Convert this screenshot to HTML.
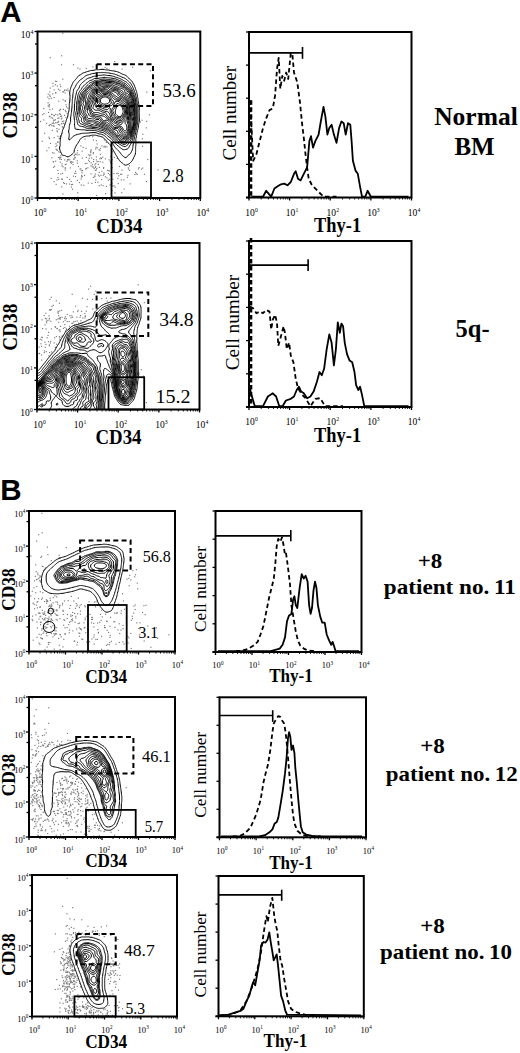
<!DOCTYPE html>
<html><head><meta charset="utf-8"><style>
html,body{margin:0;padding:0;background:#fff;}
body{width:520px;height:1053px;overflow:hidden;}
svg{display:block;}
</style></head><body>
<svg width="520" height="1053" viewBox="0 0 520 1053">
<text x="0.3" y="22.3" font-size="29.5" font-family="Liberation Sans" font-weight="bold" text-anchor="start" fill="#000">A</text>
<text x="0.3" y="500.0" font-size="29.5" font-family="Liberation Sans" font-weight="bold" text-anchor="start" fill="#000">B</text>
<g fill="#777"><rect x="94.7" y="173.4" width="1.15" height="1.15"/><rect x="120.1" y="173.7" width="1.15" height="1.15"/><rect x="67.1" y="159.2" width="1.15" height="1.15"/><rect x="51.7" y="129.8" width="1.15" height="1.15"/><rect x="49.7" y="87.5" width="1.15" height="1.15"/><rect x="85.5" y="147.7" width="1.15" height="1.15"/><rect x="58.2" y="151.2" width="1.15" height="1.15"/><rect x="54.8" y="84.2" width="1.15" height="1.15"/><rect x="52.4" y="85.6" width="1.15" height="1.15"/><rect x="58.4" y="196.6" width="1.15" height="1.15"/><rect x="62.4" y="166.2" width="1.15" height="1.15"/><rect x="57.8" y="120.8" width="1.15" height="1.15"/><rect x="75.2" y="153.7" width="1.15" height="1.15"/><rect x="123.6" y="188.5" width="1.15" height="1.15"/><rect x="123.3" y="179.3" width="1.15" height="1.15"/><rect x="74.9" y="176.1" width="1.15" height="1.15"/><rect x="98.5" y="149.2" width="1.15" height="1.15"/><rect x="100.3" y="157.2" width="1.15" height="1.15"/><rect x="87.3" y="167.3" width="1.15" height="1.15"/><rect x="64.3" y="89.3" width="1.15" height="1.15"/><rect x="88.9" y="161.1" width="1.15" height="1.15"/><rect x="61.7" y="126.2" width="1.15" height="1.15"/><rect x="61.8" y="178.7" width="1.15" height="1.15"/><rect x="67.4" y="90.3" width="1.15" height="1.15"/><rect x="103.1" y="167.1" width="1.15" height="1.15"/><rect x="106.4" y="177.3" width="1.15" height="1.15"/><rect x="53.2" y="119.6" width="1.15" height="1.15"/><rect x="95.2" y="179.3" width="1.15" height="1.15"/><rect x="50.6" y="177.7" width="1.15" height="1.15"/><rect x="85.7" y="67.8" width="1.15" height="1.15"/><rect x="85.2" y="168.5" width="1.15" height="1.15"/><rect x="49.6" y="57.1" width="1.15" height="1.15"/><rect x="116.6" y="157.9" width="1.15" height="1.15"/><rect x="92.6" y="153.2" width="1.15" height="1.15"/><rect x="49.4" y="115.7" width="1.15" height="1.15"/><rect x="58.8" y="138.2" width="1.15" height="1.15"/><rect x="103.6" y="173.7" width="1.15" height="1.15"/><rect x="59.6" y="136.0" width="1.15" height="1.15"/><rect x="43.2" y="108.1" width="1.15" height="1.15"/><rect x="93.5" y="168.0" width="1.15" height="1.15"/><rect x="90.0" y="154.4" width="1.15" height="1.15"/><rect x="117.6" y="172.9" width="1.15" height="1.15"/><rect x="63.1" y="120.5" width="1.15" height="1.15"/><rect x="53.6" y="137.1" width="1.15" height="1.15"/><rect x="135.7" y="173.2" width="1.15" height="1.15"/><rect x="73.7" y="158.4" width="1.15" height="1.15"/><rect x="68.1" y="158.7" width="1.15" height="1.15"/><rect x="40.0" y="120.8" width="1.15" height="1.15"/><rect x="132.1" y="66.7" width="1.15" height="1.15"/><rect x="91.4" y="182.8" width="1.15" height="1.15"/><rect x="47.2" y="96.5" width="1.15" height="1.15"/><rect x="81.7" y="175.8" width="1.15" height="1.15"/><rect x="55.3" y="146.0" width="1.15" height="1.15"/><rect x="102.5" y="185.0" width="1.15" height="1.15"/><rect x="76.9" y="149.9" width="1.15" height="1.15"/><rect x="69.0" y="183.5" width="1.15" height="1.15"/><rect x="93.0" y="161.1" width="1.15" height="1.15"/><rect x="52.8" y="121.6" width="1.15" height="1.15"/><rect x="109.0" y="170.3" width="1.15" height="1.15"/><rect x="69.8" y="167.3" width="1.15" height="1.15"/><rect x="64.5" y="167.5" width="1.15" height="1.15"/><rect x="110.2" y="155.6" width="1.15" height="1.15"/><rect x="60.7" y="118.4" width="1.15" height="1.15"/><rect x="54.0" y="165.6" width="1.15" height="1.15"/><rect x="64.8" y="100.7" width="1.15" height="1.15"/><rect x="127.8" y="167.3" width="1.15" height="1.15"/><rect x="90.4" y="165.2" width="1.15" height="1.15"/><rect x="95.5" y="146.7" width="1.15" height="1.15"/><rect x="113.3" y="173.0" width="1.15" height="1.15"/><rect x="57.2" y="114.4" width="1.15" height="1.15"/><rect x="56.3" y="149.1" width="1.15" height="1.15"/><rect x="107.8" y="172.9" width="1.15" height="1.15"/><rect x="100.0" y="147.7" width="1.15" height="1.15"/><rect x="137.9" y="168.3" width="1.15" height="1.15"/><rect x="72.5" y="163.9" width="1.15" height="1.15"/><rect x="72.0" y="183.8" width="1.15" height="1.15"/><rect x="105.0" y="193.1" width="1.15" height="1.15"/><rect x="157.4" y="169.3" width="1.15" height="1.15"/><rect x="143.9" y="173.7" width="1.15" height="1.15"/><rect x="51.9" y="108.4" width="1.15" height="1.15"/><rect x="128.1" y="168.5" width="1.15" height="1.15"/><rect x="104.8" y="176.2" width="1.15" height="1.15"/><rect x="99.4" y="149.9" width="1.15" height="1.15"/><rect x="71.1" y="161.2" width="1.15" height="1.15"/><rect x="51.3" y="157.2" width="1.15" height="1.15"/><rect x="105.9" y="185.8" width="1.15" height="1.15"/><rect x="48.4" y="136.7" width="1.15" height="1.15"/><rect x="110.9" y="149.8" width="1.15" height="1.15"/><rect x="61.1" y="55.2" width="1.15" height="1.15"/><rect x="92.9" y="152.0" width="1.15" height="1.15"/><rect x="61.4" y="165.3" width="1.15" height="1.15"/><rect x="117.7" y="183.0" width="1.15" height="1.15"/><rect x="94.8" y="181.8" width="1.15" height="1.15"/><rect x="84.5" y="138.5" width="1.15" height="1.15"/><rect x="121.2" y="192.1" width="1.15" height="1.15"/><rect x="60.0" y="113.8" width="1.15" height="1.15"/><rect x="102.8" y="174.7" width="1.15" height="1.15"/><rect x="59.5" y="109.2" width="1.15" height="1.15"/><rect x="90.4" y="150.3" width="1.15" height="1.15"/><rect x="47.7" y="93.7" width="1.15" height="1.15"/><rect x="57.3" y="176.9" width="1.15" height="1.15"/><rect x="81.1" y="174.9" width="1.15" height="1.15"/><rect x="48.7" y="106.3" width="1.15" height="1.15"/><rect x="88.0" y="159.7" width="1.15" height="1.15"/><rect x="48.8" y="124.6" width="1.15" height="1.15"/><rect x="91.1" y="157.4" width="1.15" height="1.15"/><rect x="70.3" y="161.2" width="1.15" height="1.15"/><rect x="58.2" y="100.6" width="1.15" height="1.15"/><rect x="126.9" y="176.7" width="1.15" height="1.15"/><rect x="56.3" y="128.0" width="1.15" height="1.15"/><rect x="76.4" y="154.3" width="1.15" height="1.15"/><rect x="57.9" y="88.7" width="1.15" height="1.15"/><rect x="114.1" y="61.0" width="1.15" height="1.15"/><rect x="63.9" y="114.8" width="1.15" height="1.15"/><rect x="57.5" y="141.6" width="1.15" height="1.15"/><rect x="87.7" y="182.5" width="1.15" height="1.15"/><rect x="101.1" y="179.0" width="1.15" height="1.15"/><rect x="60.2" y="157.2" width="1.15" height="1.15"/><rect x="89.0" y="155.2" width="1.15" height="1.15"/><rect x="92.8" y="166.4" width="1.15" height="1.15"/><rect x="66.6" y="176.8" width="1.15" height="1.15"/><rect x="95.8" y="140.2" width="1.15" height="1.15"/><rect x="75.3" y="172.9" width="1.15" height="1.15"/><rect x="56.7" y="149.9" width="1.15" height="1.15"/><rect x="84.7" y="163.0" width="1.15" height="1.15"/><rect x="82.0" y="170.0" width="1.15" height="1.15"/><rect x="99.3" y="158.2" width="1.15" height="1.15"/><rect x="111.4" y="167.3" width="1.15" height="1.15"/><rect x="85.8" y="167.8" width="1.15" height="1.15"/><rect x="104.8" y="63.6" width="1.15" height="1.15"/><rect x="54.8" y="80.7" width="1.15" height="1.15"/><rect x="50.6" y="117.3" width="1.15" height="1.15"/><rect x="48.8" y="116.1" width="1.15" height="1.15"/><rect x="56.8" y="85.5" width="1.15" height="1.15"/><rect x="52.0" y="117.7" width="1.15" height="1.15"/><rect x="61.5" y="163.3" width="1.15" height="1.15"/><rect x="58.0" y="178.8" width="1.15" height="1.15"/><rect x="55.4" y="143.2" width="1.15" height="1.15"/><rect x="104.4" y="145.7" width="1.15" height="1.15"/><rect x="112.1" y="151.3" width="1.15" height="1.15"/><rect x="111.5" y="167.0" width="1.15" height="1.15"/><rect x="81.5" y="172.3" width="1.15" height="1.15"/><rect x="70.9" y="184.1" width="1.15" height="1.15"/><rect x="82.6" y="146.9" width="1.15" height="1.15"/><rect x="79.5" y="168.5" width="1.15" height="1.15"/><rect x="57.0" y="141.5" width="1.15" height="1.15"/><rect x="109.2" y="174.2" width="1.15" height="1.15"/><rect x="53.6" y="119.7" width="1.15" height="1.15"/><rect x="117.3" y="177.8" width="1.15" height="1.15"/><rect x="59.1" y="158.5" width="1.15" height="1.15"/><rect x="64.7" y="169.5" width="1.15" height="1.15"/><rect x="76.7" y="160.2" width="1.15" height="1.15"/><rect x="57.3" y="135.7" width="1.15" height="1.15"/><rect x="110.9" y="157.3" width="1.15" height="1.15"/><rect x="60.1" y="86.1" width="1.15" height="1.15"/><rect x="52.4" y="82.8" width="1.15" height="1.15"/><rect x="108.5" y="159.3" width="1.15" height="1.15"/><rect x="102.2" y="156.5" width="1.15" height="1.15"/><rect x="118.3" y="175.2" width="1.15" height="1.15"/><rect x="79.4" y="68.5" width="1.15" height="1.15"/><rect x="97.6" y="160.9" width="1.15" height="1.15"/><rect x="81.8" y="157.5" width="1.15" height="1.15"/><rect x="111.1" y="163.2" width="1.15" height="1.15"/><rect x="95.8" y="169.4" width="1.15" height="1.15"/><rect x="69.1" y="159.3" width="1.15" height="1.15"/><rect x="72.2" y="161.7" width="1.15" height="1.15"/><rect x="91.9" y="164.2" width="1.15" height="1.15"/><rect x="63.2" y="122.6" width="1.15" height="1.15"/><rect x="66.3" y="160.8" width="1.15" height="1.15"/><rect x="53.0" y="166.8" width="1.15" height="1.15"/><rect x="59.8" y="113.9" width="1.15" height="1.15"/><rect x="114.4" y="192.3" width="1.15" height="1.15"/><rect x="75.0" y="170.7" width="1.15" height="1.15"/><rect x="113.5" y="185.3" width="1.15" height="1.15"/><rect x="56.8" y="131.2" width="1.15" height="1.15"/><rect x="99.9" y="153.7" width="1.15" height="1.15"/><rect x="52.7" y="125.3" width="1.15" height="1.15"/><rect x="59.6" y="84.2" width="1.15" height="1.15"/><rect x="77.3" y="67.6" width="1.15" height="1.15"/><rect x="55.1" y="122.2" width="1.15" height="1.15"/><rect x="92.8" y="176.8" width="1.15" height="1.15"/><rect x="58.8" y="110.1" width="1.15" height="1.15"/><rect x="103.0" y="167.7" width="1.15" height="1.15"/><rect x="51.7" y="122.8" width="1.15" height="1.15"/><rect x="62.8" y="91.3" width="1.15" height="1.15"/><rect x="148.8" y="114.2" width="1.15" height="1.15"/><rect x="94.7" y="167.0" width="1.15" height="1.15"/><rect x="100.9" y="158.0" width="1.15" height="1.15"/><rect x="109.8" y="160.7" width="1.15" height="1.15"/><rect x="73.8" y="154.9" width="1.15" height="1.15"/><rect x="62.3" y="127.2" width="1.15" height="1.15"/><rect x="59.4" y="157.4" width="1.15" height="1.15"/><rect x="78.9" y="182.0" width="1.15" height="1.15"/><rect x="61.0" y="115.6" width="1.15" height="1.15"/><rect x="121.4" y="169.6" width="1.15" height="1.15"/><rect x="62.6" y="123.0" width="1.15" height="1.15"/><rect x="53.3" y="114.7" width="1.15" height="1.15"/><rect x="49.0" y="138.0" width="1.15" height="1.15"/><rect x="48.5" y="98.2" width="1.15" height="1.15"/><rect x="129.6" y="183.3" width="1.15" height="1.15"/><rect x="80.3" y="145.4" width="1.15" height="1.15"/><rect x="48.0" y="111.9" width="1.15" height="1.15"/><rect x="62.2" y="32.7" width="1.15" height="1.15"/><rect x="59.3" y="89.7" width="1.15" height="1.15"/><rect x="57.3" y="117.8" width="1.15" height="1.15"/><rect x="52.0" y="152.2" width="1.15" height="1.15"/><rect x="65.6" y="163.6" width="1.15" height="1.15"/><rect x="111.4" y="190.1" width="1.15" height="1.15"/><rect x="108.8" y="178.7" width="1.15" height="1.15"/><rect x="139.9" y="121.4" width="1.15" height="1.15"/><rect x="64.7" y="164.0" width="1.15" height="1.15"/><rect x="63.0" y="182.1" width="1.15" height="1.15"/><rect x="62.6" y="99.2" width="1.15" height="1.15"/><rect x="94.2" y="176.2" width="1.15" height="1.15"/><rect x="90.5" y="149.2" width="1.15" height="1.15"/><rect x="135.0" y="171.8" width="1.15" height="1.15"/><rect x="58.7" y="137.7" width="1.15" height="1.15"/><rect x="94.3" y="164.3" width="1.15" height="1.15"/><rect x="73.1" y="158.6" width="1.15" height="1.15"/><rect x="64.6" y="99.9" width="1.15" height="1.15"/><rect x="101.2" y="170.7" width="1.15" height="1.15"/><rect x="100.4" y="174.8" width="1.15" height="1.15"/><rect x="85.8" y="156.8" width="1.15" height="1.15"/><rect x="95.1" y="148.4" width="1.15" height="1.15"/><rect x="109.6" y="184.2" width="1.15" height="1.15"/><rect x="48.4" y="147.2" width="1.15" height="1.15"/><rect x="61.1" y="178.5" width="1.15" height="1.15"/><rect x="59.7" y="151.8" width="1.15" height="1.15"/><rect x="106.3" y="146.3" width="1.15" height="1.15"/><rect x="56.3" y="144.8" width="1.15" height="1.15"/><rect x="53.6" y="89.4" width="1.15" height="1.15"/><rect x="145.7" y="127.3" width="1.15" height="1.15"/><rect x="141.5" y="119.7" width="1.15" height="1.15"/><rect x="63.9" y="90.1" width="1.15" height="1.15"/><rect x="55.1" y="160.7" width="1.15" height="1.15"/><rect x="88.2" y="154.2" width="1.15" height="1.15"/><rect x="149.8" y="70.2" width="1.15" height="1.15"/><rect x="49.3" y="109.1" width="1.15" height="1.15"/><rect x="97.3" y="181.6" width="1.15" height="1.15"/><rect x="47.6" y="105.4" width="1.15" height="1.15"/><rect x="103.3" y="146.3" width="1.15" height="1.15"/><rect x="98.7" y="185.0" width="1.15" height="1.15"/><rect x="47.5" y="102.2" width="1.15" height="1.15"/><rect x="90.0" y="151.2" width="1.15" height="1.15"/><rect x="60.3" y="173.4" width="1.15" height="1.15"/><rect x="106.2" y="67.8" width="1.15" height="1.15"/><rect x="146.2" y="91.6" width="1.15" height="1.15"/><rect x="111.4" y="182.6" width="1.15" height="1.15"/><rect x="64.9" y="167.4" width="1.15" height="1.15"/><rect x="48.6" y="125.0" width="1.15" height="1.15"/><rect x="57.8" y="156.9" width="1.15" height="1.15"/><rect x="46.0" y="122.9" width="1.15" height="1.15"/><rect x="56.4" y="179.4" width="1.15" height="1.15"/><rect x="83.2" y="184.7" width="1.15" height="1.15"/><rect x="64.6" y="92.4" width="1.15" height="1.15"/><rect x="64.2" y="159.3" width="1.15" height="1.15"/><rect x="58.8" y="113.2" width="1.15" height="1.15"/><rect x="81.6" y="150.6" width="1.15" height="1.15"/><rect x="107.6" y="170.1" width="1.15" height="1.15"/><rect x="140.9" y="168.6" width="1.15" height="1.15"/><rect x="51.3" y="113.9" width="1.15" height="1.15"/><rect x="92.9" y="139.4" width="1.15" height="1.15"/><rect x="90.2" y="152.2" width="1.15" height="1.15"/><rect x="55.5" y="148.6" width="1.15" height="1.15"/><rect x="138.5" y="167.0" width="1.15" height="1.15"/><rect x="103.3" y="172.4" width="1.15" height="1.15"/><rect x="41.6" y="140.7" width="1.15" height="1.15"/><rect x="78.4" y="154.1" width="1.15" height="1.15"/><rect x="62.2" y="91.3" width="1.15" height="1.15"/><rect x="142.0" y="145.7" width="1.15" height="1.15"/><rect x="100.7" y="184.4" width="1.15" height="1.15"/><rect x="104.8" y="158.2" width="1.15" height="1.15"/><rect x="99.6" y="161.1" width="1.15" height="1.15"/><rect x="97.8" y="163.8" width="1.15" height="1.15"/><rect x="102.2" y="161.6" width="1.15" height="1.15"/><rect x="90.4" y="173.4" width="1.15" height="1.15"/><rect x="59.1" y="124.5" width="1.15" height="1.15"/><rect x="92.2" y="136.2" width="1.15" height="1.15"/><rect x="69.0" y="178.9" width="1.15" height="1.15"/><rect x="88.7" y="157.7" width="1.15" height="1.15"/><rect x="61.1" y="186.3" width="1.15" height="1.15"/><rect x="65.9" y="106.2" width="1.15" height="1.15"/><rect x="62.0" y="172.8" width="1.15" height="1.15"/><rect x="59.2" y="156.7" width="1.15" height="1.15"/><rect x="74.2" y="156.5" width="1.15" height="1.15"/><rect x="80.6" y="178.5" width="1.15" height="1.15"/><rect x="48.5" y="104.9" width="1.15" height="1.15"/><rect x="60.7" y="158.9" width="1.15" height="1.15"/><rect x="53.3" y="123.0" width="1.15" height="1.15"/><rect x="105.7" y="141.7" width="1.15" height="1.15"/><rect x="136.6" y="173.8" width="1.15" height="1.15"/><rect x="46.3" y="150.2" width="1.15" height="1.15"/><rect x="74.2" y="172.8" width="1.15" height="1.15"/><rect x="92.4" y="66.3" width="1.15" height="1.15"/><rect x="77.3" y="196.6" width="1.15" height="1.15"/><rect x="112.0" y="185.3" width="1.15" height="1.15"/><rect x="98.8" y="166.8" width="1.15" height="1.15"/><rect x="53.7" y="115.1" width="1.15" height="1.15"/><rect x="95.0" y="166.2" width="1.15" height="1.15"/><rect x="55.2" y="113.8" width="1.15" height="1.15"/><rect x="104.7" y="146.4" width="1.15" height="1.15"/><rect x="62.2" y="78.6" width="1.15" height="1.15"/><rect x="55.2" y="92.3" width="1.15" height="1.15"/><rect x="62.8" y="108.8" width="1.15" height="1.15"/><rect x="66.5" y="112.6" width="1.15" height="1.15"/><rect x="94.3" y="175.3" width="1.15" height="1.15"/><rect x="57.6" y="121.8" width="1.15" height="1.15"/><rect x="127.4" y="174.7" width="1.15" height="1.15"/><rect x="60.9" y="64.2" width="1.15" height="1.15"/><rect x="67.2" y="88.5" width="1.15" height="1.15"/><rect x="65.9" y="89.7" width="1.15" height="1.15"/><rect x="65.9" y="183.3" width="1.15" height="1.15"/><rect x="134.3" y="174.0" width="1.15" height="1.15"/><rect x="104.5" y="66.9" width="1.15" height="1.15"/><rect x="63.8" y="182.9" width="1.15" height="1.15"/><rect x="43.3" y="119.4" width="1.15" height="1.15"/><rect x="53.7" y="125.6" width="1.15" height="1.15"/><rect x="86.4" y="162.8" width="1.15" height="1.15"/><rect x="59.9" y="115.8" width="1.15" height="1.15"/><rect x="72.0" y="188.7" width="1.15" height="1.15"/><rect x="101.4" y="145.3" width="1.15" height="1.15"/><rect x="59.7" y="161.7" width="1.15" height="1.15"/><rect x="69.9" y="161.7" width="1.15" height="1.15"/><rect x="58.4" y="128.7" width="1.15" height="1.15"/><rect x="57.3" y="169.8" width="1.15" height="1.15"/><rect x="62.4" y="193.5" width="1.15" height="1.15"/><rect x="95.2" y="163.0" width="1.15" height="1.15"/><rect x="49.7" y="95.8" width="1.15" height="1.15"/><rect x="121.2" y="173.7" width="1.15" height="1.15"/><rect x="91.6" y="166.4" width="1.15" height="1.15"/><rect x="74.7" y="157.2" width="1.15" height="1.15"/><rect x="77.9" y="166.0" width="1.15" height="1.15"/><rect x="51.3" y="125.0" width="1.15" height="1.15"/><rect x="60.9" y="133.2" width="1.15" height="1.15"/><rect x="55.0" y="92.2" width="1.15" height="1.15"/><rect x="110.3" y="162.2" width="1.15" height="1.15"/><rect x="43.4" y="113.0" width="1.15" height="1.15"/><rect x="60.9" y="123.2" width="1.15" height="1.15"/><rect x="76.8" y="179.8" width="1.15" height="1.15"/><rect x="110.3" y="162.5" width="1.15" height="1.15"/><rect x="56.6" y="122.1" width="1.15" height="1.15"/><rect x="96.2" y="167.8" width="1.15" height="1.15"/><rect x="96.1" y="194.9" width="1.15" height="1.15"/><rect x="120.8" y="179.4" width="1.15" height="1.15"/><rect x="116.2" y="172.9" width="1.15" height="1.15"/><rect x="103.8" y="139.4" width="1.15" height="1.15"/><rect x="76.8" y="162.6" width="1.15" height="1.15"/><rect x="90.6" y="162.4" width="1.15" height="1.15"/><rect x="53.5" y="97.0" width="1.15" height="1.15"/><rect x="142.1" y="167.5" width="1.15" height="1.15"/><rect x="111.9" y="159.2" width="1.15" height="1.15"/><rect x="147.2" y="159.0" width="1.15" height="1.15"/><rect x="80.7" y="170.2" width="1.15" height="1.15"/><rect x="49.2" y="94.6" width="1.15" height="1.15"/><rect x="65.4" y="116.9" width="1.15" height="1.15"/><rect x="77.2" y="192.1" width="1.15" height="1.15"/><rect x="44.1" y="132.7" width="1.15" height="1.15"/><rect x="50.1" y="123.9" width="1.15" height="1.15"/><rect x="52.2" y="93.2" width="1.15" height="1.15"/><rect x="60.1" y="135.0" width="1.15" height="1.15"/><rect x="52.9" y="161.3" width="1.15" height="1.15"/><rect x="56.1" y="80.9" width="1.15" height="1.15"/><rect x="56.4" y="130.2" width="1.15" height="1.15"/><rect x="57.9" y="124.0" width="1.15" height="1.15"/><rect x="60.0" y="108.7" width="1.15" height="1.15"/><rect x="57.7" y="173.0" width="1.15" height="1.15"/><rect x="114.6" y="186.6" width="1.15" height="1.15"/><rect x="145.9" y="181.0" width="1.15" height="1.15"/><rect x="74.7" y="153.7" width="1.15" height="1.15"/><rect x="49.2" y="91.4" width="1.15" height="1.15"/><rect x="49.9" y="142.8" width="1.15" height="1.15"/><rect x="67.2" y="159.4" width="1.15" height="1.15"/><rect x="96.6" y="147.3" width="1.15" height="1.15"/><rect x="106.9" y="169.6" width="1.15" height="1.15"/><rect x="129.0" y="169.9" width="1.15" height="1.15"/><rect x="107.7" y="179.7" width="1.15" height="1.15"/><rect x="95.8" y="156.3" width="1.15" height="1.15"/><rect x="61.7" y="120.9" width="1.15" height="1.15"/><rect x="70.6" y="180.9" width="1.15" height="1.15"/><rect x="112.3" y="178.6" width="1.15" height="1.15"/><rect x="65.4" y="104.2" width="1.15" height="1.15"/><rect x="58.4" y="117.3" width="1.15" height="1.15"/><rect x="118.9" y="165.9" width="1.15" height="1.15"/><rect x="84.0" y="174.8" width="1.15" height="1.15"/><rect x="70.8" y="186.5" width="1.15" height="1.15"/><rect x="121.5" y="68.5" width="1.15" height="1.15"/><rect x="42.1" y="114.1" width="1.15" height="1.15"/><rect x="53.5" y="152.5" width="1.15" height="1.15"/><rect x="52.7" y="161.1" width="1.15" height="1.15"/><rect x="98.6" y="171.8" width="1.15" height="1.15"/><rect x="96.5" y="161.2" width="1.15" height="1.15"/><rect x="93.0" y="159.0" width="1.15" height="1.15"/><rect x="146.1" y="120.8" width="1.15" height="1.15"/><rect x="128.9" y="165.3" width="1.15" height="1.15"/><rect x="70.7" y="162.7" width="1.15" height="1.15"/><rect x="80.7" y="184.4" width="1.15" height="1.15"/><rect x="51.2" y="113.8" width="1.15" height="1.15"/><rect x="48.8" y="103.8" width="1.15" height="1.15"/><rect x="96.5" y="143.4" width="1.15" height="1.15"/><rect x="141.8" y="138.2" width="1.15" height="1.15"/><rect x="60.3" y="155.3" width="1.15" height="1.15"/><rect x="65.3" y="111.0" width="1.15" height="1.15"/><rect x="80.3" y="168.3" width="1.15" height="1.15"/><rect x="97.9" y="174.5" width="1.15" height="1.15"/><rect x="72.9" y="64.1" width="1.15" height="1.15"/><rect x="53.5" y="181.1" width="1.15" height="1.15"/><rect x="50.8" y="97.7" width="1.15" height="1.15"/><rect x="142.3" y="133.6" width="1.15" height="1.15"/><rect x="113.7" y="156.8" width="1.15" height="1.15"/><rect x="76.7" y="152.3" width="1.15" height="1.15"/><rect x="61.3" y="117.5" width="1.15" height="1.15"/><rect x="94.8" y="169.8" width="1.15" height="1.15"/><rect x="98.7" y="175.6" width="1.15" height="1.15"/><rect x="54.8" y="119.2" width="1.15" height="1.15"/><rect x="64.8" y="109.8" width="1.15" height="1.15"/><rect x="95.8" y="159.3" width="1.15" height="1.15"/><rect x="67.2" y="107.5" width="1.15" height="1.15"/><rect x="55.6" y="183.8" width="1.15" height="1.15"/><rect x="80.8" y="176.5" width="1.15" height="1.15"/><rect x="72.9" y="175.6" width="1.15" height="1.15"/></g>
<path d="M126.5,165.0 125.5,165.2 124.8,165.0 124.0,164.5 123.5,164.0 123.0,163.6 122.5,163.2 122.0,162.9 121.4,162.5 120.7,162.0 120.3,161.5 119.9,161.0 119.5,160.4 119.0,159.8 118.5,159.1 118.1,158.5 117.8,158.0 117.5,157.5 117.0,156.6 116.6,156.0 116.3,155.5 115.9,155.0 115.5,154.3 115.1,153.5 114.9,153.0 114.5,152.3 114.0,151.5 113.7,151.0 113.5,150.5 113.0,149.7 112.5,149.0 112.2,148.5 111.8,148.0 111.5,147.5 111.0,146.5 110.8,146.0 110.5,145.5 110.0,144.6 109.5,144.0 109.0,143.5 108.5,143.1 108.0,142.7 107.5,142.3 107.0,141.7 106.5,141.1 106.0,140.5 105.6,140.0 105.2,139.5 104.7,139.0 104.2,138.5 103.7,138.0 103.0,137.5 102.5,137.2 102.0,137.0 101.0,136.6 100.5,136.5 99.5,136.2 98.5,136.0 98.0,135.9 97.0,135.6 96.5,135.4 95.5,135.2 94.5,135.1 93.5,135.2 92.5,135.2 91.5,135.3 91.0,135.5 90.0,135.8 89.0,136.0 88.5,136.0 87.5,136.0 86.5,136.1 85.5,136.3 84.8,136.5 84.0,136.7 83.2,137.0 82.5,137.3 82.0,137.6 81.4,138.0 80.9,138.5 80.4,139.0 80.0,139.6 79.5,140.5 79.2,141.0 78.9,141.5 78.5,142.2 78.0,143.0 77.7,143.5 77.3,144.0 76.9,144.5 76.5,145.1 76.0,146.0 75.8,146.5 75.5,147.2 75.1,148.0 74.9,148.5 74.5,149.3 74.3,150.0 74.2,151.0 74.1,152.0 73.9,152.5 73.5,153.0 73.0,153.5 72.4,154.0 71.9,154.5 71.3,155.0 70.7,155.5 70.0,155.9 69.5,156.2 68.8,156.5 68.0,156.8 67.0,156.7 66.5,156.5 65.7,156.0 65.0,155.6 64.5,155.5 63.5,155.4 62.5,155.2 62.0,154.8 61.6,154.0 61.4,153.5 61.0,152.5 60.8,152.0 60.5,151.4 60.1,150.5 59.9,150.0 59.7,149.0 59.5,148.0 59.7,147.0 60.0,146.0 60.2,145.5 60.2,144.5 60.1,143.5 60.1,142.5 60.2,141.5 60.3,140.5 60.4,139.5 60.5,139.0 60.6,138.0 60.8,137.0 61.0,136.0 61.2,135.5 61.5,134.7 61.8,134.0 62.0,133.5 62.2,132.5 62.3,131.5 62.5,130.6 62.7,130.0 63.0,129.3 63.4,128.5 63.7,128.0 64.0,127.2 64.2,126.5 64.5,125.6 64.7,125.0 65.0,124.0 65.2,123.5 65.5,122.7 65.8,122.0 66.0,121.5 66.2,120.5 66.5,119.5 66.7,119.0 67.0,118.4 67.4,117.5 67.6,117.0 67.8,116.0 68.0,115.0 68.0,114.5 68.2,113.5 68.5,112.5 68.6,112.0 68.9,111.0 69.0,110.3 69.1,109.5 69.2,108.5 69.3,107.5 69.3,106.5 69.3,105.5 69.3,104.5 69.4,103.5 69.5,103.0 69.7,102.0 69.8,101.0 69.9,100.0 69.9,99.0 70.0,98.0 70.0,97.5 70.0,96.5 70.0,96.0 69.9,95.0 69.8,94.0 69.7,93.0 69.8,92.0 69.9,91.0 70.0,90.5 70.3,89.5 70.5,88.7 70.7,88.0 71.0,87.1 71.2,86.5 71.5,85.9 71.9,85.0 72.1,84.5 72.5,83.6 72.8,83.0 73.0,82.5 73.5,81.7 74.0,81.2 74.5,80.7 75.0,80.1 75.5,79.5 76.0,79.0 76.4,78.5 76.8,78.0 77.2,77.5 77.6,77.0 78.0,76.4 78.5,75.8 79.0,75.5 80.0,75.0 80.5,74.7 81.0,74.4 81.5,74.0 82.2,73.5 83.0,73.0 83.5,72.8 84.5,72.5 85.0,72.4 86.0,72.0 86.5,71.8 87.5,71.5 88.0,71.4 89.0,71.1 89.5,70.9 90.5,70.6 91.2,70.5 92.0,70.4 93.0,70.4 94.0,70.2 94.8,70.0 95.5,69.8 96.5,69.7 97.5,69.7 98.5,69.7 99.5,69.6 100.1,69.5 101.0,69.4 102.0,69.3 103.0,69.3 104.0,69.5 104.5,69.6 105.5,69.8 106.5,69.9 107.5,70.0 108.1,70.0 109.0,70.1 110.0,70.3 110.7,70.5 111.5,70.7 112.5,70.8 113.5,70.9 114.0,71.0 115.0,71.2 116.0,71.4 116.5,71.5 117.5,71.8 118.0,72.0 119.0,72.4 119.5,72.6 120.3,73.0 121.0,73.5 121.5,73.7 122.1,74.0 123.0,74.3 123.6,74.5 124.5,74.8 125.0,75.0 125.9,75.5 126.5,75.9 127.0,76.3 127.5,76.8 128.0,77.4 128.5,78.0 128.9,78.5 129.4,79.0 130.0,79.5 130.5,79.9 131.0,80.3 131.5,80.7 132.0,81.3 132.4,82.0 132.7,82.5 133.0,83.1 133.5,84.0 133.8,84.5 134.1,85.0 134.5,86.0 134.7,86.5 135.0,87.2 135.3,88.0 135.5,88.6 135.8,89.5 136.0,90.3 136.3,91.0 136.5,91.7 136.8,92.5 137.0,93.5 137.0,94.0 137.2,95.0 137.4,96.0 137.5,96.5 137.7,97.5 137.9,98.5 138.0,99.5 138.0,100.3 138.1,101.0 138.3,102.0 138.5,103.0 138.6,103.5 138.8,104.5 139.0,105.4 139.1,106.0 139.2,107.0 139.3,108.0 139.3,109.0 139.2,110.0 139.1,111.0 139.1,112.0 139.1,113.0 139.2,114.0 139.2,115.0 139.2,116.0 139.2,117.0 139.3,118.0 139.4,119.0 139.4,120.0 139.3,121.0 139.1,122.0 139.0,122.5 138.8,123.5 138.6,124.5 138.5,125.4 138.4,126.0 138.3,127.0 138.1,128.0 138.0,128.6 137.8,129.5 137.5,130.5 137.4,131.0 137.1,132.0 137.0,132.5 136.8,133.5 136.7,134.5 136.6,135.5 136.5,136.2 136.3,137.0 136.0,138.0 135.9,138.5 135.8,139.5 135.8,140.5 135.9,141.5 136.0,142.5 135.9,143.5 135.9,144.5 135.8,145.5 135.7,146.5 135.6,147.5 135.6,148.5 135.6,149.5 135.6,150.5 135.6,151.5 135.5,152.5 135.5,153.0 135.3,154.0 135.0,154.9 134.7,155.5 134.5,156.0 134.0,156.9 133.7,157.5 133.5,158.0 133.1,159.0 132.8,159.5 132.5,160.2 132.0,160.9 131.5,161.5 131.0,162.0 130.6,162.5 130.1,163.0 129.6,163.5 129.0,163.9 128.5,164.2 127.8,164.5 127.0,164.8 126.5,165.0Z M126.0,157.7 125.0,157.7 124.5,157.3 124.0,156.9 123.5,156.4 123.0,156.0 122.3,155.5 121.8,155.0 121.4,154.5 121.0,153.9 120.5,153.2 120.0,152.5 119.6,152.0 119.1,151.5 118.7,151.0 118.2,150.5 117.7,150.0 117.2,149.5 116.6,149.0 116.1,148.5 115.7,148.0 115.2,147.5 114.9,147.0 114.5,146.5 114.0,145.8 113.5,145.0 113.2,144.5 113.0,144.0 112.5,143.3 112.0,142.5 111.6,142.0 111.1,141.5 110.5,141.0 110.0,140.6 109.5,140.3 109.0,139.9 108.5,139.5 107.8,139.0 107.2,138.5 106.7,138.0 106.3,137.5 105.8,137.0 105.4,136.5 104.9,136.0 104.3,135.5 103.5,135.1 103.0,134.8 102.1,134.5 101.5,134.3 100.5,134.1 99.6,134.0 99.0,133.9 98.0,133.5 97.5,133.3 96.9,133.0 96.0,132.7 95.0,132.6 94.0,132.6 93.0,132.6 92.0,132.7 91.0,132.7 90.0,132.8 89.0,133.0 88.3,133.0 87.5,133.1 86.5,133.1 85.5,133.2 84.5,133.2 83.5,133.2 82.5,133.3 81.5,133.4 81.0,133.6 80.0,133.9 79.4,134.0 78.5,134.2 77.5,134.4 77.0,134.5 76.0,134.9 75.5,135.1 74.7,135.5 74.0,135.9 73.5,136.1 72.9,136.5 72.5,137.0 72.0,137.6 71.5,138.1 71.0,138.6 70.5,139.1 70.0,139.7 69.0,139.8 68.7,139.0 68.9,138.0 69.0,137.2 69.1,136.5 69.2,135.5 69.2,134.5 69.1,133.5 68.9,133.0 68.7,132.0 68.6,131.0 68.9,130.0 69.0,129.5 69.2,128.5 69.2,127.5 69.3,126.5 69.4,125.5 69.5,125.0 69.8,124.0 70.0,123.5 70.3,122.5 70.5,121.8 70.6,121.0 70.6,120.0 70.6,119.0 70.6,118.0 70.7,117.0 70.9,116.0 71.0,115.4 71.1,114.5 71.3,113.5 71.4,112.5 71.5,111.9 71.6,111.0 71.7,110.0 71.8,109.0 71.9,108.0 72.0,107.0 72.0,106.0 72.0,105.5 72.1,104.5 72.2,103.5 72.3,102.5 72.3,101.5 72.3,100.5 72.3,99.5 72.5,98.6 72.6,98.0 72.8,97.0 72.8,96.0 72.9,95.0 72.9,94.0 73.0,93.5 73.2,92.5 73.4,91.5 73.4,90.5 73.5,90.0 73.9,89.0 74.2,88.5 74.5,88.0 75.0,87.3 75.4,86.5 75.6,86.0 76.0,85.2 76.4,84.5 76.7,84.0 77.1,83.5 77.6,83.0 78.0,82.4 78.5,81.7 79.0,81.1 79.5,80.5 80.0,80.1 80.5,79.7 81.0,79.3 81.6,79.0 82.4,78.5 83.0,78.1 83.5,77.7 84.0,77.2 84.5,76.7 85.0,76.3 85.5,75.9 86.3,75.5 87.0,75.2 87.5,75.0 88.5,74.8 89.5,74.5 90.0,74.4 91.0,74.0 91.5,73.8 92.5,73.5 93.0,73.5 94.0,73.4 95.0,73.2 95.6,73.0 96.5,72.8 97.5,72.6 98.5,72.6 99.5,72.6 100.5,72.6 101.5,72.6 102.5,72.6 103.5,72.5 104.5,72.6 105.5,72.7 106.5,72.8 107.5,72.9 108.5,72.9 109.0,73.0 110.0,73.2 111.0,73.4 111.5,73.5 112.5,73.6 113.5,73.8 114.3,74.0 115.0,74.3 115.6,74.5 116.5,74.8 117.0,75.0 118.0,75.4 118.5,75.6 119.5,76.0 120.0,76.2 120.7,76.5 121.5,76.9 122.0,77.1 123.0,77.5 123.5,77.7 124.3,78.0 125.0,78.4 125.5,78.7 126.0,79.1 126.5,79.5 127.1,80.0 127.7,80.5 128.3,81.0 128.9,81.5 129.5,82.0 130.0,82.5 130.4,83.0 130.7,83.5 131.0,84.0 131.5,84.8 131.9,85.5 132.2,86.0 132.5,86.6 132.9,87.5 133.2,88.0 133.5,88.8 133.8,89.5 134.0,90.1 134.3,91.0 134.5,91.5 134.9,92.5 135.0,93.0 135.3,94.0 135.5,94.9 135.7,95.5 136.0,96.5 136.1,97.0 136.4,98.0 136.5,98.6 136.6,99.5 136.7,100.5 136.8,101.5 137.0,102.5 137.1,103.0 137.2,104.0 137.5,105.0 137.6,105.5 137.7,106.5 137.8,107.5 137.9,108.5 137.9,109.5 137.8,110.5 137.8,111.5 137.7,112.5 137.8,113.5 137.8,114.5 137.9,115.5 137.9,116.5 137.9,117.5 138.0,118.5 138.0,119.3 138.0,119.9 138.0,120.5 137.8,121.5 137.6,122.5 137.5,123.0 137.3,124.0 137.2,125.0 137.0,126.0 136.9,126.5 136.7,127.5 136.5,128.5 136.4,129.0 136.2,130.0 136.0,130.7 135.8,131.5 135.6,132.5 135.5,133.0 135.3,134.0 135.1,135.0 135.0,135.5 134.7,136.5 134.5,137.2 134.3,138.0 134.1,139.0 134.0,140.0 134.0,140.5 133.8,141.5 133.7,142.5 133.5,143.3 133.3,144.0 133.1,145.0 133.0,146.0 132.9,146.5 132.8,147.5 132.6,148.5 132.5,149.1 132.2,150.0 132.0,150.6 131.5,151.5 131.3,152.0 131.0,152.5 130.5,153.4 130.0,154.0 129.5,154.4 129.0,154.7 128.5,155.0 127.9,155.5 127.5,156.0 127.0,156.7 126.5,157.3 126.0,157.7Z M125.5,149.5 124.5,149.7 123.5,149.7 122.9,149.5 122.0,149.0 121.5,148.6 121.0,148.2 120.5,147.9 120.0,147.5 119.4,147.0 118.8,146.5 118.2,146.0 117.5,145.5 117.0,145.1 116.5,144.6 116.0,144.1 115.5,143.6 115.0,143.0 114.6,142.5 114.1,142.0 113.6,141.5 113.2,141.0 112.7,140.5 112.3,140.0 111.9,139.5 111.5,139.0 111.0,138.4 110.5,138.0 109.9,137.5 109.0,137.0 108.5,136.7 108.0,136.3 107.5,135.8 107.0,135.4 106.5,134.9 106.0,134.4 105.5,134.0 104.8,133.5 104.0,133.0 103.5,132.7 102.9,132.5 102.0,132.3 101.0,132.1 100.0,132.0 99.5,131.9 98.5,131.5 98.0,131.3 97.2,131.0 96.5,130.8 95.5,130.6 94.5,130.6 93.7,130.5 93.0,130.4 92.0,130.3 91.0,130.2 90.0,130.2 89.0,130.2 88.0,130.3 87.0,130.3 86.0,130.2 85.1,130.0 84.5,129.9 83.5,129.8 82.5,129.8 81.5,129.8 80.5,129.7 79.5,129.6 79.0,129.5 78.0,129.4 77.0,129.3 76.0,129.2 75.4,129.0 75.0,128.4 74.9,127.5 74.7,126.5 74.6,125.5 74.5,125.0 74.4,124.0 74.5,123.4 74.6,122.5 74.6,121.5 74.5,120.5 74.4,120.0 74.3,119.0 74.2,118.0 74.1,117.0 74.0,116.0 73.9,115.5 73.8,114.5 73.8,113.5 73.9,112.5 74.0,111.9 74.2,111.0 74.4,110.0 74.4,109.0 74.4,108.0 74.4,107.0 74.4,106.0 74.4,105.0 74.5,104.0 74.6,103.5 74.7,102.5 74.8,101.5 74.9,100.5 75.0,99.9 75.1,99.0 75.3,98.0 75.4,97.0 75.5,96.5 75.8,95.5 76.0,94.7 76.2,94.0 76.3,93.0 76.5,92.2 76.7,91.5 77.0,90.8 77.5,90.0 77.9,89.5 78.3,89.0 78.7,88.5 79.0,88.0 79.4,87.0 79.5,86.5 79.9,85.5 80.2,85.0 80.6,84.5 81.0,84.0 81.5,83.5 82.0,83.0 82.5,82.5 83.1,82.0 83.7,81.5 84.4,81.0 85.0,80.5 85.5,80.1 86.0,79.6 86.5,79.2 87.0,78.8 87.6,78.5 88.5,78.1 89.0,78.0 90.0,77.8 90.9,77.5 91.5,77.2 92.0,77.0 93.0,76.5 93.5,76.4 94.5,76.2 95.5,76.2 96.5,76.0 97.0,75.9 98.0,75.6 98.5,75.4 99.5,75.3 100.5,75.3 101.5,75.3 102.5,75.1 103.0,75.0 104.0,74.9 104.7,75.0 105.5,75.2 106.5,75.4 107.5,75.5 108.1,75.5 109.0,75.5 110.0,75.6 111.0,75.8 112.0,76.0 112.5,76.1 113.5,76.4 114.0,76.6 115.0,76.9 115.5,77.1 116.5,77.4 117.0,77.6 118.0,77.9 118.5,78.1 119.5,78.4 120.0,78.6 120.8,79.0 121.5,79.3 122.0,79.6 122.7,80.0 123.5,80.5 124.0,80.8 124.5,81.1 125.4,81.5 126.0,81.8 126.5,82.1 127.0,82.5 127.5,83.0 128.0,83.6 128.5,84.1 129.0,84.7 129.5,85.3 130.0,85.9 130.4,86.5 130.7,87.0 131.0,87.5 131.5,88.3 131.9,89.0 132.2,89.5 132.5,90.2 132.8,91.0 133.0,91.5 133.4,92.5 133.6,93.0 133.9,94.0 134.0,94.5 134.4,95.5 134.6,96.0 134.9,97.0 135.1,97.5 135.4,98.5 135.5,99.0 135.7,100.0 135.7,101.0 135.9,102.0 136.0,102.7 136.1,103.5 136.3,104.5 136.5,105.5 136.6,106.0 136.8,107.0 136.8,108.0 136.9,109.0 136.9,110.0 136.8,111.0 136.7,112.0 136.8,113.0 136.8,114.0 136.8,115.0 136.9,116.0 136.9,117.0 137.0,118.0 137.0,119.0 137.0,120.0 136.9,121.0 136.7,122.0 136.5,122.8 136.4,123.5 136.2,124.5 136.1,125.5 136.0,126.0 135.8,127.0 135.6,128.0 135.5,128.5 135.3,129.5 135.0,130.5 134.9,131.0 134.6,132.0 134.5,132.6 134.3,133.5 134.0,134.5 133.9,135.0 133.6,136.0 133.4,136.5 133.1,137.5 133.0,138.0 132.7,139.0 132.5,139.7 132.2,140.5 132.0,141.1 131.6,142.0 131.4,142.5 131.0,143.5 130.8,144.0 130.5,144.5 130.0,145.2 129.6,146.0 129.3,146.5 129.0,147.2 128.6,148.0 128.1,148.5 127.5,148.9 127.0,149.1 126.0,149.4 125.5,149.5Z M125.0,146.6 124.1,146.5 123.5,146.3 122.8,146.0 122.0,145.6 121.5,145.3 120.9,145.0 120.1,144.5 119.5,144.1 119.0,143.7 118.5,143.4 118.0,143.0 117.3,142.5 116.7,142.0 116.1,141.5 115.5,141.0 115.0,140.6 114.5,140.2 114.0,139.7 113.5,139.1 113.0,138.5 112.7,138.0 112.3,137.5 111.9,137.0 111.4,136.5 110.9,136.0 110.2,135.5 109.5,135.0 109.0,134.7 108.5,134.3 108.0,133.9 107.4,133.5 106.8,133.0 106.2,132.5 105.5,132.0 105.0,131.6 104.5,131.3 103.8,131.0 103.0,130.7 102.1,130.5 101.5,130.4 100.5,130.2 99.5,130.0 99.0,129.8 98.1,129.5 97.5,129.2 96.6,129.0 96.0,128.9 95.0,128.9 94.0,128.8 93.0,128.7 92.0,128.6 91.5,128.5 90.5,128.3 89.5,128.3 88.5,128.4 87.5,128.4 86.5,128.2 86.0,128.0 85.0,127.5 84.5,127.2 84.0,127.0 83.0,126.7 82.1,126.5 81.5,126.4 80.5,126.2 79.8,126.0 79.0,125.6 78.5,125.2 78.0,124.6 77.7,124.0 77.5,123.5 77.3,122.5 77.2,121.5 77.0,120.5 76.9,120.0 76.6,119.0 76.4,118.5 76.3,117.5 76.1,116.5 76.0,115.5 75.9,115.0 75.8,114.0 75.8,113.0 76.0,112.0 76.2,111.5 76.5,110.6 76.6,110.0 76.7,109.0 76.7,108.0 76.6,107.0 76.5,106.0 76.5,105.5 76.5,104.5 76.5,103.8 76.6,103.0 76.8,102.0 77.0,101.0 77.1,100.5 77.3,99.5 77.4,98.5 77.5,97.5 77.6,97.0 77.8,96.0 78.0,95.2 78.2,94.5 78.5,93.7 78.8,93.0 79.0,92.4 79.5,91.5 79.8,91.0 80.2,90.5 80.7,90.0 81.1,89.5 81.5,88.9 82.0,88.0 82.2,87.5 82.5,87.0 83.0,86.4 83.5,86.0 84.2,85.5 84.7,85.0 85.1,84.5 85.5,84.0 86.0,83.5 86.7,83.0 87.4,82.5 88.0,82.0 88.5,81.6 89.0,81.2 89.5,80.8 90.3,80.5 91.0,80.3 91.9,80.0 92.5,79.7 93.0,79.4 93.6,79.0 94.5,78.5 95.0,78.4 96.0,78.4 97.0,78.4 98.0,78.4 99.0,78.2 99.8,78.0 100.5,77.9 101.5,77.8 102.5,77.6 103.1,77.5 104.0,77.4 105.0,77.4 105.5,77.5 106.5,77.6 107.5,77.7 108.5,77.8 109.5,77.9 110.3,78.0 111.0,78.1 112.0,78.2 113.0,78.3 114.0,78.5 114.5,78.6 115.5,78.8 116.0,79.0 117.0,79.5 117.5,79.7 118.2,80.0 119.0,80.3 119.8,80.5 120.5,80.8 121.0,81.0 121.8,81.5 122.4,82.0 123.0,82.4 123.5,82.7 124.1,83.0 125.0,83.4 125.5,83.6 126.0,84.0 126.5,84.5 127.0,85.1 127.5,85.6 128.0,86.1 128.5,86.7 129.0,87.2 129.5,87.8 130.0,88.5 130.4,89.0 130.8,89.5 131.1,90.0 131.5,90.7 131.8,91.5 132.0,92.0 132.4,93.0 132.6,93.5 132.9,94.5 133.1,95.0 133.5,96.0 133.7,96.5 134.0,97.2 134.3,98.0 134.5,98.6 134.7,99.5 134.9,100.5 135.0,101.5 135.0,102.0 135.2,103.0 135.4,104.0 135.5,104.9 135.6,105.5 135.8,106.5 135.9,107.5 136.0,108.3 136.0,109.0 136.1,110.0 136.0,110.7 135.9,111.5 135.9,112.5 135.9,113.5 136.0,114.5 136.0,115.3 136.0,116.0 136.1,117.0 136.1,118.0 136.1,119.0 136.1,120.0 136.0,121.0 135.9,121.5 135.7,122.5 135.6,123.5 135.5,124.0 135.3,125.0 135.2,126.0 135.0,126.8 134.8,127.5 134.6,128.5 134.5,129.0 134.3,130.0 134.0,131.0 133.9,131.5 133.6,132.5 133.4,133.0 133.1,134.0 133.0,134.6 132.7,135.5 132.5,136.2 132.2,137.0 132.0,137.5 131.6,138.5 131.4,139.0 131.0,139.7 130.5,140.5 130.1,141.0 129.9,141.5 129.5,142.2 129.0,142.9 128.5,143.5 128.1,144.0 127.8,144.5 127.4,145.0 127.0,145.5 126.5,146.0 125.5,146.5 125.0,146.6Z M124.5,144.5 124.0,144.5 123.0,144.1 122.5,143.9 121.8,143.5 121.0,143.0 120.5,142.7 120.0,142.4 119.4,142.0 118.5,141.5 118.0,141.1 117.5,140.7 117.0,140.2 116.5,139.8 116.0,139.4 115.4,139.0 114.8,138.5 114.3,138.0 113.9,137.5 113.5,137.0 113.0,136.4 112.5,135.8 112.0,135.3 111.5,134.8 111.0,134.4 110.5,134.0 109.8,133.5 109.0,133.0 108.5,132.6 108.0,132.2 107.5,131.8 107.0,131.4 106.5,131.0 105.7,130.5 105.0,130.1 104.5,129.8 103.6,129.5 103.0,129.3 102.0,129.0 101.5,128.9 100.5,128.6 100.0,128.5 99.0,128.1 98.5,127.9 97.5,127.6 97.0,127.4 96.0,127.3 95.0,127.4 94.0,127.4 93.0,127.4 92.0,127.2 91.0,127.0 90.5,127.0 89.5,126.9 88.5,126.9 87.5,126.7 86.8,126.5 86.0,126.1 85.5,125.8 84.9,125.5 84.0,125.0 83.5,124.8 82.8,124.5 82.0,124.2 81.3,124.0 80.5,123.7 80.0,123.4 79.5,122.8 79.2,122.0 79.1,121.0 79.0,120.5 78.7,119.5 78.5,118.9 78.2,118.0 78.0,117.3 77.8,116.5 77.7,115.5 77.5,114.5 77.5,114.0 77.5,113.0 77.6,112.5 77.8,111.5 78.0,110.8 78.1,110.0 78.2,109.0 78.3,108.0 78.2,107.0 78.1,106.0 78.0,105.3 77.9,104.5 77.9,103.5 78.0,102.7 78.1,102.0 78.4,101.0 78.6,100.5 78.9,99.5 79.0,99.0 79.1,98.0 79.3,97.0 79.5,96.1 79.7,95.5 80.0,94.7 80.3,94.0 80.5,93.3 80.9,92.5 81.2,92.0 81.7,91.5 82.2,91.0 82.6,90.5 83.1,90.0 83.5,89.5 84.0,88.8 84.5,88.2 85.0,87.7 85.5,87.2 86.0,86.7 86.5,86.1 87.0,85.6 87.5,85.0 88.0,84.6 88.5,84.1 89.0,83.6 89.5,83.2 90.0,82.9 90.8,82.5 91.5,82.2 92.1,82.0 93.0,81.6 93.5,81.3 94.0,81.0 94.9,80.5 95.5,80.3 96.5,80.2 97.5,80.3 98.5,80.2 99.2,80.0 100.0,79.7 100.8,79.5 101.5,79.4 102.5,79.2 103.5,79.0 104.0,79.0 104.6,79.0 105.5,79.1 106.5,79.3 107.5,79.4 108.5,79.5 109.0,79.6 110.0,79.8 111.0,79.9 112.0,79.9 113.0,80.0 113.5,80.0 114.5,80.1 115.5,80.4 116.0,80.7 116.6,81.0 117.5,81.4 118.0,81.6 119.0,81.8 119.7,82.0 120.5,82.4 121.0,82.7 121.5,83.1 122.0,83.5 122.9,84.0 123.5,84.3 124.0,84.5 125.0,85.0 125.5,85.4 126.0,85.9 126.5,86.4 127.0,86.9 127.5,87.4 128.0,88.0 128.5,88.5 129.0,89.0 129.4,89.5 129.9,90.0 130.3,90.5 130.6,91.0 131.0,91.8 131.3,92.5 131.5,93.1 131.8,94.0 132.0,94.6 132.3,95.5 132.5,96.0 133.0,97.0 133.2,97.5 133.5,98.2 133.8,99.0 134.0,99.9 134.1,100.5 134.2,101.5 134.3,102.5 134.5,103.3 134.6,104.0 134.7,105.0 134.9,106.0 135.0,106.7 135.1,107.5 135.2,108.5 135.3,109.5 135.3,110.5 135.2,111.5 135.2,112.5 135.2,113.5 135.2,114.5 135.2,115.5 135.3,116.5 135.4,117.5 135.4,118.5 135.4,119.5 135.3,120.5 135.2,121.5 135.0,122.4 134.9,123.0 134.8,124.0 134.6,125.0 134.5,125.8 134.4,126.5 134.1,127.5 134.0,128.1 133.8,129.0 133.5,129.9 133.3,130.5 133.0,131.5 132.9,132.0 132.6,133.0 132.4,133.5 132.2,134.5 132.0,135.1 131.7,136.0 131.5,136.5 131.0,137.5 130.7,138.0 130.4,138.5 130.0,139.1 129.5,139.6 129.0,140.2 128.5,140.7 128.0,141.3 127.5,141.8 127.0,142.4 126.6,143.0 126.3,143.5 125.8,144.0 125.0,144.5 124.5,144.5Z M125.0,142.7 124.0,143.0 123.0,142.6 122.5,142.4 121.8,142.0 121.0,141.5 120.5,141.2 120.0,140.9 119.3,140.5 118.6,140.0 118.1,139.5 117.7,139.0 117.2,138.5 116.6,138.0 116.0,137.6 115.5,137.2 115.0,136.7 114.5,136.2 114.0,135.6 113.5,135.1 113.0,134.5 112.5,134.0 112.0,133.6 111.5,133.2 111.0,132.8 110.5,132.4 109.9,132.0 109.3,131.5 108.8,131.0 108.2,130.5 107.5,130.1 107.0,129.8 106.4,129.5 105.5,129.0 105.0,128.7 104.5,128.5 103.5,128.1 103.0,127.9 102.0,127.6 101.5,127.5 100.5,127.1 100.0,126.9 99.1,126.5 98.5,126.2 97.7,126.0 97.0,125.8 96.0,125.7 95.0,125.9 94.4,126.0 93.5,126.1 92.5,126.0 92.0,126.0 91.0,125.8 90.0,125.5 89.5,125.4 88.5,125.2 87.9,125.0 87.0,124.7 86.5,124.5 85.5,124.1 85.0,123.9 84.3,123.5 83.5,123.1 83.0,122.7 82.5,122.4 82.0,122.0 81.5,121.4 81.3,120.5 81.5,119.5 81.6,119.0 81.5,118.3 81.0,117.7 80.5,117.2 80.0,116.7 79.6,116.0 79.4,115.5 79.1,114.5 79.0,114.0 78.9,113.0 79.0,112.2 79.1,111.5 79.2,110.5 79.3,109.5 79.4,108.5 79.5,107.7 79.5,107.0 79.5,106.5 79.4,105.5 79.2,104.5 79.0,103.5 79.1,102.5 79.4,101.5 79.6,101.0 80.0,100.3 80.4,99.5 80.5,98.9 80.7,98.0 80.9,97.0 81.1,96.5 81.4,95.5 81.6,95.0 81.8,94.0 82.0,93.4 82.5,92.6 83.0,92.1 83.5,91.7 84.0,91.1 84.5,90.6 84.9,90.0 85.3,89.5 85.7,89.0 86.1,88.5 86.6,88.0 87.1,87.5 87.6,87.0 88.2,86.5 88.8,86.0 89.5,85.5 90.0,85.2 90.5,84.8 91.0,84.4 91.6,84.0 92.3,83.5 93.0,83.0 93.5,82.7 94.0,82.4 94.9,82.0 95.5,81.8 96.5,81.7 97.5,81.7 98.5,81.6 99.0,81.5 100.0,81.1 100.5,80.8 101.4,80.5 102.0,80.4 103.0,80.2 104.0,80.2 105.0,80.3 106.0,80.5 106.5,80.5 107.5,80.6 108.5,80.7 109.5,80.8 110.5,81.0 111.0,81.0 112.0,81.1 113.0,81.2 114.0,81.4 114.6,81.5 115.5,81.9 116.0,82.2 116.7,82.5 117.5,82.8 118.5,83.0 119.0,83.0 120.0,83.5 120.5,83.8 121.0,84.2 121.5,84.6 122.3,85.0 123.0,85.3 123.5,85.5 124.4,86.0 125.0,86.4 125.5,86.8 126.0,87.3 126.5,87.8 127.0,88.3 127.5,88.9 128.0,89.4 128.5,89.9 129.0,90.4 129.5,90.8 130.0,91.5 130.3,92.0 130.5,92.5 130.9,93.5 131.0,94.0 131.3,95.0 131.5,95.6 131.8,96.5 132.1,97.0 132.5,97.8 132.8,98.5 133.0,99.0 133.3,100.0 133.5,101.0 133.5,101.5 133.6,102.5 133.8,103.5 134.0,104.3 134.1,105.0 134.1,106.0 134.3,107.0 134.5,108.0 134.6,108.5 134.6,109.5 134.6,110.5 134.6,111.5 134.5,112.5 134.5,113.1 134.4,114.0 134.4,115.0 134.5,115.5 134.7,116.5 134.8,117.5 134.8,118.5 134.7,119.5 134.7,120.5 134.5,121.5 134.4,122.0 134.2,123.0 134.2,124.0 134.0,125.0 134.0,125.5 133.8,126.5 133.5,127.5 133.4,128.0 133.1,129.0 132.9,129.5 132.6,130.5 132.4,131.0 132.1,132.0 131.9,132.5 131.7,133.5 131.5,134.2 131.3,135.0 131.0,135.8 130.7,136.5 130.4,137.0 130.0,137.6 129.5,138.1 129.0,138.6 128.5,139.0 127.9,139.5 127.3,140.0 126.8,140.5 126.3,141.0 125.9,141.5 125.5,142.2 125.0,142.7Z M124.5,141.6 123.5,141.7 122.9,141.5 122.0,141.0 121.5,140.8 121.0,140.5 120.2,140.0 119.5,139.5 119.0,139.0 118.6,138.5 118.2,138.0 117.7,137.5 117.0,137.0 116.5,136.6 116.0,136.3 115.5,135.8 115.0,135.4 114.5,134.9 114.0,134.3 113.5,133.8 113.0,133.3 112.5,132.9 112.0,132.5 111.4,132.0 110.8,131.5 110.2,131.0 109.7,130.5 109.2,130.0 108.5,129.5 108.0,129.2 107.5,128.9 106.6,128.5 106.0,128.2 105.5,127.9 104.9,127.5 104.1,127.0 103.5,126.8 102.5,126.5 102.0,126.4 101.0,126.0 100.5,125.8 99.9,125.5 99.0,125.1 98.5,124.9 97.5,124.5 97.0,124.3 96.0,124.0 95.5,123.9 94.5,123.7 93.5,124.0 93.0,124.3 92.5,124.5 91.8,124.5 91.0,124.2 90.5,123.8 89.9,123.5 89.0,123.2 88.0,123.1 87.0,123.0 86.5,123.0 85.5,122.7 85.0,122.4 84.5,122.0 84.0,121.1 83.9,120.5 83.8,119.5 83.6,118.5 83.4,118.0 83.0,117.2 82.5,116.5 82.1,116.0 81.6,115.5 81.1,115.0 80.7,114.5 80.4,114.0 80.0,113.0 80.0,112.3 80.0,111.5 80.0,111.0 80.1,110.0 80.3,109.0 80.5,108.0 80.5,107.5 80.6,106.5 80.5,105.8 80.3,105.0 80.0,104.3 79.8,103.5 79.8,102.5 80.0,102.0 80.5,101.2 81.0,100.6 81.4,100.0 81.6,99.5 81.8,98.5 82.0,97.9 82.3,97.0 82.5,96.2 82.6,95.5 82.7,94.5 83.0,93.6 83.4,93.0 83.9,92.5 84.4,92.0 84.8,91.5 85.2,91.0 85.5,90.5 86.0,89.8 86.5,89.2 87.0,88.7 87.5,88.2 88.0,87.8 88.5,87.4 89.0,87.0 89.9,86.5 90.5,86.1 91.0,85.8 91.5,85.5 92.0,85.0 92.5,84.5 93.0,84.0 93.7,83.5 94.5,83.0 95.0,82.9 96.0,82.8 97.0,82.8 98.0,82.7 98.9,82.5 99.5,82.3 100.1,82.0 101.0,81.5 101.5,81.3 102.4,81.0 103.0,80.9 104.0,81.0 104.5,81.1 105.5,81.3 106.5,81.4 107.5,81.5 108.5,81.5 109.0,81.5 110.0,81.6 111.0,81.7 112.0,81.9 112.7,82.0 113.5,82.2 114.5,82.4 115.0,82.7 115.6,83.0 116.5,83.4 117.0,83.6 118.0,83.8 119.0,84.0 119.5,84.2 120.0,84.6 120.6,85.0 121.5,85.5 122.0,85.8 122.5,86.0 123.5,86.4 124.0,86.6 124.7,87.0 125.3,87.5 125.9,88.0 126.3,88.5 126.7,89.0 127.1,89.5 127.5,90.1 128.0,90.5 128.7,91.0 129.3,91.5 129.7,92.0 130.0,92.5 130.4,93.5 130.5,94.0 130.7,95.0 131.0,96.0 131.1,96.5 131.5,97.2 132.0,98.0 132.2,98.5 132.5,99.1 132.8,100.0 133.0,101.0 133.0,101.5 133.1,102.5 133.3,103.5 133.5,104.3 133.6,105.0 133.6,106.0 133.8,107.0 134.0,108.0 134.1,108.5 134.2,109.5 134.2,110.5 134.1,111.5 134.0,112.5 134.0,113.0 133.7,114.0 133.8,115.0 134.0,115.8 134.2,116.5 134.3,117.5 134.4,118.5 134.3,119.5 134.2,120.5 134.0,121.5 133.9,122.0 133.8,123.0 133.7,124.0 133.6,125.0 133.5,126.0 133.4,126.5 133.2,127.5 133.0,128.1 132.7,129.0 132.5,129.5 132.0,130.5 131.9,131.0 131.5,132.0 131.4,132.5 131.2,133.5 131.0,134.4 130.8,135.0 130.5,135.8 130.1,136.5 129.7,137.0 129.2,137.5 128.6,138.0 128.0,138.4 127.5,138.8 127.0,139.1 126.5,139.5 125.9,140.0 125.5,140.5 125.0,141.1 124.5,141.6Z M124.5,139.7 123.5,140.0 122.5,139.8 121.8,139.5 121.0,139.1 120.5,138.7 120.0,138.2 119.5,137.5 119.0,137.0 118.5,136.7 118.0,136.4 117.2,136.0 116.5,135.5 116.0,135.0 115.5,134.6 115.0,134.0 114.5,133.5 114.1,133.0 113.6,132.5 113.0,132.0 112.5,131.7 112.0,131.3 111.5,130.8 111.0,130.3 110.5,129.8 110.0,129.4 109.5,129.0 108.9,128.5 108.2,128.0 107.5,127.6 107.0,127.3 106.4,127.0 105.6,126.5 105.0,126.1 104.5,125.8 103.8,125.5 103.0,125.3 102.0,125.0 101.5,124.8 100.8,124.5 100.0,124.2 99.5,124.0 98.5,123.6 98.0,123.4 97.1,123.0 96.5,122.8 95.7,122.5 95.0,122.2 94.5,122.0 93.5,121.8 92.5,121.9 91.5,121.9 90.5,121.9 89.5,121.8 88.5,121.7 87.5,121.6 87.0,121.4 86.2,121.0 85.8,120.5 85.5,120.0 85.0,119.0 84.8,118.5 84.5,117.5 84.3,117.0 84.0,116.3 83.6,115.5 83.3,115.0 83.0,114.5 82.5,113.8 82.0,113.1 81.7,112.5 81.7,111.5 81.9,110.5 82.0,110.0 82.5,109.1 82.7,108.5 82.7,107.5 82.5,106.9 82.1,106.0 81.9,105.5 81.5,104.7 81.1,104.0 81.0,103.5 81.0,102.7 81.4,102.0 82.0,101.5 82.4,101.0 82.7,100.5 82.9,99.5 83.0,99.0 83.3,98.0 83.5,97.3 83.7,96.5 83.8,95.5 83.9,94.5 84.1,94.0 84.5,93.4 85.0,92.8 85.5,92.2 86.0,91.5 86.4,91.0 86.7,90.5 87.1,90.0 87.6,89.5 88.1,89.0 88.7,88.5 89.3,88.0 90.0,87.6 90.5,87.4 91.4,87.0 92.0,86.6 92.5,86.2 93.0,85.6 93.5,85.0 94.0,84.6 94.5,84.3 95.5,84.1 96.5,84.2 97.5,84.1 98.0,84.0 99.0,83.6 99.5,83.4 100.4,83.0 101.0,82.7 101.5,82.5 102.5,82.1 103.5,82.1 104.5,82.3 105.2,82.5 106.0,82.6 107.0,82.7 108.0,82.6 109.0,82.5 110.0,82.5 111.0,82.7 112.0,82.9 112.5,83.1 113.5,83.5 114.0,83.7 114.8,84.0 115.5,84.4 116.0,84.6 117.0,84.9 117.6,85.0 118.5,85.4 119.0,85.7 119.5,86.0 120.5,86.4 121.0,86.6 122.0,87.0 122.5,87.2 123.4,87.5 124.0,87.7 124.6,88.0 125.2,88.5 125.6,89.0 126.0,89.8 126.2,90.5 126.5,91.0 127.0,91.5 128.0,91.9 128.5,92.1 129.1,92.5 129.5,93.1 129.8,94.0 130.0,95.0 130.0,95.5 130.2,96.5 130.5,97.4 130.9,98.0 131.2,98.5 131.5,99.0 132.0,100.0 132.1,100.5 132.3,101.5 132.4,102.5 132.5,103.4 132.6,104.0 132.8,105.0 132.9,106.0 133.0,106.8 133.1,107.5 133.4,108.5 133.5,109.0 133.6,110.0 133.6,111.0 133.5,111.7 133.3,112.5 133.0,113.2 132.7,114.0 132.7,115.0 133.0,116.0 133.3,116.5 133.5,117.1 133.6,118.0 133.6,119.0 133.5,120.0 133.5,120.5 133.2,121.5 133.1,122.5 133.1,123.5 133.1,124.5 133.0,125.4 132.9,126.0 132.8,127.0 132.5,128.0 132.3,128.5 132.0,129.2 131.6,130.0 131.4,130.5 131.1,131.5 130.9,132.0 130.7,133.0 130.5,133.9 130.3,134.5 130.0,135.3 129.6,136.0 129.1,136.5 128.5,137.0 128.0,137.4 127.5,137.8 127.0,138.1 126.3,138.5 125.6,139.0 125.0,139.4 124.5,139.7Z M124.0,138.6 123.0,138.6 122.5,138.5 121.6,138.0 121.2,137.5 120.8,137.0 120.5,136.5 120.0,136.0 119.0,135.6 118.4,135.5 117.5,135.1 117.0,134.7 116.5,134.2 116.0,133.5 115.6,133.0 115.2,132.5 114.8,132.0 114.3,131.5 113.6,131.0 113.0,130.6 112.5,130.2 112.0,129.8 111.5,129.3 111.0,128.9 110.5,128.5 110.0,128.0 109.5,127.5 108.9,127.0 108.1,126.5 107.5,126.2 107.0,126.0 106.1,125.5 105.5,125.1 105.0,124.7 104.5,124.5 103.5,124.2 102.7,124.0 102.0,123.8 101.4,123.5 100.5,123.1 100.0,122.8 99.4,122.5 98.7,122.0 98.0,121.5 97.5,121.4 96.5,121.3 95.5,121.0 95.0,120.7 94.5,120.4 93.5,120.0 92.5,120.1 91.5,120.3 90.5,120.4 89.5,120.4 88.5,120.3 87.6,120.0 87.0,119.7 86.5,119.2 86.0,118.5 85.8,118.0 85.6,117.0 85.5,116.5 85.2,115.5 85.0,115.0 84.5,114.2 84.0,113.5 83.7,113.0 83.5,112.5 83.4,111.5 83.6,111.0 84.0,110.2 84.4,109.5 84.6,109.0 84.7,108.0 84.6,107.0 84.5,106.5 84.0,105.5 83.7,105.0 83.4,104.5 83.0,103.5 83.4,102.5 83.6,102.0 83.9,101.0 84.0,100.0 84.0,99.5 84.3,98.5 84.5,97.9 84.8,97.0 84.9,96.0 85.0,95.0 85.2,94.5 85.5,93.9 86.0,93.3 86.5,92.7 87.0,92.1 87.5,91.6 88.0,91.2 88.5,90.7 89.0,90.1 89.5,89.6 90.0,89.2 90.5,88.9 91.5,88.5 92.0,88.3 92.6,88.0 93.1,87.5 93.6,87.0 94.1,86.5 94.8,86.0 95.5,85.8 96.5,85.6 97.2,85.5 98.0,85.2 98.5,85.0 99.5,84.6 100.0,84.4 100.9,84.0 101.5,83.8 102.5,83.5 103.0,83.5 103.5,83.5 104.5,83.6 105.5,83.7 106.5,83.8 107.5,83.8 108.5,83.8 109.5,83.7 110.5,83.8 111.3,84.0 112.0,84.4 112.5,84.6 113.1,85.0 114.0,85.5 114.5,85.7 115.1,86.0 116.0,86.3 116.6,86.5 117.5,86.8 118.0,87.1 118.8,87.5 119.5,87.8 120.4,88.0 121.0,88.2 121.8,88.5 122.5,88.8 123.2,89.0 124.0,89.4 124.4,90.0 124.5,90.5 124.8,91.5 125.1,92.0 125.6,92.5 126.3,93.0 127.0,93.4 127.5,93.6 128.3,94.0 128.6,94.5 128.9,95.5 129.0,96.0 129.2,97.0 129.5,97.8 129.8,98.5 130.2,99.0 130.5,99.5 131.0,100.4 131.2,101.0 131.4,102.0 131.4,103.0 131.5,103.5 131.7,104.5 131.9,105.5 132.0,106.2 132.1,107.0 132.4,108.0 132.6,108.5 132.8,109.5 132.8,110.5 132.6,111.5 132.5,112.0 132.0,113.0 131.9,113.5 131.7,114.5 131.8,115.5 132.0,116.5 132.1,117.0 132.3,118.0 132.4,119.0 132.4,120.0 132.1,121.0 132.0,121.5 131.9,122.5 131.9,123.5 131.9,124.5 132.0,125.5 132.0,126.0 132.0,126.9 131.9,127.5 131.6,128.5 131.4,129.0 131.0,129.8 130.7,130.5 130.5,131.1 130.3,132.0 130.0,132.9 129.8,133.5 129.5,134.3 129.1,135.0 128.7,135.5 128.3,136.0 127.8,136.5 127.2,137.0 126.5,137.4 126.0,137.7 125.5,138.0 124.5,138.4 124.0,138.6Z M124.0,137.5 123.4,137.5 122.5,137.1 122.0,136.6 121.6,136.0 121.3,135.5 120.8,135.0 120.0,134.5 119.5,134.3 118.7,134.0 118.2,133.5 118.0,132.9 117.8,132.0 117.5,131.2 117.0,130.5 116.5,130.3 115.5,130.0 115.0,129.9 114.0,129.6 113.5,129.4 113.0,129.0 112.3,128.5 111.7,128.0 111.2,127.5 110.7,127.0 110.3,126.5 109.9,126.0 109.3,125.5 108.5,125.2 107.9,125.0 107.0,124.6 106.5,124.2 106.0,123.8 105.4,123.5 104.5,123.3 103.5,123.1 103.0,123.0 102.0,122.6 101.5,122.3 101.0,121.9 100.5,121.5 100.0,120.9 99.5,120.2 99.0,119.7 98.0,119.5 97.0,119.6 96.2,119.5 95.5,119.2 95.0,118.8 94.5,118.4 93.8,118.0 93.0,117.9 92.5,118.0 91.5,118.3 90.7,118.5 90.0,118.6 89.0,118.6 88.3,118.5 87.5,118.0 87.2,117.5 87.1,116.5 87.0,116.0 86.7,115.0 86.4,114.5 86.0,113.9 85.5,113.3 85.0,112.5 84.9,112.0 85.0,111.5 85.5,110.6 85.9,110.0 86.1,109.5 86.1,108.5 86.0,107.7 85.9,107.0 85.9,106.0 85.8,105.0 85.8,104.0 85.7,103.0 85.6,102.0 85.5,101.3 85.4,100.5 85.4,99.5 85.6,99.0 86.0,98.2 86.2,97.5 86.3,96.5 86.3,95.5 86.5,94.9 87.0,94.2 87.5,93.7 88.0,93.3 88.5,92.8 89.0,92.4 89.5,91.9 90.0,91.4 90.5,90.9 91.0,90.4 91.6,90.0 92.4,89.5 93.0,89.1 93.5,88.8 94.0,88.4 94.7,88.0 95.5,87.5 96.0,87.3 96.6,87.0 97.5,86.6 98.0,86.4 99.0,86.0 99.5,85.8 100.3,85.5 101.0,85.2 101.6,85.0 102.5,84.8 103.5,84.8 104.5,84.9 105.5,84.9 106.5,84.9 107.5,84.9 108.5,84.9 109.5,85.0 110.0,85.0 111.0,85.3 111.5,85.5 112.3,86.0 113.0,86.5 113.5,86.8 114.0,87.1 115.0,87.5 115.5,87.6 116.5,87.8 117.1,88.0 118.0,88.4 118.5,88.7 119.1,89.0 119.9,89.5 120.5,89.9 121.0,90.2 121.5,90.5 122.2,91.0 122.9,91.5 123.4,92.0 123.9,92.5 124.4,93.0 124.9,93.5 125.5,94.0 126.0,94.4 126.5,94.9 127.0,95.5 127.4,96.0 127.6,96.5 128.0,97.3 128.3,98.0 128.5,98.5 129.0,99.3 129.4,100.0 129.7,100.5 130.0,101.2 130.2,102.0 130.4,103.0 130.5,103.5 130.8,104.5 131.0,105.5 131.0,106.0 131.2,107.0 131.5,108.0 131.7,108.5 131.8,109.5 131.8,110.5 131.6,111.5 131.5,112.0 131.2,113.0 131.0,114.0 131.0,114.5 131.0,115.0 131.1,116.0 131.1,117.0 131.1,118.0 131.2,119.0 131.2,120.0 131.0,120.7 130.8,121.5 130.6,122.5 130.7,123.5 130.8,124.5 130.9,125.5 131.0,126.5 131.0,127.0 131.0,127.6 130.8,128.5 130.5,129.2 130.1,130.0 130.0,130.5 129.7,131.5 129.5,132.2 129.2,133.0 128.9,133.5 128.5,134.3 128.0,135.0 127.6,135.5 127.1,136.0 126.5,136.5 126.0,136.8 125.5,137.1 124.5,137.4 124.0,137.5Z M125.5,136.1 124.5,136.4 123.5,136.2 123.0,135.9 122.5,135.2 122.1,134.5 121.7,134.0 121.2,133.5 120.6,133.0 120.2,132.5 119.8,132.0 119.5,131.4 119.1,130.5 118.9,130.0 118.5,129.2 118.0,128.7 117.5,128.5 116.5,128.5 116.0,128.6 115.0,128.7 114.3,128.5 113.5,128.1 113.0,127.7 112.5,127.2 112.0,126.7 111.5,126.1 111.0,125.5 110.6,125.0 110.1,124.5 109.5,124.0 109.0,123.7 108.5,123.4 107.9,123.0 107.3,122.5 106.5,122.1 106.0,122.0 105.0,122.0 104.5,122.0 103.7,122.0 103.0,121.8 102.3,121.5 101.7,121.0 101.2,120.5 100.9,120.0 100.5,119.2 100.0,118.6 99.5,118.3 98.5,118.1 97.5,118.1 96.5,118.1 96.0,117.9 95.5,117.5 94.8,117.0 94.0,116.5 93.5,116.3 92.5,116.3 91.5,116.4 90.5,116.3 89.7,116.0 89.2,115.5 89.0,115.0 88.6,114.0 88.4,113.5 88.0,113.0 87.4,112.5 87.2,111.5 87.5,110.7 87.6,110.0 87.6,109.0 87.5,108.5 87.2,107.5 87.1,106.5 87.0,105.5 87.0,104.9 86.9,104.0 86.9,103.0 87.0,102.0 87.0,101.5 87.1,100.5 87.5,99.5 87.7,99.0 88.0,98.2 88.2,97.5 88.5,96.5 88.7,96.0 89.0,95.2 89.3,94.5 89.6,94.0 90.0,93.5 90.5,92.9 91.0,92.4 91.5,91.8 92.0,91.1 92.5,90.6 93.0,90.2 93.5,89.8 94.1,89.5 95.0,89.0 95.5,88.8 96.4,88.5 97.0,88.2 97.5,88.0 98.5,87.6 99.0,87.4 100.0,87.1 100.5,87.0 101.5,86.6 102.0,86.4 103.0,86.2 104.0,86.2 105.0,86.1 105.5,86.0 106.5,85.8 107.5,85.8 108.5,86.0 109.0,86.1 110.0,86.4 110.5,86.6 111.4,87.0 112.0,87.3 112.5,87.6 113.2,88.0 114.0,88.4 114.5,88.5 115.5,88.7 116.5,88.9 117.0,89.0 117.9,89.5 118.5,89.9 119.0,90.3 119.5,90.8 120.0,91.4 120.5,92.0 121.0,92.4 121.5,92.7 122.1,93.0 123.0,93.4 123.5,93.8 124.0,94.1 124.5,94.6 125.0,95.1 125.5,95.7 126.0,96.5 126.2,97.0 126.5,97.5 127.0,98.3 127.5,99.0 127.8,99.5 128.1,100.0 128.5,100.7 128.9,101.5 129.1,102.0 129.4,103.0 129.6,103.5 129.9,104.5 130.0,105.0 130.2,106.0 130.3,107.0 130.5,107.8 130.7,108.5 130.8,109.5 130.8,110.5 130.6,111.5 130.5,112.2 130.4,113.0 130.3,114.0 130.4,115.0 130.3,116.0 130.2,117.0 130.1,118.0 130.2,119.0 130.2,120.0 130.0,120.7 129.7,121.5 129.6,122.5 129.8,123.5 129.9,124.5 130.0,125.5 130.0,126.0 130.1,127.0 130.1,128.0 130.0,128.5 129.5,129.5 129.3,130.0 129.1,131.0 129.0,131.5 128.6,132.5 128.3,133.0 128.0,133.6 127.5,134.3 127.0,134.9 126.5,135.4 126.0,135.8 125.5,136.1Z M125.5,134.8 124.5,135.0 123.7,134.5 123.3,134.0 122.9,133.5 122.5,132.9 122.0,132.4 121.5,131.7 121.0,131.0 120.7,130.5 120.5,129.8 120.2,129.0 119.9,128.5 119.4,128.0 118.5,127.5 118.0,127.3 117.0,127.2 116.0,127.4 115.0,127.5 114.0,127.1 113.5,126.7 113.0,126.1 112.5,125.5 112.0,125.0 111.6,124.5 111.2,124.0 110.8,123.5 110.4,123.0 110.0,122.5 109.5,122.0 109.0,121.4 108.5,121.0 107.8,120.5 107.0,120.2 106.0,120.1 105.0,120.4 104.5,120.6 103.5,120.6 103.0,120.5 102.4,120.0 102.0,119.3 101.7,118.5 101.5,118.0 101.0,117.4 100.3,117.0 99.5,116.7 98.5,116.6 97.5,116.6 96.5,116.6 96.0,116.4 95.4,116.0 94.6,115.5 94.0,115.2 93.0,115.1 92.0,115.1 91.5,115.0 90.7,114.5 90.4,114.0 90.2,113.0 90.1,112.0 89.9,111.5 89.5,110.6 89.2,110.0 89.0,109.5 88.7,108.5 88.5,107.5 88.5,107.0 88.4,106.0 88.2,105.0 88.0,104.2 87.9,103.5 88.0,102.5 88.1,102.0 88.4,101.0 88.6,100.5 88.9,99.5 89.2,99.0 89.5,98.2 89.8,97.5 90.0,97.0 90.3,96.0 90.5,95.4 91.0,94.5 91.4,94.0 91.9,93.5 92.2,93.0 92.5,92.4 92.9,91.5 93.3,91.0 93.9,90.5 94.5,90.2 95.0,90.0 96.0,89.7 96.8,89.5 97.5,89.3 98.2,89.0 99.0,88.7 99.9,88.5 100.5,88.4 101.5,88.2 102.2,88.0 103.0,87.7 103.8,87.5 104.5,87.3 105.5,87.0 106.0,86.9 107.0,86.7 108.0,86.8 108.5,87.0 109.4,87.5 110.0,88.0 110.5,88.3 111.0,88.5 112.0,88.8 112.6,89.0 113.5,89.3 114.3,89.5 115.0,89.6 116.0,89.8 116.7,90.0 117.5,90.4 118.0,90.7 118.5,91.2 119.0,91.9 119.4,92.5 119.6,93.0 120.0,93.6 120.5,94.1 121.2,94.5 122.0,94.7 122.8,95.0 123.5,95.4 124.0,95.8 124.5,96.4 124.9,97.0 125.2,97.5 125.5,98.0 126.0,98.7 126.5,99.3 127.0,100.0 127.4,100.5 127.7,101.0 128.0,101.7 128.3,102.5 128.5,103.0 128.9,104.0 129.1,104.5 129.4,105.5 129.5,106.5 129.5,107.0 129.6,108.0 129.8,109.0 129.8,110.0 129.8,111.0 129.7,112.0 129.6,113.0 129.7,114.0 129.7,115.0 129.6,116.0 129.5,116.5 129.3,117.5 129.3,118.5 129.3,119.5 129.1,120.5 128.9,121.0 128.6,122.0 128.7,123.0 129.0,124.0 129.1,124.5 129.2,125.5 129.2,126.5 129.3,127.5 129.1,128.5 128.9,129.0 128.5,130.0 128.4,130.5 128.1,131.5 128.0,132.0 127.5,132.8 127.0,133.5 126.5,134.0 126.0,134.5 125.5,134.8Z M125.5,133.0 124.8,133.0 124.0,132.5 123.5,132.0 123.1,131.5 122.7,131.0 122.4,130.5 122.0,129.5 121.8,129.0 121.5,128.4 121.0,127.8 120.5,127.4 119.9,127.0 119.0,126.6 118.5,126.4 117.5,126.0 117.0,125.9 116.0,125.9 115.0,125.7 114.5,125.4 114.0,125.0 113.5,124.5 113.0,124.0 112.5,123.4 112.0,122.8 111.5,122.2 111.0,121.6 110.5,121.1 110.0,120.7 109.5,120.2 109.0,119.8 108.5,119.5 107.7,119.0 107.0,118.5 106.5,118.2 106.0,117.8 105.5,117.3 105.0,116.9 104.4,116.5 103.5,116.1 103.0,116.0 102.0,115.8 101.0,115.7 100.2,115.5 99.5,115.3 98.6,115.0 98.0,114.9 97.0,114.8 96.0,114.7 95.4,114.5 94.5,114.2 93.5,114.0 93.0,113.9 92.0,113.6 91.6,113.0 91.4,112.5 91.2,111.5 90.9,111.0 90.5,110.2 90.1,109.5 89.9,109.0 89.7,108.0 89.8,107.0 89.9,106.0 89.7,105.0 89.5,104.5 89.1,103.5 89.2,102.5 89.5,101.8 89.9,101.0 90.0,100.5 90.4,99.5 90.6,99.0 91.0,98.0 91.2,97.5 91.5,96.5 91.7,96.0 92.0,95.4 92.5,94.7 93.0,94.0 93.2,93.5 93.5,92.6 93.7,92.0 94.0,91.5 94.7,91.0 95.5,90.7 96.4,90.5 97.0,90.4 98.0,90.2 98.5,90.0 99.5,89.7 100.5,89.6 101.2,89.5 102.0,89.3 102.9,89.0 103.5,88.7 104.1,88.5 105.0,88.2 105.5,88.0 106.5,87.8 107.5,87.8 108.0,88.1 108.5,88.5 109.0,89.0 109.6,89.5 110.5,89.9 111.5,90.0 112.0,90.0 113.0,90.2 114.0,90.4 114.5,90.6 115.5,90.8 116.4,91.0 117.0,91.3 117.5,91.6 118.0,92.2 118.5,93.0 118.7,93.5 119.0,94.1 119.5,94.8 120.0,95.3 120.5,95.6 121.5,96.0 122.0,96.2 122.7,96.5 123.5,97.0 124.0,97.5 124.4,98.0 124.7,98.5 125.1,99.0 125.5,99.5 126.0,100.1 126.5,100.7 127.0,101.4 127.3,102.0 127.5,102.5 127.9,103.5 128.1,104.0 128.5,105.0 128.6,105.5 128.8,106.5 128.8,107.5 128.9,108.5 129.0,109.5 129.0,110.0 129.0,110.6 129.0,111.5 128.9,112.5 128.9,113.5 129.0,114.5 128.9,115.5 128.6,116.5 128.5,117.0 128.4,118.0 128.5,119.0 128.3,120.0 128.0,120.7 127.6,121.5 127.3,122.0 127.4,123.0 127.6,123.5 128.0,124.2 128.2,125.0 128.3,126.0 128.3,127.0 128.3,128.0 128.0,128.9 127.8,129.5 127.5,130.4 127.3,131.0 127.0,131.7 126.5,132.4 126.0,132.8 125.5,133.0Z M125.5,130.8 124.5,130.8 124.0,130.5 123.5,129.9 123.1,129.0 122.9,128.5 122.5,127.6 122.0,127.0 121.5,126.7 121.0,126.4 120.1,126.0 119.5,125.7 119.0,125.3 118.5,125.0 117.7,124.5 117.0,124.2 116.5,124.0 115.5,123.6 115.0,123.4 114.4,123.0 113.7,122.5 113.2,122.0 112.7,121.5 112.1,121.0 111.5,120.6 111.0,120.2 110.5,119.9 110.0,119.5 109.4,119.0 108.8,118.5 108.2,118.0 107.6,117.5 107.1,117.0 106.6,116.5 106.1,116.0 105.6,115.5 105.1,115.0 104.6,114.5 104.0,114.2 103.0,114.0 102.5,114.0 101.5,113.9 100.5,113.6 100.0,113.3 99.2,113.0 98.5,112.7 97.5,112.5 96.5,112.6 95.5,112.6 94.5,112.6 93.9,112.5 93.0,112.1 92.5,111.5 92.2,111.0 91.9,110.5 91.5,109.9 91.1,109.0 90.9,108.5 90.9,107.5 91.1,107.0 91.4,106.0 91.3,105.0 91.0,104.3 90.7,103.5 90.8,102.5 91.0,101.9 91.4,101.0 91.6,100.5 92.0,99.5 92.1,99.0 92.4,98.0 92.5,97.4 92.7,96.5 93.0,96.0 93.5,95.2 93.9,94.5 94.2,94.0 94.5,93.0 94.7,92.5 95.1,92.0 96.0,91.6 96.5,91.5 97.5,91.4 98.5,91.2 99.0,91.0 100.0,90.8 101.0,90.6 101.5,90.5 102.5,90.2 103.0,90.0 104.0,89.7 104.5,89.5 105.5,89.3 106.5,89.3 107.0,89.5 107.8,90.0 108.5,90.4 109.0,90.7 109.7,91.0 110.5,91.2 111.5,91.2 112.5,91.3 113.4,91.5 114.0,91.8 114.6,92.0 115.5,92.4 116.0,92.6 116.6,93.0 117.0,93.5 117.5,94.3 118.0,95.0 118.3,95.5 118.8,96.0 119.5,96.5 120.0,96.7 120.8,97.0 121.5,97.2 122.2,97.5 122.9,98.0 123.4,98.5 123.8,99.0 124.2,99.5 124.7,100.0 125.1,100.5 125.6,101.0 126.0,101.5 126.5,102.2 126.9,103.0 127.1,103.5 127.5,104.4 127.7,105.0 128.0,106.0 128.1,106.5 128.1,107.5 128.2,108.5 128.3,109.5 128.3,110.5 128.2,111.5 128.2,112.5 128.2,113.5 128.2,114.5 128.0,115.5 127.9,116.0 127.6,117.0 127.6,118.0 127.6,119.0 127.5,119.5 127.0,120.4 126.5,121.0 126.0,121.5 125.5,122.0 125.2,122.5 125.2,123.5 125.6,124.0 126.1,124.5 126.5,125.2 126.7,126.0 126.9,127.0 127.0,128.0 126.7,129.0 126.5,129.7 126.0,130.5 125.5,130.8Z M121.0,124.5 120.5,124.5 119.6,124.0 119.0,123.6 118.5,123.3 117.8,123.0 117.0,122.7 116.2,122.5 115.5,122.2 115.0,121.9 114.5,121.5 114.0,121.0 113.4,120.5 112.5,120.0 112.0,119.7 111.5,119.5 110.8,119.0 110.2,118.5 109.7,118.0 109.3,117.5 108.9,117.0 108.4,116.5 107.9,116.0 107.4,115.5 107.0,115.0 106.5,114.1 106.2,113.5 105.6,113.0 105.0,112.7 104.3,112.5 103.5,112.3 102.5,112.1 102.0,111.9 101.2,111.5 100.5,111.1 100.0,110.8 99.2,110.5 98.5,110.3 97.5,110.2 96.5,110.2 95.5,110.1 95.0,109.9 94.2,109.5 93.5,109.0 93.0,108.5 92.9,108.0 93.0,107.4 93.3,106.5 93.4,105.5 93.0,104.5 92.7,104.0 92.4,103.5 92.3,102.5 92.5,101.5 92.7,101.0 93.0,100.3 93.4,99.5 93.5,99.0 93.7,98.0 93.8,97.0 94.0,96.4 94.5,95.6 94.9,95.0 95.3,94.5 95.7,94.0 96.2,93.5 97.0,93.1 97.5,92.9 98.5,92.6 99.0,92.5 100.0,92.0 100.5,91.8 101.4,91.5 102.0,91.3 102.9,91.0 103.5,90.9 104.5,90.8 105.5,90.9 106.2,91.0 107.0,91.1 108.0,91.4 108.5,91.6 109.4,92.0 110.0,92.3 110.5,92.5 111.5,92.8 112.1,93.0 112.9,93.5 113.4,94.0 113.7,94.5 114.2,95.0 114.8,95.5 115.5,95.9 116.0,96.2 116.5,96.5 117.1,97.0 117.9,97.5 118.5,97.7 119.5,98.0 120.0,98.1 121.0,98.3 121.5,98.5 122.3,99.0 122.8,99.5 123.2,100.0 123.6,100.5 124.1,101.0 124.6,101.5 125.1,102.0 125.5,102.5 126.0,103.3 126.3,104.0 126.6,104.5 127.0,105.4 127.2,106.0 127.4,107.0 127.5,108.0 127.5,108.5 127.6,109.5 127.6,110.5 127.5,111.5 127.5,112.1 127.5,113.0 127.4,114.0 127.2,115.0 127.0,115.6 126.7,116.5 126.5,117.5 126.6,118.5 126.5,119.1 126.0,119.8 125.5,120.3 125.0,120.6 124.5,121.0 123.8,121.5 123.3,122.0 122.8,122.5 122.4,123.0 122.0,123.6 121.5,124.3 121.0,124.5Z M121.0,122.2 120.0,122.3 119.0,122.1 118.5,121.9 117.5,121.6 117.0,121.5 116.0,121.0 115.5,120.6 115.0,120.1 114.5,119.7 114.0,119.4 113.0,119.1 112.5,118.9 111.8,118.5 111.1,118.0 110.7,117.5 110.5,117.0 110.2,116.0 110.0,115.0 109.8,114.5 109.5,113.7 109.1,113.0 108.7,112.5 108.1,112.0 107.5,111.7 106.5,111.6 106.0,111.5 105.0,111.2 104.4,111.0 103.5,110.7 102.9,110.5 102.0,110.1 101.5,109.8 101.0,109.5 100.0,109.0 99.5,108.9 98.5,108.8 97.5,108.6 97.0,108.3 96.5,107.8 96.0,107.0 95.8,106.5 95.5,106.0 95.0,105.2 94.7,104.5 94.4,104.0 94.0,103.1 93.8,102.5 93.9,101.5 94.1,101.0 94.5,100.0 94.7,99.5 94.8,98.5 94.9,97.5 95.0,97.0 95.5,96.2 96.0,95.7 96.5,95.3 97.2,95.0 98.0,94.7 98.7,94.5 99.5,94.2 100.0,93.9 100.5,93.5 101.1,93.0 101.8,92.5 102.5,92.1 103.0,92.0 104.0,92.0 104.5,92.0 105.5,92.2 106.5,92.2 107.5,92.3 108.3,92.5 109.0,92.8 109.5,93.2 110.1,93.5 111.0,94.0 111.5,94.3 112.0,94.6 112.5,95.1 113.0,95.7 113.5,96.3 114.0,96.7 114.5,97.1 115.0,97.5 115.6,98.0 116.2,98.5 117.0,98.9 117.5,99.0 118.5,99.1 119.5,99.2 120.5,99.5 121.0,99.7 121.5,100.0 122.0,100.5 122.5,101.0 123.0,101.7 123.5,102.3 124.0,102.8 124.5,103.4 124.9,104.0 125.3,104.5 125.6,105.0 126.0,105.7 126.4,106.5 126.5,107.0 126.7,108.0 126.8,109.0 126.9,110.0 126.9,111.0 126.8,112.0 126.8,113.0 126.6,114.0 126.5,114.5 126.0,115.4 125.7,116.0 125.4,116.5 125.1,117.5 125.0,118.2 124.7,119.0 124.3,119.5 123.8,120.0 123.2,120.5 122.6,121.0 122.0,121.5 121.5,121.9 121.0,122.2Z M121.0,120.7 120.0,120.8 119.0,120.6 118.5,120.4 117.5,120.1 117.0,119.8 116.5,119.5 115.8,119.0 115.0,118.5 114.5,118.3 113.5,118.0 113.0,117.8 112.5,117.5 112.0,117.0 111.7,116.0 111.5,115.1 111.4,114.5 111.0,113.5 110.8,113.0 110.5,112.3 110.2,111.5 110.1,110.5 110.3,109.5 110.5,108.8 110.5,108.2 110.0,107.7 109.0,108.0 108.5,108.4 108.1,109.0 107.6,109.5 107.0,109.8 106.0,109.7 105.5,109.5 104.5,109.1 104.0,108.9 103.0,108.6 102.5,108.4 101.7,108.0 101.0,107.7 100.5,107.5 99.5,107.3 98.8,107.0 98.1,106.5 97.6,106.0 97.1,105.5 96.6,105.0 96.1,104.5 95.8,104.0 95.5,103.3 95.3,102.5 95.5,101.6 95.7,101.0 95.9,100.0 96.0,99.0 96.0,98.4 96.2,97.5 96.6,97.0 97.3,96.5 98.0,96.3 99.0,96.0 99.5,95.8 100.1,95.5 100.8,95.0 101.4,94.5 101.9,94.0 102.5,93.5 103.0,93.3 104.0,93.2 105.0,93.3 106.0,93.3 107.0,93.3 108.0,93.5 108.5,93.8 109.0,94.0 109.8,94.5 110.5,94.9 111.0,95.2 111.5,95.7 112.0,96.3 112.4,97.0 112.6,97.5 113.0,98.1 113.5,98.6 114.2,99.0 115.0,99.5 115.5,99.8 116.1,100.0 117.0,100.2 118.0,100.2 119.0,100.3 119.9,100.5 120.5,100.8 121.0,101.3 121.5,101.8 122.0,102.4 122.5,103.0 122.9,103.5 123.3,104.0 123.7,104.5 124.0,105.0 124.5,105.6 125.0,106.3 125.4,107.0 125.7,107.5 125.9,108.5 126.0,109.0 126.2,110.0 126.3,111.0 126.2,112.0 126.1,113.0 126.0,113.5 125.5,114.5 125.2,115.0 124.9,115.5 124.5,116.1 124.0,117.0 123.8,117.5 123.5,118.2 123.0,119.0 122.6,119.5 122.1,120.0 121.5,120.5 121.0,120.7Z M106.5,107.6 105.5,107.7 104.5,107.5 104.0,107.4 103.1,107.0 102.5,106.6 102.0,106.3 101.5,106.0 100.5,105.5 100.0,105.4 99.2,105.0 98.5,104.5 98.0,104.1 97.5,103.5 97.4,103.0 97.4,102.0 97.5,101.5 97.6,100.5 97.6,99.5 98.0,98.5 98.5,98.1 99.0,97.8 99.5,97.4 100.1,97.0 100.8,96.5 101.4,96.0 102.0,95.5 102.5,95.2 103.0,94.9 104.0,94.6 105.0,94.5 106.0,94.6 107.0,94.8 107.8,95.0 108.5,95.3 109.0,95.5 110.0,96.0 110.5,96.5 110.8,97.0 111.0,97.7 111.2,98.5 111.5,99.1 112.0,99.8 112.5,100.2 113.0,100.7 113.4,101.5 113.2,102.5 113.0,103.5 112.9,104.0 112.5,104.7 112.0,105.2 111.3,105.5 110.5,105.8 109.7,106.0 109.0,106.2 108.3,106.5 107.5,107.0 107.0,107.3 106.5,107.6Z M121.0,119.1 120.0,119.2 119.3,119.0 118.5,118.8 117.5,118.5 117.0,118.3 116.3,118.0 115.5,117.5 115.0,117.2 114.5,116.9 113.9,116.5 113.4,116.0 113.0,115.3 112.7,114.5 112.5,114.0 112.0,113.0 111.8,112.5 111.5,111.5 111.4,111.0 111.5,110.4 111.8,109.5 112.1,109.0 112.5,108.3 113.0,107.7 113.5,107.1 113.8,106.5 113.9,105.5 113.9,104.5 114.1,104.0 114.5,103.1 114.7,102.5 115.0,102.0 116.0,101.5 116.5,101.5 117.5,101.5 118.0,101.5 119.0,101.7 119.6,102.0 120.1,102.5 120.6,103.0 121.1,103.5 121.6,104.0 122.2,104.5 122.7,105.0 123.1,105.5 123.5,106.1 124.0,106.9 124.4,107.5 124.7,108.0 125.0,108.8 125.2,109.5 125.5,110.5 125.6,111.0 125.6,112.0 125.5,112.5 125.2,113.5 124.9,114.0 124.5,114.6 124.0,115.3 123.5,116.0 123.2,116.5 123.0,117.0 122.5,117.7 122.0,118.4 121.5,118.8 121.0,119.1Z M105.5,106.1 104.5,106.1 104.0,105.9 103.2,105.5 102.5,105.1 102.0,104.9 101.2,104.5 100.5,104.2 100.0,103.9 99.5,103.5 99.0,102.5 99.0,102.0 99.0,101.0 99.0,100.5 99.3,99.5 99.6,99.0 100.0,98.5 100.5,97.9 101.0,97.5 101.6,97.0 102.4,96.5 103.0,96.1 103.5,95.9 104.5,95.7 105.5,95.8 106.3,96.0 107.0,96.2 107.6,96.5 108.5,96.9 109.0,97.2 109.5,97.7 110.0,98.5 110.2,99.0 110.5,99.8 110.8,100.5 111.0,101.3 111.2,102.0 111.2,103.0 111.0,103.5 110.5,104.1 109.9,104.5 109.0,104.9 108.5,105.1 107.5,105.4 107.0,105.5 106.0,105.9 105.5,106.1Z M120.5,117.5 119.5,117.6 118.5,117.5 118.0,117.4 117.0,117.1 116.5,116.8 116.0,116.5 115.4,116.0 114.9,115.5 114.5,114.9 114.0,114.0 113.8,113.5 113.5,113.0 113.0,112.0 112.9,111.5 112.8,110.5 113.0,110.0 113.5,109.3 114.0,108.7 114.5,108.1 114.9,107.5 115.1,107.0 115.4,106.0 115.6,105.5 116.0,104.6 116.4,104.0 117.0,103.6 118.0,103.7 118.9,104.0 119.5,104.2 120.1,104.5 121.0,104.9 121.5,105.2 122.0,105.6 122.5,106.3 123.0,107.0 123.2,107.5 123.5,108.1 123.9,109.0 124.1,109.5 124.5,110.3 124.8,111.0 124.8,112.0 124.5,113.0 124.2,113.5 123.9,114.0 123.5,114.5 123.0,115.2 122.5,116.0 122.1,116.5 121.6,117.0 121.0,117.4 120.5,117.5Z M106.0,104.0 105.0,104.2 104.0,104.1 103.5,104.0 102.5,103.6 102.0,103.4 101.3,103.0 100.8,102.5 100.5,101.9 100.3,101.0 100.4,100.0 100.6,99.5 101.0,98.8 101.5,98.3 102.0,97.9 102.8,97.5 103.5,97.2 104.0,97.0 105.0,96.9 105.5,97.0 106.5,97.3 107.1,97.5 108.0,97.9 108.5,98.3 109.0,98.8 109.4,99.5 109.5,100.0 109.6,101.0 109.5,101.6 109.1,102.5 108.6,103.0 108.0,103.4 107.5,103.6 106.5,103.9 106.0,104.0Z M119.5,116.5 118.9,116.5 118.0,116.2 117.5,115.8 117.0,115.4 116.5,114.9 116.0,114.4 115.5,113.6 115.3,113.0 115.2,112.0 115.3,111.0 115.5,110.2 115.7,109.5 116.0,108.5 116.2,108.0 116.5,107.0 116.8,106.5 117.2,106.0 118.0,105.6 118.5,105.5 119.5,105.4 120.0,105.5 121.0,106.0 121.5,106.4 121.9,107.0 122.2,107.5 122.5,108.2 122.7,109.0 123.0,110.0 123.0,110.5 123.2,111.5 123.0,112.5 122.9,113.0 122.5,114.0 122.2,114.5 122.0,115.0 121.5,115.6 121.0,116.1 120.0,116.5 119.5,116.5Z" fill="none" stroke="#000" stroke-width="1.0"/>
<rect x="96.7" y="64.2" width="56.3" height="41.7" fill="none" stroke="#000" stroke-width="2" stroke-dasharray="5,3.3"/>
<rect x="111.5" y="142.4" width="39.5" height="55.1" fill="none" stroke="#000" stroke-width="1.8"/>
<text x="162.6" y="96.5" font-size="18" font-family="Liberation Serif" font-weight="normal" text-anchor="start" fill="#000" textLength="33.1" lengthAdjust="spacingAndGlyphs">53.6</text>
<text x="162.6" y="181.5" font-size="18" font-family="Liberation Serif" font-weight="normal" text-anchor="start" fill="#000" textLength="21.1" lengthAdjust="spacingAndGlyphs">2.8</text>
<line x1="37.5" y1="198.0" x2="37.5" y2="201.0" stroke="#000" stroke-width="1.3"/>
<line x1="49.8" y1="198.0" x2="49.8" y2="200.0" stroke="#000" stroke-width="0.9"/>
<line x1="56.9" y1="198.0" x2="56.9" y2="200.0" stroke="#000" stroke-width="0.9"/>
<line x1="62.0" y1="198.0" x2="62.0" y2="200.0" stroke="#000" stroke-width="0.9"/>
<line x1="65.9" y1="198.0" x2="65.9" y2="200.0" stroke="#000" stroke-width="0.9"/>
<line x1="69.2" y1="198.0" x2="69.2" y2="200.0" stroke="#000" stroke-width="0.9"/>
<line x1="71.9" y1="198.0" x2="71.9" y2="200.0" stroke="#000" stroke-width="0.9"/>
<line x1="74.3" y1="198.0" x2="74.3" y2="200.0" stroke="#000" stroke-width="0.9"/>
<line x1="76.3" y1="198.0" x2="76.3" y2="200.0" stroke="#000" stroke-width="0.9"/>
<text x="38.5" y="216.3" font-size="9.5" font-family="Liberation Serif" text-anchor="middle">10</text>
<text x="43.5" y="212.1" font-size="5.7" font-family="Liberation Serif">0</text>
<line x1="78.2" y1="198.0" x2="78.2" y2="201.0" stroke="#000" stroke-width="1.3"/>
<line x1="90.5" y1="198.0" x2="90.5" y2="200.0" stroke="#000" stroke-width="0.9"/>
<line x1="97.6" y1="198.0" x2="97.6" y2="200.0" stroke="#000" stroke-width="0.9"/>
<line x1="102.7" y1="198.0" x2="102.7" y2="200.0" stroke="#000" stroke-width="0.9"/>
<line x1="106.6" y1="198.0" x2="106.6" y2="200.0" stroke="#000" stroke-width="0.9"/>
<line x1="109.9" y1="198.0" x2="109.9" y2="200.0" stroke="#000" stroke-width="0.9"/>
<line x1="112.6" y1="198.0" x2="112.6" y2="200.0" stroke="#000" stroke-width="0.9"/>
<line x1="115.0" y1="198.0" x2="115.0" y2="200.0" stroke="#000" stroke-width="0.9"/>
<line x1="117.0" y1="198.0" x2="117.0" y2="200.0" stroke="#000" stroke-width="0.9"/>
<text x="79.2" y="216.3" font-size="9.5" font-family="Liberation Serif" text-anchor="middle">10</text>
<text x="84.2" y="212.1" font-size="5.7" font-family="Liberation Serif">1</text>
<line x1="118.9" y1="198.0" x2="118.9" y2="201.0" stroke="#000" stroke-width="1.3"/>
<line x1="131.2" y1="198.0" x2="131.2" y2="200.0" stroke="#000" stroke-width="0.9"/>
<line x1="138.3" y1="198.0" x2="138.3" y2="200.0" stroke="#000" stroke-width="0.9"/>
<line x1="143.4" y1="198.0" x2="143.4" y2="200.0" stroke="#000" stroke-width="0.9"/>
<line x1="147.3" y1="198.0" x2="147.3" y2="200.0" stroke="#000" stroke-width="0.9"/>
<line x1="150.6" y1="198.0" x2="150.6" y2="200.0" stroke="#000" stroke-width="0.9"/>
<line x1="153.3" y1="198.0" x2="153.3" y2="200.0" stroke="#000" stroke-width="0.9"/>
<line x1="155.7" y1="198.0" x2="155.7" y2="200.0" stroke="#000" stroke-width="0.9"/>
<line x1="157.7" y1="198.0" x2="157.7" y2="200.0" stroke="#000" stroke-width="0.9"/>
<text x="119.9" y="216.3" font-size="9.5" font-family="Liberation Serif" text-anchor="middle">10</text>
<text x="124.9" y="212.1" font-size="5.7" font-family="Liberation Serif">2</text>
<line x1="159.6" y1="198.0" x2="159.6" y2="201.0" stroke="#000" stroke-width="1.3"/>
<line x1="171.9" y1="198.0" x2="171.9" y2="200.0" stroke="#000" stroke-width="0.9"/>
<line x1="179.0" y1="198.0" x2="179.0" y2="200.0" stroke="#000" stroke-width="0.9"/>
<line x1="184.1" y1="198.0" x2="184.1" y2="200.0" stroke="#000" stroke-width="0.9"/>
<line x1="188.0" y1="198.0" x2="188.0" y2="200.0" stroke="#000" stroke-width="0.9"/>
<line x1="191.3" y1="198.0" x2="191.3" y2="200.0" stroke="#000" stroke-width="0.9"/>
<line x1="194.0" y1="198.0" x2="194.0" y2="200.0" stroke="#000" stroke-width="0.9"/>
<line x1="196.4" y1="198.0" x2="196.4" y2="200.0" stroke="#000" stroke-width="0.9"/>
<line x1="198.4" y1="198.0" x2="198.4" y2="200.0" stroke="#000" stroke-width="0.9"/>
<text x="160.6" y="216.3" font-size="9.5" font-family="Liberation Serif" text-anchor="middle">10</text>
<text x="165.6" y="212.1" font-size="5.7" font-family="Liberation Serif">3</text>
<line x1="200.3" y1="198.0" x2="200.3" y2="201.0" stroke="#000" stroke-width="1.3"/>
<text x="201.3" y="216.3" font-size="9.5" font-family="Liberation Serif" text-anchor="middle">10</text>
<text x="206.2" y="212.1" font-size="5.7" font-family="Liberation Serif">4</text>
<line x1="34.5" y1="198.0" x2="37.5" y2="198.0" stroke="#000" stroke-width="1.3"/>
<line x1="35.0" y1="168.9" x2="37.5" y2="168.9" stroke="#000" stroke-width="1.3"/>
<text x="25.6" y="204.3" font-size="9.5" font-family="Liberation Serif" text-anchor="middle">10</text>
<text x="30.6" y="200.0" font-size="5.7" font-family="Liberation Serif">0</text>
<line x1="34.5" y1="156.4" x2="37.5" y2="156.4" stroke="#000" stroke-width="1.3"/>
<line x1="35.0" y1="127.3" x2="37.5" y2="127.3" stroke="#000" stroke-width="1.3"/>
<text x="25.6" y="162.6" font-size="9.5" font-family="Liberation Serif" text-anchor="middle">10</text>
<text x="30.6" y="158.4" font-size="5.7" font-family="Liberation Serif">1</text>
<line x1="34.5" y1="114.8" x2="37.5" y2="114.8" stroke="#000" stroke-width="1.3"/>
<line x1="35.0" y1="85.7" x2="37.5" y2="85.7" stroke="#000" stroke-width="1.3"/>
<text x="25.6" y="121.0" font-size="9.5" font-family="Liberation Serif" text-anchor="middle">10</text>
<text x="30.6" y="116.7" font-size="5.7" font-family="Liberation Serif">2</text>
<line x1="34.5" y1="73.1" x2="37.5" y2="73.1" stroke="#000" stroke-width="1.3"/>
<line x1="35.0" y1="44.0" x2="37.5" y2="44.0" stroke="#000" stroke-width="1.3"/>
<text x="25.6" y="79.4" font-size="9.5" font-family="Liberation Serif" text-anchor="middle">10</text>
<text x="30.6" y="75.1" font-size="5.7" font-family="Liberation Serif">3</text>
<line x1="34.5" y1="31.5" x2="37.5" y2="31.5" stroke="#000" stroke-width="1.3"/>
<text x="25.6" y="37.8" font-size="9.5" font-family="Liberation Serif" text-anchor="middle">10</text>
<text x="30.6" y="33.5" font-size="5.7" font-family="Liberation Serif">4</text>
<rect x="37.5" y="31.5" width="162.8" height="166.5" fill="none" stroke="#000" stroke-width="2"/>
<g fill="#777"><rect x="41.7" y="336.9" width="1.15" height="1.15"/><rect x="54.1" y="337.2" width="1.15" height="1.15"/><rect x="58.1" y="321.7" width="1.15" height="1.15"/><rect x="66.7" y="313.8" width="1.15" height="1.15"/><rect x="101.2" y="298.0" width="1.15" height="1.15"/><rect x="79.5" y="316.7" width="1.15" height="1.15"/><rect x="65.7" y="318.2" width="1.15" height="1.15"/><rect x="81.8" y="297.7" width="1.15" height="1.15"/><rect x="105.9" y="297.6" width="1.15" height="1.15"/><rect x="145.9" y="402.1" width="1.15" height="1.15"/><rect x="54.9" y="326.7" width="1.15" height="1.15"/><rect x="72.8" y="311.3" width="1.15" height="1.15"/><rect x="55.7" y="319.2" width="1.15" height="1.15"/><rect x="41.1" y="359.5" width="1.15" height="1.15"/><rect x="54.8" y="346.8" width="1.15" height="1.15"/><rect x="47.9" y="341.1" width="1.15" height="1.15"/><rect x="64.0" y="317.7" width="1.15" height="1.15"/><rect x="80.3" y="320.2" width="1.15" height="1.15"/><rect x="62.8" y="327.8" width="1.15" height="1.15"/><rect x="49.3" y="298.8" width="1.15" height="1.15"/><rect x="77.9" y="322.6" width="1.15" height="1.15"/><rect x="57.7" y="312.7" width="1.15" height="1.15"/><rect x="48.8" y="345.2" width="1.15" height="1.15"/><rect x="91.9" y="298.8" width="1.15" height="1.15"/><rect x="69.1" y="327.6" width="1.15" height="1.15"/><rect x="45.4" y="343.8" width="1.15" height="1.15"/><rect x="85.7" y="310.6" width="1.15" height="1.15"/><rect x="44.7" y="346.8" width="1.15" height="1.15"/><rect x="56.1" y="343.7" width="1.15" height="1.15"/><rect x="93.7" y="293.8" width="1.15" height="1.15"/><rect x="68.2" y="329.0" width="1.15" height="1.15"/><rect x="90.1" y="285.6" width="1.15" height="1.15"/><rect x="66.6" y="320.9" width="1.15" height="1.15"/><rect x="59.6" y="318.7" width="1.15" height="1.15"/><rect x="50.4" y="309.2" width="1.15" height="1.15"/><rect x="71.3" y="315.2" width="1.15" height="1.15"/><rect x="46.6" y="337.2" width="1.15" height="1.15"/><rect x="43.6" y="315.0" width="1.15" height="1.15"/><rect x="75.2" y="305.6" width="1.15" height="1.15"/><rect x="68.5" y="328.5" width="1.15" height="1.15"/><rect x="48.5" y="319.4" width="1.15" height="1.15"/><rect x="61.6" y="335.9" width="1.15" height="1.15"/><rect x="77.1" y="311.0" width="1.15" height="1.15"/><rect x="58.1" y="315.1" width="1.15" height="1.15"/><rect x="41.2" y="336.7" width="1.15" height="1.15"/><rect x="74.7" y="320.9" width="1.15" height="1.15"/><rect x="73.1" y="321.2" width="1.15" height="1.15"/><rect x="81.0" y="310.8" width="1.15" height="1.15"/><rect x="71.6" y="293.7" width="1.15" height="1.15"/><rect x="50.9" y="351.3" width="1.15" height="1.15"/><rect x="106.7" y="300.5" width="1.15" height="1.15"/><rect x="50.2" y="340.8" width="1.15" height="1.15"/><rect x="76.3" y="316.5" width="1.15" height="1.15"/><rect x="41.0" y="354.5" width="1.15" height="1.15"/><rect x="84.4" y="317.4" width="1.15" height="1.15"/><rect x="49.0" y="352.0" width="1.15" height="1.15"/><rect x="80.0" y="322.6" width="1.15" height="1.15"/><rect x="57.3" y="311.6" width="1.15" height="1.15"/><rect x="48.0" y="331.8" width="1.15" height="1.15"/><rect x="56.8" y="327.8" width="1.15" height="1.15"/><rect x="56.5" y="328.0" width="1.15" height="1.15"/><rect x="47.2" y="320.1" width="1.15" height="1.15"/><rect x="59.2" y="310.4" width="1.15" height="1.15"/><rect x="54.5" y="326.1" width="1.15" height="1.15"/><rect x="58.8" y="302.7" width="1.15" height="1.15"/><rect x="50.8" y="328.3" width="1.15" height="1.15"/><rect x="68.9" y="325.7" width="1.15" height="1.15"/><rect x="61.5" y="316.7" width="1.15" height="1.15"/><rect x="58.8" y="336.0" width="1.15" height="1.15"/><rect x="92.2" y="308.4" width="1.15" height="1.15"/><rect x="59.3" y="317.6" width="1.15" height="1.15"/><rect x="55.8" y="335.9" width="1.15" height="1.15"/><rect x="70.5" y="317.2" width="1.15" height="1.15"/><rect x="59.4" y="329.3" width="1.15" height="1.15"/><rect x="74.0" y="324.4" width="1.15" height="1.15"/><rect x="39.0" y="352.8" width="1.15" height="1.15"/><rect x="143.0" y="375.6" width="1.15" height="1.15"/><rect x="64.9" y="330.3" width="1.15" height="1.15"/><rect x="59.4" y="337.2" width="1.15" height="1.15"/><rect x="51.4" y="305.9" width="1.15" height="1.15"/><rect x="58.6" y="329.5" width="1.15" height="1.15"/><rect x="44.3" y="341.7" width="1.15" height="1.15"/><rect x="44.9" y="317.9" width="1.15" height="1.15"/><rect x="72.1" y="322.7" width="1.15" height="1.15"/><rect x="45.8" y="320.7" width="1.15" height="1.15"/><rect x="48.4" y="355.3" width="1.15" height="1.15"/><rect x="48.4" y="315.2" width="1.15" height="1.15"/><rect x="48.9" y="317.8" width="1.15" height="1.15"/><rect x="137.6" y="284.2" width="1.15" height="1.15"/><rect x="57.4" y="318.5" width="1.15" height="1.15"/><rect x="59.9" y="325.8" width="1.15" height="1.15"/><rect x="43.7" y="352.0" width="1.15" height="1.15"/><rect x="43.8" y="350.3" width="1.15" height="1.15"/><rect x="80.0" y="315.0" width="1.15" height="1.15"/><rect x="140.7" y="369.1" width="1.15" height="1.15"/><rect x="50.5" y="308.8" width="1.15" height="1.15"/><rect x="59.3" y="338.7" width="1.15" height="1.15"/><rect x="86.5" y="306.2" width="1.15" height="1.15"/><rect x="58.4" y="317.8" width="1.15" height="1.15"/><rect x="55.7" y="300.2" width="1.15" height="1.15"/><rect x="49.8" y="342.4" width="1.15" height="1.15"/><rect x="41.1" y="339.4" width="1.15" height="1.15"/><rect x="52.7" y="304.8" width="1.15" height="1.15"/><rect x="46.0" y="322.2" width="1.15" height="1.15"/><rect x="45.3" y="312.6" width="1.15" height="1.15"/><rect x="76.6" y="320.4" width="1.15" height="1.15"/><rect x="71.3" y="322.7" width="1.15" height="1.15"/><rect x="143.7" y="302.1" width="1.15" height="1.15"/><rect x="40.4" y="343.2" width="1.15" height="1.15"/><rect x="84.3" y="313.0" width="1.15" height="1.15"/><rect x="41.4" y="319.3" width="1.15" height="1.15"/><rect x="86.9" y="298.7" width="1.15" height="1.15"/><rect x="88.1" y="288.5" width="1.15" height="1.15"/><rect x="48.9" y="309.3" width="1.15" height="1.15"/><rect x="85.0" y="315.6" width="1.15" height="1.15"/><rect x="45.7" y="351.0" width="1.15" height="1.15"/><rect x="38.6" y="346.5" width="1.15" height="1.15"/><rect x="50.2" y="320.7" width="1.15" height="1.15"/><rect x="64.5" y="319.7" width="1.15" height="1.15"/><rect x="64.3" y="326.9" width="1.15" height="1.15"/><rect x="53.6" y="342.3" width="1.15" height="1.15"/><rect x="69.3" y="315.2" width="1.15" height="1.15"/><rect x="61.8" y="335.4" width="1.15" height="1.15"/><rect x="82.2" y="317.4" width="1.15" height="1.15"/><rect x="64.2" y="324.0" width="1.15" height="1.15"/><rect x="59.5" y="331.0" width="1.15" height="1.15"/><rect x="62.8" y="321.2" width="1.15" height="1.15"/><rect x="45.4" y="328.3" width="1.15" height="1.15"/><rect x="65.8" y="328.3" width="1.15" height="1.15"/><rect x="95.3" y="290.6" width="1.15" height="1.15"/><rect x="50.8" y="296.7" width="1.15" height="1.15"/><rect x="61.1" y="309.8" width="1.15" height="1.15"/><rect x="49.8" y="309.6" width="1.15" height="1.15"/><rect x="110.3" y="297.5" width="1.15" height="1.15"/><rect x="77.5" y="309.7" width="1.15" height="1.15"/><rect x="44.5" y="324.3" width="1.15" height="1.15"/><rect x="41.0" y="345.8" width="1.15" height="1.15"/><rect x="64.9" y="316.2" width="1.15" height="1.15"/><rect x="71.9" y="316.7" width="1.15" height="1.15"/><rect x="46.1" y="318.3" width="1.15" height="1.15"/><rect x="42.0" y="328.0" width="1.15" height="1.15"/><rect x="47.5" y="334.8" width="1.15" height="1.15"/><rect x="38.4" y="353.1" width="1.15" height="1.15"/><rect x="59.6" y="316.9" width="1.15" height="1.15"/><rect x="66.0" y="329.0" width="1.15" height="1.15"/><rect x="84.5" y="315.5" width="1.15" height="1.15"/><rect x="39.7" y="338.7" width="1.15" height="1.15"/><rect x="57.6" y="310.7" width="1.15" height="1.15"/><rect x="48.8" y="344.3" width="1.15" height="1.15"/><rect x="68.6" y="321.0" width="1.15" height="1.15"/></g>
<path d="M37.0,370.9 38.0,370.6 38.5,370.3 39.0,369.8 39.5,369.3 40.0,368.7 40.5,368.1 41.0,367.5 41.4,367.0 41.7,366.5 42.1,366.0 42.5,365.5 43.0,364.9 43.5,364.3 44.0,363.7 44.5,363.1 45.0,362.5 45.3,362.0 45.7,361.5 46.1,361.0 46.5,360.5 47.0,359.9 47.5,359.2 48.0,358.5 48.4,358.0 48.8,357.5 49.2,357.0 49.6,356.5 50.0,356.0 50.5,355.4 51.0,354.8 51.5,354.2 52.0,353.6 52.5,353.1 53.0,352.5 53.5,352.0 54.0,351.5 54.5,351.0 54.8,350.5 55.1,350.0 55.5,349.2 55.8,348.5 56.1,348.0 56.5,347.1 56.8,346.5 57.1,346.0 57.5,345.5 58.0,344.8 58.5,344.1 58.8,343.5 59.1,343.0 59.5,342.2 59.8,341.5 60.0,341.0 60.5,340.0 60.8,339.5 61.1,339.0 61.5,338.5 62.0,337.7 62.4,337.0 62.7,336.5 63.0,336.0 63.5,335.2 63.9,334.5 64.2,334.0 64.5,333.5 65.0,332.6 65.4,332.0 65.8,331.5 66.3,331.0 67.0,330.5 67.5,330.2 68.0,329.8 68.5,329.4 69.0,329.0 69.5,328.5 70.0,328.0 70.5,327.5 71.1,327.0 71.7,326.5 72.5,326.0 73.0,325.7 73.5,325.5 74.5,325.2 75.2,325.0 76.0,324.8 77.0,324.6 77.5,324.5 78.5,324.2 79.0,324.0 80.0,323.6 80.5,323.5 81.5,323.1 82.0,322.9 83.0,322.5 83.5,322.3 84.3,322.0 85.0,321.7 85.5,321.4 86.3,321.0 87.0,320.6 87.5,320.3 88.2,320.0 89.0,319.7 89.5,319.5 90.5,319.0 91.0,318.7 91.5,318.3 92.0,317.9 92.5,317.2 92.9,316.5 93.1,316.0 93.5,315.2 93.7,314.5 94.0,313.7 94.3,313.0 94.5,312.5 95.0,311.7 95.5,311.1 96.0,310.6 96.5,310.2 97.0,309.7 97.5,309.2 98.0,308.6 98.5,308.1 99.0,307.7 99.5,307.3 100.0,306.8 100.5,306.4 101.0,306.0 101.7,305.5 102.5,305.0 103.0,304.8 103.6,304.5 104.5,304.1 105.0,303.9 106.0,303.5 106.5,303.3 107.5,303.0 108.0,302.9 109.0,302.6 109.5,302.4 110.4,302.0 111.0,301.7 111.8,301.5 112.5,301.3 113.5,301.2 114.5,301.0 115.0,300.9 116.0,300.7 116.7,300.5 117.5,300.3 118.5,300.0 119.0,299.9 120.0,299.6 120.5,299.5 121.5,299.2 122.5,299.0 123.0,298.9 124.0,298.8 125.0,298.7 126.0,298.6 127.0,298.5 128.0,298.5 129.0,298.5 130.0,298.6 131.0,298.8 131.6,299.0 132.5,299.2 133.5,299.4 134.5,299.5 135.0,299.6 136.0,299.9 136.5,300.3 137.0,300.8 137.5,301.3 138.0,302.0 138.4,302.5 138.8,303.0 139.1,303.5 139.5,304.0 140.0,304.8 140.4,305.5 140.6,306.0 140.9,307.0 141.0,308.0 141.0,308.5 141.0,309.5 141.1,310.5 141.1,311.5 141.0,312.5 141.0,313.5 141.0,314.5 141.0,315.5 141.0,316.5 141.0,317.0 140.9,318.0 140.6,319.0 140.5,319.5 140.1,320.5 139.9,321.0 139.6,322.0 139.4,322.5 139.2,323.5 139.0,324.1 138.7,325.0 138.4,325.5 138.0,326.5 137.8,327.0 137.6,328.0 137.5,328.5 137.3,329.5 137.2,330.5 137.1,331.5 137.1,332.5 137.0,333.5 136.9,334.0 136.8,335.0 136.8,336.0 136.8,337.0 136.9,338.0 136.9,339.0 136.8,340.0 136.7,341.0 136.7,342.0 136.9,343.0 137.0,343.7 137.1,344.5 137.1,345.5 137.1,346.5 137.1,347.5 137.2,348.5 137.3,349.5 137.5,350.5 137.6,351.0 137.7,352.0 137.7,353.0 137.7,354.0 137.7,355.0 137.7,356.0 137.8,357.0 138.0,357.9 138.1,358.5 138.2,359.5 138.3,360.5 138.4,361.5 138.4,362.5 138.4,363.5 138.4,364.5 138.4,365.5 138.4,366.5 138.4,367.5 138.4,368.5 138.4,369.5 138.4,370.5 138.5,371.5 138.6,372.0 138.7,373.0 138.7,374.0 138.6,375.0 138.5,375.9 138.4,376.5 138.3,377.5 138.2,378.5 138.0,379.5 138.0,380.0 137.8,381.0 137.7,382.0 137.7,383.0 137.6,384.0 137.5,384.8 137.4,385.5 137.3,386.5 137.2,387.5 137.0,388.5 136.9,389.0 136.7,390.0 136.5,390.9 136.3,391.5 136.0,392.5 135.9,393.0 135.6,394.0 135.4,394.5 135.1,395.5 135.0,396.0 134.7,397.0 134.5,397.7 134.2,398.5 134.0,399.0 133.5,400.0 133.2,400.5 132.8,401.0 132.3,401.5 131.8,402.0 131.3,402.5 130.9,403.0 130.4,403.5 130.0,404.0 129.5,404.6 129.0,405.0 128.0,405.5 127.5,405.5 126.5,405.5 126.0,405.4 125.0,405.3 124.0,405.1 123.1,405.0 122.5,404.9 121.5,404.7 121.0,404.5 120.0,404.0 119.5,403.5 119.0,403.0 118.6,402.5 118.2,402.0 117.9,401.5 117.5,400.9 117.0,400.1 116.6,399.5 116.3,399.0 115.9,398.5 115.5,397.8 115.0,397.0 114.8,396.5 114.5,395.8 114.3,395.0 114.0,394.0 113.9,393.5 113.7,392.5 113.5,391.8 113.3,391.0 113.0,390.0 112.9,389.5 112.6,388.5 112.4,388.0 112.2,387.0 112.0,386.3 111.8,385.5 111.7,384.5 111.5,383.6 111.4,383.0 111.1,382.0 111.0,381.4 110.8,380.5 110.5,379.5 110.3,379.0 110.0,378.3 109.5,378.0 109.0,378.2 108.5,378.9 108.2,379.5 107.9,380.0 107.6,381.0 107.5,381.5 107.2,382.5 107.0,383.2 106.8,384.0 106.6,385.0 106.5,385.6 106.4,386.5 106.3,387.5 106.2,388.5 106.1,389.5 106.0,390.5 106.0,391.0 105.9,392.0 105.8,393.0 105.7,394.0 105.5,395.0 105.5,395.5 105.3,396.5 105.3,397.5 105.3,398.5 105.2,399.5 105.1,400.5 105.0,401.2 104.9,402.0 104.8,403.0 104.7,404.0 104.7,405.0 104.7,406.0 104.7,407.0 104.7,408.0 104.7,409.0 104.7,409.5 M37.0,373.4 38.0,373.2 38.6,373.0 39.5,372.5 40.0,372.2 40.5,371.7 41.0,371.2 41.5,370.6 41.9,370.0 42.3,369.5 42.6,369.0 43.0,368.5 43.5,367.8 44.0,367.2 44.5,366.5 44.9,366.0 45.3,365.5 45.8,365.0 46.2,364.5 46.6,364.0 47.0,363.4 47.5,362.7 48.0,362.0 48.4,361.5 48.8,361.0 49.2,360.5 49.7,360.0 50.2,359.5 50.8,359.0 51.2,358.5 51.6,358.0 52.0,357.4 52.5,356.7 52.9,356.0 53.3,355.5 53.7,355.0 54.2,354.5 54.8,354.0 55.4,353.5 56.0,353.0 56.5,352.5 56.9,352.0 57.3,351.5 57.6,351.0 58.0,350.5 58.5,350.0 59.0,349.5 59.6,349.0 60.1,348.5 60.6,348.0 61.0,347.5 61.5,346.5 61.6,346.0 61.8,345.0 62.0,344.0 62.1,343.5 62.4,342.5 62.6,342.0 62.9,341.0 63.1,340.5 63.5,339.5 63.7,339.0 64.0,338.3 64.4,337.5 64.7,337.0 65.0,336.5 65.5,335.7 65.9,335.0 66.1,334.5 66.5,333.7 66.9,333.0 67.2,332.5 67.7,332.0 68.4,331.5 69.0,331.0 69.5,330.6 70.0,330.2 70.5,329.8 71.0,329.4 71.6,329.0 72.3,328.5 73.0,328.0 73.5,327.7 74.0,327.4 74.8,327.0 75.5,326.7 76.3,326.5 77.0,326.3 78.0,326.1 78.7,326.0 79.5,325.8 80.5,325.6 81.0,325.4 82.0,325.2 82.8,325.0 83.5,324.8 84.5,324.5 85.0,324.4 86.0,324.1 86.5,323.9 87.5,323.6 88.0,323.4 89.0,323.2 89.8,323.0 90.5,322.8 91.5,322.6 92.0,322.4 92.5,322.0 93.0,321.5 93.5,320.9 94.0,320.1 94.3,319.5 94.6,319.0 95.0,318.1 95.2,317.5 95.5,316.8 95.8,316.0 96.0,315.4 96.4,314.5 96.6,314.0 97.0,313.2 97.5,312.5 97.9,312.0 98.3,311.5 98.8,311.0 99.3,310.5 99.7,310.0 100.2,309.5 100.7,309.0 101.3,308.5 102.0,308.0 102.5,307.6 103.0,307.3 103.5,307.0 104.5,306.5 105.0,306.3 105.7,306.0 106.5,305.7 107.0,305.5 108.0,305.1 108.5,305.0 109.5,304.7 110.0,304.5 111.0,304.1 111.5,303.9 112.5,303.5 113.0,303.4 114.0,303.2 115.0,303.1 115.5,303.0 116.5,302.7 117.2,302.5 118.0,302.3 119.0,302.0 119.5,301.9 120.5,301.7 121.3,301.5 122.0,301.4 123.0,301.3 124.0,301.1 124.8,301.0 125.5,300.9 126.5,300.8 127.5,300.8 128.5,300.8 129.5,300.9 130.0,301.0 131.0,301.3 132.0,301.5 132.5,301.6 133.5,301.9 134.0,302.1 134.7,302.5 135.3,303.0 135.9,303.5 136.4,304.0 136.8,304.5 137.1,305.0 137.5,305.6 138.0,306.5 138.2,307.0 138.5,308.0 138.6,308.5 138.8,309.5 138.9,310.5 138.9,311.5 139.0,312.5 139.0,313.0 139.1,314.0 139.2,315.0 139.2,316.0 139.0,317.0 138.9,317.5 138.6,318.5 138.5,319.0 138.1,320.0 138.0,320.5 137.6,321.5 137.5,322.0 137.1,323.0 136.8,323.5 136.5,324.1 136.0,324.9 135.6,325.5 135.3,326.0 135.0,326.7 134.7,327.5 134.5,328.3 134.4,329.0 134.2,330.0 134.0,330.6 133.8,331.5 133.7,332.5 133.8,333.5 133.9,334.5 134.0,335.5 134.0,336.0 134.2,337.0 134.4,338.0 134.5,338.5 134.7,339.5 134.8,340.5 134.9,341.5 135.0,342.1 135.1,343.0 135.3,344.0 135.4,345.0 135.5,345.6 135.6,346.5 135.7,347.5 135.8,348.5 135.9,349.5 136.0,350.0 136.2,351.0 136.3,352.0 136.3,353.0 136.3,354.0 136.4,355.0 136.4,356.0 136.5,357.0 136.5,357.5 136.7,358.5 136.8,359.5 137.0,360.5 137.0,361.0 137.1,362.0 137.1,363.0 137.1,364.0 137.1,365.0 137.1,366.0 137.1,367.0 137.1,368.0 137.1,369.0 137.1,370.0 137.1,371.0 137.2,372.0 137.3,373.0 137.3,374.0 137.2,375.0 137.1,376.0 137.0,376.6 136.9,377.5 136.8,378.5 136.6,379.5 136.5,380.4 136.4,381.0 136.4,382.0 136.3,383.0 136.2,384.0 136.1,385.0 136.0,386.0 135.9,386.5 135.8,387.5 135.6,388.5 135.5,389.0 135.2,390.0 135.0,390.7 134.8,391.5 134.6,392.5 134.4,393.0 134.2,394.0 134.0,394.7 133.8,395.5 133.5,396.3 133.3,397.0 133.0,397.6 132.5,398.5 132.2,399.0 131.9,399.5 131.5,400.0 131.0,400.6 130.5,401.1 130.0,401.6 129.5,402.2 129.0,402.7 128.5,403.1 128.0,403.5 127.0,403.9 126.0,403.9 125.0,403.8 124.0,403.6 123.2,403.5 122.5,403.3 121.6,403.0 121.0,402.7 120.5,402.4 120.0,402.0 119.5,401.5 119.0,401.0 118.5,400.3 118.0,399.6 117.6,399.0 117.3,398.5 117.0,397.9 116.5,397.0 116.2,396.5 115.9,396.0 115.5,395.0 115.3,394.5 115.0,393.5 114.9,393.0 114.6,392.0 114.5,391.5 114.3,390.5 114.0,389.5 113.9,389.0 113.7,388.0 113.5,387.3 113.3,386.5 113.1,385.5 113.0,384.9 112.9,384.0 112.7,383.0 112.5,382.0 112.4,381.5 112.2,380.5 112.0,379.5 111.9,379.0 111.7,378.0 111.5,377.0 111.4,376.5 111.1,375.5 110.9,375.0 110.4,374.5 109.5,374.1 108.5,374.1 107.5,374.5 107.0,375.0 106.7,375.5 106.5,376.0 106.2,377.0 106.0,378.0 105.9,378.5 105.6,379.5 105.5,380.1 105.3,381.0 105.1,382.0 105.0,383.0 104.9,383.5 104.8,384.5 104.7,385.5 104.6,386.5 104.5,387.5 104.5,388.0 104.4,389.0 104.3,390.0 104.3,391.0 104.2,392.0 104.1,393.0 104.0,393.6 103.9,394.5 103.8,395.5 103.7,396.5 103.7,397.5 103.7,398.5 103.6,399.5 103.5,400.3 103.4,401.0 103.2,402.0 103.1,403.0 103.1,404.0 103.1,405.0 103.1,406.0 103.2,407.0 103.2,408.0 103.2,409.0 103.2,409.5 M37.0,376.0 38.0,375.7 38.5,375.4 39.3,375.0 40.0,374.6 40.5,374.2 41.0,373.8 41.5,373.3 42.0,372.8 42.5,372.2 43.0,371.5 43.4,371.0 43.7,370.5 44.2,370.0 44.6,369.5 45.0,369.0 45.5,368.4 46.0,367.8 46.5,367.2 47.0,366.6 47.5,366.0 47.8,365.5 48.2,365.0 48.5,364.5 49.0,363.7 49.5,363.0 49.9,362.5 50.4,362.0 50.9,361.5 51.4,361.0 51.9,360.5 52.4,360.0 52.9,359.5 53.3,359.0 53.7,358.5 54.1,358.0 54.5,357.4 55.0,356.8 55.5,356.3 56.0,355.9 56.7,355.5 57.5,355.1 58.0,354.8 58.5,354.3 59.0,353.8 59.5,353.1 60.0,352.5 60.5,352.0 61.0,351.6 61.5,351.2 62.0,350.8 62.5,350.4 63.0,350.0 63.5,349.4 64.0,348.8 64.5,348.0 64.7,347.5 64.8,346.5 64.8,345.5 64.8,344.5 64.9,343.5 65.0,343.0 65.2,342.0 65.3,341.0 65.5,340.1 65.7,339.5 66.0,338.5 66.2,338.0 66.5,337.2 66.8,336.5 67.0,336.0 67.4,335.0 67.6,334.5 68.0,333.6 68.5,333.0 69.0,332.5 69.5,332.1 70.0,331.7 70.5,331.4 71.1,331.0 71.9,330.5 72.5,330.2 73.0,329.9 73.7,329.5 74.4,329.0 75.0,328.6 75.5,328.4 76.4,328.0 77.0,327.8 78.0,327.6 78.5,327.5 79.5,327.3 80.5,327.1 81.2,327.0 82.0,326.9 83.0,326.8 84.0,326.7 85.0,326.6 85.5,326.5 86.5,326.3 87.5,326.2 88.5,326.1 89.5,326.1 90.5,326.1 91.5,326.3 92.4,326.5 93.0,326.7 94.0,327.0 94.5,327.1 95.5,327.0 96.0,326.7 96.5,326.1 96.6,325.5 96.6,324.5 96.6,323.5 96.7,322.5 96.9,321.5 97.0,320.5 97.0,320.0 97.2,319.0 97.4,318.0 97.5,317.5 97.8,316.5 98.0,315.8 98.3,315.0 98.6,314.5 99.0,313.7 99.5,313.0 99.9,312.5 100.3,312.0 100.8,311.5 101.3,311.0 101.9,310.5 102.5,310.0 103.0,309.6 103.5,309.2 104.0,308.9 104.6,308.5 105.5,308.0 106.0,307.8 106.7,307.5 107.5,307.2 108.0,307.0 109.0,306.5 109.5,306.4 110.5,306.0 111.0,305.8 111.9,305.5 112.5,305.3 113.4,305.0 114.0,304.9 115.0,304.7 116.0,304.5 116.5,304.4 117.5,304.1 118.0,304.0 119.0,303.7 120.0,303.6 120.8,303.5 121.5,303.4 122.5,303.3 123.5,303.2 124.5,303.1 125.0,303.0 126.0,302.8 127.0,302.7 128.0,302.7 129.0,302.9 129.5,303.0 130.5,303.4 131.0,303.6 132.0,304.0 132.5,304.2 133.2,304.5 134.0,305.0 134.5,305.3 135.0,305.8 135.5,306.4 135.8,307.0 136.0,307.5 136.3,308.5 136.5,309.2 136.7,310.0 137.0,311.0 137.1,311.5 137.3,312.5 137.5,313.5 137.6,314.0 137.7,315.0 137.6,316.0 137.5,316.6 137.2,317.5 137.0,318.0 136.6,319.0 136.5,319.5 136.1,320.5 136.0,321.0 135.7,322.0 135.4,322.5 135.0,323.2 134.5,323.8 134.0,324.4 133.5,325.0 133.1,325.5 132.7,326.0 132.3,326.5 131.9,327.0 131.5,327.5 131.0,328.2 130.5,328.8 130.0,329.5 129.6,330.0 129.2,330.5 128.9,331.0 128.6,332.0 128.9,333.0 129.3,333.5 129.8,334.0 130.3,334.5 130.8,335.0 131.1,335.5 131.5,336.3 131.8,337.0 132.0,337.6 132.4,338.5 132.6,339.0 133.0,339.8 133.3,340.5 133.5,341.4 133.6,342.0 133.7,343.0 133.9,344.0 134.0,344.5 134.2,345.5 134.5,346.5 134.6,347.0 134.7,348.0 134.8,349.0 135.0,350.0 135.1,350.5 135.3,351.5 135.4,352.5 135.4,353.5 135.4,354.5 135.5,355.5 135.5,356.0 135.6,357.0 135.6,358.0 135.8,359.0 135.9,360.0 136.0,360.7 136.1,361.5 136.2,362.5 136.2,363.5 136.2,364.5 136.2,365.5 136.2,366.5 136.2,367.5 136.2,368.5 136.1,369.5 136.1,370.5 136.1,371.5 136.2,372.5 136.3,373.5 136.3,374.5 136.2,375.5 136.0,376.5 136.0,377.0 135.8,378.0 135.7,379.0 135.6,380.0 135.5,380.8 135.5,381.5 135.4,382.5 135.3,383.5 135.2,384.5 135.1,385.5 135.0,386.1 134.9,387.0 134.6,388.0 134.5,388.5 134.2,389.5 134.0,390.3 133.8,391.0 133.6,392.0 133.5,392.5 133.3,393.5 133.1,394.5 133.0,395.0 132.6,396.0 132.4,396.5 132.0,397.3 131.6,398.0 131.2,398.5 130.8,399.0 130.4,399.5 129.9,400.0 129.4,400.5 129.0,401.0 128.5,401.5 127.9,402.0 127.1,402.5 126.5,402.7 125.5,402.7 124.5,402.6 123.9,402.5 123.0,402.3 122.0,402.0 121.5,401.8 121.0,401.5 120.3,401.0 119.7,400.5 119.3,400.0 118.9,399.5 118.5,398.9 118.0,398.1 117.7,397.5 117.4,397.0 117.0,396.2 116.6,395.5 116.4,395.0 116.0,394.0 115.8,393.5 115.5,392.5 115.4,392.0 115.2,391.0 115.0,390.3 114.8,389.5 114.6,388.5 114.5,388.0 114.3,387.0 114.1,386.0 114.0,385.5 113.8,384.5 113.7,383.5 113.5,382.5 113.4,382.0 113.2,381.0 113.1,380.0 113.0,379.5 112.8,378.5 112.6,377.5 112.5,376.8 112.4,376.0 112.1,375.0 112.0,374.5 111.5,373.5 111.1,373.0 110.7,372.5 110.1,372.0 109.5,371.5 109.0,371.1 108.5,370.7 108.0,370.3 107.5,369.9 107.0,369.5 106.4,369.0 105.7,368.5 105.0,368.3 104.5,368.5 104.0,369.3 103.8,370.0 103.6,371.0 103.5,371.7 103.5,372.5 103.5,373.3 103.6,374.0 103.8,375.0 103.9,376.0 104.0,377.0 103.9,378.0 103.7,379.0 103.5,380.0 103.4,380.5 103.3,381.5 103.3,382.5 103.3,383.5 103.4,384.5 103.3,385.5 103.3,386.5 103.2,387.5 103.1,388.5 103.0,389.5 103.0,390.0 102.9,391.0 102.8,392.0 102.8,393.0 102.7,394.0 102.6,395.0 102.6,396.0 102.6,397.0 102.6,398.0 102.5,398.7 102.4,399.5 102.3,400.5 102.1,401.5 102.0,402.3 101.9,403.0 101.9,404.0 101.9,405.0 101.9,406.0 102.0,407.0 102.0,407.6 102.0,408.5 102.0,409.5 102.0,409.5 M37.0,379.0 37.5,378.9 38.3,378.5 39.0,378.0 39.5,377.5 40.0,377.0 40.5,376.5 41.0,376.0 41.5,375.5 42.0,375.0 42.5,374.5 42.9,374.0 43.3,373.5 43.6,373.0 44.0,372.5 44.5,371.8 45.0,371.2 45.5,370.7 46.0,370.1 46.5,369.6 47.0,369.0 47.4,368.5 47.8,368.0 48.3,367.5 48.7,367.0 49.1,366.5 49.5,365.9 50.0,365.1 50.4,364.5 50.7,364.0 51.1,363.5 51.6,363.0 52.0,362.5 52.5,362.0 53.0,361.5 53.5,361.0 54.0,360.4 54.5,359.9 55.0,359.4 55.5,358.9 56.0,358.5 56.6,358.0 57.4,357.5 58.0,357.1 58.5,356.9 59.0,356.5 59.7,356.0 60.3,355.5 60.8,355.0 61.3,354.5 61.8,354.0 62.4,353.5 63.0,353.1 63.5,352.9 64.3,352.5 65.0,352.2 65.5,351.9 66.5,351.5 67.0,351.3 67.7,351.0 68.5,350.7 69.0,350.4 69.6,350.0 70.0,349.0 69.7,348.0 69.5,347.3 69.3,346.5 69.0,345.7 68.7,345.0 68.5,344.5 68.0,343.6 67.7,343.0 67.5,342.5 67.2,341.5 67.2,340.5 67.4,339.5 67.5,338.8 67.7,338.0 68.0,337.0 68.2,336.5 68.5,335.6 68.7,335.0 69.0,334.3 69.5,333.6 70.0,333.1 70.5,332.7 71.0,332.3 71.5,332.0 72.5,331.5 73.0,331.3 73.5,331.0 74.4,330.5 75.0,330.1 75.5,329.8 76.1,329.5 77.0,329.1 77.5,328.9 78.5,328.7 79.5,328.5 80.0,328.4 81.0,328.3 82.0,328.3 83.0,328.3 84.0,328.2 85.0,328.2 86.0,328.2 87.0,328.2 88.0,328.4 88.6,328.5 89.5,328.7 90.5,329.0 91.0,329.1 92.0,329.5 92.5,329.6 93.3,330.0 94.0,330.4 94.5,330.6 95.3,331.0 96.0,331.3 96.5,331.6 97.1,332.0 97.6,332.5 98.0,333.2 98.4,334.0 98.8,334.5 99.5,335.0 100.0,335.2 101.0,335.3 102.0,335.3 103.0,335.3 104.0,335.1 104.5,335.0 105.5,334.7 106.4,335.0 107.0,335.5 107.4,336.0 108.0,336.4 108.6,336.0 109.0,335.5 109.3,334.5 109.0,333.9 108.5,333.5 108.0,333.0 107.5,332.4 107.0,332.0 106.2,331.5 105.6,331.0 105.2,330.5 104.9,330.0 104.5,329.4 104.0,328.8 103.5,328.4 103.0,328.0 102.3,327.5 101.9,327.0 101.5,326.5 101.0,325.5 100.8,325.0 100.5,324.3 100.2,323.5 100.0,322.7 99.8,322.0 99.6,321.0 99.5,320.5 99.3,319.5 99.2,318.5 99.2,317.5 99.3,316.5 99.5,316.0 100.0,315.0 100.3,314.5 100.6,314.0 101.0,313.5 101.5,312.9 102.0,312.4 102.5,311.9 103.0,311.5 103.7,311.0 104.4,310.5 105.0,310.1 105.5,309.7 106.0,309.4 106.9,309.0 107.5,308.7 108.0,308.5 109.0,308.0 109.5,307.8 110.3,307.5 111.0,307.3 111.8,307.0 112.5,306.8 113.3,306.5 114.0,306.3 115.0,306.0 115.5,305.9 116.5,305.7 117.2,305.5 118.0,305.3 119.0,305.1 120.0,305.0 120.5,305.0 121.5,304.9 122.5,304.7 123.5,304.6 124.5,304.5 125.0,304.5 126.0,304.3 127.0,304.2 128.0,304.3 128.8,304.5 129.5,304.8 130.0,305.0 131.0,305.5 131.5,305.8 132.0,306.0 132.8,306.5 133.4,307.0 133.9,307.5 134.2,308.0 134.5,308.7 134.8,309.5 135.0,310.0 135.4,311.0 135.6,311.5 135.9,312.5 136.1,313.0 136.3,314.0 136.4,315.0 136.3,316.0 136.0,316.8 135.7,317.5 135.5,318.0 135.1,319.0 134.9,319.5 134.6,320.5 134.4,321.0 134.0,321.9 133.6,322.5 133.1,323.0 132.6,323.5 132.1,324.0 131.5,324.5 131.0,324.9 130.5,325.3 130.0,325.6 129.5,326.0 128.8,326.5 128.2,327.0 127.6,327.5 127.0,327.9 126.5,328.3 126.0,328.5 125.0,328.9 124.5,329.1 123.5,329.3 122.5,329.4 122.0,329.5 121.0,329.9 120.5,330.2 119.9,330.5 119.2,331.0 118.8,331.5 119.0,332.5 119.5,332.7 120.5,333.0 121.0,333.2 121.8,333.5 122.5,333.7 123.5,333.9 124.5,333.9 125.0,334.0 125.9,334.5 126.5,335.0 127.0,335.4 127.5,335.8 128.0,336.1 128.6,336.5 129.2,337.0 129.6,337.5 130.0,338.0 130.5,338.7 131.0,339.4 131.4,340.0 131.7,340.5 132.0,341.0 132.3,342.0 132.5,343.0 132.6,343.5 132.8,344.5 133.0,345.1 133.3,346.0 133.5,346.8 133.6,347.5 133.8,348.5 134.0,349.5 134.1,350.0 134.3,351.0 134.5,352.0 134.5,352.5 134.6,353.5 134.6,354.5 134.7,355.5 134.7,356.5 134.8,357.5 134.8,358.5 134.9,359.5 135.0,360.0 135.2,361.0 135.3,362.0 135.4,363.0 135.4,364.0 135.4,365.0 135.4,366.0 135.4,367.0 135.4,368.0 135.3,369.0 135.3,370.0 135.3,371.0 135.3,372.0 135.4,373.0 135.5,374.0 135.4,375.0 135.3,376.0 135.1,377.0 135.0,377.5 134.8,378.5 134.7,379.5 134.7,380.5 134.6,381.5 134.6,382.5 134.5,383.5 134.5,384.0 134.3,385.0 134.2,386.0 134.0,386.8 133.8,387.5 133.5,388.5 133.4,389.0 133.1,390.0 133.0,390.5 132.8,391.5 132.6,392.5 132.5,393.3 132.4,394.0 132.1,395.0 132.0,395.5 131.5,396.5 131.2,397.0 130.8,397.5 130.4,398.0 130.0,398.5 129.5,399.0 129.0,399.5 128.5,400.0 128.0,400.5 127.5,401.0 126.7,401.5 126.0,401.7 125.0,401.7 124.0,401.6 123.5,401.5 122.5,401.2 122.0,401.0 121.0,400.5 120.5,400.2 120.0,399.8 119.5,399.2 119.0,398.5 118.7,398.0 118.5,397.5 118.0,396.7 117.7,396.0 117.4,395.5 117.0,394.6 116.7,394.0 116.5,393.4 116.2,392.5 116.0,391.9 115.8,391.0 115.6,390.0 115.5,389.5 115.3,388.5 115.1,387.5 115.0,387.0 114.8,386.0 114.6,385.0 114.5,384.4 114.4,383.5 114.3,382.5 114.1,381.5 114.0,381.0 113.8,380.0 113.7,379.0 113.5,378.1 113.4,377.5 113.3,376.5 113.1,375.5 113.0,374.9 112.8,374.0 112.5,373.1 112.3,372.5 112.0,371.9 111.5,371.0 111.2,370.5 111.0,370.0 110.5,369.1 110.2,368.5 109.9,368.0 109.5,367.2 109.2,366.5 109.0,365.9 108.7,365.0 108.5,364.4 108.0,363.5 107.8,363.0 107.5,362.2 107.3,361.5 107.0,360.5 106.8,360.0 106.5,359.3 106.1,358.5 105.9,358.0 105.7,357.0 105.5,356.2 105.1,355.5 104.5,355.3 103.7,355.5 103.0,355.8 102.0,356.0 101.5,356.0 100.5,356.0 99.5,356.0 98.5,356.1 97.5,356.5 97.1,357.0 97.1,358.0 97.5,359.0 97.7,359.5 98.0,360.5 98.2,361.0 98.6,361.5 99.1,362.0 99.6,362.5 100.0,363.0 100.3,364.0 100.4,365.0 100.3,366.0 100.0,367.0 99.9,367.5 99.8,368.5 99.9,369.5 100.0,370.0 100.4,371.0 100.6,371.5 100.9,372.5 101.1,373.0 101.3,374.0 101.5,374.8 101.7,375.5 101.9,376.5 102.0,377.4 102.0,378.0 102.0,378.5 101.9,379.5 101.8,380.5 101.8,381.5 101.8,382.5 101.9,383.5 102.0,384.0 102.1,385.0 102.1,386.0 102.1,387.0 102.0,387.7 101.9,388.5 101.9,389.5 101.8,390.5 101.8,391.5 101.7,392.5 101.7,393.5 101.6,394.5 101.6,395.5 101.6,396.5 101.6,397.5 101.5,398.5 101.5,399.0 101.4,400.0 101.2,401.0 101.0,402.0 101.0,402.5 100.9,403.5 100.9,404.5 100.9,405.5 100.9,406.5 101.0,407.5 101.0,408.5 101.0,409.5 101.0,409.5 M113.0,328.0 112.0,328.2 111.0,328.1 110.5,327.9 109.5,327.5 109.0,327.3 108.1,327.0 107.5,326.8 107.0,326.5 106.3,326.0 105.7,325.5 105.0,325.0 104.5,324.7 104.0,324.3 103.5,324.0 103.0,323.5 102.5,322.9 102.0,322.1 101.7,321.5 101.5,321.0 101.1,320.0 100.9,319.5 100.6,318.5 100.5,318.0 100.4,317.0 100.5,316.5 100.9,315.5 101.2,315.0 101.6,314.5 102.0,314.0 102.5,313.5 103.0,313.0 103.7,312.5 104.5,312.0 105.0,311.7 105.5,311.4 106.1,311.0 106.8,310.5 107.5,310.1 108.0,309.8 108.6,309.5 109.5,309.1 110.0,308.9 111.0,308.6 111.5,308.4 112.5,308.1 113.0,307.9 114.0,307.6 114.5,307.4 115.5,307.1 116.0,307.0 117.0,306.7 117.8,306.5 118.5,306.4 119.5,306.3 120.5,306.2 121.5,306.1 122.1,306.0 123.0,305.8 124.0,305.7 125.0,305.6 126.0,305.5 126.5,305.5 127.2,305.5 128.0,305.6 129.0,306.0 129.5,306.3 130.0,306.6 130.6,307.0 131.4,307.5 132.0,308.0 132.5,308.4 133.0,309.0 133.3,309.5 133.5,310.0 133.9,311.0 134.2,311.5 134.5,312.1 134.9,313.0 135.1,313.5 135.2,314.5 135.2,315.5 135.0,316.0 134.6,317.0 134.4,317.5 134.0,318.5 133.8,319.0 133.5,320.0 133.3,320.5 133.0,321.1 132.5,321.7 132.0,322.2 131.5,322.6 130.9,323.0 130.1,323.5 129.5,323.8 129.0,324.1 128.0,324.5 127.5,324.8 127.0,325.0 126.0,325.5 125.5,325.6 124.5,325.7 123.5,325.7 122.5,325.8 121.5,325.9 121.0,326.0 120.0,326.4 119.5,326.6 118.5,327.0 118.0,327.2 117.4,327.5 116.5,327.8 115.5,328.0 114.5,328.0 113.5,328.0 113.0,328.0Z M101.0,352.7 100.0,352.7 99.2,352.5 98.5,352.1 98.0,351.7 97.5,351.4 96.9,351.0 96.0,350.5 95.5,350.2 95.0,350.0 94.0,349.7 93.0,349.8 92.0,350.0 91.5,350.1 90.5,350.3 89.9,350.5 89.0,351.0 88.5,351.3 88.0,351.7 87.3,352.0 87.0,352.0 86.4,351.5 85.8,351.0 85.0,350.5 84.5,350.3 83.5,350.1 82.6,350.0 82.0,350.0 81.0,349.9 80.0,349.9 79.0,349.7 78.5,349.5 77.5,349.1 77.0,348.9 76.0,348.5 75.5,348.4 74.5,348.1 74.0,348.0 73.1,347.5 72.5,347.0 72.1,346.5 71.8,346.0 71.5,345.5 71.0,344.7 70.5,344.0 70.1,343.5 69.7,343.0 69.3,342.5 69.0,342.0 68.6,341.0 68.5,340.0 68.7,339.0 68.9,338.0 69.1,337.5 69.5,336.5 69.7,336.0 70.0,335.1 70.3,334.5 70.6,334.0 71.1,333.5 71.8,333.0 72.5,332.6 73.0,332.4 73.8,332.0 74.5,331.7 75.0,331.4 75.7,331.0 76.5,330.5 77.0,330.3 77.8,330.0 78.5,329.8 79.5,329.7 80.5,329.6 81.5,329.5 82.4,329.5 83.0,329.5 84.0,329.5 84.8,329.5 85.5,329.6 86.5,329.7 87.5,330.0 88.0,330.2 88.9,330.5 89.5,330.8 90.1,331.0 91.0,331.4 91.5,331.7 92.0,332.1 92.6,332.5 93.1,333.0 93.6,333.5 94.0,334.2 94.4,335.0 94.6,335.5 94.9,336.5 95.0,337.3 95.1,338.0 95.3,339.0 95.5,339.7 95.9,340.5 96.3,341.0 97.0,341.3 98.0,341.1 98.5,340.9 99.2,340.5 100.0,340.1 100.5,339.9 101.5,339.7 102.5,339.8 103.5,340.0 104.0,340.2 104.5,340.5 105.3,341.0 106.0,341.5 106.5,342.0 107.0,342.5 107.4,343.0 107.7,343.5 108.0,344.5 107.7,345.5 107.5,346.0 107.0,347.0 106.7,347.5 106.3,348.0 106.0,348.5 105.5,349.2 105.0,349.9 104.5,350.5 104.0,350.9 103.5,351.2 103.0,351.6 102.4,352.0 101.5,352.5 101.0,352.7Z M126.5,400.5 125.5,400.8 124.5,400.8 123.5,400.6 123.0,400.5 122.0,400.2 121.5,400.0 120.7,399.5 120.1,399.0 119.8,398.5 119.4,398.0 119.0,397.2 118.6,396.5 118.4,396.0 118.0,395.2 117.7,394.5 117.4,394.0 117.0,393.0 116.8,392.5 116.5,391.5 116.4,391.0 116.3,390.0 116.0,389.0 115.9,388.5 115.7,387.5 115.5,386.5 115.4,386.0 115.3,385.0 115.1,384.0 115.0,383.2 114.9,382.5 114.8,381.5 114.6,380.5 114.5,379.8 114.4,379.0 114.2,378.0 114.0,377.0 114.0,376.5 113.9,375.5 113.7,374.5 113.5,373.6 113.4,373.0 113.1,372.0 112.9,371.5 112.6,370.5 112.4,370.0 112.0,369.0 111.9,368.5 111.7,367.5 111.5,366.6 111.4,366.0 111.3,365.0 111.1,364.0 110.9,363.5 110.5,362.5 110.4,362.0 110.2,361.0 110.3,360.0 110.4,359.0 110.4,358.0 110.0,357.0 109.8,356.5 109.5,355.9 109.3,355.0 109.1,354.0 109.0,353.5 108.7,352.5 108.6,351.5 108.8,350.5 109.1,350.0 109.3,349.0 109.2,348.0 109.0,347.3 108.8,346.5 108.8,345.5 109.0,344.7 109.4,344.0 109.8,343.5 110.2,343.0 110.6,342.5 111.0,342.0 111.5,341.4 112.0,340.9 112.5,340.3 113.0,339.6 113.4,339.0 113.9,338.5 114.5,338.2 115.0,337.9 116.0,337.5 116.5,337.2 117.0,337.0 118.0,336.7 118.8,336.5 119.5,336.4 120.5,336.4 121.1,336.5 122.0,336.8 123.0,337.0 123.5,337.0 124.4,337.0 125.0,337.0 125.5,337.1 126.5,337.4 127.0,337.7 127.6,338.0 128.3,338.5 128.9,339.0 129.3,339.5 129.7,340.0 130.1,340.5 130.5,341.1 130.9,342.0 131.1,342.5 131.3,343.5 131.5,344.0 131.8,345.0 132.0,345.5 132.4,346.5 132.6,347.0 132.8,348.0 133.0,349.0 133.1,349.5 133.3,350.5 133.5,351.4 133.6,352.0 133.7,353.0 133.8,354.0 134.0,355.0 134.0,355.7 134.0,356.5 134.0,357.5 134.0,358.5 134.1,359.5 134.3,360.5 134.4,361.5 134.5,362.0 134.6,363.0 134.6,364.0 134.6,365.0 134.6,366.0 134.6,367.0 134.6,368.0 134.6,369.0 134.5,370.0 134.5,371.0 134.5,372.0 134.6,373.0 134.7,374.0 134.6,375.0 134.5,376.0 134.4,376.5 134.2,377.5 134.0,378.5 134.0,379.0 133.9,380.0 133.8,381.0 133.8,382.0 133.8,383.0 133.7,384.0 133.6,385.0 133.5,385.5 133.2,386.5 133.0,387.2 132.7,388.0 132.5,388.8 132.3,389.5 132.1,390.5 132.0,391.1 131.9,392.0 131.7,393.0 131.6,394.0 131.5,394.5 131.2,395.5 131.0,396.0 130.5,396.7 130.0,397.3 129.5,397.8 129.0,398.3 128.5,398.8 128.0,399.3 127.5,399.8 127.0,400.2 126.5,400.5Z M37.0,381.4 37.9,381.0 38.5,380.6 39.0,380.2 39.5,379.8 40.0,379.3 40.5,378.8 41.0,378.2 41.5,377.5 41.9,377.0 42.3,376.5 42.7,376.0 43.2,375.5 43.6,375.0 44.0,374.5 44.5,373.8 45.0,373.1 45.5,372.5 45.9,372.0 46.4,371.5 46.9,371.0 47.3,370.5 47.7,370.0 48.1,369.5 48.5,369.0 49.0,368.4 49.5,367.9 50.0,367.3 50.5,366.7 51.0,366.0 51.3,365.5 51.6,365.0 52.0,364.4 52.5,363.9 53.0,363.4 53.5,362.8 54.0,362.3 54.5,361.7 55.0,361.2 55.5,360.7 56.0,360.3 56.5,360.0 57.3,359.5 58.0,359.1 58.5,358.8 59.0,358.4 59.5,358.0 60.2,357.5 60.7,357.0 61.3,356.5 61.9,356.0 62.5,355.5 63.0,355.2 63.5,354.9 64.5,354.6 65.1,354.5 66.0,354.2 66.6,354.0 67.5,353.6 68.0,353.4 69.0,353.0 69.5,352.9 70.5,352.7 71.5,352.7 72.5,352.7 73.5,352.8 74.5,352.9 75.5,352.9 76.5,352.9 77.5,352.9 78.2,353.0 79.0,353.1 80.0,353.3 81.0,353.5 81.5,353.5 82.0,353.5 83.0,353.5 84.0,353.4 85.0,353.3 86.0,353.2 86.9,353.5 87.2,354.0 87.5,354.7 87.9,355.5 88.3,356.0 88.7,356.5 89.2,357.0 89.8,357.5 90.4,358.0 91.0,358.4 91.5,358.8 92.0,359.2 92.5,359.7 93.0,360.3 93.5,361.0 93.8,361.5 94.2,362.0 94.5,362.5 95.0,363.2 95.5,363.9 95.9,364.5 96.3,365.0 96.6,365.5 97.0,366.4 97.2,367.0 97.3,368.0 97.5,368.9 97.6,369.5 98.0,370.5 98.2,371.0 98.5,371.6 99.0,372.5 99.2,373.0 99.5,373.9 99.7,374.5 99.9,375.5 100.1,376.0 100.3,377.0 100.5,377.9 100.6,378.5 100.6,379.5 100.5,380.5 100.5,381.5 100.6,382.5 100.7,383.5 100.9,384.5 101.0,385.5 101.0,386.5 100.9,387.5 100.9,388.5 100.9,389.5 100.8,390.5 100.8,391.5 100.8,392.5 100.7,393.5 100.7,394.5 100.7,395.5 100.6,396.5 100.6,397.5 100.6,398.5 100.5,399.5 100.5,400.0 100.3,401.0 100.1,402.0 100.0,402.8 100.0,403.5 100.0,404.5 100.0,405.5 100.0,406.1 100.0,407.0 100.0,408.0 100.0,409.0 100.0,409.5 M116.0,325.0 115.0,325.2 114.0,325.2 113.0,325.2 112.0,325.2 111.0,325.3 110.0,325.3 109.0,325.2 108.4,325.0 107.5,324.6 107.0,324.3 106.5,323.9 105.9,323.5 105.1,323.0 104.5,322.6 104.0,322.3 103.5,321.8 103.0,321.3 102.5,320.5 102.2,320.0 101.9,319.5 101.5,318.6 101.3,318.0 101.2,317.0 101.5,316.0 101.7,315.5 102.1,315.0 102.5,314.5 103.0,314.0 103.8,313.5 104.5,313.1 105.0,312.9 106.0,312.5 106.5,312.2 107.0,311.9 107.7,311.5 108.5,311.0 109.0,310.7 109.5,310.5 110.5,310.2 111.2,310.0 112.0,309.7 112.5,309.5 113.5,309.0 114.0,308.8 114.8,308.5 115.5,308.3 116.5,308.0 117.0,307.9 118.0,307.6 118.5,307.5 119.5,307.3 120.5,307.3 121.5,307.2 122.3,307.0 123.0,306.8 124.0,306.7 125.0,306.6 126.0,306.6 127.0,306.7 128.0,306.9 128.5,307.2 129.1,307.5 129.8,308.0 130.5,308.5 131.0,308.9 131.5,309.4 132.0,310.0 132.3,310.5 132.6,311.0 133.0,311.9 133.3,312.5 133.6,313.0 133.9,314.0 134.0,314.5 134.0,315.0 133.7,316.0 133.5,316.5 133.1,317.5 133.0,318.0 132.6,319.0 132.5,319.5 132.0,320.4 131.5,321.0 131.0,321.5 130.5,321.8 130.0,322.2 129.4,322.5 128.5,322.9 128.0,323.1 127.0,323.5 126.5,323.7 125.7,324.0 125.0,324.1 124.0,324.2 123.0,324.1 122.0,324.1 121.0,324.2 120.0,324.4 119.5,324.6 118.5,324.8 117.5,324.8 116.5,324.9 116.0,325.0Z M88.0,348.2 87.0,348.3 86.0,348.3 85.0,348.1 84.0,348.0 83.5,347.9 82.5,347.8 81.5,347.7 80.5,347.8 79.5,347.7 79.0,347.5 78.2,347.0 77.5,346.5 77.0,346.2 76.5,346.0 75.5,345.7 74.9,345.5 74.0,345.1 73.5,344.8 73.0,344.4 72.5,344.0 72.0,343.5 71.5,343.0 71.0,342.5 70.5,341.9 70.0,341.2 69.8,340.5 69.7,339.5 70.0,338.5 70.3,338.0 70.7,337.5 71.0,337.0 71.5,336.0 71.6,335.5 72.0,334.5 72.4,334.0 73.0,333.6 73.5,333.4 74.4,333.0 75.0,332.7 75.5,332.5 76.4,332.0 77.0,331.7 77.5,331.4 78.5,331.0 79.0,331.0 80.0,330.9 80.9,331.0 81.5,331.1 82.5,331.1 83.5,331.1 84.5,331.2 85.5,331.3 86.5,331.5 87.0,331.6 88.0,331.9 88.5,332.1 89.3,332.5 90.0,332.9 90.5,333.3 91.0,333.8 91.2,334.5 91.0,335.5 90.9,336.0 91.0,336.5 91.5,337.0 92.1,337.5 92.6,338.0 93.0,338.6 93.5,339.5 93.7,340.0 93.9,341.0 93.7,342.0 93.5,342.5 93.0,343.2 92.5,343.9 92.0,344.5 91.6,345.0 91.1,345.5 90.5,346.0 90.0,346.4 89.5,347.0 89.0,347.5 88.5,347.9 88.0,348.2Z M125.0,400.0 124.5,400.0 123.5,399.8 122.5,399.6 122.0,399.4 121.0,399.0 120.5,398.5 120.1,398.0 119.8,397.5 119.5,397.0 119.0,396.1 118.7,395.5 118.5,395.0 118.1,394.0 117.9,393.5 117.5,392.6 117.3,392.0 117.0,391.0 116.9,390.5 116.7,389.5 116.5,388.6 116.4,388.0 116.2,387.0 116.0,386.0 115.9,385.5 115.7,384.5 115.6,383.5 115.5,382.5 115.5,382.0 115.3,381.0 115.2,380.0 115.0,379.0 115.0,378.5 114.8,377.5 114.7,376.5 114.5,375.5 114.5,375.0 114.3,374.0 114.1,373.0 114.0,372.5 113.8,371.5 113.5,370.5 113.4,370.0 113.1,369.0 113.0,368.0 113.0,367.5 112.9,366.5 112.8,365.5 112.6,364.5 112.5,363.8 112.3,363.0 112.0,362.0 111.9,361.5 112.0,360.6 112.1,360.0 112.4,359.0 112.5,358.0 112.4,357.0 112.2,356.0 112.0,355.1 111.8,354.5 111.6,353.5 111.5,352.5 111.7,351.5 112.0,350.7 112.2,350.0 112.5,349.0 112.5,348.5 112.5,348.0 112.3,347.0 112.2,346.0 112.4,345.0 112.6,344.5 113.0,343.9 113.5,343.4 114.0,342.8 114.5,342.3 115.0,341.8 115.5,341.5 116.5,341.2 117.0,341.0 118.0,340.6 118.5,340.3 119.2,340.0 120.0,339.7 120.5,339.5 121.5,339.2 122.5,339.2 123.5,339.4 124.5,339.4 125.5,339.3 126.5,339.3 127.1,339.5 127.9,340.0 128.4,340.5 128.8,341.0 129.1,341.5 129.5,342.2 129.8,343.0 130.0,343.5 130.4,344.5 130.6,345.0 131.0,345.7 131.3,346.5 131.5,347.0 131.8,348.0 132.0,348.8 132.1,349.5 132.4,350.5 132.5,351.1 132.7,352.0 132.8,353.0 133.0,353.8 133.1,354.5 133.2,355.5 133.3,356.5 133.2,357.5 133.2,358.5 133.3,359.5 133.4,360.5 133.5,361.0 133.7,362.0 133.9,363.0 134.0,364.0 134.0,365.0 133.9,366.0 133.9,367.0 133.9,368.0 133.8,369.0 133.7,370.0 133.7,371.0 133.7,372.0 133.7,373.0 133.8,374.0 133.8,375.0 133.7,376.0 133.5,377.0 133.4,377.5 133.2,378.5 133.1,379.5 133.0,380.5 133.1,381.5 133.1,382.5 133.0,383.5 133.0,384.0 132.8,385.0 132.6,386.0 132.4,386.5 132.1,387.5 131.9,388.0 131.6,389.0 131.5,389.5 131.3,390.5 131.2,391.5 131.1,392.5 131.0,393.2 130.9,394.0 130.7,395.0 130.5,395.5 130.0,396.3 129.5,396.9 129.0,397.4 128.5,397.8 128.0,398.3 127.5,398.7 127.0,399.2 126.5,399.5 125.5,400.0 125.0,400.0Z M99.0,347.2 98.4,347.0 97.8,346.5 97.6,345.5 98.0,344.6 98.5,344.2 99.0,344.0 100.0,343.8 101.0,343.6 102.0,343.5 102.9,344.0 103.3,344.5 103.6,345.0 103.7,346.0 103.5,346.5 102.7,346.5 102.0,346.0 101.5,345.7 100.5,346.0 100.0,346.5 99.5,347.0 99.0,347.2Z M37.0,382.9 37.7,382.5 38.3,382.0 38.8,381.5 39.4,381.0 40.0,380.5 40.5,380.0 41.0,379.5 41.4,379.0 41.8,378.5 42.2,378.0 42.6,377.5 43.0,377.0 43.5,376.4 44.0,375.8 44.5,375.2 45.0,374.6 45.4,374.0 45.8,373.5 46.3,373.0 46.7,372.5 47.2,372.0 47.7,371.5 48.1,371.0 48.5,370.5 49.0,369.9 49.5,369.3 50.0,368.8 50.5,368.3 51.0,367.7 51.5,367.0 51.8,366.5 52.1,366.0 52.5,365.3 53.0,364.7 53.5,364.3 54.0,363.9 54.5,363.4 55.0,362.9 55.5,362.3 56.0,361.8 56.5,361.3 57.0,361.0 57.8,360.5 58.5,360.1 59.0,359.8 59.5,359.5 60.1,359.0 60.6,358.5 61.2,358.0 61.7,357.5 62.3,357.0 63.0,356.5 63.5,356.3 64.4,356.0 65.0,355.9 66.0,355.7 66.7,355.5 67.5,355.2 68.0,355.0 69.0,354.6 69.5,354.4 70.5,354.2 71.5,354.1 72.5,354.1 73.5,354.3 74.5,354.4 75.2,354.5 76.0,354.6 77.0,354.6 78.0,354.7 78.9,355.0 79.5,355.3 80.1,355.5 81.0,355.8 81.9,356.0 82.5,356.2 83.2,356.5 84.0,356.9 84.5,357.1 85.3,357.5 86.0,357.9 86.5,358.3 87.0,358.7 87.5,359.2 88.0,359.7 88.5,360.1 89.0,360.5 89.5,361.1 90.0,361.7 90.5,362.3 91.0,362.7 91.5,363.0 92.4,363.5 93.0,363.9 93.5,364.3 94.0,364.8 94.5,365.4 95.0,366.0 95.3,366.5 95.5,367.1 95.7,368.0 96.0,369.0 96.1,369.5 96.5,370.5 96.7,371.0 97.0,371.7 97.3,372.5 97.6,373.0 98.0,374.0 98.2,374.5 98.5,375.5 98.6,376.0 98.9,377.0 99.1,377.5 99.3,378.5 99.3,379.5 99.3,380.5 99.4,381.5 99.5,382.4 99.6,383.0 99.8,384.0 99.9,385.0 99.9,386.0 99.8,387.0 99.8,388.0 99.8,389.0 99.8,390.0 99.8,391.0 99.8,392.0 99.8,393.0 99.8,394.0 99.7,395.0 99.6,396.0 99.6,397.0 99.6,398.0 99.6,399.0 99.5,400.0 99.4,400.5 99.2,401.5 99.0,402.5 99.0,403.0 99.0,404.0 99.0,404.5 99.0,405.5 99.1,406.5 99.0,407.5 99.0,408.4 99.0,409.0 99.0,409.5 M119.5,323.5 118.5,323.6 117.8,323.5 117.0,323.2 116.4,323.0 115.5,322.6 115.0,322.4 114.3,322.0 113.5,321.7 112.5,321.9 112.0,322.3 111.5,322.9 111.0,323.4 110.5,323.8 109.5,324.0 108.5,323.8 107.8,323.5 107.0,323.1 106.5,322.7 106.0,322.4 105.3,322.0 104.5,321.5 104.0,321.2 103.5,320.7 103.0,320.2 102.5,319.5 102.2,319.0 102.0,318.5 101.6,317.5 101.7,316.5 102.0,315.8 102.5,315.0 103.0,314.5 103.5,314.1 104.0,313.9 105.0,313.5 105.5,313.4 106.5,313.1 107.0,313.0 108.0,312.6 108.5,312.4 109.5,312.1 110.0,311.9 111.0,311.7 111.5,311.5 112.5,311.0 113.0,310.7 113.5,310.3 114.0,310.0 114.9,309.5 115.5,309.3 116.5,309.1 117.0,309.0 118.0,308.6 118.5,308.4 119.5,308.2 120.5,308.1 121.1,308.0 122.0,307.8 123.0,307.6 123.5,307.4 124.5,307.3 125.5,307.3 126.5,307.5 127.0,307.6 128.0,307.9 128.5,308.2 129.1,308.5 129.7,309.0 130.3,309.5 130.7,310.0 131.1,310.5 131.5,311.1 131.9,312.0 132.1,312.5 132.5,313.5 132.6,314.0 132.6,315.0 132.5,315.7 132.4,316.5 132.2,317.5 132.0,318.1 131.6,319.0 131.4,319.5 131.0,320.0 130.5,320.6 130.0,321.1 129.5,321.5 128.5,322.0 128.0,322.2 127.4,322.5 126.5,322.9 126.0,323.1 125.0,323.4 124.0,323.4 123.0,323.3 122.0,323.2 121.0,323.3 120.0,323.5 119.5,323.5Z M85.0,346.2 84.0,346.4 83.0,346.4 82.0,346.2 81.0,346.0 80.5,345.9 79.9,345.5 79.5,345.0 79.0,344.3 78.5,343.7 78.0,343.3 77.5,343.0 76.5,342.8 75.8,343.0 75.0,343.2 74.0,343.2 73.4,343.0 72.6,342.5 72.0,342.0 71.6,341.5 71.2,341.0 71.0,340.2 71.0,340.0 71.5,339.2 72.0,338.9 72.8,338.5 73.5,338.1 74.0,337.6 74.4,337.0 74.6,336.5 74.9,335.5 75.1,335.0 75.8,334.5 76.5,334.2 77.0,333.9 77.6,333.5 78.1,333.0 78.7,332.5 79.5,332.2 80.5,332.3 81.0,332.5 81.9,333.0 82.5,333.3 83.0,333.6 83.6,334.0 84.4,334.5 85.0,334.9 85.5,335.1 86.1,335.5 87.0,336.0 87.5,336.3 88.0,336.8 88.5,337.5 88.9,338.0 89.2,338.5 89.6,339.0 90.0,339.5 90.5,340.1 91.0,340.5 91.5,341.0 91.5,341.6 91.0,342.1 90.0,342.1 89.5,341.9 88.5,342.0 88.0,342.2 87.5,342.7 87.1,343.5 87.0,344.0 86.6,345.0 86.2,345.5 85.5,346.0 85.0,346.2Z M126.0,399.1 125.0,399.4 124.0,399.3 123.0,399.2 122.2,399.0 121.5,398.7 121.0,398.4 120.5,397.9 120.0,397.2 119.6,396.5 119.4,396.0 119.0,395.2 118.7,394.5 118.5,394.0 118.1,393.0 117.9,392.5 117.6,391.5 117.5,391.0 117.3,390.0 117.0,389.0 116.9,388.5 116.7,387.5 116.5,386.7 116.4,386.0 116.2,385.0 116.0,384.2 115.9,383.5 115.9,382.5 115.8,381.5 115.7,380.5 115.5,379.5 115.5,379.0 115.4,378.0 115.2,377.0 115.1,376.0 115.0,375.5 114.9,374.5 114.7,373.5 114.5,372.7 114.4,372.0 114.2,371.0 114.0,370.3 113.9,369.5 113.8,368.5 113.7,367.5 113.7,366.5 113.6,365.5 113.5,365.0 113.3,364.0 113.1,363.0 113.0,362.5 112.9,361.5 113.0,360.5 113.2,360.0 113.4,359.0 113.5,358.0 113.5,357.5 113.5,356.5 113.5,355.9 113.4,355.0 113.4,354.0 113.4,353.0 113.4,352.0 113.5,351.0 113.6,350.5 113.7,349.5 113.9,348.5 114.0,347.7 114.0,347.3 113.9,346.5 114.0,345.5 114.3,345.0 114.8,344.5 115.5,344.0 116.0,343.7 116.5,343.5 117.5,343.0 118.0,342.6 118.5,342.3 119.0,341.9 119.6,341.5 120.5,341.1 121.0,341.0 122.0,340.9 122.5,341.0 123.4,341.5 124.0,341.8 124.5,342.1 125.5,342.4 126.5,342.4 127.5,342.4 128.0,342.6 128.5,343.1 129.0,343.9 129.3,344.5 129.6,345.0 130.0,345.9 130.3,346.5 130.6,347.0 131.0,347.9 131.2,348.5 131.5,349.5 131.6,350.0 131.7,351.0 131.8,352.0 132.0,353.0 132.1,353.5 132.4,354.5 132.5,355.0 132.7,356.0 132.7,357.0 132.6,358.0 132.6,359.0 132.7,360.0 132.9,361.0 133.0,361.7 133.2,362.5 133.4,363.5 133.5,364.5 133.4,365.5 133.4,366.5 133.3,367.5 133.2,368.5 133.0,369.5 133.0,370.0 132.9,371.0 132.8,372.0 133.0,373.0 133.1,373.5 133.2,374.5 133.2,375.5 133.0,376.5 132.9,377.0 132.7,378.0 132.5,378.9 132.4,379.5 132.4,380.5 132.5,381.5 132.5,382.0 132.5,383.0 132.5,383.9 132.4,384.5 132.2,385.5 132.0,386.1 131.7,387.0 131.5,387.5 131.2,388.5 131.0,389.4 130.9,390.0 130.7,391.0 130.5,392.0 130.5,392.7 130.4,393.5 130.3,394.5 130.0,395.4 129.7,396.0 129.3,396.5 128.8,397.0 128.2,397.5 127.6,398.0 127.0,398.4 126.5,398.8 126.0,399.1Z M37.0,383.4 37.7,383.0 38.3,382.5 38.8,382.0 39.4,381.5 39.9,381.0 40.5,380.5 41.0,380.0 41.5,379.5 41.9,379.0 42.3,378.5 42.7,378.0 43.2,377.5 43.6,377.0 44.1,376.5 44.5,376.0 45.0,375.4 45.5,374.8 46.0,374.2 46.5,373.5 47.0,373.0 47.5,372.5 48.0,372.0 48.5,371.5 48.9,371.0 49.3,370.5 49.7,370.0 50.2,369.5 50.7,369.0 51.2,368.5 51.6,368.0 52.0,367.3 52.4,366.5 52.7,366.0 53.0,365.5 53.5,365.0 54.2,364.5 55.0,364.0 55.5,363.5 55.9,363.0 56.3,362.5 56.7,362.0 57.3,361.5 58.0,361.1 58.5,360.8 59.1,360.5 59.9,360.0 60.5,359.5 61.0,359.0 61.5,358.5 62.0,358.0 62.5,357.6 63.0,357.3 63.5,357.0 64.5,356.7 65.5,356.5 66.0,356.4 67.0,356.2 67.5,356.0 68.5,355.7 69.0,355.5 70.0,355.1 70.5,355.0 71.5,354.8 72.5,354.8 73.5,354.9 74.0,355.0 75.0,355.2 76.0,355.3 77.0,355.5 77.5,355.6 78.5,355.9 79.0,356.1 79.9,356.5 80.5,356.7 81.1,357.0 82.0,357.4 82.5,357.6 83.5,358.0 84.0,358.2 84.9,358.5 85.5,358.8 86.0,359.2 86.5,359.6 87.0,360.0 87.6,360.5 88.2,361.0 88.7,361.5 89.1,362.0 89.5,362.7 90.0,363.4 90.5,363.8 91.0,364.1 91.9,364.5 92.5,364.8 93.0,365.2 93.5,365.6 94.0,366.2 94.5,367.0 94.7,367.5 94.9,368.5 95.0,369.0 95.3,370.0 95.5,370.5 95.9,371.5 96.0,372.0 96.4,373.0 96.6,373.5 97.0,374.2 97.4,375.0 97.6,375.5 97.9,376.5 98.0,377.0 98.3,378.0 98.4,379.0 98.4,380.0 98.4,381.0 98.5,382.0 98.6,382.5 98.8,383.5 99.0,384.5 98.9,385.5 98.8,386.5 98.7,387.5 98.8,388.5 98.9,389.5 99.0,390.4 99.0,391.0 99.1,392.0 99.1,393.0 99.0,394.0 99.0,394.5 98.8,395.5 98.8,396.5 98.7,397.5 98.8,398.5 98.7,399.5 98.6,400.5 98.4,401.0 98.2,402.0 98.1,403.0 98.1,404.0 98.2,405.0 98.3,406.0 98.2,407.0 98.1,408.0 98.0,408.9 98.0,409.5 98.0,409.5 M125.0,322.5 124.0,322.5 123.5,322.5 122.5,322.3 121.5,322.2 120.5,322.3 119.5,322.4 118.5,322.2 118.0,322.0 117.0,321.5 116.5,321.2 116.0,321.0 115.0,320.6 114.5,320.4 113.5,320.2 112.6,320.0 112.0,320.0 111.5,320.0 110.5,320.2 109.5,320.5 108.5,320.5 107.5,320.5 107.0,320.6 106.0,320.6 105.0,320.5 104.5,320.3 104.0,320.0 103.4,319.5 102.9,319.0 102.5,318.5 102.1,317.5 102.1,316.5 102.5,315.7 103.0,315.1 103.5,314.7 104.0,314.4 105.0,314.1 106.0,314.1 107.0,314.1 108.0,314.0 109.0,314.1 110.0,314.4 110.5,314.5 111.5,314.6 112.0,314.3 112.5,313.8 113.0,313.1 113.5,312.5 114.0,312.0 114.5,311.6 115.0,311.4 116.0,311.1 116.5,311.0 117.5,310.6 118.0,310.3 118.5,310.0 119.3,309.5 120.0,309.3 121.0,309.2 121.9,309.0 122.5,308.8 123.5,308.5 124.0,308.4 125.0,308.5 125.5,308.6 126.5,308.8 127.3,309.0 128.0,309.3 128.5,309.5 129.1,310.0 129.5,310.5 130.0,311.2 130.4,312.0 130.6,312.5 130.9,313.5 131.0,314.5 131.0,315.0 131.1,316.0 131.0,317.0 130.9,317.5 130.5,318.2 130.0,318.8 129.5,319.4 129.0,320.0 128.5,320.5 128.0,321.0 127.5,321.4 127.0,321.7 126.5,322.0 125.5,322.4 125.0,322.5Z M83.5,342.2 82.5,342.2 81.8,342.0 81.0,341.9 80.0,341.9 79.0,341.7 78.5,341.5 77.8,341.0 77.2,340.5 76.8,340.0 76.5,339.4 76.2,338.5 76.3,337.5 76.5,337.0 77.0,336.2 77.5,335.7 78.0,335.3 78.5,335.0 79.3,334.5 80.0,334.2 81.0,334.4 81.5,334.7 82.0,335.0 82.8,335.5 83.4,336.0 83.9,336.5 84.3,337.0 84.6,337.5 85.0,338.5 85.2,339.0 85.5,340.0 85.0,341.0 84.5,341.5 84.0,341.9 83.5,342.2Z M126.0,398.0 125.0,398.3 124.0,398.4 123.0,398.4 122.0,398.3 121.4,398.0 120.8,397.5 120.4,397.0 120.0,396.3 119.6,395.5 119.4,395.0 119.0,394.0 118.8,393.5 118.5,392.7 118.3,392.0 118.0,391.0 117.9,390.5 117.7,389.5 117.5,388.7 117.3,388.0 117.0,387.0 116.9,386.5 116.7,385.5 116.5,384.7 116.4,384.0 116.3,383.0 116.3,382.0 116.2,381.0 116.2,380.0 116.1,379.0 116.0,378.0 116.0,377.5 115.8,376.5 115.7,375.5 115.5,374.5 115.4,374.0 115.2,373.0 115.0,372.1 114.9,371.5 114.7,370.5 114.6,369.5 114.6,368.5 114.6,367.5 114.6,366.5 114.5,365.7 114.4,365.0 114.2,364.0 114.0,363.1 113.9,362.5 113.9,361.5 114.0,361.0 114.3,360.0 114.5,359.0 114.5,358.5 114.7,357.5 114.8,356.5 114.8,355.5 115.0,354.5 115.0,354.0 115.1,353.0 115.1,352.0 115.0,351.1 115.0,350.5 115.0,349.9 115.2,349.0 115.5,348.0 115.7,347.5 116.0,346.7 116.4,346.0 116.8,345.5 117.3,345.0 117.9,344.5 118.5,344.0 119.0,343.6 119.5,343.2 120.0,342.8 121.0,342.5 122.0,342.8 122.5,343.1 123.0,343.5 123.6,344.0 124.5,344.4 125.0,344.5 126.0,344.7 127.0,345.0 127.5,345.4 127.9,346.0 128.2,346.5 128.5,347.1 129.0,347.7 129.5,348.1 130.0,348.7 130.4,349.5 130.5,350.0 130.7,351.0 130.7,352.0 130.7,353.0 131.0,354.0 131.1,354.5 131.5,355.5 131.6,356.0 131.7,357.0 131.7,358.0 131.7,359.0 131.7,360.0 131.8,361.0 132.0,362.0 132.1,362.5 132.5,363.5 132.6,364.0 132.7,365.0 132.7,366.0 132.6,367.0 132.5,367.5 132.2,368.5 132.0,369.2 131.7,370.0 131.5,371.0 131.5,372.0 131.8,373.0 132.0,373.8 132.1,374.5 132.1,375.5 132.0,376.4 131.9,377.0 131.7,378.0 131.5,378.9 131.4,379.5 131.5,380.5 131.6,381.0 131.7,382.0 131.8,383.0 131.8,384.0 131.6,385.0 131.5,385.5 131.2,386.5 131.0,387.0 130.7,388.0 130.5,388.9 130.3,389.5 130.1,390.5 129.9,391.0 129.7,392.0 129.6,393.0 129.6,394.0 129.5,394.6 129.2,395.5 128.8,396.0 128.4,396.5 127.7,397.0 127.0,397.5 126.5,397.8 126.0,398.0Z M37.0,383.7 37.6,383.5 38.2,383.0 38.7,382.5 39.3,382.0 39.9,381.5 40.4,381.0 41.0,380.5 41.5,380.1 42.0,379.5 42.5,379.0 42.9,378.5 43.3,378.0 43.8,377.5 44.3,377.0 44.8,376.5 45.3,376.0 45.7,375.5 46.2,375.0 46.6,374.5 47.0,374.0 47.5,373.4 48.0,372.9 48.5,372.4 49.0,372.0 49.5,371.4 50.0,370.9 50.5,370.3 51.0,369.9 51.5,369.4 52.0,368.9 52.5,368.0 52.7,367.5 53.0,366.7 53.4,366.0 54.0,365.5 54.5,365.2 55.0,364.9 55.7,364.5 56.2,364.0 56.6,363.5 57.0,362.8 57.5,362.3 58.0,361.9 58.6,361.5 59.5,361.1 60.0,360.8 60.5,360.4 61.0,359.9 61.5,359.4 62.0,359.0 62.5,358.5 63.2,358.0 64.0,357.6 64.5,357.5 65.5,357.3 66.5,357.1 67.0,357.0 68.0,356.7 68.8,356.5 69.5,356.2 70.1,356.0 71.0,355.7 72.0,355.5 73.0,355.6 74.0,355.8 74.7,356.0 75.5,356.2 76.5,356.4 77.0,356.5 78.0,356.8 78.5,357.0 79.5,357.4 80.0,357.7 80.7,358.0 81.5,358.4 82.0,358.7 82.7,359.0 83.5,359.3 84.3,359.5 85.0,359.8 85.5,360.1 86.1,360.5 86.9,361.0 87.5,361.5 88.0,362.0 88.3,362.5 88.6,363.0 89.0,363.7 89.5,364.5 90.0,365.0 90.5,365.3 91.0,365.6 91.9,366.0 92.5,366.5 92.9,367.0 93.1,367.5 93.4,368.5 93.5,369.1 93.8,370.0 94.1,370.5 94.5,371.5 94.6,372.0 94.9,373.0 95.2,373.5 95.5,374.0 96.0,374.7 96.5,375.5 96.7,376.0 96.9,377.0 97.0,377.5 97.1,378.5 97.1,379.5 97.0,380.2 96.8,381.0 96.7,382.0 96.9,383.0 97.0,383.5 97.3,384.5 97.3,385.5 97.1,386.5 97.0,387.1 96.9,388.0 97.0,389.0 97.1,389.5 97.5,390.4 97.7,391.0 97.9,392.0 97.9,393.0 97.7,394.0 97.6,395.0 97.6,396.0 97.6,397.0 97.6,398.0 97.5,399.0 97.5,399.5 97.3,400.5 97.1,401.5 96.9,402.0 96.6,403.0 96.4,403.5 96.0,404.5 96.3,405.5 96.5,406.1 96.7,407.0 96.7,408.0 96.7,409.0 96.7,409.5 M125.0,321.6 124.0,321.6 123.5,321.5 122.5,321.3 121.5,321.2 120.5,321.1 120.0,321.0 119.0,320.7 118.5,320.4 117.7,320.0 117.0,319.7 116.5,319.5 115.5,319.4 114.5,319.2 114.0,319.0 113.2,318.5 112.9,318.0 112.8,317.0 113.0,316.4 113.5,315.5 113.9,315.0 114.3,314.5 114.7,314.0 115.5,313.5 116.0,313.4 117.0,313.1 117.5,312.9 118.1,312.5 118.6,312.0 119.2,311.5 119.9,311.0 120.5,310.7 121.2,310.5 122.0,310.3 123.0,310.1 124.0,310.1 125.0,310.3 125.8,310.5 126.5,310.6 127.5,310.9 128.0,311.2 128.5,311.7 129.0,312.5 129.2,313.0 129.5,314.0 129.5,314.5 129.6,315.5 129.5,316.5 129.4,317.0 129.0,317.6 128.5,318.2 128.0,318.9 127.6,319.5 127.2,320.0 126.8,320.5 126.3,321.0 125.5,321.5 125.0,321.6Z M105.5,319.1 104.5,319.1 104.0,318.9 103.4,318.5 102.9,318.0 102.6,317.0 102.8,316.0 103.2,315.5 103.9,315.0 104.5,314.8 105.5,314.9 106.0,315.0 106.9,315.5 107.4,316.0 107.7,316.5 107.5,317.1 107.0,317.9 106.5,318.5 106.0,318.8 105.5,319.1Z M80.0,340.5 79.5,340.4 78.8,340.0 78.4,339.5 78.3,338.5 78.5,337.7 79.0,337.2 79.5,337.0 80.1,337.0 81.0,337.4 81.5,337.9 81.8,338.5 81.8,339.5 81.4,340.0 80.5,340.5 80.0,340.5Z M125.0,397.1 124.0,397.4 123.0,397.5 122.0,397.4 121.4,397.0 120.9,396.5 120.5,396.0 120.0,395.0 119.8,394.5 119.5,393.7 119.3,393.0 119.0,392.1 118.9,391.5 118.7,390.5 118.6,389.5 118.4,389.0 118.1,388.0 117.9,387.5 117.5,386.5 117.4,386.0 117.1,385.0 117.0,384.5 116.8,383.5 116.8,382.5 116.8,381.5 116.8,380.5 116.9,379.5 116.9,378.5 116.9,377.5 116.8,376.5 116.6,375.5 116.5,374.9 116.3,374.0 116.1,373.0 116.0,372.5 115.8,371.5 115.6,370.5 115.5,369.9 115.5,369.0 115.5,368.0 115.5,367.5 115.5,366.5 115.5,365.5 115.4,365.0 115.2,364.0 115.1,363.0 115.1,362.0 115.2,361.0 115.5,360.0 115.6,359.5 115.9,358.5 116.0,358.0 116.2,357.0 116.3,356.0 116.4,355.0 116.5,354.1 116.6,353.5 116.6,352.5 116.6,351.5 116.5,350.5 116.6,349.5 117.0,348.5 117.3,348.0 117.7,347.5 118.0,347.0 118.5,346.3 119.0,345.7 119.5,345.3 120.1,345.0 121.0,344.9 121.5,345.1 122.2,345.5 123.0,345.8 123.7,346.0 124.5,346.1 125.5,346.3 126.0,346.5 126.6,347.0 127.0,347.5 127.5,348.3 128.0,349.0 128.4,349.5 128.8,350.0 129.1,350.5 129.3,351.5 129.4,352.5 129.5,353.2 129.7,354.0 129.9,355.0 130.0,355.6 130.1,356.5 130.2,357.5 130.3,358.5 130.5,359.5 130.5,360.0 130.6,361.0 130.8,362.0 131.0,362.8 131.2,363.5 131.5,364.5 131.5,365.0 131.6,366.0 131.5,367.0 131.4,367.5 131.1,368.5 131.0,369.0 130.7,370.0 130.5,370.7 130.4,371.5 130.4,372.5 130.5,373.0 130.8,374.0 130.8,375.0 130.7,376.0 130.6,377.0 130.5,377.7 130.4,378.5 130.3,379.5 130.5,380.5 130.6,381.0 130.8,382.0 130.8,383.0 130.8,384.0 130.6,385.0 130.5,385.6 130.3,386.5 130.1,387.5 130.0,388.0 129.7,389.0 129.5,389.5 129.0,390.5 128.8,391.0 128.5,391.7 128.3,392.5 128.2,393.5 128.1,394.5 128.0,395.0 127.5,395.7 127.0,396.2 126.5,396.5 125.5,397.0 125.0,397.1Z M37.0,384.1 37.5,383.9 38.1,383.5 38.6,383.0 39.2,382.5 39.7,382.0 40.3,381.5 40.9,381.0 41.5,380.5 42.0,380.1 42.5,379.6 43.0,379.0 43.5,378.5 44.0,378.0 44.5,377.6 45.0,377.2 45.5,376.7 46.0,376.3 46.5,375.8 47.0,375.4 47.5,374.8 48.0,374.2 48.5,373.6 49.0,373.0 49.5,372.5 50.0,372.0 50.5,371.5 51.0,371.0 51.5,370.5 52.0,370.2 52.5,369.7 53.0,369.0 53.2,368.5 53.4,367.5 53.6,367.0 54.0,366.5 54.6,366.0 55.5,365.5 56.0,365.3 56.5,364.9 57.0,364.2 57.5,363.5 57.8,363.0 58.3,362.5 59.0,362.1 59.5,361.9 60.2,361.5 61.0,361.0 61.5,360.5 62.0,360.0 62.5,359.5 63.0,359.1 63.5,358.7 64.0,358.5 65.0,358.2 66.0,358.1 66.5,358.0 67.5,357.8 68.5,357.6 69.0,357.5 70.0,357.1 70.5,356.9 71.5,356.6 72.5,356.6 73.5,356.8 74.1,357.0 75.0,357.2 76.0,357.4 76.5,357.5 77.5,357.8 78.0,358.0 79.0,358.5 79.5,358.7 80.0,359.0 80.8,359.5 81.5,359.9 82.0,360.3 82.5,360.5 83.5,360.8 84.5,361.0 85.0,361.2 85.6,361.5 86.5,362.0 87.0,362.5 87.4,363.0 87.6,363.5 88.0,364.3 88.4,365.0 88.7,365.5 89.0,366.0 89.5,366.6 90.0,367.1 90.5,367.7 91.0,368.3 91.3,369.0 91.5,369.5 92.0,370.5 92.3,371.0 92.5,371.5 93.0,372.5 93.2,373.0 93.5,373.8 94.0,374.5 94.5,375.0 95.0,375.5 95.3,376.0 95.5,376.5 95.7,377.5 95.6,378.5 95.5,379.4 95.3,380.0 95.1,381.0 95.0,382.0 95.2,383.0 95.4,384.0 95.6,384.5 95.7,385.5 95.6,386.5 95.5,387.0 95.4,388.0 95.4,389.0 95.5,389.8 95.7,390.5 95.9,391.5 96.0,392.5 95.8,393.5 95.6,394.5 95.8,395.5 96.0,396.4 96.0,397.0 96.0,398.0 96.0,399.0 96.0,399.5 95.7,400.5 95.5,401.0 94.9,401.5 94.2,402.0 93.7,402.5 93.5,403.0 93.3,404.0 93.2,405.0 93.5,406.0 93.8,406.5 94.2,407.0 94.6,407.5 95.0,408.3 95.2,409.0 95.2,409.5 M124.5,320.6 124.0,320.5 123.0,320.2 122.0,320.1 121.5,320.0 120.5,319.8 119.8,319.5 119.0,319.0 118.5,318.7 118.0,318.2 117.5,317.8 117.0,317.3 116.5,316.5 116.5,316.5 117.0,315.5 117.4,315.0 118.0,314.5 118.5,314.0 118.9,313.5 119.5,313.0 120.0,312.5 120.5,312.2 121.0,311.9 121.9,311.5 122.5,311.4 123.5,311.4 124.0,311.5 124.9,312.0 125.5,312.5 126.0,312.9 126.5,313.4 126.9,314.0 127.1,314.5 127.1,315.5 127.0,316.5 126.9,317.0 126.7,318.0 126.5,318.6 126.1,319.5 125.7,320.0 125.0,320.5 124.5,320.6Z M105.0,317.7 104.0,317.8 103.5,317.4 103.3,316.5 103.6,316.0 104.5,315.6 105.4,316.0 105.6,316.5 105.5,317.2 105.0,317.7Z M123.0,396.5 122.5,396.5 121.5,396.0 121.1,395.5 120.8,395.0 120.5,394.5 120.1,393.5 120.0,393.0 119.7,392.0 119.6,391.0 119.6,390.0 119.6,389.0 119.4,388.5 119.0,387.8 118.6,387.0 118.3,386.5 118.0,385.8 117.7,385.0 117.5,384.3 117.4,383.5 117.4,382.5 117.4,381.5 117.5,380.5 117.6,380.0 117.7,379.0 117.9,378.0 117.9,377.0 117.9,376.0 117.7,375.0 117.5,374.2 117.3,373.5 117.1,372.5 117.0,372.0 116.8,371.0 116.6,370.0 116.5,369.4 116.4,368.5 116.4,367.5 116.5,366.5 116.5,365.7 116.5,365.0 116.6,364.0 116.7,363.0 116.8,362.0 116.9,361.0 117.0,360.4 117.2,359.5 117.5,358.7 117.7,358.0 117.9,357.0 118.0,356.0 118.0,355.2 118.1,354.5 118.1,353.5 118.2,352.5 118.2,351.5 118.2,350.5 118.5,349.5 118.7,349.0 119.1,348.5 119.5,348.0 120.1,347.5 121.0,347.0 121.5,346.9 122.5,347.0 123.0,347.1 124.0,347.3 124.6,347.5 125.5,348.0 125.9,348.5 126.2,349.0 126.5,349.6 127.0,350.5 127.3,351.0 127.6,351.5 128.0,352.5 128.1,353.0 128.2,354.0 128.3,355.0 128.0,356.0 127.8,356.5 127.8,357.5 128.1,358.0 128.5,358.5 129.0,359.3 129.3,360.0 129.5,361.0 129.6,361.5 129.8,362.5 130.0,363.2 130.2,364.0 130.3,365.0 130.4,366.0 130.4,367.0 130.3,368.0 130.0,369.0 129.9,369.5 129.6,370.5 129.5,371.0 129.3,372.0 129.2,373.0 129.3,374.0 129.3,375.0 129.3,376.0 129.2,377.0 129.1,378.0 129.0,379.0 129.2,380.0 129.5,380.8 129.7,381.5 129.8,382.5 129.8,383.5 129.6,384.5 129.5,385.2 129.4,386.0 129.3,387.0 129.0,387.9 128.7,388.5 128.4,389.0 128.0,389.7 127.6,390.5 127.4,391.0 127.0,392.0 126.9,392.5 126.7,393.5 126.5,394.1 126.1,395.0 125.6,395.5 125.0,395.9 124.5,396.2 123.5,396.5 123.0,396.5Z M37.0,384.4 37.8,384.0 38.4,383.5 39.0,383.0 39.5,382.5 40.0,382.1 40.5,381.7 41.0,381.4 41.5,381.0 42.1,380.5 42.7,380.0 43.2,379.5 43.7,379.0 44.4,378.5 45.0,378.0 45.5,377.7 46.0,377.3 46.5,377.0 47.4,376.5 48.0,376.1 48.5,375.6 49.0,375.0 49.2,374.5 49.5,374.0 50.0,373.3 50.5,372.7 51.0,372.1 51.5,371.6 52.0,371.2 52.5,370.8 53.0,370.5 53.5,369.9 53.9,369.0 54.1,368.5 54.4,367.5 54.7,367.0 55.4,366.5 56.0,366.2 56.5,365.8 57.0,365.4 57.5,364.8 58.0,364.0 58.4,363.5 58.9,363.0 59.5,362.7 60.0,362.5 61.0,362.0 61.5,361.6 62.0,361.2 62.5,360.6 63.0,360.1 63.5,359.7 64.0,359.4 65.0,359.1 65.5,359.0 66.5,358.8 67.5,358.7 68.5,358.5 69.0,358.4 70.0,358.2 70.8,358.0 71.5,357.9 72.4,358.0 73.0,358.1 74.0,358.3 75.0,358.4 75.7,358.5 76.5,358.7 77.2,359.0 78.0,359.5 78.5,359.8 79.0,360.2 79.5,360.5 80.3,361.0 81.0,361.5 81.5,361.8 82.0,362.1 83.0,362.4 83.5,362.6 84.5,362.9 85.0,363.1 85.5,363.6 86.0,364.5 86.3,365.0 86.6,365.5 87.0,366.1 87.5,366.7 88.0,367.4 88.5,368.0 89.0,368.5 89.4,369.0 89.8,369.5 90.2,370.0 90.5,370.5 91.0,371.4 91.3,372.0 91.5,372.6 91.7,373.5 92.0,374.5 92.2,375.0 92.5,375.7 93.0,376.4 93.4,377.0 93.6,377.5 93.7,378.5 93.6,379.5 93.5,380.3 93.5,381.0 93.5,381.9 93.6,382.5 93.9,383.5 94.0,384.0 94.2,385.0 94.2,386.0 94.1,387.0 94.0,388.0 94.0,388.5 94.0,389.5 94.0,390.1 94.1,391.0 94.0,392.0 93.9,392.5 93.7,393.5 93.5,394.5 93.6,395.5 93.8,396.5 93.9,397.5 93.7,398.5 93.5,399.1 93.0,399.8 92.6,400.5 92.4,401.0 92.2,402.0 92.0,402.8 91.9,403.5 91.6,404.5 91.4,405.0 91.1,406.0 91.0,406.5 90.7,407.5 90.4,408.0 89.9,408.5 89.0,409.0 88.5,409.5 88.5,409.5 M124.0,318.0 123.0,318.3 122.0,318.3 121.1,318.0 120.5,317.7 120.0,317.5 119.4,317.0 119.3,316.0 119.5,315.5 120.0,314.6 120.3,314.0 120.8,313.5 121.4,313.0 122.0,312.7 123.0,312.6 124.0,312.9 124.5,313.3 125.0,314.0 125.2,314.5 125.4,315.5 125.2,316.5 125.0,317.0 124.5,317.6 124.0,318.0Z M124.0,395.2 123.0,395.5 122.0,395.1 121.5,394.6 121.2,394.0 120.9,393.5 120.7,392.5 120.6,391.5 120.7,390.5 121.0,389.5 121.1,389.0 121.0,388.2 120.5,387.7 120.0,387.3 119.5,386.8 119.0,386.1 118.7,385.5 118.5,385.0 118.1,384.0 118.0,383.0 118.1,382.0 118.1,381.0 118.3,380.0 118.5,379.2 118.7,378.5 118.8,377.5 119.0,376.5 119.1,376.0 119.1,375.0 119.0,374.5 118.6,373.5 118.4,373.0 118.1,372.0 118.0,371.5 117.8,370.5 117.6,369.5 117.4,369.0 117.3,368.0 117.2,367.0 117.3,366.0 117.5,365.0 117.6,364.5 117.9,363.5 118.1,363.0 118.3,362.0 118.5,361.0 118.6,360.5 118.8,359.5 119.0,358.5 119.1,358.0 119.4,357.0 119.5,356.5 119.6,355.5 119.6,354.5 119.5,353.5 119.5,353.0 119.4,352.0 119.4,351.0 119.5,350.5 119.9,349.5 120.4,349.0 121.0,348.5 121.5,348.4 122.5,348.4 123.0,348.5 123.7,349.0 124.1,349.5 124.5,350.1 125.0,350.7 125.5,351.3 126.0,351.8 126.4,352.5 126.6,353.0 126.8,354.0 126.6,355.0 126.3,355.5 126.0,356.2 125.6,357.0 125.7,358.0 126.0,358.6 126.5,359.1 127.1,359.5 127.6,360.0 128.0,360.5 128.4,361.5 128.6,362.0 128.9,363.0 129.0,363.5 129.2,364.5 129.3,365.5 129.4,366.5 129.4,367.5 129.2,368.5 129.0,369.4 128.8,370.0 128.6,371.0 128.4,371.5 128.2,372.5 128.0,373.2 127.8,374.0 127.7,375.0 127.7,376.0 127.6,377.0 127.6,378.0 127.8,379.0 128.0,379.8 128.3,380.5 128.5,381.0 128.8,382.0 128.8,383.0 128.7,384.0 128.5,385.0 128.4,385.5 128.2,386.5 128.0,387.0 127.5,387.7 127.0,388.3 126.5,388.9 126.2,389.5 126.0,390.3 125.9,391.0 125.8,392.0 125.5,393.0 125.4,393.5 125.0,394.2 124.5,394.9 124.0,395.2Z M37.0,384.7 37.5,384.5 38.2,384.0 38.8,383.5 39.3,383.0 40.0,382.5 40.5,382.1 41.0,381.7 41.5,381.4 42.1,381.0 42.8,380.5 43.4,380.0 44.0,379.5 44.5,379.2 45.0,378.8 45.6,378.5 46.5,378.1 47.0,377.9 48.0,377.5 48.5,377.3 49.3,377.0 50.0,376.5 50.4,376.0 50.6,375.5 50.8,374.5 51.0,373.8 51.4,373.0 51.9,372.5 52.4,372.0 53.0,371.6 53.5,371.3 54.0,370.9 54.5,370.2 54.8,369.5 55.0,368.9 55.3,368.0 55.7,367.5 56.3,367.0 56.9,366.5 57.4,366.0 57.8,365.5 58.2,365.0 58.6,364.5 59.0,364.0 59.7,363.5 60.5,363.1 61.0,362.9 61.7,362.5 62.3,362.0 62.8,361.5 63.2,361.0 63.8,360.5 64.5,360.1 65.0,360.0 66.0,359.8 67.0,359.6 67.8,359.5 68.5,359.4 69.5,359.3 70.5,359.2 71.5,359.1 72.5,359.2 73.5,359.4 74.5,359.5 75.0,359.5 76.0,359.8 76.5,360.0 77.2,360.5 77.9,361.0 78.5,361.4 79.0,361.6 79.7,362.0 80.5,362.5 81.0,362.8 81.5,363.1 82.3,363.5 83.0,363.9 83.5,364.3 84.0,364.9 84.5,365.5 85.0,366.0 85.5,366.5 86.0,367.0 86.4,367.5 86.8,368.0 87.3,368.5 87.7,369.0 88.1,369.5 88.6,370.0 89.0,370.5 89.5,371.2 90.0,372.0 90.2,372.5 90.5,373.5 90.6,374.0 90.8,375.0 91.0,375.9 91.2,376.5 91.4,377.5 91.5,378.0 91.8,379.0 91.9,380.0 92.0,380.6 92.1,381.5 92.2,382.5 92.4,383.5 92.5,384.4 92.5,385.0 92.5,386.0 92.5,387.0 92.5,387.5 92.5,388.5 92.4,389.5 92.5,390.5 92.4,391.5 92.3,392.5 92.1,393.5 92.0,394.4 92.0,395.0 92.0,395.9 92.1,396.5 92.1,397.5 92.0,398.5 91.9,399.0 91.5,400.0 91.4,400.5 91.1,401.5 91.0,402.0 90.7,403.0 90.5,403.5 90.1,404.5 89.8,405.0 89.4,405.5 88.8,406.0 88.1,406.5 87.6,407.0 87.2,407.5 86.9,408.0 86.5,408.8 86.4,409.5 86.4,409.5 M123.5,356.7 122.5,356.8 122.0,356.5 121.5,356.0 121.0,355.1 120.9,354.5 120.8,353.5 120.9,352.5 121.0,352.0 121.5,351.2 122.5,351.1 123.3,351.5 124.0,352.0 124.4,352.5 124.7,353.0 125.0,353.7 125.0,354.5 124.9,355.0 124.5,355.7 124.0,356.3 123.5,356.7Z M124.5,388.1 123.7,388.0 123.0,387.7 122.5,387.4 121.7,387.0 121.0,386.7 120.5,386.4 120.0,385.9 119.5,385.2 119.1,384.5 118.9,384.0 118.8,383.0 118.8,382.0 118.9,381.0 119.0,380.4 119.2,379.5 119.5,378.7 119.7,378.0 120.0,377.1 120.2,376.5 120.3,375.5 120.1,374.5 119.9,374.0 119.5,373.1 119.2,372.5 119.0,371.8 118.8,371.0 118.6,370.0 118.5,369.5 118.2,368.5 118.0,367.5 118.0,367.0 118.0,366.5 118.2,365.5 118.5,364.5 118.7,364.0 119.0,363.3 119.4,362.5 119.6,362.0 120.0,361.1 120.2,360.5 120.4,359.5 120.6,359.0 121.2,358.5 122.0,358.2 123.0,358.1 123.9,358.5 124.5,359.0 125.0,359.5 125.5,360.0 126.0,360.5 126.5,361.0 126.9,361.5 127.2,362.0 127.5,362.7 127.8,363.5 128.0,364.0 128.3,365.0 128.3,366.0 128.3,367.0 128.2,368.0 128.1,369.0 128.0,369.5 127.7,370.5 127.5,371.5 127.4,372.0 127.0,373.0 126.8,373.5 126.5,374.3 126.2,375.0 126.2,376.0 126.2,377.0 126.4,378.0 126.5,378.5 126.8,379.5 127.0,380.0 127.4,381.0 127.6,381.5 127.8,382.5 127.8,383.5 127.6,384.5 127.5,385.0 127.2,386.0 126.8,386.5 126.4,387.0 125.8,387.5 125.0,387.9 124.5,388.1Z M37.0,384.9 37.9,384.5 38.5,384.0 39.0,383.6 39.5,383.2 40.0,382.8 40.5,382.4 41.2,382.0 42.0,381.5 42.5,381.2 43.0,380.9 43.6,380.5 44.4,380.0 45.0,379.7 45.5,379.5 46.5,379.2 47.0,379.0 48.0,378.7 48.8,378.5 49.5,378.3 50.4,378.0 51.0,377.7 51.5,377.1 51.8,376.5 52.0,375.5 52.0,375.0 52.3,374.0 52.6,373.5 53.2,373.0 53.8,372.5 54.4,372.0 54.9,371.5 55.2,371.0 55.5,370.3 55.8,369.5 56.0,369.0 56.5,368.2 57.0,367.5 57.5,367.0 58.0,366.5 58.4,366.0 58.8,365.5 59.3,365.0 59.8,364.5 60.5,364.1 61.0,363.8 61.5,363.5 62.2,363.0 62.8,362.5 63.3,362.0 63.9,361.5 64.5,361.1 65.0,360.9 66.0,360.7 67.0,360.5 67.5,360.4 68.5,360.3 69.5,360.2 70.5,360.2 71.5,360.2 72.5,360.3 73.5,360.5 74.0,360.6 75.0,360.8 75.6,361.0 76.5,361.5 77.0,361.8 77.5,362.0 78.5,362.4 79.0,362.6 79.7,363.0 80.5,363.5 81.0,363.8 81.5,364.1 82.0,364.5 82.5,365.0 83.0,365.6 83.5,366.1 84.0,366.7 84.5,367.2 85.0,367.6 85.5,368.2 86.0,368.8 86.5,369.5 86.8,370.0 87.2,370.5 87.5,371.0 88.0,371.7 88.5,372.3 88.9,373.0 89.1,373.5 89.5,374.5 89.7,375.0 90.0,376.0 90.1,376.5 90.2,377.5 90.3,378.5 90.5,379.4 90.6,380.0 90.7,381.0 90.8,382.0 91.0,383.0 91.1,383.5 91.1,384.5 91.0,385.3 90.8,386.0 90.6,387.0 90.4,387.5 90.3,388.5 90.5,389.4 90.6,390.0 90.7,391.0 90.6,392.0 90.6,393.0 90.6,394.0 90.5,395.0 90.5,395.9 90.5,396.5 90.4,397.5 90.5,398.5 90.5,399.5 90.3,400.5 90.1,401.5 89.9,402.0 89.5,402.6 89.0,403.2 88.5,403.6 87.7,404.0 87.0,404.5 86.7,405.0 86.4,405.5 86.1,406.5 85.9,407.0 85.5,408.0 85.3,408.5 85.1,409.5 85.1,409.5 M123.5,394.1 122.5,394.0 122.0,393.5 121.8,393.0 121.6,392.0 121.7,391.0 122.0,390.1 122.5,389.5 123.0,389.2 124.0,389.5 124.3,390.0 124.5,390.7 124.6,391.5 124.6,392.5 124.4,393.0 124.0,393.8 123.5,394.1Z M123.0,375.1 122.2,375.0 121.5,374.6 121.0,374.0 120.7,373.5 120.4,373.0 120.0,372.2 119.8,371.5 119.5,370.5 119.4,370.0 119.1,369.0 119.0,368.5 118.7,367.5 118.7,366.5 118.9,365.5 119.1,365.0 119.5,364.1 119.9,363.5 120.3,363.0 120.8,362.5 121.4,362.0 122.0,361.5 122.5,361.0 123.0,360.6 124.0,360.8 124.5,361.2 125.0,361.8 125.5,362.5 125.9,363.0 126.3,363.5 126.6,364.0 127.0,364.9 127.1,365.5 127.0,366.5 127.0,367.0 126.8,368.0 126.8,369.0 126.8,370.0 126.7,371.0 126.5,371.6 126.2,372.5 125.8,373.0 125.4,373.5 124.9,374.0 124.2,374.5 123.5,374.9 123.0,375.1Z M37.0,385.2 37.6,385.0 38.3,384.5 38.8,384.0 39.4,383.5 40.0,383.1 40.5,382.8 41.0,382.5 41.9,382.0 42.5,381.7 43.0,381.5 44.0,381.0 44.5,380.8 45.5,380.6 46.0,380.5 47.0,380.3 48.0,380.0 48.5,379.9 49.5,379.6 50.2,379.5 51.0,379.3 51.6,379.0 52.3,378.5 52.6,378.0 53.0,377.2 53.2,376.5 53.4,375.5 53.5,375.0 54.0,374.2 54.5,373.6 55.0,373.0 55.4,372.5 55.7,372.0 56.0,371.4 56.4,370.5 56.6,370.0 57.0,369.2 57.4,368.5 57.8,368.0 58.2,367.5 58.7,367.0 59.2,366.5 59.6,366.0 60.1,365.5 60.8,365.0 61.5,364.5 62.0,364.1 62.5,363.7 63.0,363.3 63.5,362.8 64.0,362.4 64.5,362.0 65.5,361.6 66.5,361.5 67.0,361.4 68.0,361.3 69.0,361.2 70.0,361.1 71.0,361.2 72.0,361.3 73.0,361.5 73.5,361.6 74.5,361.8 75.0,362.0 76.0,362.5 76.5,362.7 77.3,363.0 78.0,363.2 78.7,363.5 79.5,363.9 80.0,364.2 80.5,364.6 81.1,365.0 81.6,365.5 82.0,366.0 82.5,366.5 83.0,367.1 83.5,367.6 84.0,368.2 84.5,368.8 85.0,369.5 85.3,370.0 85.5,370.5 86.0,371.5 86.2,372.0 86.5,372.7 86.9,373.5 87.4,374.0 87.9,374.5 88.3,375.0 88.7,375.5 89.0,376.3 89.1,377.0 89.1,378.0 89.2,379.0 89.2,380.0 89.2,381.0 89.3,382.0 89.5,383.0 89.6,383.5 89.6,384.5 89.5,385.0 89.1,386.0 88.8,386.5 88.5,387.1 88.1,388.0 88.0,388.8 88.0,389.1 88.2,390.0 88.4,391.0 88.5,391.7 88.6,392.5 88.8,393.5 88.9,394.5 88.8,395.5 88.5,396.5 88.3,397.0 88.2,398.0 88.4,399.0 88.6,399.5 88.9,400.5 88.5,401.5 88.0,401.8 87.5,402.0 86.5,402.4 86.0,402.7 85.5,403.1 85.1,404.0 85.1,405.0 85.0,405.9 84.8,406.5 84.5,407.2 84.1,408.0 83.8,408.5 83.5,409.2 83.4,409.5 M124.5,386.6 123.5,386.6 123.0,386.4 122.0,386.1 121.5,385.8 121.0,385.5 120.5,385.0 120.0,384.3 119.7,383.5 119.6,382.5 119.7,381.5 119.8,380.5 120.0,379.9 120.5,379.0 120.9,378.5 121.4,378.0 122.0,377.6 122.5,377.3 123.5,377.0 124.5,377.3 125.0,378.0 125.3,378.5 125.5,379.0 126.0,380.0 126.2,380.5 126.5,381.3 126.7,382.0 126.7,383.0 126.6,384.0 126.5,384.5 126.0,385.5 125.6,386.0 125.0,386.4 124.5,386.6Z M37.0,385.5 38.0,385.0 38.5,384.6 39.0,384.1 39.5,383.7 40.0,383.4 40.7,383.0 41.5,382.6 42.0,382.4 43.0,382.0 43.5,381.9 44.5,381.7 45.5,381.7 46.5,381.8 47.5,381.6 48.0,381.4 49.0,381.1 50.0,381.1 51.0,381.2 52.0,381.1 52.5,380.8 53.0,380.5 53.5,379.8 53.9,379.0 54.1,378.5 54.5,377.5 54.6,377.0 54.8,376.0 55.0,375.2 55.3,374.5 55.6,374.0 56.0,373.4 56.5,372.6 56.8,372.0 57.0,371.5 57.4,370.5 57.6,370.0 58.0,369.4 58.5,368.7 59.0,368.1 59.5,367.5 60.0,367.0 60.5,366.5 61.0,366.1 61.5,365.7 62.0,365.2 62.5,364.8 63.0,364.3 63.5,363.8 64.0,363.3 64.5,363.0 65.5,362.5 66.0,362.4 67.0,362.3 68.0,362.2 69.0,362.2 70.0,362.1 71.0,362.2 72.0,362.3 73.0,362.5 73.5,362.6 74.5,362.9 75.0,363.1 76.0,363.5 76.5,363.7 77.2,364.0 78.0,364.4 78.5,364.6 79.1,365.0 79.9,365.5 80.5,365.9 81.0,366.4 81.5,366.9 82.0,367.5 82.4,368.0 82.8,368.5 83.2,369.0 83.6,369.5 84.0,370.2 84.4,371.0 84.6,371.5 84.9,372.5 85.0,373.0 85.3,374.0 85.6,374.5 86.0,375.1 86.5,375.7 87.0,376.1 87.5,376.9 87.7,377.5 87.8,378.5 87.8,379.5 87.7,380.5 87.6,381.5 87.5,382.0 87.3,383.0 87.1,384.0 87.1,385.0 87.0,385.8 86.9,386.5 86.6,387.5 86.4,388.0 86.3,389.0 86.5,390.0 86.6,390.5 86.8,391.5 86.8,392.5 86.8,393.5 86.6,394.5 86.4,395.0 86.2,396.0 86.1,397.0 86.0,397.5 85.8,398.5 85.6,399.5 85.3,400.0 84.7,400.5 84.0,400.9 83.5,401.3 83.0,402.0 82.8,402.5 82.7,403.5 83.0,404.5 83.1,405.0 83.0,406.0 82.5,406.5 82.0,406.7 81.4,407.0 80.8,407.5 80.5,408.1 80.3,409.0 80.2,409.5 M123.0,373.5 122.4,373.5 121.5,373.1 121.0,372.5 120.8,372.0 120.5,371.3 120.3,370.5 120.1,369.5 119.9,369.0 119.7,368.0 119.5,367.0 119.7,366.0 120.0,365.0 120.3,364.5 120.6,364.0 121.2,363.5 122.0,363.0 122.5,362.8 123.5,363.0 124.0,363.3 124.5,363.8 125.0,364.5 125.3,365.0 125.5,365.7 125.6,366.5 125.6,367.5 125.6,368.5 125.7,369.5 125.7,370.5 125.5,371.3 125.2,372.0 124.8,372.5 124.2,373.0 123.5,373.4 123.0,373.5Z M124.5,385.2 123.5,385.4 122.5,385.2 122.0,385.0 121.3,384.5 121.0,384.0 120.6,383.0 120.5,382.4 120.5,381.7 120.6,381.0 121.0,380.0 121.4,379.5 122.0,379.1 122.5,378.9 123.5,378.9 124.0,379.1 124.5,379.5 125.0,380.2 125.4,381.0 125.5,381.5 125.6,382.5 125.5,383.5 125.4,384.0 125.0,384.7 124.5,385.2Z M37.0,385.8 37.6,385.5 38.3,385.0 38.9,384.5 39.5,384.0 40.0,383.7 40.5,383.4 41.4,383.0 42.0,382.8 43.0,382.6 44.0,382.5 45.0,382.7 45.9,383.0 46.5,383.2 47.5,383.4 48.5,383.3 49.5,383.0 50.5,383.2 51.5,383.3 52.5,383.0 53.0,382.8 53.5,382.5 54.3,382.0 54.8,381.5 55.1,381.0 55.4,380.0 55.5,379.0 55.6,378.5 55.8,377.5 56.0,376.5 56.1,376.0 56.5,375.0 56.8,374.5 57.1,374.0 57.5,373.3 57.8,372.5 58.0,371.9 58.4,371.0 58.6,370.5 59.0,369.9 59.5,369.2 60.0,368.5 60.4,368.0 60.8,367.5 61.3,367.0 61.9,366.5 62.4,366.0 62.9,365.5 63.4,365.0 63.9,364.5 64.5,364.0 65.0,363.7 65.5,363.4 66.5,363.2 67.5,363.1 68.5,363.1 69.5,363.2 70.5,363.1 71.5,363.2 72.5,363.3 73.4,363.5 74.0,363.6 75.0,364.0 75.5,364.2 76.1,364.5 77.0,365.0 77.5,365.4 78.0,365.8 78.5,366.1 79.1,366.5 79.9,367.0 80.5,367.5 81.0,368.0 81.4,368.5 81.7,369.0 82.1,369.5 82.5,370.0 83.0,370.8 83.3,371.5 83.5,372.0 83.8,373.0 84.0,373.7 84.2,374.5 84.5,375.3 84.8,376.0 85.1,376.5 85.5,377.2 86.0,377.9 86.3,378.5 86.5,379.5 86.4,380.5 86.2,381.5 86.0,382.5 85.9,383.0 85.8,384.0 85.7,385.0 85.5,385.7 85.3,386.5 85.0,387.3 84.9,388.0 84.8,389.0 85.0,389.8 85.2,390.5 85.4,391.5 85.4,392.5 85.0,393.4 84.6,394.0 84.2,394.5 84.0,395.0 83.8,396.0 83.8,397.0 83.5,397.8 83.0,398.5 82.5,399.0 82.0,399.5 81.6,400.0 81.4,400.5 81.0,401.4 80.8,402.0 80.5,402.9 80.3,403.5 80.0,404.1 79.5,405.0 79.2,405.5 78.9,406.0 78.5,406.7 78.2,407.5 78.0,408.5 77.9,409.0 77.9,409.5 M123.5,371.6 122.5,371.8 122.0,371.5 121.5,370.7 121.3,370.0 121.2,369.0 121.1,368.0 121.1,367.0 121.2,366.0 121.5,365.1 121.9,364.5 122.5,364.1 123.5,364.5 123.8,365.0 124.1,365.5 124.3,366.5 124.4,367.5 124.4,368.5 124.4,369.5 124.1,370.5 124.0,371.0 123.5,371.6Z M123.5,383.6 122.5,383.8 122.0,383.4 121.6,382.5 121.5,382.0 121.5,381.5 122.0,380.5 122.5,380.2 123.5,380.4 124.0,381.0 124.1,381.5 124.1,382.5 124.0,383.0 123.5,383.6Z M37.0,386.0 37.5,385.9 38.0,385.5 38.6,385.0 39.2,384.5 39.9,384.0 40.5,383.7 41.0,383.5 42.0,383.2 43.0,383.1 44.0,383.3 44.5,383.5 45.4,384.0 46.0,384.4 46.5,384.8 47.0,385.1 47.6,385.5 48.5,385.9 49.0,386.1 50.0,386.4 50.5,386.7 51.2,387.0 52.0,387.3 52.8,387.5 53.5,387.6 54.0,387.3 54.2,386.5 54.1,385.5 54.3,384.5 54.5,384.0 55.0,383.4 55.5,382.8 56.0,382.1 56.3,381.5 56.5,381.0 56.6,380.0 56.6,379.0 56.8,378.0 57.0,377.1 57.2,376.5 57.5,375.9 58.0,375.2 58.5,374.6 58.8,374.0 59.0,373.4 59.2,372.5 59.5,371.5 59.7,371.0 60.0,370.4 60.5,369.5 60.8,369.0 61.1,368.5 61.5,368.0 62.0,367.5 62.6,367.0 63.1,366.5 63.6,366.0 64.1,365.5 64.6,365.0 65.4,364.5 66.0,364.2 67.0,364.0 68.0,364.0 69.0,364.1 70.0,364.1 71.0,364.1 72.0,364.2 73.0,364.4 73.6,364.5 74.5,364.8 75.2,365.0 76.0,365.4 76.5,365.8 77.0,366.3 77.5,366.8 78.0,367.3 78.5,367.7 79.0,368.0 79.5,368.5 80.0,369.0 80.5,369.7 81.0,370.4 81.5,371.0 81.8,371.5 82.1,372.0 82.5,372.8 82.7,373.5 83.0,374.5 83.0,375.0 83.1,376.0 83.4,377.0 83.6,377.5 84.0,378.0 84.5,378.8 84.8,379.5 84.9,380.5 84.9,381.5 84.8,382.5 84.6,383.5 84.5,384.0 84.1,385.0 83.9,385.5 83.5,386.5 83.4,387.0 83.3,388.0 83.4,389.0 83.5,389.6 83.8,390.5 84.0,391.3 84.0,392.0 83.8,392.5 83.4,393.0 83.0,393.5 82.5,394.3 82.3,395.0 82.3,396.0 82.2,397.0 81.9,397.5 81.4,398.0 80.8,398.5 80.3,399.0 79.9,399.5 79.5,400.3 79.2,401.0 78.9,401.5 78.5,402.0 78.0,402.5 77.5,403.3 77.3,404.0 77.0,405.0 76.7,405.5 76.4,406.0 75.8,406.5 75.0,406.9 74.5,407.1 73.9,407.5 73.4,408.0 73.0,408.8 72.8,409.5 72.8,409.5 M60.2,409.5 59.8,409.0 59.0,408.8 58.5,409.0 58.2,409.5 M69.0,406.2 68.0,406.4 67.0,406.5 66.0,406.3 65.1,406.0 64.5,405.8 63.9,405.5 63.4,405.0 63.0,404.5 62.5,403.6 62.3,403.0 62.2,402.0 62.0,401.1 61.6,400.5 61.0,400.0 60.5,399.8 60.0,399.5 59.1,399.0 58.5,398.6 58.0,398.1 57.5,397.6 57.0,397.0 56.7,396.5 56.6,395.5 57.0,394.9 57.3,394.0 57.2,393.0 57.0,392.0 57.0,391.0 57.0,390.0 56.9,389.5 56.7,388.5 56.5,388.0 56.2,387.0 56.0,386.3 55.9,385.5 56.0,384.8 56.3,384.0 56.6,383.5 57.0,382.7 57.3,382.0 57.5,381.2 57.6,380.5 57.6,379.5 57.7,378.5 57.9,377.5 58.2,377.0 58.6,376.5 59.0,376.0 59.5,375.4 59.9,374.5 60.0,374.0 60.2,373.0 60.5,372.0 60.6,371.5 61.0,370.6 61.3,370.0 61.5,369.5 62.0,368.8 62.5,368.2 63.0,367.7 63.5,367.3 64.0,366.8 64.5,366.3 65.0,365.9 65.6,365.5 66.5,365.1 67.0,365.0 68.0,364.9 69.0,365.0 69.5,365.0 70.5,365.0 71.5,365.1 72.5,365.3 73.3,365.5 74.0,365.7 75.0,366.0 75.5,366.3 76.0,366.7 76.5,367.3 77.0,368.0 77.3,368.5 77.6,369.0 78.0,369.5 78.5,370.0 79.0,370.6 79.5,371.2 80.0,371.8 80.5,372.5 80.9,373.0 81.1,373.5 81.4,374.5 81.3,375.5 81.0,376.5 80.9,377.0 80.9,378.0 81.1,378.5 81.5,379.0 82.1,379.5 82.6,380.0 83.0,380.8 83.1,381.5 83.1,382.5 82.9,383.0 82.5,383.8 82.2,384.5 82.0,385.5 82.0,386.5 82.0,387.3 82.0,388.0 81.9,389.0 82.0,390.0 82.1,390.5 82.0,391.5 81.8,392.0 81.5,392.6 81.0,393.3 80.5,394.0 80.1,394.5 79.7,395.0 79.0,395.5 78.5,395.8 78.0,396.3 77.6,397.0 77.5,397.5 77.5,398.5 77.3,399.5 77.0,400.0 76.0,400.5 75.5,400.6 74.5,401.0 74.0,401.5 73.8,402.0 73.7,403.0 73.6,404.0 73.1,404.5 72.5,404.7 71.5,404.9 71.0,405.1 70.1,405.5 69.5,405.9 69.0,406.2Z M37.0,386.4 37.7,386.0 38.4,385.5 38.9,385.0 39.5,384.6 40.0,384.2 40.5,384.0 41.5,383.7 42.5,383.7 43.5,383.9 44.0,384.2 44.5,384.5 45.0,385.0 45.5,385.5 46.0,386.2 46.5,386.8 47.0,387.4 47.5,387.8 48.0,388.1 48.9,388.5 49.5,388.7 50.0,389.0 50.5,389.5 50.9,390.5 51.1,391.0 51.5,391.9 52.0,392.5 52.5,393.0 53.0,393.4 53.5,393.8 54.0,394.0 54.8,394.5 55.3,395.0 55.6,395.5 55.5,396.1 55.0,396.9 54.6,397.5 54.2,398.0 53.9,398.5 53.5,399.0 53.0,399.6 52.5,400.3 52.0,401.0 51.7,401.5 51.4,402.0 51.2,403.0 51.3,404.0 51.5,404.7 51.6,405.5 51.5,406.2 51.2,407.0 50.9,407.5 50.5,408.1 50.0,409.0 49.8,409.5 49.8,409.5 M57.0,405.0 56.4,405.0 56.3,404.0 56.6,403.5 57.5,403.3 58.0,403.7 58.0,404.4 57.5,404.8 57.0,405.0Z M40.6,409.5 40.0,409.1 39.5,409.0 39.0,409.1 38.6,409.5 M68.5,403.7 67.5,403.8 66.7,403.5 66.0,403.0 65.6,402.5 65.3,402.0 65.0,401.4 64.5,400.7 64.0,400.2 63.5,399.8 63.0,399.5 62.2,399.0 61.5,398.6 61.0,398.2 60.5,397.8 60.0,397.3 59.5,396.6 59.3,396.0 59.3,395.0 59.3,394.0 59.1,393.0 59.0,392.5 58.8,391.5 58.6,390.5 58.5,389.7 58.3,389.0 58.0,388.1 57.7,387.5 57.5,386.9 57.3,386.0 57.3,385.0 57.5,384.4 57.8,383.5 58.0,383.0 58.4,382.0 58.5,381.5 58.6,380.5 58.6,379.5 58.7,378.5 59.0,377.7 59.5,377.1 60.0,376.5 60.3,376.0 60.6,375.5 60.8,374.5 61.0,373.8 61.2,373.0 61.4,372.0 61.6,371.5 62.0,370.6 62.3,370.0 62.6,369.5 63.0,368.9 63.5,368.4 64.0,368.0 64.6,367.5 65.2,367.0 65.9,366.5 66.5,366.2 67.0,366.0 68.0,365.8 69.0,365.9 70.0,365.9 71.0,366.0 71.5,366.1 72.5,366.3 73.1,366.5 74.0,366.8 74.5,367.1 75.1,367.5 75.5,368.1 75.9,369.0 76.1,369.5 76.5,370.3 77.0,370.9 77.4,371.5 77.8,372.0 78.1,372.5 78.5,373.0 79.0,373.6 79.5,374.3 79.7,375.0 79.8,376.0 79.6,377.0 79.6,378.0 79.8,379.0 80.0,379.5 80.5,380.2 81.0,381.0 81.1,381.5 81.1,382.5 80.9,383.0 80.7,384.0 80.7,385.0 80.7,386.0 80.7,387.0 80.5,388.0 80.3,388.5 80.0,389.3 79.7,390.0 79.5,391.0 79.4,391.5 79.0,392.5 78.7,393.0 78.3,393.5 77.8,394.0 77.3,394.5 76.8,395.0 76.4,395.5 76.0,396.1 75.5,397.0 75.3,397.5 75.0,398.0 74.4,398.5 73.5,398.9 72.9,399.0 72.0,399.3 71.5,399.7 71.1,400.5 71.0,401.0 70.6,402.0 70.2,402.5 69.6,403.0 69.0,403.5 68.5,403.7Z M37.0,386.7 37.5,386.5 38.1,386.0 38.7,385.5 39.3,385.0 40.0,384.5 40.5,384.3 41.5,384.1 42.5,384.2 43.1,384.5 43.8,385.0 44.2,385.5 44.6,386.0 45.0,386.7 45.5,387.4 45.9,388.0 46.4,388.5 46.9,389.0 47.5,389.5 48.0,389.8 48.5,390.1 49.0,390.6 49.3,391.5 49.4,392.5 49.5,393.2 49.8,394.0 50.1,394.5 50.5,395.5 50.6,396.0 50.7,397.0 50.7,398.0 50.5,399.0 50.4,399.5 50.0,400.3 49.5,400.8 49.0,401.1 48.0,401.0 47.5,400.9 46.6,401.0 46.4,401.5 46.2,402.5 46.1,403.5 45.9,404.0 45.5,404.6 45.0,405.0 44.0,405.4 43.5,405.6 43.0,406.1 42.5,406.7 41.5,406.9 40.7,406.5 40.4,406.0 39.5,405.6 38.7,406.0 38.0,406.3 37.5,406.6 37.0,406.7 M43.0,405.0 42.9,404.5 42.5,403.8 41.5,404.0 41.0,404.5 40.8,405.0 41.5,405.3 42.5,405.4 43.0,405.0Z M68.5,400.7 67.5,400.9 67.0,400.5 66.4,400.0 65.8,399.5 65.1,399.0 64.5,398.6 64.0,398.2 63.5,397.8 63.0,397.4 62.5,396.8 62.2,396.0 62.0,395.5 61.5,394.5 61.2,394.0 61.0,393.5 60.6,392.5 60.5,391.8 60.4,391.0 60.2,390.0 60.0,389.0 59.9,388.5 59.6,387.5 59.4,387.0 59.0,386.4 58.7,385.5 58.8,384.5 59.0,383.8 59.3,383.0 59.5,382.5 59.7,381.5 59.7,380.5 59.7,379.5 59.8,378.5 60.1,378.0 60.5,377.4 61.0,376.6 61.3,376.0 61.5,375.2 61.7,374.5 61.9,373.5 62.0,373.0 62.3,372.0 62.5,371.5 63.0,370.6 63.4,370.0 63.8,369.5 64.3,369.0 64.9,368.5 65.5,368.1 66.0,367.8 66.5,367.5 67.5,367.1 68.0,366.9 69.0,366.9 70.0,366.9 71.0,366.9 71.5,367.0 72.5,367.3 73.0,367.5 73.7,368.0 74.2,368.5 74.5,369.0 75.0,370.0 75.2,370.5 75.5,371.0 76.0,372.0 76.3,372.5 76.6,373.0 77.0,373.6 77.5,374.2 78.0,374.8 78.5,375.5 78.6,376.0 78.6,377.0 78.6,378.0 78.7,379.0 79.0,380.0 79.3,380.5 79.5,381.1 79.7,382.0 79.6,383.0 79.5,384.0 79.5,385.0 79.5,385.8 79.3,386.5 79.0,387.2 78.5,387.7 78.0,388.0 77.5,388.5 77.1,389.5 77.3,390.5 77.5,391.5 77.2,392.5 76.8,393.0 76.3,393.5 75.8,394.0 75.2,394.5 74.7,395.0 74.2,395.5 73.7,396.0 73.1,396.5 72.5,396.9 72.0,397.2 71.5,397.5 70.7,398.0 70.1,398.5 69.6,399.0 69.2,399.5 68.9,400.0 68.5,400.7Z M37.0,387.2 37.5,386.9 38.0,386.5 38.5,386.0 39.0,385.5 39.7,385.0 40.5,384.6 41.5,384.5 42.5,384.9 43.0,385.2 43.5,385.8 44.0,386.5 44.2,387.0 44.5,387.5 45.0,388.3 45.5,388.9 46.0,389.5 46.3,390.0 46.7,390.5 47.0,391.2 47.2,392.0 47.1,393.0 47.0,393.6 46.8,394.5 46.5,395.3 46.2,396.0 46.0,396.5 45.5,397.5 45.1,398.0 44.7,398.5 44.1,399.0 43.5,399.5 43.0,399.8 42.5,400.0 41.5,400.4 41.0,400.5 40.0,400.9 39.5,401.1 38.9,401.5 38.3,402.0 37.6,402.5 37.0,402.8 37.0,402.8 M69.5,396.1 69.0,396.0 68.4,395.5 67.7,395.0 67.0,394.6 66.5,394.4 65.5,394.0 65.0,393.9 64.3,393.5 63.8,393.0 63.4,392.5 63.0,391.8 62.6,391.0 62.3,390.5 62.0,390.0 61.6,389.0 61.5,388.4 61.3,387.5 61.0,386.6 60.7,386.0 60.5,385.2 60.5,384.5 60.6,384.0 60.9,383.0 61.0,382.5 61.1,381.5 61.0,380.7 60.9,380.0 61.0,379.0 61.1,378.5 61.5,377.6 61.7,377.0 62.0,376.3 62.2,375.5 62.5,374.5 62.6,374.0 62.8,373.0 63.0,372.5 63.5,371.5 63.8,371.0 64.2,370.5 64.7,370.0 65.3,369.5 66.0,369.0 66.5,368.8 67.2,368.5 68.0,368.3 69.0,368.1 69.7,368.0 70.5,368.0 71.1,368.0 72.0,368.3 72.5,368.5 73.1,369.0 73.5,369.5 74.0,370.3 74.4,371.0 74.6,371.5 75.0,372.3 75.3,373.0 75.5,373.5 76.0,374.2 76.5,374.9 77.0,375.4 77.4,376.0 77.6,376.5 77.6,377.5 77.5,378.5 77.6,379.5 77.9,380.5 78.1,381.0 78.3,382.0 78.3,383.0 78.3,384.0 78.2,385.0 78.0,385.5 77.5,386.0 76.7,386.5 76.1,387.0 75.7,387.5 75.5,388.0 75.3,389.0 75.2,390.0 75.1,391.0 75.0,391.5 74.5,392.4 74.1,393.0 73.8,393.5 73.4,394.0 72.8,394.5 72.0,395.0 71.5,395.2 70.8,395.5 70.0,395.9 69.5,396.1Z M37.0,387.7 37.5,387.4 38.0,386.9 38.5,386.4 39.0,385.9 39.5,385.5 40.5,385.0 41.0,384.9 41.5,385.0 42.4,385.5 42.9,386.0 43.2,386.5 43.5,387.1 43.9,388.0 44.2,388.5 44.5,389.1 45.0,389.9 45.3,390.5 45.4,391.5 45.3,392.5 45.1,393.5 45.0,394.0 44.7,395.0 44.5,395.5 44.1,396.5 43.8,397.0 43.4,397.5 43.0,398.0 42.3,398.5 41.5,398.8 40.7,399.0 40.0,399.1 39.0,399.3 38.4,399.5 37.5,399.8 37.0,399.9 M68.5,392.1 67.5,392.3 66.5,392.1 66.0,391.9 65.4,391.5 64.9,391.0 64.5,390.5 64.0,389.8 63.5,389.0 63.3,388.5 63.0,387.7 62.8,387.0 62.5,386.1 62.3,385.5 62.2,384.5 62.2,383.5 62.2,382.5 62.2,381.5 62.2,380.5 62.2,379.5 62.3,378.5 62.5,377.5 62.6,377.0 62.9,376.0 63.1,375.5 63.3,374.5 63.5,373.8 63.8,373.0 64.0,372.5 64.5,371.6 65.0,371.0 65.5,370.5 66.0,370.2 66.5,369.9 67.4,369.5 68.0,369.3 69.0,369.2 70.0,369.2 71.0,369.3 71.5,369.5 72.3,370.0 72.8,370.5 73.2,371.0 73.5,371.5 74.0,372.4 74.3,373.0 74.5,373.6 74.9,374.5 75.1,375.0 75.5,375.6 76.0,376.3 76.2,377.0 76.2,378.0 76.1,379.0 76.0,380.0 76.2,381.0 76.4,382.0 76.3,383.0 76.0,383.7 75.5,384.5 75.2,385.0 74.9,385.5 74.5,386.5 74.3,387.0 74.0,388.0 73.9,388.5 73.5,389.2 73.0,389.8 72.5,390.1 71.5,390.5 71.0,390.7 70.4,391.0 69.6,391.5 69.0,391.9 68.5,392.1Z M37.0,388.5 37.6,388.0 38.0,387.5 38.5,386.8 39.0,386.3 39.5,385.8 40.2,385.5 41.0,385.4 41.5,385.5 42.1,386.0 42.5,386.5 42.9,387.5 43.1,388.0 43.5,389.0 43.7,389.5 44.0,390.3 44.1,391.0 44.0,392.0 44.0,392.5 43.8,393.5 43.5,394.4 43.3,395.0 43.0,395.7 42.6,396.5 42.2,397.0 41.5,397.5 41.0,397.7 40.0,397.8 39.0,397.7 38.5,397.5 38.0,396.9 37.5,396.1 37.0,395.7 37.0,395.7 M69.0,389.1 68.0,389.4 67.0,389.4 66.0,389.1 65.5,388.7 65.0,388.0 64.8,387.5 64.6,386.5 64.4,386.0 64.1,385.0 63.9,384.5 63.6,383.5 63.5,383.0 63.3,382.0 63.3,381.0 63.3,380.0 63.4,379.0 63.4,378.0 63.5,377.4 63.7,376.5 64.0,375.5 64.2,375.0 64.5,374.0 64.7,373.5 65.0,372.7 65.4,372.0 65.8,371.5 66.3,371.0 67.0,370.5 67.5,370.3 68.5,370.1 69.5,370.2 70.5,370.5 71.0,370.7 71.5,371.0 72.1,371.5 72.6,372.0 73.0,372.6 73.4,373.5 73.5,374.0 73.8,375.0 74.0,375.7 74.3,376.5 74.5,377.5 74.3,378.5 74.2,379.5 74.1,380.5 74.1,381.5 74.0,382.5 74.0,383.0 73.8,384.0 73.6,385.0 73.4,385.5 73.0,386.5 72.8,387.0 72.5,387.5 71.9,388.0 71.0,388.4 70.5,388.5 69.5,388.9 69.0,389.1Z M37.0,390.0 37.5,389.3 37.9,388.5 38.2,388.0 38.5,387.5 39.0,386.8 39.5,386.3 40.0,386.0 41.0,386.0 41.5,386.3 42.0,386.9 42.2,387.5 42.5,388.4 42.7,389.0 42.9,390.0 43.0,390.5 43.0,391.5 43.0,392.2 42.9,393.0 42.6,394.0 42.4,394.5 42.0,395.3 41.5,396.0 41.0,396.4 40.5,396.6 39.8,396.5 39.0,396.0 38.5,395.5 38.1,395.0 37.5,394.5 37.0,394.2 37.0,394.2 M69.5,387.6 68.5,387.8 67.5,387.6 67.0,387.4 66.5,386.9 66.0,386.1 65.7,385.5 65.5,385.0 65.1,384.0 64.9,383.5 64.5,382.5 64.4,382.0 64.4,381.0 64.5,380.0 64.5,379.5 64.6,378.5 64.7,377.5 64.9,376.5 65.0,376.0 65.3,375.0 65.5,374.5 65.9,373.5 66.1,373.0 66.5,372.2 67.0,371.6 67.5,371.3 68.2,371.0 69.0,371.0 69.5,371.1 70.3,371.5 70.9,372.0 71.4,372.5 71.8,373.0 72.1,373.5 72.3,374.5 72.5,375.4 72.6,376.0 72.9,377.0 73.0,378.0 72.9,379.0 72.8,380.0 72.8,381.0 72.7,382.0 72.6,383.0 72.5,383.5 72.2,384.5 72.0,385.0 71.5,386.0 71.1,386.5 70.6,387.0 70.0,387.4 69.5,387.6Z M40.5,395.1 39.5,395.0 39.0,394.6 38.5,394.1 38.0,393.5 37.7,393.0 37.7,392.0 37.9,391.0 38.0,390.5 38.3,389.5 38.5,388.8 38.8,388.0 39.1,387.5 39.5,387.0 40.5,386.6 41.2,387.0 41.5,387.6 41.8,388.5 42.0,389.5 42.0,390.0 42.1,391.0 42.1,392.0 42.0,392.9 41.8,393.5 41.5,394.2 41.0,394.8 40.5,395.1Z M69.5,386.0 68.5,386.2 67.9,386.0 67.4,385.5 67.0,384.8 66.7,384.0 66.5,383.5 66.2,382.5 66.1,381.5 66.1,380.5 66.1,379.5 66.2,378.5 66.2,377.5 66.3,376.5 66.5,375.6 66.7,375.0 67.0,374.0 67.2,373.5 67.5,372.9 68.0,372.4 69.0,372.2 69.6,372.5 70.1,373.0 70.5,373.7 70.8,374.5 71.0,375.4 71.1,376.0 71.3,377.0 71.4,378.0 71.5,379.0 71.5,380.0 71.4,381.0 71.3,382.0 71.1,383.0 71.0,383.5 70.6,384.5 70.4,385.0 70.0,385.6 69.5,386.0Z M40.0,393.2 39.5,392.9 39.2,392.0 39.2,391.0 39.2,390.0 39.4,389.0 39.7,388.5 40.5,388.2 40.8,389.0 41.0,390.0 41.0,391.0 40.9,392.0 40.5,393.0 40.0,393.2Z" fill="none" stroke="#000" stroke-width="1.0"/>
<rect x="96.6" y="292.5" width="51.7" height="43.6" fill="none" stroke="#000" stroke-width="2" stroke-dasharray="5,3.3"/>
<rect x="108.5" y="377.2" width="35.7" height="32.3" fill="none" stroke="#000" stroke-width="1.8"/>
<text x="159.3" y="326.0" font-size="18" font-family="Liberation Serif" font-weight="normal" text-anchor="start" fill="#000" textLength="34.4" lengthAdjust="spacingAndGlyphs">34.8</text>
<text x="155.5" y="403.0" font-size="18" font-family="Liberation Serif" font-weight="normal" text-anchor="start" fill="#000" textLength="35.1" lengthAdjust="spacingAndGlyphs">15.2</text>
<line x1="37.0" y1="409.5" x2="37.0" y2="412.5" stroke="#000" stroke-width="1.3"/>
<line x1="49.2" y1="409.5" x2="49.2" y2="411.5" stroke="#000" stroke-width="0.9"/>
<line x1="56.4" y1="409.5" x2="56.4" y2="411.5" stroke="#000" stroke-width="0.9"/>
<line x1="61.5" y1="409.5" x2="61.5" y2="411.5" stroke="#000" stroke-width="0.9"/>
<line x1="65.4" y1="409.5" x2="65.4" y2="411.5" stroke="#000" stroke-width="0.9"/>
<line x1="68.6" y1="409.5" x2="68.6" y2="411.5" stroke="#000" stroke-width="0.9"/>
<line x1="71.3" y1="409.5" x2="71.3" y2="411.5" stroke="#000" stroke-width="0.9"/>
<line x1="73.7" y1="409.5" x2="73.7" y2="411.5" stroke="#000" stroke-width="0.9"/>
<line x1="75.8" y1="409.5" x2="75.8" y2="411.5" stroke="#000" stroke-width="0.9"/>
<text x="38.0" y="427.8" font-size="9.5" font-family="Liberation Serif" text-anchor="middle">10</text>
<text x="43.0" y="423.6" font-size="5.7" font-family="Liberation Serif">0</text>
<line x1="77.6" y1="409.5" x2="77.6" y2="412.5" stroke="#000" stroke-width="1.3"/>
<line x1="89.9" y1="409.5" x2="89.9" y2="411.5" stroke="#000" stroke-width="0.9"/>
<line x1="97.0" y1="409.5" x2="97.0" y2="411.5" stroke="#000" stroke-width="0.9"/>
<line x1="102.1" y1="409.5" x2="102.1" y2="411.5" stroke="#000" stroke-width="0.9"/>
<line x1="106.0" y1="409.5" x2="106.0" y2="411.5" stroke="#000" stroke-width="0.9"/>
<line x1="109.2" y1="409.5" x2="109.2" y2="411.5" stroke="#000" stroke-width="0.9"/>
<line x1="112.0" y1="409.5" x2="112.0" y2="411.5" stroke="#000" stroke-width="0.9"/>
<line x1="114.3" y1="409.5" x2="114.3" y2="411.5" stroke="#000" stroke-width="0.9"/>
<line x1="116.4" y1="409.5" x2="116.4" y2="411.5" stroke="#000" stroke-width="0.9"/>
<text x="78.6" y="427.8" font-size="9.5" font-family="Liberation Serif" text-anchor="middle">10</text>
<text x="83.6" y="423.6" font-size="5.7" font-family="Liberation Serif">1</text>
<line x1="118.2" y1="409.5" x2="118.2" y2="412.5" stroke="#000" stroke-width="1.3"/>
<line x1="130.5" y1="409.5" x2="130.5" y2="411.5" stroke="#000" stroke-width="0.9"/>
<line x1="137.6" y1="409.5" x2="137.6" y2="411.5" stroke="#000" stroke-width="0.9"/>
<line x1="142.7" y1="409.5" x2="142.7" y2="411.5" stroke="#000" stroke-width="0.9"/>
<line x1="146.6" y1="409.5" x2="146.6" y2="411.5" stroke="#000" stroke-width="0.9"/>
<line x1="149.9" y1="409.5" x2="149.9" y2="411.5" stroke="#000" stroke-width="0.9"/>
<line x1="152.6" y1="409.5" x2="152.6" y2="411.5" stroke="#000" stroke-width="0.9"/>
<line x1="154.9" y1="409.5" x2="154.9" y2="411.5" stroke="#000" stroke-width="0.9"/>
<line x1="157.0" y1="409.5" x2="157.0" y2="411.5" stroke="#000" stroke-width="0.9"/>
<text x="119.2" y="427.8" font-size="9.5" font-family="Liberation Serif" text-anchor="middle">10</text>
<text x="124.2" y="423.6" font-size="5.7" font-family="Liberation Serif">2</text>
<line x1="158.9" y1="409.5" x2="158.9" y2="412.5" stroke="#000" stroke-width="1.3"/>
<line x1="171.1" y1="409.5" x2="171.1" y2="411.5" stroke="#000" stroke-width="0.9"/>
<line x1="178.3" y1="409.5" x2="178.3" y2="411.5" stroke="#000" stroke-width="0.9"/>
<line x1="183.3" y1="409.5" x2="183.3" y2="411.5" stroke="#000" stroke-width="0.9"/>
<line x1="187.3" y1="409.5" x2="187.3" y2="411.5" stroke="#000" stroke-width="0.9"/>
<line x1="190.5" y1="409.5" x2="190.5" y2="411.5" stroke="#000" stroke-width="0.9"/>
<line x1="193.2" y1="409.5" x2="193.2" y2="411.5" stroke="#000" stroke-width="0.9"/>
<line x1="195.6" y1="409.5" x2="195.6" y2="411.5" stroke="#000" stroke-width="0.9"/>
<line x1="197.6" y1="409.5" x2="197.6" y2="411.5" stroke="#000" stroke-width="0.9"/>
<text x="159.9" y="427.8" font-size="9.5" font-family="Liberation Serif" text-anchor="middle">10</text>
<text x="164.8" y="423.6" font-size="5.7" font-family="Liberation Serif">3</text>
<line x1="199.5" y1="409.5" x2="199.5" y2="412.5" stroke="#000" stroke-width="1.3"/>
<text x="200.5" y="427.8" font-size="9.5" font-family="Liberation Serif" text-anchor="middle">10</text>
<text x="205.4" y="423.6" font-size="5.7" font-family="Liberation Serif">4</text>
<line x1="34.0" y1="409.5" x2="37.0" y2="409.5" stroke="#000" stroke-width="1.3"/>
<line x1="34.5" y1="380.4" x2="37.0" y2="380.4" stroke="#000" stroke-width="1.3"/>
<text x="25.1" y="415.8" font-size="9.5" font-family="Liberation Serif" text-anchor="middle">10</text>
<text x="30.1" y="411.5" font-size="5.7" font-family="Liberation Serif">0</text>
<line x1="34.0" y1="367.9" x2="37.0" y2="367.9" stroke="#000" stroke-width="1.3"/>
<line x1="34.5" y1="338.8" x2="37.0" y2="338.8" stroke="#000" stroke-width="1.3"/>
<text x="25.1" y="374.1" font-size="9.5" font-family="Liberation Serif" text-anchor="middle">10</text>
<text x="30.1" y="369.9" font-size="5.7" font-family="Liberation Serif">1</text>
<line x1="34.0" y1="326.2" x2="37.0" y2="326.2" stroke="#000" stroke-width="1.3"/>
<line x1="34.5" y1="297.2" x2="37.0" y2="297.2" stroke="#000" stroke-width="1.3"/>
<text x="25.1" y="332.5" font-size="9.5" font-family="Liberation Serif" text-anchor="middle">10</text>
<text x="30.1" y="328.2" font-size="5.7" font-family="Liberation Serif">2</text>
<line x1="34.0" y1="284.6" x2="37.0" y2="284.6" stroke="#000" stroke-width="1.3"/>
<line x1="34.5" y1="255.5" x2="37.0" y2="255.5" stroke="#000" stroke-width="1.3"/>
<text x="25.1" y="290.9" font-size="9.5" font-family="Liberation Serif" text-anchor="middle">10</text>
<text x="30.1" y="286.6" font-size="5.7" font-family="Liberation Serif">3</text>
<line x1="34.0" y1="243.0" x2="37.0" y2="243.0" stroke="#000" stroke-width="1.3"/>
<text x="25.1" y="249.3" font-size="9.5" font-family="Liberation Serif" text-anchor="middle">10</text>
<text x="30.1" y="245.0" font-size="5.7" font-family="Liberation Serif">4</text>
<rect x="37.0" y="243.0" width="162.5" height="166.5" fill="none" stroke="#000" stroke-width="2"/>
<g fill="#777"><rect x="130.2" y="632.9" width="1.15" height="1.15"/><rect x="54.6" y="633.7" width="1.15" height="1.15"/><rect x="64.1" y="619.7" width="1.15" height="1.15"/><rect x="69.2" y="607.8" width="1.15" height="1.15"/><rect x="37.2" y="572.5" width="1.15" height="1.15"/><rect x="120.5" y="612.7" width="1.15" height="1.15"/><rect x="57.2" y="614.7" width="1.15" height="1.15"/><rect x="43.8" y="568.7" width="1.15" height="1.15"/><rect x="42.9" y="570.1" width="1.15" height="1.15"/><rect x="96.9" y="650.1" width="1.15" height="1.15"/><rect x="109.4" y="625.7" width="1.15" height="1.15"/><rect x="61.8" y="604.3" width="1.15" height="1.15"/><rect x="131.7" y="615.7" width="1.15" height="1.15"/><rect x="46.6" y="646.5" width="1.15" height="1.15"/><rect x="96.8" y="638.8" width="1.15" height="1.15"/><rect x="78.9" y="635.6" width="1.15" height="1.15"/><rect x="105.0" y="613.7" width="1.15" height="1.15"/><rect x="59.3" y="618.2" width="1.15" height="1.15"/><rect x="36.8" y="627.3" width="1.15" height="1.15"/><rect x="39.3" y="575.3" width="1.15" height="1.15"/><rect x="36.4" y="621.6" width="1.15" height="1.15"/><rect x="84.7" y="606.2" width="1.15" height="1.15"/><rect x="41.8" y="638.2" width="1.15" height="1.15"/><rect x="39.4" y="576.8" width="1.15" height="1.15"/><rect x="56.1" y="627.1" width="1.15" height="1.15"/><rect x="109.4" y="636.8" width="1.15" height="1.15"/><rect x="57.2" y="603.6" width="1.15" height="1.15"/><rect x="63.2" y="638.8" width="1.15" height="1.15"/><rect x="40.1" y="637.2" width="1.15" height="1.15"/><rect x="40.2" y="556.8" width="1.15" height="1.15"/><rect x="138.2" y="628.0" width="1.15" height="1.15"/><rect x="38.1" y="534.1" width="1.15" height="1.15"/><rect x="55.6" y="618.9" width="1.15" height="1.15"/><rect x="40.1" y="615.7" width="1.15" height="1.15"/><rect x="95.4" y="601.2" width="1.15" height="1.15"/><rect x="56.3" y="610.2" width="1.15" height="1.15"/><rect x="38.6" y="633.7" width="1.15" height="1.15"/><rect x="55.6" y="609.5" width="1.15" height="1.15"/><rect x="52.7" y="597.1" width="1.15" height="1.15"/><rect x="41.5" y="628.0" width="1.15" height="1.15"/><rect x="48.5" y="616.4" width="1.15" height="1.15"/><rect x="55.1" y="632.9" width="1.15" height="1.15"/><rect x="80.6" y="604.0" width="1.15" height="1.15"/><rect x="101.1" y="609.6" width="1.15" height="1.15"/><rect x="64.7" y="633.2" width="1.15" height="1.15"/><rect x="91.7" y="618.9" width="1.15" height="1.15"/><rect x="84.6" y="619.2" width="1.15" height="1.15"/><rect x="97.5" y="603.8" width="1.15" height="1.15"/><rect x="58.6" y="554.7" width="1.15" height="1.15"/><rect x="76.9" y="641.8" width="1.15" height="1.15"/><rect x="36.2" y="586.0" width="1.15" height="1.15"/><rect x="87.2" y="635.3" width="1.15" height="1.15"/><rect x="47.8" y="612.5" width="1.15" height="1.15"/><rect x="123.5" y="643.5" width="1.15" height="1.15"/><rect x="66.9" y="613.9" width="1.15" height="1.15"/><rect x="38.5" y="642.5" width="1.15" height="1.15"/><rect x="40.5" y="621.6" width="1.15" height="1.15"/><rect x="51.3" y="604.6" width="1.15" height="1.15"/><rect x="55.5" y="630.3" width="1.15" height="1.15"/><rect x="114.3" y="626.8" width="1.15" height="1.15"/><rect x="104.0" y="627.0" width="1.15" height="1.15"/><rect x="91.7" y="617.1" width="1.15" height="1.15"/><rect x="75.7" y="602.9" width="1.15" height="1.15"/><rect x="104.0" y="625.1" width="1.15" height="1.15"/><rect x="42.3" y="592.2" width="1.15" height="1.15"/><rect x="78.8" y="627.3" width="1.15" height="1.15"/><rect x="52.4" y="625.2" width="1.15" height="1.15"/><rect x="43.5" y="612.7" width="1.15" height="1.15"/><rect x="50.8" y="633.0" width="1.15" height="1.15"/><rect x="47.2" y="600.9" width="1.15" height="1.15"/><rect x="79.8" y="613.6" width="1.15" height="1.15"/><rect x="45.8" y="632.9" width="1.15" height="1.15"/><rect x="77.0" y="613.2" width="1.15" height="1.15"/><rect x="79.9" y="628.3" width="1.15" height="1.15"/><rect x="46.5" y="623.9" width="1.15" height="1.15"/><rect x="127.5" y="642.3" width="1.15" height="1.15"/><rect x="44.5" y="649.1" width="1.15" height="1.15"/><rect x="80.9" y="629.3" width="1.15" height="1.15"/><rect x="64.4" y="633.7" width="1.15" height="1.15"/><rect x="41.9" y="597.4" width="1.15" height="1.15"/><rect x="76.1" y="628.5" width="1.15" height="1.15"/><rect x="127.3" y="635.7" width="1.15" height="1.15"/><rect x="89.4" y="613.9" width="1.15" height="1.15"/><rect x="114.1" y="621.2" width="1.15" height="1.15"/><rect x="41.8" y="618.2" width="1.15" height="1.15"/><rect x="76.4" y="644.3" width="1.15" height="1.15"/><rect x="62.4" y="609.7" width="1.15" height="1.15"/><rect x="99.9" y="613.8" width="1.15" height="1.15"/><rect x="41.6" y="532.2" width="1.15" height="1.15"/><rect x="71.9" y="615.0" width="1.15" height="1.15"/><rect x="122.4" y="624.8" width="1.15" height="1.15"/><rect x="109.2" y="642.0" width="1.15" height="1.15"/><rect x="110.8" y="640.8" width="1.15" height="1.15"/><rect x="87.5" y="610.0" width="1.15" height="1.15"/><rect x="53.7" y="648.6" width="1.15" height="1.15"/><rect x="46.0" y="600.8" width="1.15" height="1.15"/><rect x="168.3" y="634.2" width="1.15" height="1.15"/><rect x="34.0" y="598.2" width="1.15" height="1.15"/><rect x="35.4" y="614.3" width="1.15" height="1.15"/><rect x="39.7" y="581.2" width="1.15" height="1.15"/><rect x="52.3" y="636.4" width="1.15" height="1.15"/><rect x="93.6" y="634.4" width="1.15" height="1.15"/><rect x="70.7" y="595.8" width="1.15" height="1.15"/><rect x="72.0" y="620.2" width="1.15" height="1.15"/><rect x="133.3" y="605.6" width="1.15" height="1.15"/><rect x="50.6" y="618.4" width="1.15" height="1.15"/><rect x="113.3" y="621.2" width="1.15" height="1.15"/><rect x="35.2" y="592.1" width="1.15" height="1.15"/><rect x="36.4" y="636.7" width="1.15" height="1.15"/><rect x="78.8" y="607.0" width="1.15" height="1.15"/><rect x="39.4" y="616.3" width="1.15" height="1.15"/><rect x="37.4" y="574.2" width="1.15" height="1.15"/><rect x="36.1" y="540.5" width="1.15" height="1.15"/><rect x="55.4" y="601.3" width="1.15" height="1.15"/><rect x="53.5" y="611.1" width="1.15" height="1.15"/><rect x="86.2" y="641.5" width="1.15" height="1.15"/><rect x="81.1" y="638.5" width="1.15" height="1.15"/><rect x="48.2" y="618.2" width="1.15" height="1.15"/><rect x="110.0" y="616.7" width="1.15" height="1.15"/><rect x="45.3" y="626.4" width="1.15" height="1.15"/><rect x="60.6" y="636.3" width="1.15" height="1.15"/><rect x="120.8" y="610.2" width="1.15" height="1.15"/><rect x="97.8" y="632.4" width="1.15" height="1.15"/><rect x="62.7" y="613.9" width="1.15" height="1.15"/><rect x="77.7" y="623.0" width="1.15" height="1.15"/><rect x="120.5" y="629.5" width="1.15" height="1.15"/><rect x="43.3" y="619.2" width="1.15" height="1.15"/><rect x="64.4" y="627.3" width="1.15" height="1.15"/><rect x="155.8" y="627.3" width="1.15" height="1.15"/><rect x="46.8" y="546.6" width="1.15" height="1.15"/><rect x="41.8" y="565.7" width="1.15" height="1.15"/><rect x="52.6" y="602.3" width="1.15" height="1.15"/><rect x="93.8" y="601.6" width="1.15" height="1.15"/><rect x="132.3" y="570.0" width="1.15" height="1.15"/><rect x="32.5" y="602.7" width="1.15" height="1.15"/><rect x="43.5" y="623.3" width="1.15" height="1.15"/><rect x="157.0" y="637.8" width="1.15" height="1.15"/><rect x="46.9" y="611.7" width="1.15" height="1.15"/><rect x="39.4" y="612.7" width="1.15" height="1.15"/><rect x="45.1" y="614.8" width="1.15" height="1.15"/><rect x="66.5" y="627.0" width="1.15" height="1.15"/><rect x="108.0" y="631.8" width="1.15" height="1.15"/><rect x="125.9" y="642.6" width="1.15" height="1.15"/><rect x="38.6" y="612.9" width="1.15" height="1.15"/><rect x="122.5" y="628.0" width="1.15" height="1.15"/><rect x="53.0" y="611.0" width="1.15" height="1.15"/><rect x="40.7" y="634.2" width="1.15" height="1.15"/><rect x="33.6" y="603.7" width="1.15" height="1.15"/><rect x="128.3" y="637.3" width="1.15" height="1.15"/><rect x="71.1" y="619.0" width="1.15" height="1.15"/><rect x="97.2" y="629.0" width="1.15" height="1.15"/><rect x="47.2" y="620.7" width="1.15" height="1.15"/><rect x="53.3" y="609.2" width="1.15" height="1.15"/><rect x="71.9" y="618.3" width="1.15" height="1.15"/><rect x="35.6" y="571.1" width="1.15" height="1.15"/><rect x="44.9" y="567.3" width="1.15" height="1.15"/><rect x="100.5" y="619.8" width="1.15" height="1.15"/><rect x="125.7" y="617.5" width="1.15" height="1.15"/><rect x="46.3" y="635.2" width="1.15" height="1.15"/><rect x="59.4" y="557.5" width="1.15" height="1.15"/><rect x="45.6" y="621.4" width="1.15" height="1.15"/><rect x="43.8" y="618.5" width="1.15" height="1.15"/><rect x="118.6" y="623.2" width="1.15" height="1.15"/><rect x="41.3" y="629.4" width="1.15" height="1.15"/><rect x="52.1" y="619.8" width="1.15" height="1.15"/><rect x="99.2" y="621.7" width="1.15" height="1.15"/><rect x="50.9" y="618.7" width="1.15" height="1.15"/><rect x="68.2" y="624.1" width="1.15" height="1.15"/><rect x="59.3" y="604.8" width="1.15" height="1.15"/><rect x="106.5" y="620.8" width="1.15" height="1.15"/><rect x="93.3" y="626.4" width="1.15" height="1.15"/><rect x="122.9" y="600.3" width="1.15" height="1.15"/><rect x="101.0" y="648.7" width="1.15" height="1.15"/><rect x="106.5" y="629.8" width="1.15" height="1.15"/><rect x="108.8" y="644.2" width="1.15" height="1.15"/><rect x="74.9" y="607.7" width="1.15" height="1.15"/><rect x="101.7" y="616.3" width="1.15" height="1.15"/><rect x="51.1" y="605.7" width="1.15" height="1.15"/><rect x="135.8" y="569.1" width="1.15" height="1.15"/><rect x="41.1" y="555.7" width="1.15" height="1.15"/><rect x="49.3" y="604.8" width="1.15" height="1.15"/><rect x="93.3" y="636.6" width="1.15" height="1.15"/><rect x="41.0" y="598.7" width="1.15" height="1.15"/><rect x="54.2" y="627.3" width="1.15" height="1.15"/><rect x="79.3" y="605.3" width="1.15" height="1.15"/><rect x="128.3" y="577.7" width="1.15" height="1.15"/><rect x="37.2" y="601.0" width="1.15" height="1.15"/><rect x="46.4" y="627.0" width="1.15" height="1.15"/><rect x="44.3" y="619.2" width="1.15" height="1.15"/><rect x="70.3" y="620.9" width="1.15" height="1.15"/><rect x="91.3" y="616.7" width="1.15" height="1.15"/><rect x="39.4" y="606.9" width="1.15" height="1.15"/><rect x="131.9" y="618.0" width="1.15" height="1.15"/><rect x="89.0" y="641.1" width="1.15" height="1.15"/><rect x="56.9" y="601.6" width="1.15" height="1.15"/><rect x="69.1" y="629.5" width="1.15" height="1.15"/><rect x="143.3" y="605.2" width="1.15" height="1.15"/><rect x="44.0" y="601.0" width="1.15" height="1.15"/><rect x="49.0" y="610.2" width="1.15" height="1.15"/><rect x="137.1" y="588.3" width="1.15" height="1.15"/><rect x="118.8" y="641.9" width="1.15" height="1.15"/><rect x="142.0" y="611.9" width="1.15" height="1.15"/><rect x="45.7" y="599.2" width="1.15" height="1.15"/><rect x="41.3" y="512.7" width="1.15" height="1.15"/><rect x="34.8" y="575.8" width="1.15" height="1.15"/><rect x="62.0" y="602.7" width="1.15" height="1.15"/><rect x="50.6" y="615.1" width="1.15" height="1.15"/><rect x="47.4" y="623.6" width="1.15" height="1.15"/><rect x="150.3" y="646.7" width="1.15" height="1.15"/><rect x="91.4" y="638.4" width="1.15" height="1.15"/><rect x="76.7" y="604.5" width="1.15" height="1.15"/><rect x="40.0" y="624.1" width="1.15" height="1.15"/><rect x="73.6" y="640.7" width="1.15" height="1.15"/><rect x="31.7" y="590.7" width="1.15" height="1.15"/><rect x="101.0" y="635.7" width="1.15" height="1.15"/><rect x="43.0" y="613.8" width="1.15" height="1.15"/><rect x="68.7" y="632.2" width="1.15" height="1.15"/><rect x="41.8" y="609.8" width="1.15" height="1.15"/><rect x="63.1" y="624.6" width="1.15" height="1.15"/><rect x="91.1" y="618.9" width="1.15" height="1.15"/><rect x="39.7" y="591.2" width="1.15" height="1.15"/><rect x="43.4" y="631.3" width="1.15" height="1.15"/><rect x="139.3" y="633.8" width="1.15" height="1.15"/><rect x="66.6" y="617.9" width="1.15" height="1.15"/><rect x="54.6" y="613.2" width="1.15" height="1.15"/><rect x="47.9" y="643.7" width="1.15" height="1.15"/><rect x="133.1" y="612.5" width="1.15" height="1.15"/><rect x="41.2" y="637.8" width="1.15" height="1.15"/><rect x="56.3" y="614.8" width="1.15" height="1.15"/><rect x="116.8" y="612.3" width="1.15" height="1.15"/><rect x="72.1" y="611.9" width="1.15" height="1.15"/><rect x="129.2" y="574.8" width="1.15" height="1.15"/><rect x="59.0" y="607.2" width="1.15" height="1.15"/><rect x="117.9" y="603.6" width="1.15" height="1.15"/><rect x="134.1" y="576.2" width="1.15" height="1.15"/><rect x="106.2" y="620.7" width="1.15" height="1.15"/><rect x="86.3" y="615.7" width="1.15" height="1.15"/><rect x="50.8" y="560.1" width="1.15" height="1.15"/><rect x="77.8" y="597.6" width="1.15" height="1.15"/><rect x="143.6" y="640.4" width="1.15" height="1.15"/><rect x="54.3" y="595.3" width="1.15" height="1.15"/><rect x="114.2" y="612.5" width="1.15" height="1.15"/><rect x="115.5" y="643.7" width="1.15" height="1.15"/><rect x="122.0" y="593.2" width="1.15" height="1.15"/><rect x="70.3" y="614.4" width="1.15" height="1.15"/><rect x="79.2" y="632.8" width="1.15" height="1.15"/><rect x="58.7" y="557.1" width="1.15" height="1.15"/><rect x="126.4" y="578.6" width="1.15" height="1.15"/><rect x="122.4" y="641.4" width="1.15" height="1.15"/><rect x="104.6" y="627.0" width="1.15" height="1.15"/><rect x="48.3" y="605.9" width="1.15" height="1.15"/><rect x="46.5" y="617.9" width="1.15" height="1.15"/><rect x="69.9" y="604.9" width="1.15" height="1.15"/><rect x="125.7" y="638.2" width="1.15" height="1.15"/><rect x="93.6" y="643.4" width="1.15" height="1.15"/><rect x="39.2" y="579.8" width="1.15" height="1.15"/><rect x="47.3" y="620.2" width="1.15" height="1.15"/><rect x="67.6" y="600.1" width="1.15" height="1.15"/><rect x="144.6" y="614.1" width="1.15" height="1.15"/><rect x="53.4" y="630.1" width="1.15" height="1.15"/><rect x="80.3" y="628.4" width="1.15" height="1.15"/><rect x="63.9" y="600.4" width="1.15" height="1.15"/><rect x="48.2" y="610.2" width="1.15" height="1.15"/><rect x="32.0" y="615.6" width="1.15" height="1.15"/><rect x="44.0" y="613.5" width="1.15" height="1.15"/><rect x="84.3" y="626.9" width="1.15" height="1.15"/><rect x="42.6" y="632.7" width="1.15" height="1.15"/><rect x="79.9" y="610.6" width="1.15" height="1.15"/><rect x="75.2" y="615.8" width="1.15" height="1.15"/><rect x="36.5" y="578.7" width="1.15" height="1.15"/><rect x="42.2" y="612.4" width="1.15" height="1.15"/><rect x="39.3" y="643.7" width="1.15" height="1.15"/><rect x="48.1" y="619.1" width="1.15" height="1.15"/><rect x="47.3" y="621.8" width="1.15" height="1.15"/><rect x="87.2" y="623.6" width="1.15" height="1.15"/><rect x="39.9" y="621.9" width="1.15" height="1.15"/><rect x="119.1" y="633.0" width="1.15" height="1.15"/><rect x="39.7" y="606.2" width="1.15" height="1.15"/><rect x="56.5" y="609.4" width="1.15" height="1.15"/><rect x="41.7" y="638.2" width="1.15" height="1.15"/><rect x="31.6" y="618.8" width="1.15" height="1.15"/><rect x="105.9" y="644.7" width="1.15" height="1.15"/><rect x="56.0" y="596.3" width="1.15" height="1.15"/><rect x="85.2" y="632.2" width="1.15" height="1.15"/><rect x="75.2" y="617.5" width="1.15" height="1.15"/><rect x="84.6" y="617.5" width="1.15" height="1.15"/><rect x="58.0" y="637.9" width="1.15" height="1.15"/><rect x="30.2" y="595.4" width="1.15" height="1.15"/><rect x="56.8" y="619.5" width="1.15" height="1.15"/><rect x="84.2" y="605.2" width="1.15" height="1.15"/><rect x="62.6" y="610.8" width="1.15" height="1.15"/><rect x="59.8" y="634.2" width="1.15" height="1.15"/><rect x="55.7" y="614.3" width="1.15" height="1.15"/><rect x="97.9" y="631.8" width="1.15" height="1.15"/><rect x="47.3" y="554.1" width="1.15" height="1.15"/><rect x="103.5" y="649.8" width="1.15" height="1.15"/><rect x="107.3" y="643.8" width="1.15" height="1.15"/><rect x="50.7" y="627.1" width="1.15" height="1.15"/><rect x="88.5" y="601.2" width="1.15" height="1.15"/><rect x="50.2" y="625.8" width="1.15" height="1.15"/><rect x="73.2" y="600.4" width="1.15" height="1.15"/><rect x="115.7" y="612.6" width="1.15" height="1.15"/><rect x="35.2" y="564.3" width="1.15" height="1.15"/><rect x="130.3" y="579.3" width="1.15" height="1.15"/><rect x="38.0" y="598.1" width="1.15" height="1.15"/><rect x="46.8" y="599.8" width="1.15" height="1.15"/><rect x="109.6" y="634.8" width="1.15" height="1.15"/><rect x="145.4" y="604.7" width="1.15" height="1.15"/><rect x="53.9" y="634.7" width="1.15" height="1.15"/><rect x="65.7" y="547.0" width="1.15" height="1.15"/><rect x="134.9" y="574.2" width="1.15" height="1.15"/><rect x="40.4" y="575.8" width="1.15" height="1.15"/><rect x="49.3" y="642.0" width="1.15" height="1.15"/><rect x="59.5" y="633.9" width="1.15" height="1.15"/><rect x="30.3" y="555.4" width="1.15" height="1.15"/><rect x="47.8" y="641.9" width="1.15" height="1.15"/><rect x="50.7" y="603.6" width="1.15" height="1.15"/><rect x="94.9" y="606.3" width="1.15" height="1.15"/><rect x="90.9" y="622.3" width="1.15" height="1.15"/><rect x="36.5" y="601.7" width="1.15" height="1.15"/><rect x="62.4" y="646.3" width="1.15" height="1.15"/><rect x="38.2" y="612.2" width="1.15" height="1.15"/><rect x="68.9" y="621.7" width="1.15" height="1.15"/><rect x="83.4" y="622.2" width="1.15" height="1.15"/><rect x="36.8" y="607.3" width="1.15" height="1.15"/><rect x="87.9" y="629.5" width="1.15" height="1.15"/><rect x="59.7" y="649.0" width="1.15" height="1.15"/><rect x="93.2" y="622.8" width="1.15" height="1.15"/><rect x="128.7" y="585.2" width="1.15" height="1.15"/><rect x="56.1" y="633.4" width="1.15" height="1.15"/><rect x="44.2" y="626.2" width="1.15" height="1.15"/><rect x="38.4" y="618.5" width="1.15" height="1.15"/><rect x="147.3" y="625.5" width="1.15" height="1.15"/><rect x="50.4" y="606.2" width="1.15" height="1.15"/><rect x="124.0" y="608.7" width="1.15" height="1.15"/><rect x="63.3" y="619.2" width="1.15" height="1.15"/><rect x="35.9" y="579.0" width="1.15" height="1.15"/><rect x="139.4" y="622.2" width="1.15" height="1.15"/><rect x="49.8" y="599.8" width="1.15" height="1.15"/><rect x="49.3" y="605.5" width="1.15" height="1.15"/><rect x="32.6" y="639.6" width="1.15" height="1.15"/><rect x="136.2" y="622.3" width="1.15" height="1.15"/><rect x="134.6" y="604.4" width="1.15" height="1.15"/><rect x="45.3" y="627.9" width="1.15" height="1.15"/><rect x="107.2" y="649.4" width="1.15" height="1.15"/><rect x="95.3" y="638.9" width="1.15" height="1.15"/><rect x="53.3" y="633.1" width="1.15" height="1.15"/><rect x="50.6" y="610.4" width="1.15" height="1.15"/><rect x="79.0" y="622.5" width="1.15" height="1.15"/><rect x="97.1" y="622.5" width="1.15" height="1.15"/><rect x="33.4" y="587.2" width="1.15" height="1.15"/><rect x="83.7" y="627.5" width="1.15" height="1.15"/><rect x="130.7" y="619.7" width="1.15" height="1.15"/><rect x="32.2" y="620.1" width="1.15" height="1.15"/><rect x="117.4" y="629.4" width="1.15" height="1.15"/><rect x="136.7" y="582.6" width="1.15" height="1.15"/><rect x="46.1" y="602.7" width="1.15" height="1.15"/><rect x="130.6" y="647.9" width="1.15" height="1.15"/><rect x="52.7" y="608.7" width="1.15" height="1.15"/><rect x="59.1" y="605.5" width="1.15" height="1.15"/><rect x="33.9" y="580.3" width="1.15" height="1.15"/><rect x="134.6" y="608.9" width="1.15" height="1.15"/><rect x="74.4" y="621.7" width="1.15" height="1.15"/><rect x="42.4" y="566.0" width="1.15" height="1.15"/><rect x="34.0" y="608.2" width="1.15" height="1.15"/><rect x="76.2" y="605.5" width="1.15" height="1.15"/><rect x="49.6" y="597.6" width="1.15" height="1.15"/><rect x="78.4" y="632.5" width="1.15" height="1.15"/><rect x="58.7" y="644.7" width="1.15" height="1.15"/><rect x="74.2" y="640.4" width="1.15" height="1.15"/><rect x="70.4" y="615.8" width="1.15" height="1.15"/><rect x="38.2" y="577.9" width="1.15" height="1.15"/><rect x="44.1" y="611.3" width="1.15" height="1.15"/><rect x="50.4" y="620.1" width="1.15" height="1.15"/><rect x="74.0" y="612.9" width="1.15" height="1.15"/><rect x="54.2" y="629.7" width="1.15" height="1.15"/><rect x="72.3" y="630.3" width="1.15" height="1.15"/><rect x="82.2" y="638.9" width="1.15" height="1.15"/><rect x="44.6" y="617.4" width="1.15" height="1.15"/><rect x="35.8" y="604.6" width="1.15" height="1.15"/></g>
<path d="M108.0,612.0 107.0,612.2 106.0,612.1 105.5,611.9 104.7,611.5 104.1,611.0 103.6,610.5 103.1,610.0 102.7,609.5 102.3,609.0 101.9,608.5 101.4,608.0 101.0,607.5 100.5,606.9 100.0,606.1 99.7,605.5 99.4,605.0 99.0,604.2 98.6,603.5 98.4,603.0 98.0,602.3 97.6,601.5 97.4,601.0 97.1,600.0 96.9,599.5 96.5,598.5 96.2,598.0 96.0,597.5 95.5,596.7 95.0,596.0 94.6,595.5 94.2,595.0 93.8,594.5 93.3,594.0 92.8,593.5 92.3,593.0 91.8,592.5 91.1,592.0 90.5,591.6 90.0,591.3 89.2,591.0 88.5,590.8 87.6,590.5 87.0,590.3 86.0,590.1 85.5,589.9 84.5,589.7 83.8,589.5 83.0,589.3 82.0,589.0 81.5,589.0 80.5,588.9 80.0,589.0 79.0,589.2 78.2,589.5 77.5,589.8 76.8,590.0 76.0,590.3 75.4,590.5 74.5,590.8 73.8,591.0 73.0,591.2 72.0,591.5 71.5,591.6 70.5,591.8 69.5,592.0 69.0,592.1 68.0,592.3 67.0,592.4 66.5,592.5 65.5,592.8 64.6,593.0 64.0,593.1 63.0,593.3 62.0,593.4 61.0,593.4 60.2,593.5 59.5,593.6 58.5,593.7 57.5,593.8 56.5,593.8 55.5,593.7 54.5,593.7 53.5,593.6 52.5,593.5 52.0,593.5 51.0,593.4 50.0,593.2 49.4,593.0 48.5,592.6 48.0,592.4 47.4,592.0 46.7,591.5 46.0,591.1 45.5,590.9 44.8,590.5 44.0,590.0 43.5,589.5 43.1,589.0 42.9,588.5 42.5,587.5 42.4,587.0 42.1,586.0 42.0,585.5 41.7,584.5 41.5,583.5 41.4,583.0 41.3,582.0 41.3,581.0 41.4,580.0 41.5,579.0 41.5,578.5 41.6,577.5 41.8,576.5 42.0,575.7 42.2,575.0 42.4,574.0 42.6,573.5 43.0,572.5 43.2,572.0 43.5,571.5 44.0,570.8 44.5,570.1 45.0,569.5 45.4,569.0 45.8,568.5 46.2,568.0 46.7,567.5 47.2,567.0 47.8,566.5 48.4,566.0 49.0,565.5 49.5,565.1 50.0,564.7 50.5,564.4 51.0,564.0 51.6,563.5 52.2,563.0 52.8,562.5 53.3,562.0 53.9,561.5 54.5,561.0 55.0,560.6 55.5,560.3 56.0,560.0 56.8,559.5 57.5,559.1 58.0,558.9 58.9,558.5 59.5,558.2 60.1,558.0 61.0,557.7 61.6,557.5 62.5,557.2 63.4,557.0 64.0,556.8 65.0,556.5 65.5,556.3 66.4,556.0 67.0,555.8 67.6,555.5 68.5,555.0 69.0,554.8 69.7,554.5 70.5,554.1 71.0,553.9 71.9,553.5 72.5,553.2 73.0,553.0 74.0,552.5 74.5,552.2 75.0,551.9 75.9,551.5 76.5,551.2 77.0,551.0 78.0,550.5 78.5,550.2 79.0,550.0 79.9,549.5 80.5,549.3 81.1,549.0 82.0,548.6 82.5,548.4 83.5,548.0 84.0,547.8 85.0,547.5 85.5,547.3 86.5,547.1 87.0,546.9 88.0,546.6 88.5,546.5 89.5,546.1 90.0,546.0 91.0,545.7 91.6,545.5 92.5,545.3 93.5,545.1 94.0,545.0 95.0,544.9 96.0,544.9 97.0,544.8 98.0,544.7 99.0,544.6 100.0,544.6 101.0,544.6 101.7,544.5 102.5,544.4 103.5,544.2 104.5,544.2 105.5,544.3 106.5,544.3 107.5,544.5 108.0,544.5 109.0,544.7 110.0,545.0 110.5,545.1 111.5,545.4 112.0,545.5 113.0,545.7 114.0,545.9 114.7,546.0 115.5,546.2 116.3,546.5 117.0,546.9 117.5,547.2 118.0,547.5 118.6,548.0 119.3,548.5 120.0,549.0 120.5,549.4 121.0,549.8 121.5,550.2 122.0,550.7 122.5,551.4 122.8,552.0 123.0,552.6 123.2,553.5 123.4,554.5 123.5,555.3 123.6,556.0 123.8,557.0 123.9,558.0 124.0,558.6 124.1,559.5 124.0,560.5 124.0,561.0 123.8,562.0 123.7,563.0 123.6,564.0 123.5,564.6 123.4,565.5 123.3,566.5 123.2,567.5 123.0,568.5 123.0,569.0 122.8,570.0 122.6,571.0 122.5,571.5 122.2,572.5 122.0,573.4 121.9,574.0 121.6,575.0 121.5,575.6 121.3,576.5 121.0,577.4 120.9,578.0 120.7,579.0 120.6,580.0 120.5,580.6 120.3,581.5 120.0,582.4 119.8,583.0 119.6,584.0 119.4,584.5 119.2,585.5 119.0,586.4 118.9,587.0 118.7,588.0 118.5,589.0 118.4,589.5 118.2,590.5 118.0,591.1 117.8,592.0 117.5,593.0 117.4,593.5 117.2,594.5 117.0,595.4 116.9,596.0 116.7,597.0 116.5,597.6 116.2,598.5 116.0,599.0 115.6,600.0 115.5,600.5 115.1,601.5 114.9,602.0 114.6,603.0 114.4,603.5 114.1,604.5 113.9,605.0 113.6,606.0 113.5,606.5 113.1,607.5 112.9,608.0 112.5,609.0 112.2,609.5 111.9,610.0 111.5,610.5 110.8,611.0 110.0,611.3 109.5,611.5 108.5,611.9 108.0,612.0Z M108.0,605.2 107.0,605.4 106.0,605.3 105.2,605.0 104.5,604.6 104.0,604.2 103.5,603.8 103.0,603.2 102.5,602.7 102.0,602.0 101.6,601.5 101.3,601.0 101.0,600.4 100.6,599.5 100.3,599.0 100.0,598.2 99.7,597.5 99.4,597.0 99.0,596.3 98.5,595.6 98.1,595.0 97.8,594.5 97.5,594.0 97.0,593.3 96.5,592.7 96.0,592.0 95.6,591.5 95.2,591.0 94.7,590.5 94.3,590.0 93.7,589.5 93.1,589.0 92.5,588.6 92.0,588.4 91.1,588.0 90.5,587.8 89.8,587.5 89.0,587.2 88.4,587.0 87.5,586.7 86.5,586.5 86.0,586.4 85.0,586.2 84.4,586.0 83.5,585.8 82.5,585.6 81.5,585.5 80.5,585.5 79.5,585.6 78.5,585.8 78.0,586.0 77.0,586.3 76.4,586.5 75.5,586.7 74.5,586.9 74.0,587.0 73.0,587.3 72.0,587.5 71.5,587.6 70.5,587.9 70.0,588.0 69.0,588.3 68.0,588.5 67.5,588.6 66.5,588.9 66.0,589.0 65.0,589.1 64.0,589.2 63.0,589.4 62.1,589.5 61.5,589.6 60.5,589.7 59.5,589.9 58.5,590.0 57.5,590.0 56.5,589.8 55.5,589.7 54.8,589.5 54.0,589.3 53.2,589.0 52.5,588.7 52.0,588.5 51.2,588.0 50.6,587.5 50.0,587.0 49.5,586.6 49.0,586.1 48.5,585.6 48.0,585.0 47.7,584.5 47.4,584.0 47.0,583.2 46.7,582.5 46.5,581.8 46.3,581.0 46.2,580.0 46.2,579.0 46.2,578.0 46.2,577.0 46.2,576.0 46.3,575.0 46.5,574.0 46.7,573.5 47.0,572.9 47.5,572.1 48.0,571.5 48.4,571.0 48.9,570.5 49.4,570.0 50.0,569.5 50.5,569.0 51.0,568.5 51.5,568.0 52.0,567.5 52.5,567.0 53.0,566.6 53.5,566.1 54.0,565.7 54.5,565.3 55.0,564.8 55.5,564.4 56.0,563.9 56.5,563.5 57.1,563.0 57.7,562.5 58.5,562.0 59.0,561.7 59.5,561.5 60.5,561.1 61.0,560.9 62.0,560.6 62.5,560.4 63.5,560.1 64.0,559.9 65.0,559.6 65.5,559.4 66.5,559.1 67.0,558.9 67.9,558.5 68.5,558.2 69.0,558.0 69.9,557.5 70.5,557.2 71.0,556.9 71.8,556.5 72.5,556.2 73.0,556.0 74.0,555.5 74.5,555.3 75.1,555.0 76.0,554.5 76.5,554.3 77.1,554.0 78.0,553.6 78.5,553.4 79.3,553.0 80.0,552.7 80.5,552.4 81.2,552.0 82.0,551.6 82.5,551.3 83.3,551.0 84.0,550.7 84.6,550.5 85.5,550.2 86.3,550.0 87.0,549.8 88.0,549.6 88.5,549.4 89.5,549.1 90.0,549.0 91.0,548.7 91.6,548.5 92.5,548.2 93.1,548.0 94.0,547.7 95.0,547.6 95.5,547.5 96.5,547.4 97.5,547.3 98.5,547.3 99.5,547.2 100.5,547.1 101.5,547.0 102.0,547.0 103.0,547.0 104.0,547.0 105.0,547.0 106.0,546.9 107.0,546.9 108.0,547.0 108.5,547.0 109.5,547.3 110.3,547.5 111.0,547.7 112.0,548.0 112.5,548.1 113.5,548.4 114.0,548.5 115.0,548.9 115.5,549.1 116.3,549.5 117.0,549.9 117.5,550.2 118.0,550.6 118.5,551.0 119.0,551.5 119.5,552.0 120.0,552.7 120.4,553.5 120.6,554.0 120.9,555.0 121.0,555.6 121.2,556.5 121.5,557.5 121.6,558.0 121.8,559.0 121.8,560.0 121.7,561.0 121.6,562.0 121.5,562.7 121.4,563.5 121.3,564.5 121.2,565.5 121.1,566.5 121.0,567.2 120.9,568.0 120.7,569.0 120.5,569.9 120.4,570.5 120.2,571.5 120.0,572.2 119.8,573.0 119.7,574.0 119.5,574.8 119.3,575.5 119.1,576.5 118.9,577.0 118.7,578.0 118.5,578.8 118.3,579.5 118.1,580.5 118.0,581.0 117.7,582.0 117.5,582.5 117.2,583.5 117.0,584.5 116.9,585.0 116.7,586.0 116.5,586.8 116.3,587.5 116.0,588.5 115.9,589.0 115.6,590.0 115.4,590.5 115.1,591.5 115.0,592.0 114.6,593.0 114.5,593.5 114.2,594.5 114.0,595.1 113.7,596.0 113.5,596.5 113.1,597.5 112.9,598.0 112.5,599.0 112.3,599.5 112.0,600.3 111.6,601.0 111.3,601.5 110.9,602.0 110.5,602.5 110.0,603.1 109.5,603.8 109.0,604.4 108.5,604.8 108.0,605.2Z M107.0,596.5 106.0,596.7 105.3,596.5 104.6,596.0 104.3,595.5 104.0,594.9 103.7,594.0 103.5,593.2 103.3,592.5 103.0,591.5 102.8,591.0 102.5,590.4 102.0,589.5 101.8,589.0 101.5,588.5 101.0,587.7 100.5,587.0 100.0,586.5 99.5,586.1 99.0,585.8 98.5,585.4 97.9,585.0 97.2,584.5 96.6,584.0 96.0,583.5 95.5,583.1 95.0,582.7 94.5,582.3 93.9,582.0 93.0,581.6 92.5,581.5 91.5,581.2 90.5,581.1 90.0,581.0 89.0,580.8 88.0,580.5 87.5,580.4 86.5,580.2 85.5,580.1 84.9,580.0 84.0,579.8 83.0,579.6 82.5,579.5 81.5,579.3 80.5,579.2 79.5,579.3 79.0,579.5 78.0,579.8 77.5,580.0 76.5,580.3 75.5,580.4 75.0,580.5 74.0,580.7 73.1,581.0 72.5,581.2 71.5,581.5 71.0,581.6 70.0,581.9 69.5,582.1 68.5,582.4 68.0,582.6 67.0,582.8 66.0,582.9 65.3,583.0 64.5,583.1 63.5,583.2 62.5,583.3 61.5,583.3 60.5,583.2 59.5,583.1 59.0,582.9 58.1,582.5 57.5,582.0 57.1,581.5 56.7,581.0 56.4,580.5 56.0,579.8 55.6,579.0 55.3,578.5 55.0,577.8 54.6,577.0 54.3,576.5 54.0,575.8 54.0,575.0 54.2,574.5 54.5,574.0 55.0,573.4 55.5,572.8 56.0,572.0 56.3,571.5 56.6,571.0 57.0,570.5 57.5,569.9 58.0,569.3 58.5,568.8 59.0,568.4 59.5,567.8 60.0,567.3 60.5,566.9 61.1,566.5 62.0,566.1 62.5,565.9 63.5,565.5 64.0,565.3 64.5,565.0 65.5,564.5 66.0,564.3 66.6,564.0 67.5,563.7 68.1,563.5 69.0,563.3 70.0,563.0 70.5,562.9 71.5,562.7 72.0,562.5 72.8,562.0 73.5,561.5 74.0,561.2 74.5,560.9 75.2,560.5 76.0,560.2 77.0,560.0 77.5,559.8 78.2,559.5 79.0,559.0 79.5,558.6 80.0,558.3 80.5,558.0 81.5,557.5 82.0,557.3 82.6,557.0 83.5,556.5 84.0,556.3 84.5,556.0 85.5,555.6 86.0,555.4 87.0,555.1 87.5,554.9 88.5,554.6 89.0,554.4 90.0,554.1 90.5,554.0 91.5,553.7 92.1,553.5 93.0,553.2 93.5,553.0 94.5,552.5 95.0,552.3 95.9,552.0 96.5,551.8 97.5,551.7 98.5,551.7 99.5,551.7 100.5,551.8 101.5,551.8 102.5,551.8 103.5,551.7 104.5,551.5 105.0,551.4 106.0,551.3 107.0,551.3 108.0,551.3 109.0,551.5 109.5,551.6 110.5,552.0 111.0,552.2 111.5,552.5 112.4,553.0 113.0,553.4 113.5,553.7 114.0,554.1 114.6,554.5 115.1,555.0 115.5,555.5 116.0,556.3 116.3,557.0 116.6,557.5 117.0,558.3 117.3,559.0 117.5,559.5 117.7,560.5 117.7,561.5 117.6,562.5 117.5,563.5 117.4,564.0 117.3,565.0 117.2,566.0 117.1,567.0 117.0,567.8 116.9,568.5 116.7,569.5 116.5,570.4 116.3,571.0 116.0,572.0 115.9,572.5 115.7,573.5 115.6,574.5 115.4,575.0 115.1,576.0 114.8,576.5 114.5,577.3 114.3,578.0 114.1,579.0 114.0,579.5 113.8,580.5 113.5,581.5 113.4,582.0 113.2,583.0 113.0,583.7 112.8,584.5 112.5,585.5 112.3,586.0 112.0,586.9 111.7,587.5 111.5,588.1 111.2,589.0 111.0,589.5 110.5,590.4 110.1,591.0 109.8,591.5 109.5,592.1 109.2,593.0 109.0,593.9 108.8,594.5 108.5,595.2 108.0,595.9 107.5,596.3 107.0,596.5Z M107.0,595.6 106.0,595.8 105.3,595.5 104.9,595.0 104.5,594.3 104.3,593.5 104.1,592.5 104.0,591.9 103.7,591.0 103.5,590.5 103.0,589.5 102.8,589.0 102.5,588.2 102.2,587.5 102.0,587.0 101.5,586.3 101.0,585.7 100.5,585.4 99.9,585.0 99.0,584.5 98.5,584.2 98.0,583.8 97.5,583.4 97.0,582.9 96.5,582.4 96.0,582.0 95.4,581.5 94.6,581.0 94.0,580.8 93.0,580.5 92.5,580.4 91.5,580.2 90.6,580.0 90.0,579.8 89.0,579.5 88.5,579.3 87.7,579.0 87.0,578.7 86.0,578.6 85.0,578.7 84.0,578.7 83.0,578.6 82.5,578.5 81.5,578.2 80.5,578.2 79.5,578.3 79.0,578.5 78.0,579.0 77.5,579.2 76.8,579.5 76.0,579.7 75.0,579.8 74.1,580.0 73.5,580.1 72.5,580.4 72.0,580.6 71.0,580.9 70.5,581.1 69.5,581.4 69.0,581.6 68.0,581.9 67.5,582.0 66.5,582.2 65.5,582.3 64.5,582.3 63.5,582.5 63.0,582.5 62.0,582.6 61.0,582.5 60.5,582.5 59.5,582.1 59.0,581.9 58.4,581.5 57.9,581.0 57.5,580.4 57.0,579.5 56.7,579.0 56.5,578.5 56.0,577.5 55.8,577.0 55.5,576.0 55.7,575.0 56.0,574.4 56.5,573.6 56.8,573.0 57.0,572.4 57.4,571.5 57.7,571.0 58.0,570.5 58.5,569.9 59.0,569.4 59.5,569.0 60.0,568.5 60.5,568.0 61.1,567.5 61.8,567.0 62.5,566.7 63.0,566.5 64.0,566.1 64.5,565.9 65.2,565.5 66.0,565.1 66.5,564.9 67.3,564.5 68.0,564.3 69.0,564.0 69.5,564.0 70.5,563.9 71.5,563.8 72.5,563.5 73.0,563.2 73.5,562.9 74.0,562.5 74.7,562.0 75.5,561.6 76.0,561.5 77.0,561.4 78.0,561.4 79.0,561.3 79.9,561.0 80.5,560.7 81.0,560.3 81.5,559.8 82.0,559.3 82.5,558.9 83.2,558.5 84.0,558.0 84.5,557.6 85.0,557.2 85.5,556.9 86.3,556.5 87.0,556.2 87.6,556.0 88.5,555.6 89.0,555.4 90.0,555.0 90.5,554.9 91.5,554.7 92.5,554.5 93.0,554.4 93.8,554.0 94.5,553.6 95.0,553.3 95.7,553.0 96.5,552.7 97.5,552.6 98.5,552.5 99.5,552.5 100.5,552.6 101.5,552.7 102.5,552.8 103.5,552.7 104.5,552.5 105.0,552.4 106.0,552.2 107.0,552.1 108.0,552.1 109.0,552.3 109.6,552.5 110.5,553.0 111.0,553.3 111.5,553.7 112.0,554.0 112.7,554.5 113.2,555.0 113.6,555.5 114.0,556.0 114.5,556.7 115.0,557.4 115.4,558.0 115.8,558.5 116.1,559.0 116.5,559.7 116.8,560.5 116.9,561.5 116.8,562.5 116.7,563.5 116.6,564.5 116.5,565.3 116.4,566.0 116.3,567.0 116.2,568.0 116.1,569.0 116.0,569.5 115.7,570.5 115.5,571.0 115.1,572.0 115.0,572.5 114.8,573.5 114.6,574.5 114.4,575.0 114.0,575.7 113.5,576.5 113.3,577.0 113.1,578.0 113.1,579.0 113.0,580.0 112.9,580.5 112.7,581.5 112.5,582.5 112.4,583.0 112.1,584.0 112.0,584.5 111.7,585.5 111.5,586.0 111.1,587.0 110.9,587.5 110.5,588.4 110.2,589.0 109.9,589.5 109.5,590.1 109.0,590.6 108.5,591.3 108.3,592.0 108.2,593.0 108.1,594.0 108.0,594.5 107.5,595.2 107.0,595.6Z M106.0,590.7 105.3,590.5 104.8,590.0 104.5,589.5 104.2,588.5 104.1,587.5 104.0,586.5 104.0,586.0 103.6,585.0 103.2,584.5 102.5,584.0 102.0,583.8 101.2,583.5 100.5,583.3 100.0,583.0 99.3,582.5 98.7,582.0 98.0,581.5 97.5,581.1 97.0,580.8 96.5,580.5 95.7,580.0 95.0,579.7 94.5,579.5 93.5,579.1 93.0,579.0 92.0,578.7 91.4,578.5 90.5,578.1 90.0,577.8 89.5,577.4 88.9,577.0 88.2,576.5 87.5,576.3 86.5,576.2 85.5,576.4 85.0,576.6 84.0,576.9 83.5,577.0 82.5,577.1 81.8,577.0 81.0,576.9 80.0,577.0 79.5,577.1 78.7,577.5 78.0,577.9 77.5,578.2 77.0,578.5 76.0,578.9 75.5,579.0 74.5,579.2 73.5,579.3 72.8,579.5 72.0,579.7 71.2,580.0 70.5,580.3 70.0,580.5 69.0,580.8 68.5,581.0 67.5,581.3 66.5,581.4 65.5,581.5 64.5,581.5 63.9,581.5 63.0,581.6 62.0,581.7 61.0,581.6 60.5,581.4 59.8,581.0 59.2,580.5 58.8,580.0 58.4,579.5 58.0,578.6 57.7,578.0 57.5,577.5 57.3,576.5 57.4,575.5 57.6,575.0 57.9,574.0 58.0,573.5 58.3,572.5 58.5,571.8 59.0,571.0 59.5,570.5 60.0,570.0 60.5,569.7 61.0,569.3 61.5,568.8 62.0,568.4 62.5,568.0 63.3,567.5 64.0,567.2 64.5,567.0 65.5,566.6 66.0,566.4 67.0,566.0 67.5,565.8 68.5,565.5 69.0,565.4 70.0,565.3 71.0,565.2 72.0,565.2 72.8,565.0 73.5,564.7 74.0,564.4 74.8,564.0 75.5,563.7 76.5,563.6 77.5,563.6 78.5,563.6 79.0,563.5 80.0,563.1 80.5,562.9 81.2,562.5 82.0,562.0 82.5,561.7 83.0,561.3 83.5,560.9 84.0,560.5 84.6,560.0 85.2,559.5 85.8,559.0 86.4,558.5 87.0,558.2 87.5,557.9 88.5,557.5 89.0,557.2 89.5,556.8 90.1,556.5 91.0,556.1 91.5,556.0 92.5,555.8 93.5,555.6 94.0,555.4 94.8,555.0 95.5,554.6 96.0,554.3 96.7,554.0 97.5,553.9 98.5,553.8 99.5,553.7 100.5,553.8 101.5,553.9 102.0,554.0 103.0,554.2 104.0,554.2 105.0,554.1 105.5,554.0 106.5,553.8 107.5,553.6 108.5,553.7 109.2,554.0 109.9,554.5 110.5,554.9 111.0,555.3 111.5,555.7 112.0,556.3 112.3,557.0 112.6,557.5 113.0,558.1 113.5,558.6 114.1,559.0 114.7,559.5 115.1,560.0 115.5,560.8 115.6,561.5 115.6,562.5 115.5,563.4 115.4,564.0 115.3,565.0 115.2,566.0 115.1,567.0 115.1,568.0 115.0,569.0 114.8,569.5 114.5,570.2 114.0,571.0 113.7,571.5 113.5,572.0 113.2,573.0 113.0,573.5 112.5,574.4 112.2,575.0 111.9,575.5 111.5,576.5 111.4,577.0 111.4,578.0 111.5,578.9 111.6,579.5 111.6,580.5 111.5,581.5 111.4,582.0 111.1,583.0 111.0,583.5 110.7,584.5 110.5,585.2 110.2,586.0 110.0,586.5 109.5,587.5 109.2,588.0 108.8,588.5 108.3,589.0 107.6,589.5 107.0,590.0 106.5,590.4 106.0,590.7Z M106.5,593.5 105.7,593.5 105.8,592.5 106.4,592.5 106.6,593.0 106.5,593.5Z M107.5,586.3 106.5,586.3 106.0,585.7 105.6,585.0 105.2,584.5 104.9,584.0 104.5,583.4 104.0,582.7 103.5,582.0 103.1,581.5 102.7,581.0 102.0,580.6 101.5,580.5 100.5,580.3 99.5,580.1 99.0,579.9 98.0,579.5 97.5,579.3 96.9,579.0 96.1,578.5 95.5,578.0 95.0,577.5 94.5,577.1 94.0,576.8 93.0,576.5 92.5,576.5 91.5,576.3 90.9,576.0 90.1,575.5 89.5,575.0 89.0,574.6 88.5,574.4 87.5,574.2 86.5,574.3 85.6,574.5 85.0,574.7 84.0,575.0 83.5,575.1 82.5,575.3 81.5,575.4 80.5,575.4 79.5,575.5 79.0,575.6 78.3,576.0 77.8,576.5 77.3,577.0 76.7,577.5 76.0,577.9 75.5,578.1 74.5,578.3 73.5,578.5 73.0,578.6 72.0,578.9 71.5,579.0 70.5,579.4 70.0,579.6 69.0,580.0 68.5,580.1 67.5,580.4 66.5,580.5 65.5,580.5 64.5,580.4 63.5,580.3 62.5,580.3 61.5,580.0 61.0,579.7 60.5,579.3 60.0,578.8 59.5,578.1 59.2,577.5 59.0,576.8 58.9,576.0 59.0,575.0 59.1,574.5 59.3,573.5 59.5,573.0 60.0,572.0 60.5,571.5 61.0,571.1 61.5,570.7 62.0,570.4 62.5,569.9 63.0,569.4 63.5,569.0 64.2,568.5 65.0,568.2 65.6,568.0 66.5,567.9 67.5,567.7 68.3,567.5 69.0,567.3 69.8,567.0 70.5,566.9 71.5,566.8 72.5,566.7 73.5,566.6 74.0,566.5 75.0,566.2 75.5,566.0 76.5,565.8 77.5,565.7 78.5,565.5 79.0,565.4 79.8,565.0 80.5,564.6 81.0,564.3 81.5,564.0 82.4,563.5 83.0,563.2 83.7,563.0 84.5,562.6 85.0,562.2 85.5,561.7 86.0,561.2 86.5,560.8 87.0,560.4 87.7,560.0 88.5,559.5 89.0,559.2 89.5,558.8 90.0,558.4 90.5,558.0 91.3,557.5 92.0,557.2 92.7,557.0 93.5,556.8 94.5,556.6 95.0,556.4 96.0,556.0 96.5,555.9 97.5,555.6 98.0,555.5 99.0,555.3 100.0,555.3 101.0,555.5 101.5,555.6 102.5,555.8 103.5,555.9 104.5,555.9 105.5,555.8 106.5,555.8 107.5,555.8 108.3,556.0 109.0,556.4 109.5,556.8 110.0,557.4 110.4,558.0 110.7,558.5 111.1,559.0 111.5,559.5 112.1,560.0 112.7,560.5 113.2,561.0 113.4,562.0 113.3,563.0 113.3,564.0 113.4,565.0 113.5,566.0 113.5,567.0 113.5,568.0 113.2,569.0 112.9,569.5 112.4,570.0 111.9,570.5 111.5,571.0 111.0,571.9 110.7,572.5 110.5,573.0 110.0,573.7 109.5,574.3 109.0,575.0 108.9,575.5 109.0,576.5 109.2,577.0 109.5,577.8 109.7,578.5 109.9,579.5 110.0,580.5 109.9,581.5 109.6,582.5 109.5,583.0 109.2,584.0 109.0,584.5 108.5,585.4 108.0,585.9 107.5,586.3Z M69.0,579.1 68.0,579.3 67.0,579.4 66.0,579.4 65.0,579.3 64.0,579.0 63.5,578.9 62.6,578.5 62.0,578.2 61.5,577.9 60.9,577.5 60.5,577.0 60.1,576.0 60.2,575.0 60.4,574.0 60.7,573.5 61.0,573.0 61.5,572.4 62.0,571.9 62.5,571.5 63.0,571.0 63.6,570.5 64.2,570.0 65.0,569.6 65.5,569.4 66.5,569.2 67.5,569.2 68.5,569.0 69.0,569.0 70.0,568.7 71.0,568.5 72.0,568.5 73.0,568.6 74.0,569.0 74.5,569.5 74.9,570.0 75.3,570.5 76.0,571.0 76.5,571.0 77.0,570.9 77.5,570.4 78.0,569.7 78.5,569.1 79.0,568.5 79.4,568.0 80.0,567.5 80.5,567.0 81.0,566.6 81.5,566.3 82.0,566.0 83.0,565.6 84.0,565.6 85.0,565.6 85.5,565.4 86.0,564.9 86.5,564.0 86.7,563.5 87.0,563.0 87.5,562.2 88.0,561.7 88.5,561.2 89.0,560.9 89.5,560.5 90.2,560.0 90.9,559.5 91.5,559.1 92.0,558.8 92.7,558.5 93.5,558.3 94.4,558.0 95.0,557.8 96.0,557.7 97.0,557.6 98.0,557.5 98.6,557.5 99.5,557.4 100.5,557.4 101.0,557.6 102.0,557.8 103.0,558.0 104.0,557.9 105.0,557.7 106.0,557.6 107.0,557.7 107.9,558.0 108.5,558.5 109.0,558.9 109.5,559.4 110.0,559.9 110.5,560.5 110.9,561.0 111.1,561.5 111.3,562.5 111.4,563.5 111.5,564.5 111.5,565.0 111.8,566.0 111.9,567.0 111.8,568.0 111.5,568.5 111.0,569.1 110.5,569.5 110.0,570.0 109.5,570.5 109.0,571.2 108.5,571.8 108.0,572.4 107.6,573.0 107.3,573.5 107.0,574.0 106.7,575.0 106.5,576.0 106.4,576.5 106.3,577.5 106.0,578.2 105.0,578.1 104.5,578.0 103.5,577.8 102.5,577.6 101.5,577.6 100.7,577.5 100.0,577.1 99.5,576.7 99.0,576.3 98.0,576.0 97.5,576.0 96.5,575.7 96.0,575.4 95.3,575.0 94.5,574.5 94.0,574.3 93.0,574.0 92.5,573.9 91.5,573.5 91.0,573.2 90.5,572.9 89.9,572.5 89.1,572.0 88.5,571.7 88.0,571.5 87.0,571.5 86.5,571.7 86.0,572.0 85.0,572.4 84.5,572.6 83.5,572.7 82.5,572.6 81.8,572.5 81.0,572.2 80.5,572.0 79.5,571.6 78.5,571.5 77.5,571.9 77.1,572.5 77.0,573.0 76.8,574.0 76.6,575.0 76.4,575.5 76.0,576.4 75.5,576.9 75.0,577.1 74.0,577.5 73.5,577.6 72.5,577.9 72.0,578.1 71.0,578.4 70.5,578.6 69.5,578.9 69.0,579.1Z M107.0,583.5 106.5,583.4 106.0,582.6 105.9,582.0 105.9,581.0 106.0,580.3 106.5,579.7 107.1,580.0 107.6,580.5 107.8,581.5 107.7,582.5 107.5,583.1 107.0,583.5Z M104.5,573.2 103.5,573.3 102.5,573.2 101.5,573.2 100.5,573.3 99.5,573.4 98.5,573.4 97.5,573.2 97.0,573.0 96.0,572.7 95.1,572.5 94.5,572.3 93.7,572.0 93.0,571.7 92.5,571.4 91.5,571.0 91.0,570.8 90.5,570.5 90.0,570.0 89.5,569.2 89.2,568.5 89.0,568.0 88.6,567.0 88.4,566.5 88.3,565.5 88.4,564.5 88.5,564.0 88.9,563.0 89.3,562.5 89.9,562.0 90.5,561.6 91.0,561.3 91.9,561.0 92.5,560.8 93.3,560.5 94.0,560.2 94.5,560.0 95.5,559.6 96.1,559.5 97.0,559.4 98.0,559.5 98.7,559.5 99.5,559.5 100.5,559.6 101.5,559.7 102.5,559.7 103.5,559.7 104.5,559.7 105.5,559.6 106.5,559.6 107.5,559.9 108.0,560.1 108.5,560.5 109.0,561.0 109.5,561.8 109.7,562.5 109.8,563.5 110.0,564.5 110.1,565.0 110.3,566.0 110.4,567.0 110.1,568.0 109.6,568.5 109.1,569.0 108.6,569.5 108.1,570.0 107.6,570.5 107.1,571.0 106.5,571.5 106.0,571.9 105.5,572.4 105.0,572.9 104.5,573.2Z M84.5,570.7 83.5,570.7 83.0,570.3 82.9,569.5 83.4,569.0 84.0,568.9 84.5,569.0 85.1,569.5 85.0,570.3 84.5,570.7Z M69.5,578.1 68.5,578.2 67.5,578.3 66.5,578.3 65.5,578.2 64.8,578.0 64.0,577.7 63.5,577.5 62.6,577.0 62.0,576.5 61.6,576.0 61.4,575.5 61.5,574.6 61.8,574.0 62.1,573.5 62.5,573.0 63.0,572.5 63.5,572.0 64.1,571.5 64.9,571.0 65.5,570.7 66.5,570.6 67.5,570.5 68.5,570.5 69.5,570.5 70.5,570.6 71.5,570.8 72.0,571.0 72.7,571.5 73.3,572.0 73.7,572.5 74.1,573.0 74.5,573.5 74.9,574.5 74.7,575.5 74.4,576.0 73.8,576.5 73.0,576.9 72.5,577.1 71.6,577.5 71.0,577.7 70.0,577.9 69.5,578.1Z M103.5,571.1 102.5,571.2 101.5,571.3 100.5,571.2 99.5,571.1 99.0,570.9 98.0,570.6 97.0,570.6 96.0,570.6 95.0,570.5 94.5,570.3 93.8,570.0 93.0,569.5 92.5,569.2 92.0,568.8 91.5,568.3 91.0,567.5 90.8,567.0 90.5,566.0 90.8,565.0 91.1,564.5 91.6,564.0 92.2,563.5 92.8,563.0 93.4,562.5 94.0,562.0 94.5,561.7 95.0,561.5 96.0,561.2 97.0,561.1 98.0,561.0 99.0,561.0 100.0,561.1 101.0,561.2 102.0,561.3 102.9,561.5 103.5,561.6 104.5,562.0 105.0,562.1 106.0,562.3 106.7,562.5 107.5,563.0 107.9,563.5 108.2,564.0 108.5,564.7 108.7,565.5 108.9,566.5 108.6,567.5 108.3,568.0 107.8,568.5 107.2,569.0 106.6,569.5 106.0,569.9 105.5,570.2 105.0,570.5 104.0,570.9 103.5,571.1Z M70.0,577.1 69.0,577.2 68.0,577.2 67.0,577.2 66.1,577.0 65.5,576.8 64.9,576.5 64.2,576.0 63.7,575.5 63.5,575.0 63.5,574.4 64.0,573.6 64.5,573.1 65.0,572.7 65.5,572.5 66.5,572.2 67.5,572.1 68.5,572.0 69.5,572.1 70.5,572.2 71.4,572.5 72.0,572.8 72.5,573.2 73.0,573.8 73.3,574.5 73.1,575.5 72.6,576.0 72.0,576.4 71.5,576.7 70.5,577.0 70.0,577.1Z M102.5,568.5 101.5,568.5 100.5,568.6 99.6,568.5 99.0,568.4 98.0,568.2 97.0,568.1 96.5,567.9 95.5,567.5 95.0,567.1 94.5,566.5 94.3,566.0 94.5,565.0 94.8,564.5 95.3,564.0 96.0,563.5 96.5,563.3 97.5,563.0 98.0,563.0 99.0,562.9 100.0,562.9 101.0,563.0 101.5,563.0 102.5,563.1 103.5,563.3 104.2,563.5 105.0,563.8 105.5,564.1 106.0,564.6 106.4,565.5 106.2,566.5 105.8,567.0 105.3,567.5 104.5,568.0 104.0,568.2 103.0,568.5 102.5,568.5Z M70.0,575.5 69.0,575.7 68.0,575.8 67.1,575.5 66.8,575.0 67.0,574.5 68.0,574.0 68.5,574.0 69.2,574.0 70.0,574.3 70.5,575.0 70.0,575.5Z" fill="none" stroke="#000" stroke-width="1.0"/>
<ellipse cx="50.8" cy="611.1" rx="2.6" ry="3.0" fill="none" stroke="#000" stroke-width="1"/>
<ellipse cx="49.1" cy="627" rx="5.8" ry="5.5" fill="none" stroke="#000" stroke-width="1"/>
<rect x="80.1" y="540.5" width="50.5" height="30.0" fill="none" stroke="#000" stroke-width="2" stroke-dasharray="5,3.3"/>
<rect x="88.0" y="605.0" width="38.7" height="46.5" fill="none" stroke="#000" stroke-width="1.8"/>
<text x="142.7" y="562.0" font-size="17" font-family="Liberation Serif" font-weight="normal" text-anchor="start" fill="#000" textLength="28.1" lengthAdjust="spacingAndGlyphs">56.8</text>
<text x="138.5" y="638.0" font-size="17" font-family="Liberation Serif" font-weight="normal" text-anchor="start" fill="#000" textLength="19.5" lengthAdjust="spacingAndGlyphs">3.1</text>
<line x1="29.0" y1="651.5" x2="29.0" y2="654.5" stroke="#000" stroke-width="1.3"/>
<line x1="40.0" y1="651.5" x2="40.0" y2="653.5" stroke="#000" stroke-width="0.9"/>
<line x1="46.4" y1="651.5" x2="46.4" y2="653.5" stroke="#000" stroke-width="0.9"/>
<line x1="51.0" y1="651.5" x2="51.0" y2="653.5" stroke="#000" stroke-width="0.9"/>
<line x1="54.5" y1="651.5" x2="54.5" y2="653.5" stroke="#000" stroke-width="0.9"/>
<line x1="57.4" y1="651.5" x2="57.4" y2="653.5" stroke="#000" stroke-width="0.9"/>
<line x1="59.8" y1="651.5" x2="59.8" y2="653.5" stroke="#000" stroke-width="0.9"/>
<line x1="62.0" y1="651.5" x2="62.0" y2="653.5" stroke="#000" stroke-width="0.9"/>
<line x1="63.8" y1="651.5" x2="63.8" y2="653.5" stroke="#000" stroke-width="0.9"/>
<text x="30.0" y="667.9" font-size="8.5" font-family="Liberation Serif" text-anchor="middle">10</text>
<text x="34.5" y="664.1" font-size="5.1" font-family="Liberation Serif">0</text>
<line x1="65.5" y1="651.5" x2="65.5" y2="654.5" stroke="#000" stroke-width="1.3"/>
<line x1="76.5" y1="651.5" x2="76.5" y2="653.5" stroke="#000" stroke-width="0.9"/>
<line x1="82.9" y1="651.5" x2="82.9" y2="653.5" stroke="#000" stroke-width="0.9"/>
<line x1="87.5" y1="651.5" x2="87.5" y2="653.5" stroke="#000" stroke-width="0.9"/>
<line x1="91.0" y1="651.5" x2="91.0" y2="653.5" stroke="#000" stroke-width="0.9"/>
<line x1="93.9" y1="651.5" x2="93.9" y2="653.5" stroke="#000" stroke-width="0.9"/>
<line x1="96.3" y1="651.5" x2="96.3" y2="653.5" stroke="#000" stroke-width="0.9"/>
<line x1="98.5" y1="651.5" x2="98.5" y2="653.5" stroke="#000" stroke-width="0.9"/>
<line x1="100.3" y1="651.5" x2="100.3" y2="653.5" stroke="#000" stroke-width="0.9"/>
<text x="66.5" y="667.9" font-size="8.5" font-family="Liberation Serif" text-anchor="middle">10</text>
<text x="71.0" y="664.1" font-size="5.1" font-family="Liberation Serif">1</text>
<line x1="102.0" y1="651.5" x2="102.0" y2="654.5" stroke="#000" stroke-width="1.3"/>
<line x1="113.0" y1="651.5" x2="113.0" y2="653.5" stroke="#000" stroke-width="0.9"/>
<line x1="119.4" y1="651.5" x2="119.4" y2="653.5" stroke="#000" stroke-width="0.9"/>
<line x1="124.0" y1="651.5" x2="124.0" y2="653.5" stroke="#000" stroke-width="0.9"/>
<line x1="127.5" y1="651.5" x2="127.5" y2="653.5" stroke="#000" stroke-width="0.9"/>
<line x1="130.4" y1="651.5" x2="130.4" y2="653.5" stroke="#000" stroke-width="0.9"/>
<line x1="132.8" y1="651.5" x2="132.8" y2="653.5" stroke="#000" stroke-width="0.9"/>
<line x1="135.0" y1="651.5" x2="135.0" y2="653.5" stroke="#000" stroke-width="0.9"/>
<line x1="136.8" y1="651.5" x2="136.8" y2="653.5" stroke="#000" stroke-width="0.9"/>
<text x="103.0" y="667.9" font-size="8.5" font-family="Liberation Serif" text-anchor="middle">10</text>
<text x="107.5" y="664.1" font-size="5.1" font-family="Liberation Serif">2</text>
<line x1="138.5" y1="651.5" x2="138.5" y2="654.5" stroke="#000" stroke-width="1.3"/>
<line x1="149.5" y1="651.5" x2="149.5" y2="653.5" stroke="#000" stroke-width="0.9"/>
<line x1="155.9" y1="651.5" x2="155.9" y2="653.5" stroke="#000" stroke-width="0.9"/>
<line x1="160.5" y1="651.5" x2="160.5" y2="653.5" stroke="#000" stroke-width="0.9"/>
<line x1="164.0" y1="651.5" x2="164.0" y2="653.5" stroke="#000" stroke-width="0.9"/>
<line x1="166.9" y1="651.5" x2="166.9" y2="653.5" stroke="#000" stroke-width="0.9"/>
<line x1="169.3" y1="651.5" x2="169.3" y2="653.5" stroke="#000" stroke-width="0.9"/>
<line x1="171.5" y1="651.5" x2="171.5" y2="653.5" stroke="#000" stroke-width="0.9"/>
<line x1="173.3" y1="651.5" x2="173.3" y2="653.5" stroke="#000" stroke-width="0.9"/>
<text x="139.5" y="667.9" font-size="8.5" font-family="Liberation Serif" text-anchor="middle">10</text>
<text x="143.9" y="664.1" font-size="5.1" font-family="Liberation Serif">3</text>
<line x1="175.0" y1="651.5" x2="175.0" y2="654.5" stroke="#000" stroke-width="1.3"/>
<text x="176.0" y="667.9" font-size="8.5" font-family="Liberation Serif" text-anchor="middle">10</text>
<text x="180.4" y="664.1" font-size="5.1" font-family="Liberation Serif">4</text>
<line x1="26.0" y1="651.5" x2="29.0" y2="651.5" stroke="#000" stroke-width="1.3"/>
<line x1="26.5" y1="626.9" x2="29.0" y2="626.9" stroke="#000" stroke-width="1.3"/>
<text x="18.4" y="657.1" font-size="8.5" font-family="Liberation Serif" text-anchor="middle">10</text>
<text x="22.8" y="653.3" font-size="5.1" font-family="Liberation Serif">0</text>
<line x1="26.0" y1="616.4" x2="29.0" y2="616.4" stroke="#000" stroke-width="1.3"/>
<line x1="26.5" y1="591.8" x2="29.0" y2="591.8" stroke="#000" stroke-width="1.3"/>
<text x="18.4" y="622.0" font-size="8.5" font-family="Liberation Serif" text-anchor="middle">10</text>
<text x="22.8" y="618.2" font-size="5.1" font-family="Liberation Serif">1</text>
<line x1="26.0" y1="581.2" x2="29.0" y2="581.2" stroke="#000" stroke-width="1.3"/>
<line x1="26.5" y1="556.7" x2="29.0" y2="556.7" stroke="#000" stroke-width="1.3"/>
<text x="18.4" y="586.9" font-size="8.5" font-family="Liberation Serif" text-anchor="middle">10</text>
<text x="22.8" y="583.0" font-size="5.1" font-family="Liberation Serif">2</text>
<line x1="26.0" y1="546.1" x2="29.0" y2="546.1" stroke="#000" stroke-width="1.3"/>
<line x1="26.5" y1="521.6" x2="29.0" y2="521.6" stroke="#000" stroke-width="1.3"/>
<text x="18.4" y="551.7" font-size="8.5" font-family="Liberation Serif" text-anchor="middle">10</text>
<text x="22.8" y="547.9" font-size="5.1" font-family="Liberation Serif">3</text>
<line x1="26.0" y1="511.0" x2="29.0" y2="511.0" stroke="#000" stroke-width="1.3"/>
<text x="18.4" y="516.6" font-size="8.5" font-family="Liberation Serif" text-anchor="middle">10</text>
<text x="22.8" y="512.8" font-size="5.1" font-family="Liberation Serif">4</text>
<rect x="29.0" y="511.0" width="146.0" height="140.5" fill="none" stroke="#000" stroke-width="2"/>
<g fill="#777"><rect x="83.2" y="818.9" width="1.15" height="1.15"/><rect x="44.1" y="819.7" width="1.15" height="1.15"/><rect x="31.1" y="801.2" width="1.15" height="1.15"/><rect x="77.2" y="785.8" width="1.15" height="1.15"/><rect x="44.2" y="743.0" width="1.15" height="1.15"/><rect x="73.5" y="792.2" width="1.15" height="1.15"/><rect x="86.7" y="794.2" width="1.15" height="1.15"/><rect x="40.8" y="741.7" width="1.15" height="1.15"/><rect x="48.9" y="742.1" width="1.15" height="1.15"/><rect x="93.4" y="835.6" width="1.15" height="1.15"/><rect x="65.4" y="809.2" width="1.15" height="1.15"/><rect x="31.8" y="781.8" width="1.15" height="1.15"/><rect x="41.7" y="796.2" width="1.15" height="1.15"/><rect x="47.1" y="833.0" width="1.15" height="1.15"/><rect x="88.8" y="825.8" width="1.15" height="1.15"/><rect x="60.9" y="822.1" width="1.15" height="1.15"/><rect x="82.5" y="793.2" width="1.15" height="1.15"/><rect x="56.3" y="799.2" width="1.15" height="1.15"/><rect x="69.8" y="810.8" width="1.15" height="1.15"/><rect x="59.3" y="743.8" width="1.15" height="1.15"/><rect x="77.9" y="803.1" width="1.15" height="1.15"/><rect x="61.7" y="784.2" width="1.15" height="1.15"/><rect x="94.8" y="824.7" width="1.15" height="1.15"/><rect x="34.4" y="744.8" width="1.15" height="1.15"/><rect x="87.6" y="810.6" width="1.15" height="1.15"/><rect x="57.9" y="823.8" width="1.15" height="1.15"/><rect x="66.2" y="780.6" width="1.15" height="1.15"/><rect x="62.7" y="825.8" width="1.15" height="1.15"/><rect x="81.1" y="823.7" width="1.15" height="1.15"/><rect x="30.7" y="734.3" width="1.15" height="1.15"/><rect x="70.7" y="812.5" width="1.15" height="1.15"/><rect x="35.6" y="709.1" width="1.15" height="1.15"/><rect x="68.6" y="799.9" width="1.15" height="1.15"/><rect x="64.1" y="795.7" width="1.15" height="1.15"/><rect x="61.9" y="777.7" width="1.15" height="1.15"/><rect x="72.3" y="788.7" width="1.15" height="1.15"/><rect x="32.1" y="819.7" width="1.15" height="1.15"/><rect x="62.1" y="788.0" width="1.15" height="1.15"/><rect x="40.2" y="768.6" width="1.15" height="1.15"/><rect x="61.5" y="812.0" width="1.15" height="1.15"/><rect x="86.5" y="796.4" width="1.15" height="1.15"/><rect x="32.1" y="818.9" width="1.15" height="1.15"/><rect x="37.1" y="781.5" width="1.15" height="1.15"/><rect x="85.6" y="788.1" width="1.15" height="1.15"/><rect x="38.2" y="819.2" width="1.15" height="1.15"/><rect x="31.7" y="800.4" width="1.15" height="1.15"/><rect x="87.1" y="800.2" width="1.15" height="1.15"/><rect x="40.0" y="781.3" width="1.15" height="1.15"/><rect x="45.6" y="732.2" width="1.15" height="1.15"/><rect x="90.4" y="828.8" width="1.15" height="1.15"/><rect x="51.7" y="749.0" width="1.15" height="1.15"/><rect x="67.7" y="821.8" width="1.15" height="1.15"/><rect x="70.8" y="791.5" width="1.15" height="1.15"/><rect x="104.0" y="830.5" width="1.15" height="1.15"/><rect x="77.9" y="793.4" width="1.15" height="1.15"/><rect x="57.0" y="829.5" width="1.15" height="1.15"/><rect x="81.5" y="803.1" width="1.15" height="1.15"/><rect x="33.3" y="782.1" width="1.15" height="1.15"/><rect x="37.5" y="815.3" width="1.15" height="1.15"/><rect x="53.8" y="810.8" width="1.15" height="1.15"/><rect x="68.0" y="811.0" width="1.15" height="1.15"/><rect x="78.7" y="797.6" width="1.15" height="1.15"/><rect x="63.2" y="779.9" width="1.15" height="1.15"/><rect x="34.5" y="808.6" width="1.15" height="1.15"/><rect x="42.3" y="755.2" width="1.15" height="1.15"/><rect x="69.8" y="811.3" width="1.15" height="1.15"/><rect x="59.4" y="808.2" width="1.15" height="1.15"/><rect x="77.5" y="791.7" width="1.15" height="1.15"/><rect x="92.8" y="818.5" width="1.15" height="1.15"/><rect x="40.2" y="776.9" width="1.15" height="1.15"/><rect x="70.3" y="793.1" width="1.15" height="1.15"/><rect x="85.3" y="818.4" width="1.15" height="1.15"/><rect x="55.5" y="792.7" width="1.15" height="1.15"/><rect x="56.9" y="812.8" width="1.15" height="1.15"/><rect x="69.0" y="806.4" width="1.15" height="1.15"/><rect x="41.0" y="829.8" width="1.15" height="1.15"/><rect x="114.0" y="834.6" width="1.15" height="1.15"/><rect x="77.4" y="813.8" width="1.15" height="1.15"/><rect x="51.9" y="819.7" width="1.15" height="1.15"/><rect x="41.4" y="769.4" width="1.15" height="1.15"/><rect x="54.1" y="813.0" width="1.15" height="1.15"/><rect x="121.8" y="822.2" width="1.15" height="1.15"/><rect x="32.4" y="793.9" width="1.15" height="1.15"/><rect x="65.1" y="803.2" width="1.15" height="1.15"/><rect x="73.8" y="798.7" width="1.15" height="1.15"/><rect x="51.4" y="831.3" width="1.15" height="1.15"/><rect x="67.4" y="788.2" width="1.15" height="1.15"/><rect x="36.4" y="793.8" width="1.15" height="1.15"/><rect x="48.1" y="707.2" width="1.15" height="1.15"/><rect x="61.9" y="795.0" width="1.15" height="1.15"/><rect x="85.4" y="807.8" width="1.15" height="1.15"/><rect x="37.7" y="829.5" width="1.15" height="1.15"/><rect x="40.8" y="828.3" width="1.15" height="1.15"/><rect x="33.5" y="789.0" width="1.15" height="1.15"/><rect x="55.7" y="834.6" width="1.15" height="1.15"/><rect x="69.0" y="776.3" width="1.15" height="1.15"/><rect x="55.3" y="820.7" width="1.15" height="1.15"/><rect x="35.0" y="771.2" width="1.15" height="1.15"/><rect x="65.4" y="793.8" width="1.15" height="1.15"/><rect x="45.2" y="746.7" width="1.15" height="1.15"/><rect x="68.3" y="822.9" width="1.15" height="1.15"/><rect x="42.6" y="820.9" width="1.15" height="1.15"/><rect x="35.7" y="765.8" width="1.15" height="1.15"/><rect x="61.0" y="801.7" width="1.15" height="1.15"/><rect x="38.3" y="783.6" width="1.15" height="1.15"/><rect x="38.6" y="799.4" width="1.15" height="1.15"/><rect x="64.3" y="803.2" width="1.15" height="1.15"/><rect x="35.2" y="755.1" width="1.15" height="1.15"/><rect x="66.4" y="823.2" width="1.15" height="1.15"/><rect x="70.3" y="785.0" width="1.15" height="1.15"/><rect x="76.9" y="796.3" width="1.15" height="1.15"/><rect x="49.4" y="743.7" width="1.15" height="1.15"/><rect x="33.6" y="715.5" width="1.15" height="1.15"/><rect x="65.4" y="777.3" width="1.15" height="1.15"/><rect x="34.5" y="790.1" width="1.15" height="1.15"/><rect x="97.7" y="828.5" width="1.15" height="1.15"/><rect x="68.1" y="825.5" width="1.15" height="1.15"/><rect x="80.2" y="798.7" width="1.15" height="1.15"/><rect x="74.0" y="797.2" width="1.15" height="1.15"/><rect x="57.8" y="809.9" width="1.15" height="1.15"/><rect x="75.1" y="822.8" width="1.15" height="1.15"/><rect x="62.3" y="789.2" width="1.15" height="1.15"/><rect x="46.8" y="818.4" width="1.15" height="1.15"/><rect x="75.2" y="793.4" width="1.15" height="1.15"/><rect x="57.2" y="805.5" width="1.15" height="1.15"/><rect x="69.0" y="814.5" width="1.15" height="1.15"/><rect x="56.8" y="800.2" width="1.15" height="1.15"/><rect x="60.4" y="811.3" width="1.15" height="1.15"/><rect x="43.3" y="811.8" width="1.15" height="1.15"/><rect x="33.8" y="722.6" width="1.15" height="1.15"/><rect x="67.3" y="739.7" width="1.15" height="1.15"/><rect x="76.1" y="778.8" width="1.15" height="1.15"/><rect x="61.3" y="778.1" width="1.15" height="1.15"/><rect x="52.3" y="742.0" width="1.15" height="1.15"/><rect x="65.5" y="779.2" width="1.15" height="1.15"/><rect x="38.5" y="805.8" width="1.15" height="1.15"/><rect x="97.0" y="824.8" width="1.15" height="1.15"/><rect x="36.9" y="790.7" width="1.15" height="1.15"/><rect x="61.9" y="791.7" width="1.15" height="1.15"/><rect x="31.6" y="794.8" width="1.15" height="1.15"/><rect x="34.5" y="811.0" width="1.15" height="1.15"/><rect x="38.5" y="817.8" width="1.15" height="1.15"/><rect x="40.4" y="830.1" width="1.15" height="1.15"/><rect x="72.6" y="791.9" width="1.15" height="1.15"/><rect x="65.5" y="812.5" width="1.15" height="1.15"/><rect x="34.0" y="790.0" width="1.15" height="1.15"/><rect x="63.2" y="820.2" width="1.15" height="1.15"/><rect x="39.1" y="780.7" width="1.15" height="1.15"/><rect x="68.8" y="824.3" width="1.15" height="1.15"/><rect x="78.1" y="800.0" width="1.15" height="1.15"/><rect x="94.2" y="813.5" width="1.15" height="1.15"/><rect x="57.2" y="802.2" width="1.15" height="1.15"/><rect x="60.3" y="787.7" width="1.15" height="1.15"/><rect x="64.4" y="799.3" width="1.15" height="1.15"/><rect x="38.1" y="742.6" width="1.15" height="1.15"/><rect x="44.4" y="740.8" width="1.15" height="1.15"/><rect x="76.5" y="801.3" width="1.15" height="1.15"/><rect x="61.2" y="798.5" width="1.15" height="1.15"/><rect x="84.3" y="821.2" width="1.15" height="1.15"/><rect x="41.9" y="735.0" width="1.15" height="1.15"/><rect x="87.1" y="802.9" width="1.15" height="1.15"/><rect x="32.8" y="799.5" width="1.15" height="1.15"/><rect x="81.1" y="805.7" width="1.15" height="1.15"/><rect x="65.8" y="813.9" width="1.15" height="1.15"/><rect x="36.6" y="801.3" width="1.15" height="1.15"/><rect x="72.2" y="803.7" width="1.15" height="1.15"/><rect x="86.4" y="806.7" width="1.15" height="1.15"/><rect x="59.7" y="782.6" width="1.15" height="1.15"/><rect x="61.8" y="802.8" width="1.15" height="1.15"/><rect x="33.5" y="810.3" width="1.15" height="1.15"/><rect x="64.3" y="776.4" width="1.15" height="1.15"/><rect x="86.4" y="834.3" width="1.15" height="1.15"/><rect x="80.5" y="815.2" width="1.15" height="1.15"/><rect x="89.0" y="830.8" width="1.15" height="1.15"/><rect x="34.3" y="786.7" width="1.15" height="1.15"/><rect x="55.9" y="796.2" width="1.15" height="1.15"/><rect x="74.7" y="783.8" width="1.15" height="1.15"/><rect x="61.1" y="741.2" width="1.15" height="1.15"/><rect x="35.3" y="733.6" width="1.15" height="1.15"/><rect x="38.6" y="782.2" width="1.15" height="1.15"/><rect x="35.3" y="823.3" width="1.15" height="1.15"/><rect x="39.3" y="772.6" width="1.15" height="1.15"/><rect x="42.5" y="811.7" width="1.15" height="1.15"/><rect x="70.2" y="782.3" width="1.15" height="1.15"/><rect x="46.8" y="745.3" width="1.15" height="1.15"/><rect x="32.8" y="777.2" width="1.15" height="1.15"/><rect x="77.2" y="810.5" width="1.15" height="1.15"/><rect x="58.4" y="800.0" width="1.15" height="1.15"/><rect x="30.3" y="803.2" width="1.15" height="1.15"/><rect x="64.8" y="796.9" width="1.15" height="1.15"/><rect x="30.3" y="785.2" width="1.15" height="1.15"/><rect x="76.9" y="798.9" width="1.15" height="1.15"/><rect x="98.9" y="828.0" width="1.15" height="1.15"/><rect x="36.0" y="778.1" width="1.15" height="1.15"/><rect x="91.9" y="814.1" width="1.15" height="1.15"/><rect x="32.1" y="783.0" width="1.15" height="1.15"/><rect x="37.3" y="777.2" width="1.15" height="1.15"/><rect x="65.5" y="788.5" width="1.15" height="1.15"/><rect x="38.0" y="751.2" width="1.15" height="1.15"/><rect x="41.6" y="829.8" width="1.15" height="1.15"/><rect x="40.8" y="791.4" width="1.15" height="1.15"/><rect x="41.0" y="774.4" width="1.15" height="1.15"/><rect x="31.7" y="698.2" width="1.15" height="1.15"/><rect x="53.3" y="744.2" width="1.15" height="1.15"/><rect x="33.8" y="779.8" width="1.15" height="1.15"/><rect x="36.0" y="795.2" width="1.15" height="1.15"/><rect x="41.6" y="806.1" width="1.15" height="1.15"/><rect x="83.9" y="833.6" width="1.15" height="1.15"/><rect x="76.3" y="825.2" width="1.15" height="1.15"/><rect x="56.4" y="781.9" width="1.15" height="1.15"/><rect x="63.2" y="806.5" width="1.15" height="1.15"/><rect x="88.5" y="828.1" width="1.15" height="1.15"/><rect x="36.1" y="753.2" width="1.15" height="1.15"/><rect x="95.7" y="822.2" width="1.15" height="1.15"/><rect x="58.0" y="793.2" width="1.15" height="1.15"/><rect x="71.0" y="817.3" width="1.15" height="1.15"/><rect x="57.2" y="788.7" width="1.15" height="1.15"/><rect x="39.3" y="807.3" width="1.15" height="1.15"/><rect x="32.6" y="754.6" width="1.15" height="1.15"/><rect x="70.6" y="815.9" width="1.15" height="1.15"/><rect x="51.7" y="820.2" width="1.15" height="1.15"/><rect x="35.9" y="799.3" width="1.15" height="1.15"/><rect x="54.8" y="792.8" width="1.15" height="1.15"/><rect x="53.6" y="830.4" width="1.15" height="1.15"/><rect x="64.6" y="791.7" width="1.15" height="1.15"/><rect x="93.9" y="824.7" width="1.15" height="1.15"/><rect x="40.1" y="795.0" width="1.15" height="1.15"/><rect x="59.7" y="791.8" width="1.15" height="1.15"/><rect x="76.8" y="790.8" width="1.15" height="1.15"/><rect x="47.8" y="743.8" width="1.15" height="1.15"/><rect x="60.1" y="784.9" width="1.15" height="1.15"/><rect x="33.7" y="780.8" width="1.15" height="1.15"/><rect x="43.0" y="744.7" width="1.15" height="1.15"/><rect x="36.4" y="802.6" width="1.15" height="1.15"/><rect x="37.6" y="796.7" width="1.15" height="1.15"/><rect x="31.2" y="737.2" width="1.15" height="1.15"/><rect x="37.8" y="770.2" width="1.15" height="1.15"/><rect x="50.8" y="828.1" width="1.15" height="1.15"/><rect x="36.8" y="764.1" width="1.15" height="1.15"/><rect x="58.1" y="791.9" width="1.15" height="1.15"/><rect x="100.3" y="830.3" width="1.15" height="1.15"/><rect x="31.7" y="757.5" width="1.15" height="1.15"/><rect x="36.0" y="794.7" width="1.15" height="1.15"/><rect x="47.5" y="819.2" width="1.15" height="1.15"/><rect x="43.8" y="734.4" width="1.15" height="1.15"/><rect x="42.7" y="745.3" width="1.15" height="1.15"/><rect x="45.2" y="829.1" width="1.15" height="1.15"/><rect x="71.4" y="783.6" width="1.15" height="1.15"/><rect x="78.4" y="798.4" width="1.15" height="1.15"/><rect x="66.6" y="782.5" width="1.15" height="1.15"/><rect x="99.3" y="825.4" width="1.15" height="1.15"/><rect x="88.5" y="830.4" width="1.15" height="1.15"/><rect x="46.9" y="745.9" width="1.15" height="1.15"/><rect x="33.7" y="801.2" width="1.15" height="1.15"/><rect x="70.1" y="775.4" width="1.15" height="1.15"/><rect x="61.7" y="793.8" width="1.15" height="1.15"/><rect x="35.8" y="815.2" width="1.15" height="1.15"/><rect x="57.6" y="813.1" width="1.15" height="1.15"/><rect x="39.1" y="776.6" width="1.15" height="1.15"/><rect x="74.9" y="789.1" width="1.15" height="1.15"/><rect x="34.3" y="795.4" width="1.15" height="1.15"/><rect x="34.4" y="792.9" width="1.15" height="1.15"/><rect x="53.2" y="810.7" width="1.15" height="1.15"/><rect x="66.5" y="818.1" width="1.15" height="1.15"/><rect x="38.0" y="789.5" width="1.15" height="1.15"/><rect x="32.8" y="796.4" width="1.15" height="1.15"/><rect x="38.1" y="745.7" width="1.15" height="1.15"/><rect x="64.4" y="791.6" width="1.15" height="1.15"/><rect x="44.7" y="830.3" width="1.15" height="1.15"/><rect x="62.0" y="800.2" width="1.15" height="1.15"/><rect x="90.2" y="802.9" width="1.15" height="1.15"/><rect x="79.8" y="806.2" width="1.15" height="1.15"/><rect x="37.6" y="804.1" width="1.15" height="1.15"/><rect x="77.8" y="819.3" width="1.15" height="1.15"/><rect x="60.2" y="783.6" width="1.15" height="1.15"/><rect x="62.9" y="787.9" width="1.15" height="1.15"/><rect x="35.6" y="825.5" width="1.15" height="1.15"/><rect x="37.2" y="800.2" width="1.15" height="1.15"/><rect x="75.5" y="831.4" width="1.15" height="1.15"/><rect x="40.7" y="765.2" width="1.15" height="1.15"/><rect x="83.6" y="817.3" width="1.15" height="1.15"/><rect x="84.9" y="798.2" width="1.15" height="1.15"/><rect x="32.0" y="798.8" width="1.15" height="1.15"/><rect x="39.7" y="825.2" width="1.15" height="1.15"/><rect x="37.7" y="763.0" width="1.15" height="1.15"/><rect x="85.1" y="800.5" width="1.15" height="1.15"/><rect x="71.5" y="782.4" width="1.15" height="1.15"/><rect x="39.2" y="789.9" width="1.15" height="1.15"/><rect x="66.3" y="820.0" width="1.15" height="1.15"/><rect x="70.7" y="793.7" width="1.15" height="1.15"/><rect x="32.6" y="817.8" width="1.15" height="1.15"/><rect x="35.3" y="731.7" width="1.15" height="1.15"/><rect x="96.7" y="835.8" width="1.15" height="1.15"/><rect x="88.4" y="830.8" width="1.15" height="1.15"/><rect x="82.3" y="810.6" width="1.15" height="1.15"/><rect x="34.0" y="777.3" width="1.15" height="1.15"/><rect x="34.3" y="809.3" width="1.15" height="1.15"/><rect x="41.2" y="776.6" width="1.15" height="1.15"/><rect x="59.0" y="792.2" width="1.15" height="1.15"/><rect x="36.7" y="739.3" width="1.15" height="1.15"/><rect x="40.2" y="745.9" width="1.15" height="1.15"/><rect x="37.7" y="771.1" width="1.15" height="1.15"/><rect x="36.2" y="775.3" width="1.15" height="1.15"/><rect x="70.3" y="821.3" width="1.15" height="1.15"/><rect x="72.0" y="782.1" width="1.15" height="1.15"/><rect x="76.3" y="820.3" width="1.15" height="1.15"/><rect x="48.1" y="722.8" width="1.15" height="1.15"/><rect x="58.9" y="743.7" width="1.15" height="1.15"/><rect x="60.9" y="744.2" width="1.15" height="1.15"/><rect x="71.7" y="829.0" width="1.15" height="1.15"/><rect x="65.4" y="820.2" width="1.15" height="1.15"/><rect x="66.9" y="732.8" width="1.15" height="1.15"/><rect x="69.8" y="829.0" width="1.15" height="1.15"/><rect x="59.0" y="780.4" width="1.15" height="1.15"/><rect x="40.3" y="783.9" width="1.15" height="1.15"/><rect x="38.8" y="804.9" width="1.15" height="1.15"/><rect x="76.7" y="778.1" width="1.15" height="1.15"/><rect x="62.9" y="833.3" width="1.15" height="1.15"/><rect x="60.9" y="791.3" width="1.15" height="1.15"/><rect x="70.0" y="803.7" width="1.15" height="1.15"/><rect x="78.4" y="803.8" width="1.15" height="1.15"/><rect x="36.2" y="785.2" width="1.15" height="1.15"/><rect x="40.4" y="814.2" width="1.15" height="1.15"/><rect x="37.9" y="835.2" width="1.15" height="1.15"/><rect x="66.8" y="805.3" width="1.15" height="1.15"/><rect x="31.4" y="749.0" width="1.15" height="1.15"/><rect x="45.2" y="819.5" width="1.15" height="1.15"/><rect x="56.7" y="809.8" width="1.15" height="1.15"/><rect x="87.2" y="799.2" width="1.15" height="1.15"/><rect x="77.6" y="808.9" width="1.15" height="1.15"/><rect x="74.2" y="783.2" width="1.15" height="1.15"/><rect x="67.4" y="787.0" width="1.15" height="1.15"/><rect x="47.8" y="745.5" width="1.15" height="1.15"/><rect x="70.4" y="805.2" width="1.15" height="1.15"/><rect x="39.5" y="775.7" width="1.15" height="1.15"/><rect x="59.8" y="782.7" width="1.15" height="1.15"/><rect x="41.9" y="826.5" width="1.15" height="1.15"/><rect x="69.9" y="804.7" width="1.15" height="1.15"/><rect x="70.3" y="781.8" width="1.15" height="1.15"/><rect x="65.3" y="812.0" width="1.15" height="1.15"/><rect x="40.1" y="835.6" width="1.15" height="1.15"/><rect x="87.2" y="825.8" width="1.15" height="1.15"/><rect x="30.6" y="818.9" width="1.15" height="1.15"/><rect x="76.8" y="788.9" width="1.15" height="1.15"/><rect x="32.2" y="804.9" width="1.15" height="1.15"/><rect x="41.3" y="804.9" width="1.15" height="1.15"/><rect x="35.3" y="750.1" width="1.15" height="1.15"/><rect x="73.1" y="811.4" width="1.15" height="1.15"/><rect x="74.5" y="801.0" width="1.15" height="1.15"/><rect x="79.1" y="801.0" width="1.15" height="1.15"/><rect x="67.4" y="814.7" width="1.15" height="1.15"/><rect x="36.7" y="747.5" width="1.15" height="1.15"/><rect x="66.2" y="779.2" width="1.15" height="1.15"/><rect x="37.2" y="834.6" width="1.15" height="1.15"/><rect x="30.4" y="786.9" width="1.15" height="1.15"/><rect x="71.7" y="783.1" width="1.15" height="1.15"/><rect x="57.1" y="746.2" width="1.15" height="1.15"/><rect x="81.1" y="787.4" width="1.15" height="1.15"/><rect x="57.7" y="803.7" width="1.15" height="1.15"/><rect x="69.6" y="740.0" width="1.15" height="1.15"/><rect x="40.9" y="785.8" width="1.15" height="1.15"/><rect x="80.6" y="782.9" width="1.15" height="1.15"/><rect x="37.4" y="770.2" width="1.15" height="1.15"/><rect x="34.9" y="818.5" width="1.15" height="1.15"/><rect x="110.5" y="831.7" width="1.15" height="1.15"/><rect x="87.2" y="827.5" width="1.15" height="1.15"/><rect x="30.6" y="796.6" width="1.15" height="1.15"/><rect x="56.4" y="745.0" width="1.15" height="1.15"/><rect x="34.7" y="790.2" width="1.15" height="1.15"/><rect x="35.7" y="801.4" width="1.15" height="1.15"/><rect x="53.9" y="792.3" width="1.15" height="1.15"/><rect x="76.7" y="813.9" width="1.15" height="1.15"/><rect x="55.1" y="814.8" width="1.15" height="1.15"/><rect x="76.9" y="826.1" width="1.15" height="1.15"/><rect x="62.5" y="797.9" width="1.15" height="1.15"/><rect x="71.2" y="781.7" width="1.15" height="1.15"/><rect x="33.3" y="827.8" width="1.15" height="1.15"/><rect x="76.7" y="824.9" width="1.15" height="1.15"/><rect x="30.6" y="761.9" width="1.15" height="1.15"/><rect x="40.8" y="779.1" width="1.15" height="1.15"/><rect x="64.4" y="809.7" width="1.15" height="1.15"/><rect x="34.4" y="820.8" width="1.15" height="1.15"/><rect x="80.4" y="831.4" width="1.15" height="1.15"/><rect x="37.5" y="735.8" width="1.15" height="1.15"/><rect x="35.8" y="776.5" width="1.15" height="1.15"/><rect x="78.0" y="795.0" width="1.15" height="1.15"/><rect x="40.1" y="803.1" width="1.15" height="1.15"/><rect x="40.5" y="817.5" width="1.15" height="1.15"/><rect x="85.7" y="803.1" width="1.15" height="1.15"/><rect x="60.6" y="800.8" width="1.15" height="1.15"/><rect x="78.0" y="781.7" width="1.15" height="1.15"/><rect x="40.5" y="809.0" width="1.15" height="1.15"/><rect x="88.6" y="804.3" width="1.15" height="1.15"/><rect x="117.9" y="829.8" width="1.15" height="1.15"/><rect x="38.7" y="776.7" width="1.15" height="1.15"/><rect x="39.2" y="760.9" width="1.15" height="1.15"/><rect x="73.2" y="790.3" width="1.15" height="1.15"/><rect x="76.8" y="788.3" width="1.15" height="1.15"/><rect x="64.5" y="796.9" width="1.15" height="1.15"/><rect x="35.3" y="774.2" width="1.15" height="1.15"/><rect x="65.8" y="812.8" width="1.15" height="1.15"/><rect x="48.3" y="820.5" width="1.15" height="1.15"/><rect x="34.3" y="723.3" width="1.15" height="1.15"/><rect x="94.4" y="827.0" width="1.15" height="1.15"/><rect x="35.9" y="750.6" width="1.15" height="1.15"/><rect x="125.5" y="787.1" width="1.15" height="1.15"/><rect x="66.3" y="799.2" width="1.15" height="1.15"/><rect x="85.3" y="795.1" width="1.15" height="1.15"/><rect x="37.2" y="779.3" width="1.15" height="1.15"/><rect x="64.7" y="813.8" width="1.15" height="1.15"/><rect x="76.3" y="821.5" width="1.15" height="1.15"/><rect x="67.8" y="780.8" width="1.15" height="1.15"/><rect x="30.2" y="773.1" width="1.15" height="1.15"/><rect x="63.3" y="800.7" width="1.15" height="1.15"/><rect x="37.3" y="768.3" width="1.15" height="1.15"/><rect x="98.3" y="829.8" width="1.15" height="1.15"/><rect x="65.2" y="822.5" width="1.15" height="1.15"/><rect x="36.6" y="821.3" width="1.15" height="1.15"/><rect x="57.8" y="794.5" width="1.15" height="1.15"/><rect x="52.4" y="818.1" width="1.15" height="1.15"/><rect x="78.2" y="793.1" width="1.15" height="1.15"/><rect x="34.6" y="797.7" width="1.15" height="1.15"/><rect x="34.6" y="755.3" width="1.15" height="1.15"/><rect x="38.0" y="740.2" width="1.15" height="1.15"/><rect x="80.0" y="810.1" width="1.15" height="1.15"/><rect x="36.4" y="777.2" width="1.15" height="1.15"/><rect x="103.5" y="831.0" width="1.15" height="1.15"/><rect x="84.5" y="803.7" width="1.15" height="1.15"/><rect x="41.5" y="804.7" width="1.15" height="1.15"/><rect x="49.5" y="825.8" width="1.15" height="1.15"/><rect x="69.1" y="786.7" width="1.15" height="1.15"/><rect x="44.3" y="728.7" width="1.15" height="1.15"/><rect x="35.8" y="779.9" width="1.15" height="1.15"/><rect x="33.8" y="797.5" width="1.15" height="1.15"/><rect x="36.0" y="769.4" width="1.15" height="1.15"/><rect x="32.2" y="785.4" width="1.15" height="1.15"/><rect x="70.0" y="814.3" width="1.15" height="1.15"/><rect x="80.8" y="792.1" width="1.15" height="1.15"/><rect x="33.3" y="790.3" width="1.15" height="1.15"/><rect x="75.0" y="780.8" width="1.15" height="1.15"/><rect x="87.3" y="801.8" width="1.15" height="1.15"/><rect x="98.8" y="835.2" width="1.15" height="1.15"/><rect x="39.2" y="773.4" width="1.15" height="1.15"/><rect x="53.0" y="822.1" width="1.15" height="1.15"/><rect x="74.0" y="817.3" width="1.15" height="1.15"/><rect x="38.9" y="805.8" width="1.15" height="1.15"/><rect x="53.4" y="802.6" width="1.15" height="1.15"/><rect x="68.5" y="801.3" width="1.15" height="1.15"/><rect x="32.3" y="754.2" width="1.15" height="1.15"/><rect x="57.7" y="803.7" width="1.15" height="1.15"/><rect x="60.0" y="834.4" width="1.15" height="1.15"/><rect x="63.0" y="814.1" width="1.15" height="1.15"/><rect x="36.2" y="798.0" width="1.15" height="1.15"/><rect x="39.8" y="796.6" width="1.15" height="1.15"/><rect x="53.9" y="824.2" width="1.15" height="1.15"/><rect x="33.2" y="723.3" width="1.15" height="1.15"/><rect x="72.2" y="777.7" width="1.15" height="1.15"/><rect x="37.6" y="831.7" width="1.15" height="1.15"/><rect x="72.3" y="809.1" width="1.15" height="1.15"/><rect x="34.1" y="821.1" width="1.15" height="1.15"/><rect x="39.3" y="801.8" width="1.15" height="1.15"/><rect x="57.0" y="740.5" width="1.15" height="1.15"/><rect x="64.8" y="801.8" width="1.15" height="1.15"/><rect x="74.3" y="807.4" width="1.15" height="1.15"/><rect x="80.9" y="798.6" width="1.15" height="1.15"/><rect x="67.6" y="830.0" width="1.15" height="1.15"/><rect x="41.9" y="744.5" width="1.15" height="1.15"/><rect x="51.1" y="741.5" width="1.15" height="1.15"/><rect x="35.2" y="753.9" width="1.15" height="1.15"/><rect x="52.8" y="811.1" width="1.15" height="1.15"/><rect x="34.1" y="826.0" width="1.15" height="1.15"/><rect x="39.2" y="770.3" width="1.15" height="1.15"/><rect x="65.9" y="822.1" width="1.15" height="1.15"/><rect x="64.2" y="779.8" width="1.15" height="1.15"/><rect x="31.8" y="802.2" width="1.15" height="1.15"/><rect x="62.6" y="816.4" width="1.15" height="1.15"/><rect x="43.3" y="757.8" width="1.15" height="1.15"/><rect x="68.8" y="798.4" width="1.15" height="1.15"/><rect x="39.7" y="823.8" width="1.15" height="1.15"/><rect x="82.6" y="790.5" width="1.15" height="1.15"/></g>
<path d="M110.5,830.1 109.5,830.2 108.5,830.3 107.5,830.2 106.5,830.1 106.0,830.0 105.0,829.6 104.5,829.3 104.0,829.0 103.5,828.5 103.0,828.0 102.5,827.3 102.0,826.5 101.7,826.0 101.5,825.5 101.0,824.7 100.6,824.0 100.3,823.5 100.0,823.0 99.5,822.3 99.0,821.5 98.8,821.0 98.5,820.4 98.1,819.5 98.0,819.0 97.6,818.0 97.5,817.5 97.1,816.5 96.9,816.0 96.6,815.0 96.4,814.5 96.1,813.5 95.9,813.0 95.6,812.0 95.5,811.4 95.2,810.5 95.0,809.7 94.8,809.0 94.5,808.1 94.3,807.5 94.0,806.5 93.8,806.0 93.6,805.0 93.5,804.4 93.3,803.5 93.1,802.5 93.0,802.0 92.6,801.0 92.3,800.5 92.0,799.8 91.6,799.0 91.4,798.5 91.1,797.5 90.9,797.0 90.5,796.0 90.3,795.5 90.0,794.6 89.7,794.0 89.5,793.4 89.1,792.5 88.8,792.0 88.5,791.3 88.1,790.5 87.9,790.0 87.5,789.3 87.1,788.5 86.8,788.0 86.5,787.5 86.0,786.6 85.6,786.0 85.3,785.5 85.0,785.0 84.5,784.1 84.2,783.5 83.9,783.0 83.5,782.4 83.0,781.7 82.5,781.0 82.1,780.5 81.7,780.0 81.3,779.5 80.8,779.0 80.3,778.5 79.8,778.0 79.2,777.5 78.5,777.0 78.0,776.7 77.5,776.4 76.8,776.0 76.0,775.5 75.5,775.2 75.0,774.8 74.5,774.5 73.9,774.0 73.1,773.5 72.5,773.1 72.0,772.8 71.3,772.5 70.5,772.2 69.9,772.0 69.0,771.9 68.0,771.8 67.0,771.9 66.0,771.9 65.0,771.8 64.0,771.8 63.0,771.7 62.0,771.7 61.0,771.7 60.0,771.8 59.0,771.9 58.5,772.0 57.5,772.2 56.5,772.4 56.0,772.6 55.2,773.0 54.7,773.5 54.4,774.0 54.0,775.0 53.8,775.5 53.7,776.5 53.6,777.5 53.6,778.5 53.5,779.2 53.3,780.0 53.2,781.0 53.1,782.0 53.2,783.0 53.1,784.0 53.0,785.0 52.9,785.5 52.8,786.5 52.7,787.5 52.7,788.5 52.6,789.5 52.5,790.5 52.5,791.0 52.5,791.9 52.6,792.5 52.7,793.5 52.8,794.5 52.7,795.5 52.6,796.5 52.5,797.0 52.4,798.0 52.4,799.0 52.4,800.0 52.4,801.0 52.3,802.0 52.2,803.0 52.1,804.0 52.2,805.0 52.3,806.0 52.2,807.0 52.0,807.9 51.7,808.5 51.5,809.0 51.1,810.0 50.9,810.5 50.8,811.5 50.8,812.5 50.6,813.5 50.4,814.0 50.0,814.9 49.6,815.5 49.1,816.0 48.5,816.3 47.5,816.0 47.0,815.5 46.7,815.0 46.3,814.5 46.0,813.8 45.6,813.0 45.4,812.5 45.0,811.5 44.8,811.0 44.5,810.0 44.5,809.5 44.4,808.5 44.4,807.5 44.4,806.5 44.3,805.5 44.2,804.5 44.0,803.6 43.8,803.0 43.5,802.1 43.3,801.5 43.1,800.5 43.1,799.5 43.1,798.5 43.0,797.5 43.0,797.0 42.8,796.0 42.6,795.0 42.5,794.5 42.4,793.5 42.4,792.5 42.5,791.6 42.5,791.0 42.5,790.0 42.5,789.5 42.4,788.5 42.4,787.5 42.3,786.5 42.3,785.5 42.4,784.5 42.5,783.5 42.5,783.0 42.6,782.0 42.6,781.0 42.5,780.0 42.4,779.5 42.3,778.5 42.2,777.5 42.2,776.5 42.2,775.5 42.3,774.5 42.4,773.5 42.5,772.5 42.5,772.0 42.6,771.0 42.7,770.0 42.7,769.0 42.7,768.0 42.7,767.0 42.8,766.0 42.8,765.0 42.7,764.0 42.9,763.0 43.0,762.5 43.3,761.5 43.5,761.0 43.8,760.0 44.0,759.4 44.3,758.5 44.5,757.8 44.8,757.0 45.0,756.3 45.4,755.5 45.7,755.0 46.1,754.5 46.6,754.0 47.2,753.5 47.9,753.0 48.5,752.6 49.0,752.2 49.5,751.8 50.0,751.4 50.5,751.0 51.1,750.5 51.7,750.0 52.2,749.5 52.8,749.0 53.5,748.5 54.0,748.2 54.5,747.9 55.5,747.6 56.0,747.4 57.0,747.0 57.5,746.8 58.4,746.5 59.0,746.3 59.9,746.0 60.5,745.8 61.5,745.5 62.0,745.4 63.0,745.1 63.5,745.0 64.5,744.7 65.2,744.5 66.0,744.3 66.8,744.0 67.5,743.8 68.2,743.5 69.0,743.2 69.8,743.0 70.5,742.8 71.5,742.6 72.0,742.5 73.0,742.3 74.0,742.1 74.5,742.0 75.5,741.7 76.5,741.5 77.0,741.4 78.0,741.2 79.0,741.1 80.0,741.0 80.5,741.0 81.5,740.9 82.5,740.7 83.5,740.5 84.0,740.5 85.0,740.4 86.0,740.4 87.0,740.5 87.5,740.5 88.5,740.6 89.5,740.7 90.5,740.8 91.5,741.0 92.0,741.1 93.0,741.2 94.0,741.4 94.7,741.5 95.5,741.6 96.5,741.9 97.0,742.1 97.7,742.5 98.5,743.0 99.0,743.3 99.5,743.6 100.1,744.0 100.8,744.5 101.5,744.9 102.0,745.2 102.5,745.5 103.3,746.0 104.0,746.5 104.5,747.0 105.0,747.5 105.4,748.0 105.8,748.5 106.2,749.0 106.5,749.5 107.0,750.2 107.5,750.9 107.9,751.5 108.2,752.0 108.5,752.5 109.0,753.3 109.4,754.0 109.7,754.5 110.0,755.2 110.4,756.0 110.7,756.5 111.0,757.0 111.5,757.8 112.0,758.5 112.3,759.0 112.6,759.5 113.0,760.1 113.5,761.0 113.7,761.5 114.0,762.4 114.2,763.0 114.5,763.8 114.8,764.5 115.0,765.1 115.3,766.0 115.5,766.5 115.8,767.5 116.0,768.1 116.3,769.0 116.5,769.6 116.8,770.5 117.0,771.1 117.3,772.0 117.5,772.6 117.8,773.5 118.0,774.1 118.3,775.0 118.5,775.7 118.7,776.5 119.0,777.5 119.1,778.0 119.3,779.0 119.5,779.9 119.6,780.5 119.8,781.5 119.9,782.5 120.0,783.3 120.1,784.0 120.2,785.0 120.4,786.0 120.5,786.9 120.6,787.5 120.8,788.5 120.9,789.5 121.0,790.2 121.1,791.0 121.2,792.0 121.4,793.0 121.5,794.0 121.5,794.5 121.7,795.5 121.8,796.5 121.8,797.5 121.9,798.5 121.8,799.5 121.8,800.5 121.8,801.5 121.6,802.5 121.5,803.3 121.4,804.0 121.3,805.0 121.3,806.0 121.3,807.0 121.3,808.0 121.2,809.0 121.1,810.0 121.0,811.0 120.9,811.5 120.8,812.5 120.7,813.5 120.6,814.5 120.5,815.0 120.2,816.0 120.0,816.5 119.6,817.5 119.4,818.0 119.1,819.0 118.9,819.5 118.6,820.5 118.4,821.0 118.0,821.9 117.7,822.5 117.5,823.0 117.1,824.0 116.9,824.5 116.5,825.4 116.1,826.0 115.7,826.5 115.3,827.0 114.7,827.5 114.0,828.0 113.5,828.3 113.0,828.7 112.5,829.0 111.8,829.5 111.0,829.9 110.5,830.1Z M108.5,827.0 107.8,827.0 107.0,826.9 106.0,826.6 105.5,826.3 105.0,825.8 104.5,825.3 104.0,824.6 103.7,824.0 103.4,823.5 103.0,822.8 102.6,822.0 102.3,821.5 102.0,820.8 101.6,820.0 101.4,819.5 101.0,818.5 100.8,818.0 100.5,817.1 100.3,816.5 100.0,815.7 99.7,815.0 99.5,814.4 99.1,813.5 99.0,813.0 98.7,812.0 98.5,811.0 98.4,810.5 98.1,809.5 98.0,808.9 97.7,808.0 97.5,807.2 97.3,806.5 97.0,805.7 96.8,805.0 96.6,804.0 96.5,803.5 96.3,802.5 96.1,801.5 95.9,801.0 95.6,800.0 95.4,799.5 95.0,798.5 94.8,798.0 94.5,797.3 94.2,796.5 94.0,795.7 93.8,795.0 93.5,794.0 93.4,793.5 93.1,792.5 92.9,792.0 92.5,791.1 92.2,790.5 92.0,790.0 91.5,789.1 91.1,788.5 90.8,788.0 90.5,787.4 90.0,786.6 89.6,786.0 89.3,785.5 89.0,785.0 88.5,784.3 88.0,783.5 87.7,783.0 87.4,782.5 87.0,782.0 86.5,781.2 86.0,780.6 85.5,780.0 85.1,779.5 84.6,779.0 84.1,778.5 83.6,778.0 83.1,777.5 82.5,777.0 82.0,776.6 81.5,776.2 81.0,775.9 80.5,775.5 79.6,775.0 79.0,774.7 78.5,774.4 77.8,774.0 77.0,773.6 76.5,773.3 76.0,773.0 75.2,772.5 74.5,772.1 74.0,771.8 73.5,771.5 72.5,771.0 72.0,770.8 71.3,770.5 70.5,770.3 69.5,770.1 68.9,770.0 68.0,769.9 67.0,769.8 66.0,769.7 65.0,769.6 64.5,769.5 63.5,769.2 62.6,769.0 62.0,768.8 61.0,768.5 60.5,768.4 59.5,768.1 59.0,767.9 58.0,767.7 57.4,767.5 56.5,767.3 55.5,767.1 55.0,767.0 54.0,766.8 53.0,766.6 52.5,766.4 51.5,766.1 51.0,765.8 50.5,765.3 50.2,764.5 50.2,763.5 50.2,762.5 50.1,761.5 50.2,760.5 50.4,759.5 50.6,759.0 51.0,758.3 51.5,757.6 52.0,757.0 52.4,756.5 52.8,756.0 53.2,755.5 53.6,755.0 54.0,754.5 54.5,753.7 55.0,753.1 55.5,752.5 55.9,752.0 56.4,751.5 57.0,751.0 57.5,750.5 58.0,750.1 58.5,749.8 59.0,749.5 60.0,749.0 60.5,748.8 61.4,748.5 62.0,748.3 62.8,748.0 63.5,747.8 64.2,747.5 65.0,747.3 66.0,747.0 66.5,746.8 67.5,746.5 68.0,746.3 69.0,746.0 69.5,745.8 70.5,745.5 71.0,745.3 72.0,745.0 72.5,744.9 73.5,744.6 74.0,744.4 75.0,744.2 76.0,744.0 76.5,743.9 77.5,743.8 78.5,743.7 79.5,743.6 80.1,743.5 81.0,743.4 82.0,743.2 83.0,743.1 84.0,743.0 84.5,743.0 85.5,743.0 86.5,743.0 87.3,743.0 88.0,743.0 89.0,743.1 90.0,743.1 91.0,743.2 92.0,743.4 92.6,743.5 93.5,743.7 94.5,744.0 95.0,744.2 95.9,744.5 96.5,744.8 97.0,745.1 97.7,745.5 98.5,746.0 99.0,746.2 99.5,746.5 100.4,747.0 101.0,747.3 101.5,747.6 102.1,748.0 102.8,748.5 103.3,749.0 103.8,749.5 104.2,750.0 104.6,750.5 105.0,751.0 105.5,751.7 106.0,752.4 106.4,753.0 106.7,753.5 107.0,754.0 107.5,754.8 107.9,755.5 108.1,756.0 108.5,756.6 109.0,757.5 109.3,758.0 109.6,758.5 110.0,759.0 110.5,759.8 110.9,760.5 111.2,761.0 111.5,761.5 111.9,762.5 112.1,763.0 112.5,764.0 112.7,764.5 113.0,765.4 113.2,766.0 113.5,766.8 113.7,767.5 114.0,768.3 114.3,769.0 114.5,769.6 114.8,770.5 115.0,771.1 115.3,772.0 115.5,772.7 115.7,773.5 116.0,774.4 116.2,775.0 116.5,776.0 116.6,776.5 116.9,777.5 117.1,778.0 117.3,779.0 117.5,780.0 117.6,780.5 117.7,781.5 117.9,782.5 118.0,783.4 118.1,784.0 118.1,785.0 118.2,786.0 118.4,787.0 118.5,787.9 118.6,788.5 118.7,789.5 118.8,790.5 118.9,791.5 119.0,792.0 119.1,793.0 119.3,794.0 119.4,795.0 119.5,796.0 119.5,797.0 119.5,798.0 119.5,799.0 119.5,800.0 119.5,800.5 119.5,801.5 119.5,802.0 119.4,803.0 119.3,804.0 119.2,805.0 119.1,806.0 119.0,807.0 119.0,808.0 119.0,808.5 119.0,809.5 118.9,810.5 118.8,811.5 118.6,812.5 118.5,813.2 118.3,814.0 118.0,815.0 117.9,815.5 117.5,816.5 117.3,817.0 117.0,817.9 116.8,818.5 116.5,819.2 116.2,820.0 116.0,820.5 115.5,821.5 115.3,822.0 115.0,822.7 114.6,823.5 114.3,824.0 113.9,824.5 113.5,825.0 112.8,825.5 112.0,826.0 111.5,826.2 110.9,826.5 110.0,826.8 109.0,827.0 108.5,827.0Z M109.5,819.6 108.5,819.6 108.0,819.2 107.5,818.5 107.2,818.0 106.8,817.5 106.3,817.0 105.9,816.5 105.5,816.0 105.0,815.0 104.9,814.5 104.5,813.5 104.4,813.0 104.1,812.0 104.0,811.5 103.7,810.5 103.5,809.6 103.4,809.0 103.3,808.0 103.2,807.0 103.0,806.1 102.8,805.5 102.5,804.8 102.1,804.0 101.9,803.5 101.5,802.5 101.4,802.0 101.3,801.0 101.2,800.0 101.2,799.0 101.0,798.0 101.0,797.5 100.7,796.5 100.5,795.7 100.2,795.0 100.0,794.5 99.6,793.5 99.4,793.0 99.0,792.1 98.7,791.5 98.5,791.0 98.0,790.1 97.7,789.5 97.5,789.0 97.0,788.0 96.8,787.5 96.5,786.5 96.4,786.0 96.0,785.0 95.8,784.5 95.5,783.9 95.0,783.0 94.7,782.5 94.4,782.0 94.0,781.5 93.5,780.7 93.0,780.1 92.5,779.5 92.1,779.0 91.7,778.5 91.3,778.0 90.9,777.5 90.4,777.0 89.8,776.5 89.2,776.0 88.7,775.5 88.1,775.0 87.5,774.6 87.0,774.3 86.4,774.0 85.5,773.6 85.0,773.3 84.4,773.0 83.6,772.5 83.0,772.1 82.5,771.8 81.8,771.5 81.0,771.1 80.5,770.8 79.9,770.5 79.0,770.1 78.5,769.8 78.0,769.5 77.2,769.0 76.5,768.6 76.0,768.2 75.5,767.9 74.7,767.5 74.0,767.1 73.5,766.9 72.6,766.5 72.0,766.3 71.0,766.1 70.0,766.0 69.0,766.0 68.5,765.9 67.5,765.6 67.0,765.4 66.5,765.0 65.9,764.5 65.3,764.0 64.7,763.5 64.1,763.0 63.5,762.6 63.0,762.2 62.5,761.9 62.0,761.5 61.5,760.8 61.2,760.0 61.2,759.0 61.5,758.1 61.8,757.5 62.0,757.0 62.4,756.0 62.5,755.5 62.8,754.5 63.0,753.9 63.5,753.3 64.0,752.9 64.8,752.5 65.5,752.1 66.0,751.9 66.8,751.5 67.5,751.2 68.0,751.0 69.0,750.7 69.8,750.5 70.5,750.4 71.5,750.3 72.3,750.0 73.0,749.7 73.5,749.4 74.2,749.0 75.0,748.6 75.5,748.5 76.5,748.4 77.5,748.4 78.1,748.5 79.0,748.6 80.0,748.6 80.6,748.5 81.5,748.3 82.5,748.0 83.0,747.9 84.0,747.7 85.0,747.6 85.6,747.5 86.5,747.4 87.5,747.3 88.5,747.2 89.5,747.2 90.5,747.3 91.3,747.5 92.0,747.8 92.5,748.0 93.5,748.4 94.0,748.6 95.0,748.9 95.5,749.1 96.5,749.5 97.0,749.7 97.9,750.0 98.5,750.3 99.0,750.6 99.7,751.0 100.3,751.5 100.9,752.0 101.5,752.5 102.0,753.0 102.5,753.5 102.9,754.0 103.3,754.5 103.7,755.0 104.0,755.5 104.5,756.2 105.0,757.0 105.2,757.5 105.5,758.0 106.0,758.8 106.4,759.5 106.8,760.0 107.1,760.5 107.5,761.1 108.0,761.9 108.4,762.5 108.7,763.0 109.0,763.5 109.5,764.5 109.7,765.0 110.0,765.8 110.2,766.5 110.5,767.2 110.8,768.0 111.0,768.7 111.3,769.5 111.5,770.1 111.8,771.0 112.0,771.7 112.2,772.5 112.5,773.5 112.6,774.0 112.8,775.0 113.0,775.9 113.2,776.5 113.4,777.5 113.6,778.0 113.7,779.0 113.9,780.0 114.0,780.5 114.2,781.5 114.3,782.5 114.4,783.5 114.5,784.3 114.6,785.0 114.6,786.0 114.6,787.0 114.5,788.0 114.5,789.0 114.6,790.0 114.8,791.0 115.0,791.7 115.2,792.5 115.4,793.5 115.5,794.5 115.5,795.5 115.4,796.5 115.3,797.5 115.4,798.5 115.5,799.3 115.6,800.0 115.6,801.0 115.5,802.0 115.4,802.5 115.1,803.5 115.0,804.0 114.7,805.0 114.6,806.0 114.5,806.7 114.3,807.5 114.1,808.5 114.0,809.2 113.9,810.0 113.8,811.0 113.7,812.0 113.5,813.0 113.3,813.5 113.0,814.4 112.8,815.0 112.5,816.0 112.3,816.5 112.0,817.3 111.5,818.0 111.1,818.5 110.5,819.0 110.0,819.4 109.5,819.6Z M110.5,816.7 109.5,816.9 108.5,816.7 108.0,816.5 107.1,816.0 106.5,815.5 106.1,815.0 105.9,814.5 105.5,813.5 105.4,813.0 105.2,812.0 105.0,811.3 104.8,810.5 104.6,809.5 104.5,809.0 104.4,808.0 104.3,807.0 104.0,806.0 103.8,805.5 103.5,804.9 103.0,804.1 102.7,803.5 102.4,803.0 102.1,802.0 102.0,801.5 101.9,800.5 101.9,799.5 101.9,798.5 101.8,797.5 101.6,796.5 101.4,796.0 101.1,795.0 100.9,794.5 100.5,793.6 100.3,793.0 100.0,792.4 99.6,791.5 99.4,791.0 99.0,790.3 98.5,789.5 98.3,789.0 98.0,788.5 97.6,787.5 97.4,787.0 97.1,786.0 97.0,785.5 96.6,784.5 96.4,784.0 96.0,783.3 95.5,782.5 95.3,782.0 95.0,781.5 94.5,780.7 94.1,780.0 93.8,779.5 93.4,779.0 93.0,778.4 92.5,777.7 92.0,777.1 91.5,776.7 91.0,776.3 90.5,775.9 89.9,775.5 89.3,775.0 88.8,774.5 88.2,774.0 87.5,773.6 87.0,773.3 86.3,773.0 85.5,772.6 85.0,772.3 84.5,772.0 83.8,771.5 83.0,771.0 82.5,770.8 81.8,770.5 81.0,770.2 80.5,769.9 79.7,769.5 79.0,769.1 78.5,768.7 78.0,768.4 77.5,768.0 76.9,767.5 76.3,767.0 75.7,766.5 75.0,766.0 74.5,765.6 74.0,765.2 73.5,764.8 73.0,764.4 72.0,764.1 71.4,764.0 70.5,764.0 69.8,764.0 69.5,764.0 68.5,763.8 68.0,763.4 67.5,762.5 67.3,762.0 66.9,761.5 66.1,761.0 65.5,760.8 64.5,760.8 63.5,760.5 63.0,760.0 62.9,759.5 63.0,758.9 63.3,758.0 63.5,757.5 63.9,756.5 64.1,756.0 64.5,755.2 65.0,754.6 65.5,754.3 66.5,754.1 67.2,754.0 68.0,753.7 68.5,753.3 69.0,752.8 69.5,752.5 70.5,752.1 71.5,752.0 72.0,751.9 73.0,751.5 73.5,751.1 74.0,750.7 74.5,750.3 75.1,750.0 76.0,749.7 77.0,749.7 78.0,749.9 79.0,749.9 80.0,749.8 81.0,749.5 81.5,749.4 82.5,749.0 83.0,748.9 84.0,748.8 85.0,748.6 85.8,748.5 86.5,748.4 87.5,748.1 88.0,748.0 89.0,747.9 90.0,747.9 90.6,748.0 91.5,748.4 92.0,748.6 92.9,749.0 93.5,749.2 94.4,749.5 95.0,749.7 96.0,750.0 96.5,750.1 97.5,750.5 98.0,750.7 98.6,751.0 99.3,751.5 99.9,752.0 100.5,752.5 101.0,753.0 101.5,753.4 102.0,753.9 102.5,754.4 103.0,754.9 103.4,755.5 103.8,756.0 104.1,756.5 104.5,757.2 105.0,758.0 105.2,758.5 105.6,759.0 106.0,759.7 106.5,760.5 106.9,761.0 107.2,761.5 107.5,762.0 108.0,762.6 108.5,763.4 108.8,764.0 109.1,764.5 109.5,765.5 109.7,766.0 110.0,766.9 110.2,767.5 110.5,768.3 110.7,769.0 111.0,769.8 111.2,770.5 111.5,771.3 111.7,772.0 111.9,773.0 112.0,773.5 112.2,774.5 112.4,775.5 112.5,776.0 112.8,777.0 113.0,778.0 113.1,778.5 113.2,779.5 113.4,780.5 113.5,781.1 113.6,782.0 113.6,783.0 113.7,784.0 113.8,785.0 113.9,786.0 113.9,787.0 113.7,788.0 113.5,788.8 113.4,789.5 113.5,790.4 113.7,791.0 114.0,791.8 114.2,792.5 114.5,793.5 114.6,794.0 114.6,795.0 114.5,796.0 114.5,796.5 114.4,797.5 114.5,798.3 114.6,799.0 114.8,800.0 114.8,801.0 114.6,802.0 114.4,802.5 114.0,803.5 113.8,804.0 113.5,804.7 113.2,805.5 113.0,806.1 112.7,807.0 112.5,807.8 112.4,808.5 112.2,809.5 112.2,810.5 112.2,811.5 112.3,812.5 112.1,813.5 112.0,814.0 111.7,815.0 111.5,815.5 111.0,816.3 110.5,816.7Z M109.5,814.7 108.5,814.7 108.0,814.4 107.5,813.9 107.0,813.0 106.8,812.5 106.5,811.7 106.3,811.0 106.1,810.0 106.0,809.0 106.2,808.0 106.5,807.0 106.7,806.5 106.5,805.8 106.0,805.3 105.5,805.0 104.9,804.5 104.3,804.0 103.9,803.5 103.5,803.0 103.0,802.0 102.9,801.5 102.8,800.5 102.8,799.5 102.7,798.5 102.6,797.5 102.5,796.9 102.4,796.0 102.2,795.0 102.0,794.3 101.7,793.5 101.5,793.0 101.0,792.0 100.8,791.5 100.5,790.8 100.1,790.0 99.8,789.5 99.4,789.0 99.0,788.3 98.6,787.5 98.4,787.0 98.0,786.0 97.9,785.5 97.6,784.5 97.3,784.0 97.0,783.3 96.6,782.5 96.3,782.0 96.0,781.4 95.6,780.5 95.3,780.0 95.0,779.4 94.5,778.5 94.2,778.0 93.9,777.5 93.5,776.8 93.0,776.1 92.5,775.6 92.0,775.3 91.3,775.0 90.5,774.6 90.0,774.2 89.5,773.8 89.0,773.4 88.5,773.0 87.7,772.5 87.0,772.1 86.5,771.9 85.9,771.5 85.2,771.0 84.6,770.5 84.0,770.1 83.5,769.8 82.7,769.5 82.0,769.2 81.4,769.0 80.7,768.5 80.2,768.0 79.9,767.5 79.5,766.6 79.0,766.0 78.5,765.7 77.8,765.5 77.0,765.2 76.5,765.0 75.6,764.5 75.0,764.0 74.5,763.5 74.0,763.1 73.5,762.8 72.7,762.5 72.0,762.4 71.0,762.1 70.5,761.9 70.0,761.5 69.5,760.7 69.2,760.0 69.0,759.4 68.8,758.5 69.0,757.9 69.5,757.3 70.0,756.9 70.5,756.5 71.1,756.0 71.6,755.5 72.1,755.0 72.8,754.5 73.5,754.2 74.0,753.9 74.6,753.5 75.2,753.0 75.7,752.5 76.5,752.1 77.0,751.9 78.0,751.8 79.0,751.7 79.9,751.5 80.5,751.3 81.2,751.0 82.0,750.7 82.8,750.5 83.5,750.5 84.1,750.5 85.0,750.5 85.5,750.4 86.5,750.0 87.0,749.7 87.5,749.4 88.5,749.0 89.0,748.9 90.0,749.0 90.5,749.2 91.3,749.5 92.0,749.8 92.5,750.0 93.5,750.4 94.0,750.5 95.0,750.7 96.0,750.9 96.5,751.0 97.5,751.4 98.0,751.6 98.6,752.0 99.2,752.5 99.8,753.0 100.3,753.5 100.9,754.0 101.5,754.5 102.0,754.9 102.5,755.4 103.0,756.0 103.3,756.5 103.6,757.0 104.0,757.6 104.5,758.4 104.8,759.0 105.2,759.5 105.5,760.0 106.0,760.7 106.5,761.5 106.9,762.0 107.2,762.5 107.6,763.0 108.0,763.6 108.5,764.4 108.8,765.0 109.0,765.5 109.4,766.5 109.6,767.0 109.9,768.0 110.1,768.5 110.5,769.5 110.6,770.0 110.9,771.0 111.1,771.5 111.3,772.5 111.5,773.3 111.6,774.0 111.8,775.0 111.9,776.0 112.0,776.5 112.2,777.5 112.3,778.5 112.4,779.5 112.5,780.1 112.6,781.0 112.6,782.0 112.5,783.0 112.4,783.5 112.4,784.5 112.6,785.0 112.8,786.0 112.7,787.0 112.5,787.7 112.1,788.5 111.8,789.0 111.6,790.0 111.9,791.0 112.1,791.5 112.5,792.4 112.7,793.0 112.9,794.0 113.0,794.5 113.1,795.5 113.2,796.5 113.2,797.5 113.2,798.5 113.4,799.5 113.5,800.0 113.5,800.8 113.3,801.5 113.0,802.1 112.5,803.0 112.2,803.5 111.8,804.0 111.5,804.5 111.0,805.2 110.6,806.0 110.4,806.5 110.2,807.5 110.4,808.5 110.5,809.3 110.6,810.0 110.7,811.0 110.8,812.0 110.7,813.0 110.5,813.6 110.0,814.4 109.5,814.7Z M107.0,802.7 106.0,802.8 105.1,802.5 104.5,802.0 104.2,801.5 104.0,800.8 103.9,800.0 103.7,799.0 103.6,798.0 103.5,797.5 103.4,796.5 103.3,795.5 103.4,794.5 103.4,793.5 103.2,792.5 103.0,792.0 102.5,791.2 102.0,790.5 101.7,790.0 101.3,789.5 101.0,789.0 100.5,788.3 100.1,787.5 99.8,787.0 99.5,786.0 99.4,785.5 99.1,784.5 98.9,784.0 98.5,783.2 98.1,782.5 97.8,782.0 97.5,781.4 97.1,780.5 96.9,780.0 96.5,779.3 96.0,778.6 95.7,778.0 95.4,777.5 95.0,776.5 94.8,776.0 94.5,775.2 94.1,774.5 93.6,774.0 93.0,773.7 92.2,773.5 91.5,773.4 90.6,773.0 90.0,772.7 89.5,772.3 89.0,772.0 88.4,771.5 87.7,771.0 87.0,770.5 86.5,770.1 86.0,769.7 85.5,769.3 85.0,768.9 84.5,768.5 84.0,768.0 83.5,767.5 83.0,767.0 82.5,766.4 82.0,765.6 81.6,765.0 81.3,764.5 80.8,764.0 80.2,763.5 79.5,763.1 79.0,762.8 78.4,762.5 77.6,762.0 77.1,761.5 76.8,761.0 76.6,760.0 76.7,759.0 76.9,758.0 77.0,757.5 77.4,756.5 77.7,756.0 78.2,755.5 78.7,755.0 79.5,754.5 80.0,754.3 80.7,754.0 81.5,753.8 82.5,753.6 83.1,753.5 84.0,753.3 85.0,753.1 85.5,752.9 86.4,752.5 87.0,752.2 87.5,751.8 88.0,751.5 88.9,751.0 89.5,750.9 90.5,750.9 91.0,751.0 92.0,751.3 92.6,751.5 93.5,751.8 94.3,752.0 95.0,752.2 96.0,752.3 96.7,752.5 97.5,752.8 98.0,753.1 98.6,753.5 99.3,754.0 99.9,754.5 100.5,754.9 101.0,755.3 101.5,755.7 102.0,756.2 102.5,756.8 103.0,757.5 103.3,758.0 103.6,758.5 104.0,759.2 104.5,759.9 104.9,760.5 105.3,761.0 105.7,761.5 106.0,762.0 106.5,762.6 107.0,763.3 107.5,764.0 107.8,764.5 108.1,765.0 108.5,765.8 108.8,766.5 109.0,767.0 109.4,768.0 109.6,768.5 110.0,769.5 110.1,770.0 110.4,771.0 110.6,771.5 110.8,772.5 111.0,773.5 111.0,774.0 111.1,775.0 111.2,776.0 111.2,777.0 111.1,778.0 111.1,779.0 111.2,780.0 111.3,781.0 111.1,782.0 111.0,782.5 110.6,783.5 110.4,784.0 110.4,785.0 110.5,785.5 110.8,786.5 110.7,787.5 110.4,788.0 110.0,789.0 109.9,789.5 109.8,790.5 109.8,791.5 110.0,792.3 110.3,793.0 110.6,793.5 110.9,794.5 111.0,795.0 111.1,796.0 111.0,796.9 110.7,797.5 110.4,798.0 110.2,799.0 110.3,800.0 110.0,800.6 109.4,801.0 108.7,801.5 108.1,802.0 107.5,802.4 107.0,802.7Z M106.0,791.5 105.5,791.4 104.9,791.0 104.1,790.5 103.5,790.0 103.0,789.5 102.5,789.0 102.1,788.5 101.8,788.0 101.5,787.5 101.1,786.5 100.9,786.0 100.7,785.0 100.5,784.0 100.4,783.5 100.0,782.7 99.6,782.0 99.3,781.5 99.0,780.9 98.7,780.0 98.5,779.5 98.0,778.7 97.5,778.1 97.0,777.5 96.7,777.0 96.5,776.5 96.0,775.5 95.9,775.0 95.6,774.0 95.4,773.5 95.0,772.9 94.5,772.4 93.6,772.0 93.0,771.8 92.0,771.6 91.4,771.5 90.5,771.1 90.0,770.8 89.5,770.4 89.0,770.0 88.4,769.5 87.8,769.0 87.2,768.5 86.5,768.0 86.0,767.5 85.5,767.0 85.0,766.5 84.6,766.0 84.2,765.5 83.8,765.0 83.5,764.5 83.0,763.8 82.5,763.2 82.0,762.6 81.5,762.2 81.0,761.7 80.5,761.1 80.2,760.5 80.3,759.5 80.6,759.0 81.3,758.5 82.0,758.3 83.0,758.1 83.5,758.0 84.5,757.5 85.0,757.2 85.5,756.9 86.1,756.5 86.6,756.0 87.1,755.5 87.6,755.0 88.2,754.5 88.8,754.0 89.4,753.5 90.0,753.1 90.5,752.9 91.5,752.8 92.5,753.0 93.0,753.1 94.0,753.4 94.7,753.5 95.5,753.7 96.5,754.0 97.0,754.2 97.6,754.5 98.5,754.9 99.0,755.2 99.5,755.5 100.3,756.0 100.9,756.5 101.4,757.0 101.8,757.5 102.1,758.0 102.5,758.8 102.9,759.5 103.2,760.0 103.6,760.5 104.0,761.0 104.5,761.5 105.0,762.1 105.5,762.8 106.0,763.4 106.5,764.0 106.9,764.5 107.2,765.0 107.6,765.5 108.0,766.3 108.3,767.0 108.6,767.5 109.0,768.5 109.2,769.0 109.5,769.8 109.7,770.5 110.0,771.4 110.1,772.0 110.3,773.0 110.4,774.0 110.4,775.0 110.2,776.0 110.0,776.9 109.8,777.5 109.6,778.5 109.6,779.5 109.8,780.5 109.8,781.5 109.5,782.5 109.2,783.0 108.9,783.5 108.5,784.4 108.3,785.0 108.1,786.0 108.0,786.6 107.8,787.5 107.8,788.5 107.8,789.5 107.5,790.5 107.1,791.0 106.5,791.5 106.0,791.5Z M106.5,800.1 106.0,800.0 105.5,799.4 105.1,798.5 105.0,798.0 104.8,797.0 104.7,796.0 104.9,795.0 105.0,794.5 105.4,793.5 105.8,793.0 106.5,792.6 107.2,793.0 107.8,793.5 108.2,794.0 108.5,794.5 108.7,795.5 108.6,796.5 108.4,797.0 108.1,798.0 108.0,798.5 107.5,799.4 107.0,799.9 106.5,800.1Z M105.0,787.6 104.0,787.8 103.4,787.5 102.8,787.0 102.4,786.5 102.0,785.6 101.8,785.0 101.5,784.0 101.4,783.5 101.2,782.5 101.0,781.6 100.8,781.0 100.7,780.0 100.8,779.0 100.5,778.1 100.0,777.8 99.5,777.5 98.9,777.0 98.3,776.5 97.9,776.0 97.5,775.4 97.1,774.5 97.0,774.0 96.7,773.0 96.5,772.5 96.0,771.8 95.5,771.4 94.9,771.0 94.0,770.6 93.5,770.4 92.5,770.0 92.0,769.8 91.3,769.5 90.5,769.1 90.0,768.7 89.5,768.4 89.0,768.0 88.4,767.5 88.0,767.0 87.5,766.3 87.2,765.5 87.0,764.5 87.0,764.0 86.9,763.0 86.5,762.1 86.2,761.5 86.0,761.0 86.0,760.0 86.2,759.5 86.6,759.0 87.0,758.5 87.5,758.0 88.0,757.3 88.5,756.7 89.0,756.2 89.5,755.7 90.0,755.4 90.6,755.0 91.5,754.7 92.5,754.6 93.5,754.7 94.5,754.7 95.5,754.9 96.0,755.1 96.9,755.5 97.5,755.8 98.0,756.0 99.0,756.4 99.5,756.7 100.0,757.1 100.5,757.6 101.0,758.3 101.4,759.0 101.6,759.5 102.0,760.4 102.4,761.0 102.8,761.5 103.3,762.0 103.7,762.5 104.1,763.0 104.5,763.5 105.0,764.1 105.5,764.6 106.0,765.1 106.5,765.6 107.0,766.3 107.4,767.0 107.7,767.5 108.0,768.0 108.5,768.9 108.8,769.5 109.0,770.1 109.3,771.0 109.5,772.0 109.5,772.5 109.6,773.5 109.6,774.5 109.5,775.0 109.1,776.0 108.8,776.5 108.4,777.0 108.0,777.7 107.7,778.5 108.0,779.5 108.2,780.0 108.5,780.8 108.5,781.5 108.4,782.0 108.0,782.7 107.6,783.5 107.3,784.0 107.0,784.9 106.8,785.5 106.5,786.0 106.0,786.7 105.5,787.2 105.0,787.6Z M105.0,785.2 104.0,785.4 103.3,785.0 102.9,784.5 102.5,783.5 102.4,783.0 102.4,782.0 102.4,781.0 102.5,780.5 102.9,779.5 103.2,779.0 103.2,778.0 102.8,777.5 102.3,777.0 101.7,776.5 101.1,776.0 100.5,775.6 100.0,775.1 99.5,774.6 99.1,774.0 98.9,773.5 98.5,772.8 98.1,772.0 97.7,771.5 97.2,771.0 96.6,770.5 96.0,770.1 95.5,769.8 95.0,769.5 94.0,769.0 93.5,768.8 92.8,768.5 92.0,768.2 91.5,767.9 90.8,767.5 90.1,767.0 89.6,766.5 89.3,766.0 89.0,765.3 88.8,764.5 88.7,763.5 88.6,762.5 88.5,761.7 88.5,761.0 88.6,760.5 89.0,759.5 89.3,759.0 89.6,758.5 90.0,758.0 90.6,757.5 91.3,757.0 92.0,756.7 92.5,756.5 93.5,756.2 94.5,756.1 95.5,756.2 96.4,756.5 97.0,756.8 97.5,757.0 98.5,757.4 99.0,757.7 99.5,758.1 100.0,758.7 100.4,759.5 100.7,760.0 101.0,760.6 101.5,761.5 101.8,762.0 102.2,762.5 102.5,763.0 103.0,764.0 103.2,764.5 103.6,765.0 104.3,765.5 105.0,765.9 105.5,766.2 106.0,766.6 106.5,767.1 107.0,767.8 107.5,768.5 107.8,769.0 108.0,769.5 108.4,770.5 108.6,771.0 108.8,772.0 108.8,773.0 108.7,774.0 108.5,774.9 108.2,775.5 107.8,776.0 107.3,776.5 106.9,777.0 106.4,777.5 105.9,778.0 105.5,778.5 105.5,779.5 105.7,780.0 106.0,780.6 106.4,781.5 106.4,782.5 106.2,783.5 106.0,784.0 105.5,784.8 105.0,785.2Z M105.5,776.6 104.5,776.8 103.6,776.5 103.0,776.1 102.5,775.7 102.0,775.2 101.5,774.7 101.0,774.0 100.7,773.5 100.5,773.0 100.0,772.0 99.7,771.5 99.4,771.0 98.9,770.5 98.4,770.0 97.8,769.5 97.0,769.0 96.5,768.7 96.0,768.5 95.0,768.0 94.5,767.8 93.9,767.5 93.0,767.1 92.5,766.8 91.9,766.5 91.3,766.0 90.9,765.5 90.5,764.7 90.3,764.0 90.1,763.0 90.0,762.0 90.2,761.0 90.5,760.3 91.0,759.7 91.5,759.3 92.0,759.0 92.9,758.5 93.5,758.2 94.0,757.9 95.0,757.7 96.0,757.8 96.7,758.0 97.5,758.3 98.1,758.5 98.8,759.0 99.2,759.5 99.6,760.0 100.0,760.8 100.4,761.5 100.7,762.0 101.0,762.6 101.4,763.5 101.5,764.0 101.7,765.0 102.0,766.0 102.4,766.5 103.0,766.8 104.0,766.9 104.5,767.0 105.5,767.5 106.0,767.9 106.5,768.4 106.9,769.0 107.2,769.5 107.5,770.0 107.8,771.0 108.0,772.0 108.0,772.5 108.0,773.0 107.8,774.0 107.5,774.8 107.0,775.4 106.5,775.9 106.0,776.3 105.5,776.6Z M99.0,767.0 98.0,767.3 97.0,767.3 96.0,767.0 95.5,766.8 94.7,766.5 94.0,766.1 93.5,765.8 93.0,765.5 92.5,765.0 92.0,764.1 91.8,763.5 91.7,762.5 92.0,761.5 92.4,761.0 93.0,760.5 93.5,760.2 94.0,759.8 94.6,759.5 95.5,759.3 96.5,759.3 97.3,759.5 98.0,759.9 98.5,760.4 98.9,761.0 99.2,761.5 99.5,762.1 100.0,763.0 100.1,763.5 100.3,764.5 100.2,765.5 100.0,766.0 99.5,766.7 99.0,767.0Z M105.5,775.1 104.5,775.3 103.6,775.0 103.0,774.5 102.6,774.0 102.2,773.5 102.0,773.0 101.6,772.0 101.6,771.0 101.8,770.0 102.0,769.5 102.5,769.0 103.3,768.5 104.0,768.3 105.0,768.4 105.5,768.7 106.0,769.1 106.5,769.7 106.9,770.5 107.0,771.0 107.1,772.0 107.0,773.0 106.9,773.5 106.5,774.2 106.0,774.8 105.5,775.1Z M97.0,764.7 96.0,764.8 95.3,764.5 94.9,764.0 94.6,763.0 94.9,762.0 95.5,761.5 96.0,761.3 97.0,761.5 97.5,762.0 97.8,762.5 97.8,763.5 97.5,764.3 97.0,764.7Z M105.0,773.0 104.2,773.0 103.5,772.5 103.2,772.0 103.2,771.0 103.5,770.3 104.0,770.0 104.9,770.0 105.5,770.5 105.7,771.0 105.8,772.0 105.5,772.6 105.0,773.0Z" fill="none" stroke="#000" stroke-width="1.0"/>
<rect x="76.2" y="737.1" width="57.2" height="36.5" fill="none" stroke="#000" stroke-width="2" stroke-dasharray="5,3.3"/>
<rect x="86.0" y="809.9" width="49.7" height="27.1" fill="none" stroke="#000" stroke-width="1.8"/>
<text x="142.1" y="762.0" font-size="17" font-family="Liberation Serif" font-weight="normal" text-anchor="start" fill="#000" textLength="28.7" lengthAdjust="spacingAndGlyphs">46.1</text>
<text x="144.7" y="832.0" font-size="17" font-family="Liberation Serif" font-weight="normal" text-anchor="start" fill="#000" textLength="18.5" lengthAdjust="spacingAndGlyphs">5.7</text>
<line x1="29.0" y1="837.0" x2="29.0" y2="840.0" stroke="#000" stroke-width="1.3"/>
<line x1="40.0" y1="837.0" x2="40.0" y2="839.0" stroke="#000" stroke-width="0.9"/>
<line x1="46.4" y1="837.0" x2="46.4" y2="839.0" stroke="#000" stroke-width="0.9"/>
<line x1="51.0" y1="837.0" x2="51.0" y2="839.0" stroke="#000" stroke-width="0.9"/>
<line x1="54.5" y1="837.0" x2="54.5" y2="839.0" stroke="#000" stroke-width="0.9"/>
<line x1="57.4" y1="837.0" x2="57.4" y2="839.0" stroke="#000" stroke-width="0.9"/>
<line x1="59.8" y1="837.0" x2="59.8" y2="839.0" stroke="#000" stroke-width="0.9"/>
<line x1="62.0" y1="837.0" x2="62.0" y2="839.0" stroke="#000" stroke-width="0.9"/>
<line x1="63.8" y1="837.0" x2="63.8" y2="839.0" stroke="#000" stroke-width="0.9"/>
<text x="30.0" y="853.4" font-size="8.5" font-family="Liberation Serif" text-anchor="middle">10</text>
<text x="34.5" y="849.6" font-size="5.1" font-family="Liberation Serif">0</text>
<line x1="65.5" y1="837.0" x2="65.5" y2="840.0" stroke="#000" stroke-width="1.3"/>
<line x1="76.5" y1="837.0" x2="76.5" y2="839.0" stroke="#000" stroke-width="0.9"/>
<line x1="82.9" y1="837.0" x2="82.9" y2="839.0" stroke="#000" stroke-width="0.9"/>
<line x1="87.5" y1="837.0" x2="87.5" y2="839.0" stroke="#000" stroke-width="0.9"/>
<line x1="91.0" y1="837.0" x2="91.0" y2="839.0" stroke="#000" stroke-width="0.9"/>
<line x1="93.9" y1="837.0" x2="93.9" y2="839.0" stroke="#000" stroke-width="0.9"/>
<line x1="96.3" y1="837.0" x2="96.3" y2="839.0" stroke="#000" stroke-width="0.9"/>
<line x1="98.5" y1="837.0" x2="98.5" y2="839.0" stroke="#000" stroke-width="0.9"/>
<line x1="100.3" y1="837.0" x2="100.3" y2="839.0" stroke="#000" stroke-width="0.9"/>
<text x="66.5" y="853.4" font-size="8.5" font-family="Liberation Serif" text-anchor="middle">10</text>
<text x="71.0" y="849.6" font-size="5.1" font-family="Liberation Serif">1</text>
<line x1="102.0" y1="837.0" x2="102.0" y2="840.0" stroke="#000" stroke-width="1.3"/>
<line x1="113.0" y1="837.0" x2="113.0" y2="839.0" stroke="#000" stroke-width="0.9"/>
<line x1="119.4" y1="837.0" x2="119.4" y2="839.0" stroke="#000" stroke-width="0.9"/>
<line x1="124.0" y1="837.0" x2="124.0" y2="839.0" stroke="#000" stroke-width="0.9"/>
<line x1="127.5" y1="837.0" x2="127.5" y2="839.0" stroke="#000" stroke-width="0.9"/>
<line x1="130.4" y1="837.0" x2="130.4" y2="839.0" stroke="#000" stroke-width="0.9"/>
<line x1="132.8" y1="837.0" x2="132.8" y2="839.0" stroke="#000" stroke-width="0.9"/>
<line x1="135.0" y1="837.0" x2="135.0" y2="839.0" stroke="#000" stroke-width="0.9"/>
<line x1="136.8" y1="837.0" x2="136.8" y2="839.0" stroke="#000" stroke-width="0.9"/>
<text x="103.0" y="853.4" font-size="8.5" font-family="Liberation Serif" text-anchor="middle">10</text>
<text x="107.5" y="849.6" font-size="5.1" font-family="Liberation Serif">2</text>
<line x1="138.5" y1="837.0" x2="138.5" y2="840.0" stroke="#000" stroke-width="1.3"/>
<line x1="149.5" y1="837.0" x2="149.5" y2="839.0" stroke="#000" stroke-width="0.9"/>
<line x1="155.9" y1="837.0" x2="155.9" y2="839.0" stroke="#000" stroke-width="0.9"/>
<line x1="160.5" y1="837.0" x2="160.5" y2="839.0" stroke="#000" stroke-width="0.9"/>
<line x1="164.0" y1="837.0" x2="164.0" y2="839.0" stroke="#000" stroke-width="0.9"/>
<line x1="166.9" y1="837.0" x2="166.9" y2="839.0" stroke="#000" stroke-width="0.9"/>
<line x1="169.3" y1="837.0" x2="169.3" y2="839.0" stroke="#000" stroke-width="0.9"/>
<line x1="171.5" y1="837.0" x2="171.5" y2="839.0" stroke="#000" stroke-width="0.9"/>
<line x1="173.3" y1="837.0" x2="173.3" y2="839.0" stroke="#000" stroke-width="0.9"/>
<text x="139.5" y="853.4" font-size="8.5" font-family="Liberation Serif" text-anchor="middle">10</text>
<text x="143.9" y="849.6" font-size="5.1" font-family="Liberation Serif">3</text>
<line x1="175.0" y1="837.0" x2="175.0" y2="840.0" stroke="#000" stroke-width="1.3"/>
<text x="176.0" y="853.4" font-size="8.5" font-family="Liberation Serif" text-anchor="middle">10</text>
<text x="180.4" y="849.6" font-size="5.1" font-family="Liberation Serif">4</text>
<line x1="26.0" y1="837.0" x2="29.0" y2="837.0" stroke="#000" stroke-width="1.3"/>
<line x1="26.5" y1="812.5" x2="29.0" y2="812.5" stroke="#000" stroke-width="1.3"/>
<text x="18.4" y="842.6" font-size="8.5" font-family="Liberation Serif" text-anchor="middle">10</text>
<text x="22.8" y="838.8" font-size="5.1" font-family="Liberation Serif">0</text>
<line x1="26.0" y1="802.0" x2="29.0" y2="802.0" stroke="#000" stroke-width="1.3"/>
<line x1="26.5" y1="777.5" x2="29.0" y2="777.5" stroke="#000" stroke-width="1.3"/>
<text x="18.4" y="807.6" font-size="8.5" font-family="Liberation Serif" text-anchor="middle">10</text>
<text x="22.8" y="803.8" font-size="5.1" font-family="Liberation Serif">1</text>
<line x1="26.0" y1="767.0" x2="29.0" y2="767.0" stroke="#000" stroke-width="1.3"/>
<line x1="26.5" y1="742.5" x2="29.0" y2="742.5" stroke="#000" stroke-width="1.3"/>
<text x="18.4" y="772.6" font-size="8.5" font-family="Liberation Serif" text-anchor="middle">10</text>
<text x="22.8" y="768.8" font-size="5.1" font-family="Liberation Serif">2</text>
<line x1="26.0" y1="732.0" x2="29.0" y2="732.0" stroke="#000" stroke-width="1.3"/>
<line x1="26.5" y1="707.5" x2="29.0" y2="707.5" stroke="#000" stroke-width="1.3"/>
<text x="18.4" y="737.6" font-size="8.5" font-family="Liberation Serif" text-anchor="middle">10</text>
<text x="22.8" y="733.8" font-size="5.1" font-family="Liberation Serif">3</text>
<line x1="26.0" y1="697.0" x2="29.0" y2="697.0" stroke="#000" stroke-width="1.3"/>
<text x="18.4" y="702.6" font-size="8.5" font-family="Liberation Serif" text-anchor="middle">10</text>
<text x="22.8" y="698.8" font-size="5.1" font-family="Liberation Serif">4</text>
<rect x="29.0" y="697.0" width="146.0" height="140.0" fill="none" stroke="#000" stroke-width="2"/>
<g fill="#777"><rect x="72.2" y="1006.4" width="1.15" height="1.15"/><rect x="83.1" y="1006.7" width="1.15" height="1.15"/><rect x="68.6" y="983.2" width="1.15" height="1.15"/><rect x="118.7" y="967.3" width="1.15" height="1.15"/><rect x="81.7" y="932.5" width="1.15" height="1.15"/><rect x="111.0" y="973.7" width="1.15" height="1.15"/><rect x="64.7" y="976.2" width="1.15" height="1.15"/><rect x="78.3" y="931.7" width="1.15" height="1.15"/><rect x="72.9" y="932.1" width="1.15" height="1.15"/><rect x="105.9" y="1015.1" width="1.15" height="1.15"/><rect x="69.4" y="994.2" width="1.15" height="1.15"/><rect x="60.3" y="963.3" width="1.15" height="1.15"/><rect x="73.7" y="977.7" width="1.15" height="1.15"/><rect x="102.1" y="1013.5" width="1.15" height="1.15"/><rect x="68.3" y="1010.3" width="1.15" height="1.15"/><rect x="121.9" y="1008.1" width="1.15" height="1.15"/><rect x="61.5" y="975.2" width="1.15" height="1.15"/><rect x="67.3" y="981.2" width="1.15" height="1.15"/><rect x="66.3" y="996.8" width="1.15" height="1.15"/><rect x="65.3" y="933.3" width="1.15" height="1.15"/><rect x="61.9" y="986.1" width="1.15" height="1.15"/><rect x="71.7" y="965.7" width="1.15" height="1.15"/><rect x="98.3" y="1009.7" width="1.15" height="1.15"/><rect x="96.4" y="933.3" width="1.15" height="1.15"/><rect x="77.6" y="996.6" width="1.15" height="1.15"/><rect x="64.9" y="1009.3" width="1.15" height="1.15"/><rect x="69.7" y="962.1" width="1.15" height="1.15"/><rect x="106.7" y="1009.8" width="1.15" height="1.15"/><rect x="76.6" y="1009.2" width="1.15" height="1.15"/><rect x="100.7" y="926.3" width="1.15" height="1.15"/><rect x="68.7" y="999.5" width="1.15" height="1.15"/><rect x="72.1" y="907.1" width="1.15" height="1.15"/><rect x="75.6" y="981.9" width="1.15" height="1.15"/><rect x="110.1" y="977.2" width="1.15" height="1.15"/><rect x="64.4" y="959.2" width="1.15" height="1.15"/><rect x="110.3" y="970.2" width="1.15" height="1.15"/><rect x="77.1" y="1006.7" width="1.15" height="1.15"/><rect x="72.1" y="969.5" width="1.15" height="1.15"/><rect x="62.7" y="951.1" width="1.15" height="1.15"/><rect x="74.5" y="998.5" width="1.15" height="1.15"/><rect x="69.5" y="978.4" width="1.15" height="1.15"/><rect x="83.1" y="1005.9" width="1.15" height="1.15"/><rect x="65.1" y="963.0" width="1.15" height="1.15"/><rect x="63.1" y="970.1" width="1.15" height="1.15"/><rect x="85.7" y="1006.2" width="1.15" height="1.15"/><rect x="65.7" y="982.4" width="1.15" height="1.15"/><rect x="63.1" y="982.7" width="1.15" height="1.15"/><rect x="67.0" y="962.8" width="1.15" height="1.15"/><rect x="65.6" y="925.7" width="1.15" height="1.15"/><rect x="107.4" y="1011.3" width="1.15" height="1.15"/><rect x="103.7" y="936.0" width="1.15" height="1.15"/><rect x="65.7" y="1008.3" width="1.15" height="1.15"/><rect x="107.3" y="973.0" width="1.15" height="1.15"/><rect x="90.0" y="1012.5" width="1.15" height="1.15"/><rect x="119.4" y="974.9" width="1.15" height="1.15"/><rect x="76.5" y="1012.0" width="1.15" height="1.15"/><rect x="64.5" y="986.1" width="1.15" height="1.15"/><rect x="63.8" y="963.6" width="1.15" height="1.15"/><rect x="62.5" y="1002.8" width="1.15" height="1.15"/><rect x="78.3" y="996.3" width="1.15" height="1.15"/><rect x="78.5" y="997.0" width="1.15" height="1.15"/><rect x="69.7" y="979.6" width="1.15" height="1.15"/><rect x="68.2" y="961.4" width="1.15" height="1.15"/><rect x="65.5" y="993.1" width="1.15" height="1.15"/><rect x="70.3" y="940.7" width="1.15" height="1.15"/><rect x="69.3" y="997.8" width="1.15" height="1.15"/><rect x="64.4" y="992.7" width="1.15" height="1.15"/><rect x="115.0" y="973.2" width="1.15" height="1.15"/><rect x="81.8" y="1006.0" width="1.15" height="1.15"/><rect x="111.2" y="957.9" width="1.15" height="1.15"/><rect x="108.3" y="974.6" width="1.15" height="1.15"/><rect x="79.3" y="1005.9" width="1.15" height="1.15"/><rect x="70.5" y="974.2" width="1.15" height="1.15"/><rect x="70.4" y="999.8" width="1.15" height="1.15"/><rect x="62.0" y="990.4" width="1.15" height="1.15"/><rect x="93.0" y="1011.8" width="1.15" height="1.15"/><rect x="105.5" y="1014.6" width="1.15" height="1.15"/><rect x="66.9" y="1001.3" width="1.15" height="1.15"/><rect x="85.9" y="1006.7" width="1.15" height="1.15"/><rect x="68.9" y="951.4" width="1.15" height="1.15"/><rect x="69.1" y="1000.0" width="1.15" height="1.15"/><rect x="79.3" y="1008.7" width="1.15" height="1.15"/><rect x="65.9" y="975.4" width="1.15" height="1.15"/><rect x="76.6" y="985.7" width="1.15" height="1.15"/><rect x="70.8" y="980.7" width="1.15" height="1.15"/><rect x="77.4" y="1012.8" width="1.15" height="1.15"/><rect x="73.9" y="969.7" width="1.15" height="1.15"/><rect x="68.4" y="975.3" width="1.15" height="1.15"/><rect x="62.1" y="905.7" width="1.15" height="1.15"/><rect x="74.9" y="976.5" width="1.15" height="1.15"/><rect x="69.9" y="992.3" width="1.15" height="1.15"/><rect x="67.7" y="1012.0" width="1.15" height="1.15"/><rect x="71.8" y="1011.3" width="1.15" height="1.15"/><rect x="65.5" y="970.5" width="1.15" height="1.15"/><rect x="91.2" y="1014.6" width="1.15" height="1.15"/><rect x="62.0" y="957.8" width="1.15" height="1.15"/><rect x="64.3" y="1007.7" width="1.15" height="1.15"/><rect x="66.0" y="952.7" width="1.15" height="1.15"/><rect x="75.4" y="975.3" width="1.15" height="1.15"/><rect x="110.2" y="934.7" width="1.15" height="1.15"/><rect x="74.8" y="1008.9" width="1.15" height="1.15"/><rect x="87.1" y="1007.4" width="1.15" height="1.15"/><rect x="59.2" y="948.8" width="1.15" height="1.15"/><rect x="115.5" y="983.7" width="1.15" height="1.15"/><rect x="68.3" y="965.1" width="1.15" height="1.15"/><rect x="63.6" y="981.4" width="1.15" height="1.15"/><rect x="64.8" y="940.7" width="1.15" height="1.15"/><rect x="93.2" y="1009.1" width="1.15" height="1.15"/><rect x="110.4" y="966.2" width="1.15" height="1.15"/><rect x="65.8" y="978.5" width="1.15" height="1.15"/><rect x="72.9" y="932.8" width="1.15" height="1.15"/><rect x="66.4" y="913.2" width="1.15" height="1.15"/><rect x="63.1" y="958.5" width="1.15" height="1.15"/><rect x="65.4" y="971.8" width="1.15" height="1.15"/><rect x="89.5" y="1011.6" width="1.15" height="1.15"/><rect x="89.2" y="1010.0" width="1.15" height="1.15"/><rect x="73.6" y="980.5" width="1.15" height="1.15"/><rect x="66.2" y="979.2" width="1.15" height="1.15"/><rect x="67.5" y="995.7" width="1.15" height="1.15"/><rect x="77.3" y="1008.9" width="1.15" height="1.15"/><rect x="72.1" y="970.8" width="1.15" height="1.15"/><rect x="113.8" y="1005.2" width="1.15" height="1.15"/><rect x="113.8" y="974.9" width="1.15" height="1.15"/><rect x="54.7" y="988.9" width="1.15" height="1.15"/><rect x="75.2" y="1002.0" width="1.15" height="1.15"/><rect x="70.0" y="982.0" width="1.15" height="1.15"/><rect x="60.8" y="998.2" width="1.15" height="1.15"/><rect x="69.4" y="998.3" width="1.15" height="1.15"/><rect x="69.3" y="918.3" width="1.15" height="1.15"/><rect x="91.8" y="930.6" width="1.15" height="1.15"/><rect x="69.8" y="960.2" width="1.15" height="1.15"/><rect x="64.1" y="959.3" width="1.15" height="1.15"/><rect x="74.8" y="932.1" width="1.15" height="1.15"/><rect x="68.3" y="961.0" width="1.15" height="1.15"/><rect x="64.0" y="989.2" width="1.15" height="1.15"/><rect x="77.0" y="1009.8" width="1.15" height="1.15"/><rect x="67.0" y="971.8" width="1.15" height="1.15"/><rect x="71.9" y="973.2" width="1.15" height="1.15"/><rect x="66.9" y="976.7" width="1.15" height="1.15"/><rect x="114.1" y="996.3" width="1.15" height="1.15"/><rect x="117.0" y="1005.0" width="1.15" height="1.15"/><rect x="110.0" y="973.3" width="1.15" height="1.15"/><rect x="64.9" y="999.6" width="1.15" height="1.15"/><rect x="69.1" y="1007.4" width="1.15" height="1.15"/><rect x="66.0" y="962.5" width="1.15" height="1.15"/><rect x="71.0" y="1009.5" width="1.15" height="1.15"/><rect x="113.2" y="981.7" width="1.15" height="1.15"/><rect x="74.6" y="1000.7" width="1.15" height="1.15"/><rect x="62.3" y="984.8" width="1.15" height="1.15"/><rect x="71.6" y="969.5" width="1.15" height="1.15"/><rect x="70.7" y="981.5" width="1.15" height="1.15"/><rect x="88.7" y="932.2" width="1.15" height="1.15"/><rect x="94.8" y="930.7" width="1.15" height="1.15"/><rect x="68.9" y="983.8" width="1.15" height="1.15"/><rect x="65.1" y="980.6" width="1.15" height="1.15"/><rect x="117.9" y="1007.3" width="1.15" height="1.15"/><rect x="93.5" y="926.8" width="1.15" height="1.15"/><rect x="67.2" y="986.0" width="1.15" height="1.15"/><rect x="115.3" y="981.2" width="1.15" height="1.15"/><rect x="74.4" y="989.0" width="1.15" height="1.15"/><rect x="67.1" y="1001.4" width="1.15" height="1.15"/><rect x="74.3" y="983.5" width="1.15" height="1.15"/><rect x="65.6" y="986.7" width="1.15" height="1.15"/><rect x="72.3" y="990.4" width="1.15" height="1.15"/><rect x="70.6" y="963.8" width="1.15" height="1.15"/><rect x="73.7" y="985.7" width="1.15" height="1.15"/><rect x="68.9" y="996.2" width="1.15" height="1.15"/><rect x="61.7" y="958.1" width="1.15" height="1.15"/><rect x="97.8" y="1014.3" width="1.15" height="1.15"/><rect x="87.0" y="1002.3" width="1.15" height="1.15"/><rect x="106.8" y="1012.4" width="1.15" height="1.15"/><rect x="65.9" y="967.8" width="1.15" height="1.15"/><rect x="76.5" y="978.2" width="1.15" height="1.15"/><rect x="117.5" y="964.8" width="1.15" height="1.15"/><rect x="91.8" y="931.7" width="1.15" height="1.15"/><rect x="87.4" y="925.7" width="1.15" height="1.15"/><rect x="67.2" y="964.3" width="1.15" height="1.15"/><rect x="86.1" y="1008.7" width="1.15" height="1.15"/><rect x="69.3" y="953.6" width="1.15" height="1.15"/><rect x="83.1" y="997.2" width="1.15" height="1.15"/><rect x="110.8" y="963.8" width="1.15" height="1.15"/><rect x="69.3" y="934.1" width="1.15" height="1.15"/><rect x="67.0" y="958.2" width="1.15" height="1.15"/><rect x="71.7" y="996.3" width="1.15" height="1.15"/><rect x="70.3" y="982.3" width="1.15" height="1.15"/><rect x="63.3" y="985.7" width="1.15" height="1.15"/><rect x="56.2" y="979.0" width="1.15" height="1.15"/><rect x="63.4" y="966.5" width="1.15" height="1.15"/><rect x="74.3" y="981.2" width="1.15" height="1.15"/><rect x="59.3" y="1011.4" width="1.15" height="1.15"/><rect x="70.3" y="959.2" width="1.15" height="1.15"/><rect x="81.9" y="1001.4" width="1.15" height="1.15"/><rect x="63.9" y="964.5" width="1.15" height="1.15"/><rect x="70.0" y="958.1" width="1.15" height="1.15"/><rect x="73.4" y="970.1" width="1.15" height="1.15"/><rect x="67.1" y="937.5" width="1.15" height="1.15"/><rect x="70.3" y="1012.2" width="1.15" height="1.15"/><rect x="69.5" y="973.0" width="1.15" height="1.15"/><rect x="69.0" y="955.7" width="1.15" height="1.15"/><rect x="66.6" y="877.8" width="1.15" height="1.15"/><rect x="54.8" y="933.4" width="1.15" height="1.15"/><rect x="112.5" y="960.4" width="1.15" height="1.15"/><rect x="69.2" y="976.2" width="1.15" height="1.15"/><rect x="66.3" y="989.7" width="1.15" height="1.15"/><rect x="92.8" y="1014.3" width="1.15" height="1.15"/><rect x="91.0" y="1010.2" width="1.15" height="1.15"/><rect x="69.6" y="963.6" width="1.15" height="1.15"/><rect x="111.4" y="990.1" width="1.15" height="1.15"/><rect x="109.8" y="1010.7" width="1.15" height="1.15"/><rect x="117.4" y="938.9" width="1.15" height="1.15"/><rect x="104.7" y="1008.5" width="1.15" height="1.15"/><rect x="72.0" y="975.1" width="1.15" height="1.15"/><rect x="82.1" y="1004.7" width="1.15" height="1.15"/><rect x="70.7" y="969.7" width="1.15" height="1.15"/><rect x="69.5" y="991.2" width="1.15" height="1.15"/><rect x="66.5" y="939.8" width="1.15" height="1.15"/><rect x="85.2" y="1003.7" width="1.15" height="1.15"/><rect x="59.3" y="1007.3" width="1.15" height="1.15"/><rect x="114.1" y="980.6" width="1.15" height="1.15"/><rect x="70.6" y="974.4" width="1.15" height="1.15"/><rect x="75.7" y="1012.2" width="1.15" height="1.15"/><rect x="73.4" y="973.8" width="1.15" height="1.15"/><rect x="70.8" y="976.3" width="1.15" height="1.15"/><rect x="71.6" y="973.4" width="1.15" height="1.15"/><rect x="113.1" y="972.2" width="1.15" height="1.15"/><rect x="98.9" y="933.2" width="1.15" height="1.15"/><rect x="71.6" y="966.5" width="1.15" height="1.15"/><rect x="60.7" y="962.3" width="1.15" height="1.15"/><rect x="78.8" y="933.3" width="1.15" height="1.15"/><rect x="58.8" y="984.8" width="1.15" height="1.15"/><rect x="72.6" y="977.9" width="1.15" height="1.15"/><rect x="68.7" y="928.3" width="1.15" height="1.15"/><rect x="114.5" y="952.2" width="1.15" height="1.15"/><rect x="97.4" y="1011.1" width="1.15" height="1.15"/><rect x="61.6" y="947.7" width="1.15" height="1.15"/><rect x="70.7" y="973.7" width="1.15" height="1.15"/><rect x="88.8" y="1012.2" width="1.15" height="1.15"/><rect x="70.8" y="942.1" width="1.15" height="1.15"/><rect x="68.3" y="976.1" width="1.15" height="1.15"/><rect x="89.6" y="1005.9" width="1.15" height="1.15"/><rect x="70.8" y="926.8" width="1.15" height="1.15"/><rect x="88.7" y="934.0" width="1.15" height="1.15"/><rect x="95.0" y="1011.7" width="1.15" height="1.15"/><rect x="113.0" y="965.2" width="1.15" height="1.15"/><rect x="72.8" y="980.4" width="1.15" height="1.15"/><rect x="72.7" y="963.8" width="1.15" height="1.15"/><rect x="96.2" y="1010.1" width="1.15" height="1.15"/><rect x="85.9" y="1012.6" width="1.15" height="1.15"/><rect x="77.4" y="934.4" width="1.15" height="1.15"/><rect x="72.6" y="983.5" width="1.15" height="1.15"/><rect x="60.8" y="956.9" width="1.15" height="1.15"/><rect x="73.5" y="975.4" width="1.15" height="1.15"/><rect x="59.4" y="1002.4" width="1.15" height="1.15"/><rect x="71.2" y="999.7" width="1.15" height="1.15"/><rect x="69.6" y="957.4" width="1.15" height="1.15"/><rect x="112.2" y="970.3" width="1.15" height="1.15"/><rect x="68.8" y="977.2" width="1.15" height="1.15"/><rect x="66.6" y="974.6" width="1.15" height="1.15"/><rect x="69.1" y="997.1" width="1.15" height="1.15"/><rect x="75.9" y="1005.6" width="1.15" height="1.15"/><rect x="67.3" y="970.9" width="1.15" height="1.15"/><rect x="69.9" y="977.9" width="1.15" height="1.15"/><rect x="83.7" y="933.7" width="1.15" height="1.15"/><rect x="73.0" y="973.1" width="1.15" height="1.15"/><rect x="72.0" y="1012.5" width="1.15" height="1.15"/><rect x="71.8" y="981.9" width="1.15" height="1.15"/><rect x="68.1" y="986.2" width="1.15" height="1.15"/><rect x="117.9" y="989.6" width="1.15" height="1.15"/><rect x="80.2" y="986.3" width="1.15" height="1.15"/><rect x="69.0" y="1006.7" width="1.15" height="1.15"/><rect x="71.7" y="964.9" width="1.15" height="1.15"/><rect x="72.3" y="969.7" width="1.15" height="1.15"/><rect x="80.1" y="1010.1" width="1.15" height="1.15"/><rect x="66.3" y="982.3" width="1.15" height="1.15"/><rect x="84.2" y="1013.1" width="1.15" height="1.15"/><rect x="67.4" y="948.4" width="1.15" height="1.15"/><rect x="87.1" y="1005.0" width="1.15" height="1.15"/><rect x="73.2" y="980.2" width="1.15" height="1.15"/><rect x="76.5" y="979.9" width="1.15" height="1.15"/><rect x="103.2" y="1009.2" width="1.15" height="1.15"/><rect x="68.6" y="946.3" width="1.15" height="1.15"/><rect x="65.9" y="983.2" width="1.15" height="1.15"/><rect x="112.0" y="964.3" width="1.15" height="1.15"/><rect x="68.7" y="971.7" width="1.15" height="1.15"/><rect x="82.7" y="1007.0" width="1.15" height="1.15"/><rect x="109.1" y="975.0" width="1.15" height="1.15"/><rect x="108.5" y="1004.9" width="1.15" height="1.15"/><rect x="66.7" y="924.9" width="1.15" height="1.15"/><rect x="107.8" y="1015.0" width="1.15" height="1.15"/><rect x="106.7" y="1012.7" width="1.15" height="1.15"/><rect x="74.1" y="996.3" width="1.15" height="1.15"/><rect x="68.3" y="958.7" width="1.15" height="1.15"/><rect x="67.2" y="994.8" width="1.15" height="1.15"/><rect x="110.9" y="957.3" width="1.15" height="1.15"/><rect x="85.3" y="930.1" width="1.15" height="1.15"/><rect x="71.0" y="934.3" width="1.15" height="1.15"/><rect x="67.8" y="952.3" width="1.15" height="1.15"/><rect x="66.7" y="956.6" width="1.15" height="1.15"/><rect x="84.5" y="1008.2" width="1.15" height="1.15"/><rect x="111.7" y="963.3" width="1.15" height="1.15"/><rect x="75.7" y="1007.4" width="1.15" height="1.15"/><rect x="73.7" y="919.1" width="1.15" height="1.15"/><rect x="78.2" y="932.8" width="1.15" height="1.15"/><rect x="66.8" y="933.3" width="1.15" height="1.15"/><rect x="100.5" y="1011.6" width="1.15" height="1.15"/><rect x="82.3" y="1006.8" width="1.15" height="1.15"/><rect x="106.1" y="925.3" width="1.15" height="1.15"/><rect x="99.9" y="1011.7" width="1.15" height="1.15"/><rect x="67.4" y="962.2" width="1.15" height="1.15"/><rect x="69.7" y="965.5" width="1.15" height="1.15"/><rect x="70.9" y="988.2" width="1.15" height="1.15"/><rect x="68.9" y="959.8" width="1.15" height="1.15"/><rect x="106.8" y="1013.5" width="1.15" height="1.15"/><rect x="69.5" y="986.9" width="1.15" height="1.15"/><rect x="73.8" y="986.9" width="1.15" height="1.15"/><rect x="66.8" y="966.9" width="1.15" height="1.15"/><rect x="118.7" y="1001.6" width="1.15" height="1.15"/><rect x="111.9" y="1014.8" width="1.15" height="1.15"/><rect x="66.9" y="988.8" width="1.15" height="1.15"/><rect x="76.0" y="935.7" width="1.15" height="1.15"/><rect x="83.4" y="1006.3" width="1.15" height="1.15"/><rect x="66.2" y="995.2" width="1.15" height="1.15"/><rect x="109.9" y="980.7" width="1.15" height="1.15"/><rect x="77.4" y="994.2" width="1.15" height="1.15"/><rect x="115.8" y="964.8" width="1.15" height="1.15"/><rect x="73.9" y="968.5" width="1.15" height="1.15"/><rect x="94.7" y="934.0" width="1.15" height="1.15"/><rect x="59.7" y="988.3" width="1.15" height="1.15"/><rect x="68.2" y="956.7" width="1.15" height="1.15"/><rect x="71.1" y="964.4" width="1.15" height="1.15"/><rect x="79.7" y="1010.2" width="1.15" height="1.15"/><rect x="57.4" y="988.5" width="1.15" height="1.15"/><rect x="110.3" y="963.5" width="1.15" height="1.15"/><rect x="77.4" y="998.7" width="1.15" height="1.15"/><rect x="91.0" y="1015.2" width="1.15" height="1.15"/><rect x="67.3" y="1010.2" width="1.15" height="1.15"/><rect x="113.4" y="970.5" width="1.15" height="1.15"/><rect x="66.9" y="987.7" width="1.15" height="1.15"/><rect x="72.3" y="987.8" width="1.15" height="1.15"/><rect x="91.3" y="936.5" width="1.15" height="1.15"/><rect x="71.6" y="998.1" width="1.15" height="1.15"/><rect x="63.7" y="983.3" width="1.15" height="1.15"/><rect x="67.1" y="983.4" width="1.15" height="1.15"/><rect x="73.8" y="1001.9" width="1.15" height="1.15"/><rect x="98.7" y="934.9" width="1.15" height="1.15"/><rect x="66.8" y="960.4" width="1.15" height="1.15"/><rect x="85.8" y="1014.6" width="1.15" height="1.15"/><rect x="63.6" y="968.4" width="1.15" height="1.15"/><rect x="113.0" y="964.5" width="1.15" height="1.15"/><rect x="85.1" y="934.5" width="1.15" height="1.15"/><rect x="60.4" y="969.7" width="1.15" height="1.15"/><rect x="80.2" y="986.0" width="1.15" height="1.15"/><rect x="92.7" y="930.7" width="1.15" height="1.15"/><rect x="69.7" y="967.6" width="1.15" height="1.15"/><rect x="62.4" y="964.9" width="1.15" height="1.15"/><rect x="63.2" y="952.1" width="1.15" height="1.15"/><rect x="88.1" y="1005.7" width="1.15" height="1.15"/><rect x="93.1" y="1012.9" width="1.15" height="1.15"/><rect x="88.7" y="1011.2" width="1.15" height="1.15"/><rect x="69.6" y="978.0" width="1.15" height="1.15"/><rect x="74.9" y="933.8" width="1.15" height="1.15"/><rect x="66.1" y="971.9" width="1.15" height="1.15"/><rect x="73.4" y="983.7" width="1.15" height="1.15"/><rect x="69.9" y="974.0" width="1.15" height="1.15"/><rect x="74.0" y="1001.7" width="1.15" height="1.15"/><rect x="72.2" y="1002.5" width="1.15" height="1.15"/><rect x="118.1" y="1010.1" width="1.15" height="1.15"/><rect x="62.9" y="980.0" width="1.15" height="1.15"/><rect x="109.7" y="962.7" width="1.15" height="1.15"/><rect x="71.2" y="1010.9" width="1.15" height="1.15"/><rect x="68.4" y="1009.8" width="1.15" height="1.15"/><rect x="69.2" y="945.4" width="1.15" height="1.15"/><rect x="63.1" y="960.3" width="1.15" height="1.15"/><rect x="109.4" y="994.6" width="1.15" height="1.15"/><rect x="91.5" y="1006.9" width="1.15" height="1.15"/><rect x="85.7" y="1013.2" width="1.15" height="1.15"/><rect x="73.3" y="927.8" width="1.15" height="1.15"/><rect x="68.2" y="957.4" width="1.15" height="1.15"/><rect x="62.1" y="976.9" width="1.15" height="1.15"/><rect x="68.8" y="985.6" width="1.15" height="1.15"/><rect x="68.4" y="1005.2" width="1.15" height="1.15"/><rect x="66.4" y="986.3" width="1.15" height="1.15"/><rect x="79.4" y="982.9" width="1.15" height="1.15"/><rect x="119.0" y="963.3" width="1.15" height="1.15"/><rect x="112.3" y="993.5" width="1.15" height="1.15"/><rect x="64.5" y="988.0" width="1.15" height="1.15"/><rect x="127.1" y="1012.1" width="1.15" height="1.15"/><rect x="69.0" y="945.0" width="1.15" height="1.15"/><rect x="109.7" y="972.1" width="1.15" height="1.15"/><rect x="115.1" y="969.8" width="1.15" height="1.15"/><rect x="119.0" y="978.7" width="1.15" height="1.15"/><rect x="65.5" y="955.0" width="1.15" height="1.15"/><rect x="65.6" y="999.3" width="1.15" height="1.15"/><rect x="118.4" y="1006.8" width="1.15" height="1.15"/><rect x="81.2" y="919.2" width="1.15" height="1.15"/><rect x="65.2" y="1010.9" width="1.15" height="1.15"/><rect x="72.2" y="936.8" width="1.15" height="1.15"/><rect x="62.8" y="968.8" width="1.15" height="1.15"/><rect x="69.5" y="980.9" width="1.15" height="1.15"/><rect x="65.3" y="977.2" width="1.15" height="1.15"/><rect x="59.8" y="961.3" width="1.15" height="1.15"/><rect x="65.3" y="1001.5" width="1.15" height="1.15"/><rect x="86.8" y="1007.8" width="1.15" height="1.15"/><rect x="69.9" y="962.0" width="1.15" height="1.15"/><rect x="61.9" y="954.1" width="1.15" height="1.15"/><rect x="109.0" y="983.1" width="1.15" height="1.15"/><rect x="53.8" y="951.2" width="1.15" height="1.15"/><rect x="90.8" y="1012.1" width="1.15" height="1.15"/><rect x="90.2" y="1008.3" width="1.15" height="1.15"/><rect x="73.7" y="1007.8" width="1.15" height="1.15"/><rect x="74.3" y="976.0" width="1.15" height="1.15"/><rect x="68.3" y="1005.8" width="1.15" height="1.15"/><rect x="116.7" y="974.6" width="1.15" height="1.15"/><rect x="107.8" y="978.7" width="1.15" height="1.15"/><rect x="71.3" y="939.3" width="1.15" height="1.15"/><rect x="96.8" y="930.3" width="1.15" height="1.15"/><rect x="66.7" y="996.0" width="1.15" height="1.15"/><rect x="65.6" y="957.3" width="1.15" height="1.15"/><rect x="68.3" y="1013.0" width="1.15" height="1.15"/><rect x="114.9" y="986.6" width="1.15" height="1.15"/></g>
<path d="M103.5,1008.1 102.5,1008.2 101.5,1008.3 100.5,1008.3 99.5,1008.4 98.5,1008.4 97.5,1008.2 96.5,1008.0 96.0,1007.8 95.3,1007.5 94.5,1007.1 94.0,1006.8 93.3,1006.5 92.5,1006.0 92.0,1005.7 91.5,1005.4 91.0,1004.9 90.5,1004.4 90.0,1003.8 89.5,1003.2 89.0,1002.6 88.6,1002.0 88.2,1001.5 87.9,1001.0 87.5,1000.4 87.0,999.6 86.7,999.0 86.5,998.5 86.0,997.5 85.8,997.0 85.5,996.4 85.1,995.5 84.9,995.0 84.5,994.1 84.3,993.5 84.0,992.9 83.6,992.0 83.4,991.5 83.0,990.6 82.8,990.0 82.5,989.2 82.2,988.5 82.0,987.9 81.7,987.0 81.5,986.5 81.1,985.5 80.9,985.0 80.5,984.0 80.3,983.5 80.0,982.6 79.8,982.0 79.5,981.2 79.2,980.5 79.0,979.8 78.7,979.0 78.5,978.4 78.2,977.5 78.0,976.9 77.7,976.0 77.5,975.5 77.1,974.5 76.9,974.0 76.6,973.0 76.4,972.5 76.0,971.5 75.9,971.0 75.5,970.0 75.3,969.5 75.0,968.9 74.7,968.0 74.5,967.5 74.2,966.5 74.0,965.7 73.8,965.0 73.5,964.3 73.2,963.5 73.0,963.0 72.6,962.0 72.4,961.5 72.1,960.5 71.9,960.0 71.5,959.0 71.4,958.5 71.1,957.5 71.0,956.5 71.0,956.0 70.8,955.0 70.6,954.0 70.5,953.5 70.3,952.5 70.1,951.5 70.0,951.0 69.9,950.0 70.0,949.0 70.1,948.5 70.4,947.5 70.5,947.0 70.9,946.0 71.0,945.5 71.3,944.5 71.6,944.0 72.0,943.3 72.5,942.7 73.0,942.2 73.5,941.6 74.0,941.1 74.5,940.6 75.0,940.1 75.5,939.7 76.0,939.4 76.7,939.0 77.5,938.7 78.0,938.4 78.9,938.0 79.5,937.7 80.0,937.5 81.0,937.1 81.5,937.0 82.5,936.9 83.5,937.0 84.2,937.0 85.0,937.0 85.7,937.0 86.5,936.9 87.5,936.9 88.5,936.9 89.1,937.0 90.0,937.2 91.0,937.3 91.8,937.5 92.5,937.6 93.5,937.8 94.2,938.0 95.0,938.2 95.7,938.5 96.5,938.8 97.0,939.0 98.0,939.4 98.5,939.5 99.5,939.9 100.0,940.2 100.6,940.5 101.2,941.0 101.8,941.5 102.3,942.0 102.7,942.5 103.2,943.0 103.7,943.5 104.2,944.0 104.7,944.5 105.1,945.0 105.5,945.7 105.9,946.5 106.0,947.0 106.3,948.0 106.5,948.7 106.7,949.5 107.0,950.5 107.2,951.0 107.5,952.0 107.6,952.5 107.8,953.5 107.9,954.5 108.0,955.5 108.0,956.0 108.0,957.0 108.0,958.0 108.0,959.0 108.0,960.0 108.0,960.7 107.9,961.5 107.7,962.5 107.5,963.3 107.3,964.0 107.0,965.0 106.9,965.5 106.6,966.5 106.5,967.0 106.3,968.0 106.1,969.0 106.0,969.7 105.9,970.5 105.8,971.5 105.7,972.5 105.5,973.5 105.4,974.0 105.2,975.0 105.0,976.0 105.0,976.5 104.8,977.5 104.7,978.5 104.7,979.5 104.7,980.5 104.7,981.5 104.7,982.5 104.7,983.5 104.7,984.5 104.7,985.5 104.7,986.5 104.7,987.5 104.8,988.5 104.9,989.5 105.0,990.0 105.3,991.0 105.5,991.6 105.8,992.5 106.0,993.1 106.3,994.0 106.5,994.8 106.7,995.5 107.0,996.4 107.1,997.0 107.3,998.0 107.4,999.0 107.5,1000.0 107.6,1000.5 107.7,1001.5 107.8,1002.5 107.8,1003.5 107.5,1004.4 107.1,1005.0 106.7,1005.5 106.3,1006.0 105.9,1006.5 105.4,1007.0 104.8,1007.5 104.0,1008.0 103.5,1008.1Z M101.0,1004.1 100.0,1004.3 99.0,1004.5 98.0,1004.4 97.0,1004.3 96.0,1004.1 95.5,1003.9 94.5,1003.5 94.0,1003.3 93.5,1002.9 93.0,1002.5 92.5,1001.9 92.0,1001.3 91.5,1000.7 91.0,1000.1 90.6,999.5 90.2,999.0 89.9,998.5 89.5,997.6 89.2,997.0 89.0,996.5 88.5,995.5 88.3,995.0 88.0,994.3 87.6,993.5 87.4,993.0 87.0,992.0 86.8,991.5 86.5,991.0 86.0,990.0 85.8,989.5 85.5,988.8 85.2,988.0 85.0,987.5 84.6,986.5 84.4,986.0 84.1,985.0 83.9,984.5 83.6,983.5 83.4,983.0 83.1,982.0 82.9,981.5 82.6,980.5 82.4,980.0 82.1,979.0 81.9,978.5 81.6,977.5 81.5,977.0 81.1,976.0 80.9,975.5 80.6,974.5 80.4,974.0 80.0,973.1 79.7,972.5 79.5,972.0 79.1,971.0 78.9,970.5 78.6,969.5 78.4,969.0 78.1,968.0 77.9,967.5 77.5,966.6 77.3,966.0 77.0,965.2 76.8,964.5 76.5,963.7 76.3,963.0 76.0,962.1 75.8,961.5 75.5,960.5 75.3,960.0 75.0,959.1 74.8,958.5 74.5,957.7 74.3,957.0 74.2,956.0 74.1,955.0 74.0,954.5 73.8,953.5 73.6,952.5 73.5,951.7 73.4,951.0 73.4,950.0 73.5,949.4 73.7,948.5 74.0,947.7 74.3,947.0 74.5,946.4 74.9,945.5 75.2,945.0 75.5,944.5 76.0,943.9 76.5,943.3 77.0,942.8 77.5,942.4 78.1,942.0 78.9,941.5 79.5,941.2 80.0,940.9 80.8,940.5 81.5,940.2 82.2,940.0 83.0,939.9 84.0,939.8 85.0,939.8 86.0,939.7 87.0,939.7 88.0,939.6 89.0,939.7 90.0,939.9 90.6,940.0 91.5,940.2 92.5,940.4 93.0,940.5 94.0,940.8 94.5,941.0 95.5,941.4 96.0,941.6 96.9,942.0 97.5,942.2 98.1,942.5 99.0,943.0 99.5,943.3 100.0,943.7 100.5,944.2 101.0,944.7 101.5,945.2 102.0,945.8 102.5,946.4 102.9,947.0 103.2,947.5 103.5,948.1 103.8,949.0 104.0,949.8 104.2,950.5 104.4,951.5 104.6,952.0 104.9,953.0 105.1,953.5 105.3,954.5 105.4,955.5 105.5,956.5 105.5,957.0 105.5,957.5 105.5,958.5 105.4,959.5 105.3,960.5 105.1,961.5 105.0,962.2 104.9,963.0 104.7,964.0 104.5,964.8 104.3,965.5 104.1,966.5 104.0,967.0 103.8,968.0 103.7,969.0 103.5,969.9 103.4,970.5 103.2,971.5 103.1,972.5 103.0,973.0 102.8,974.0 102.7,975.0 102.6,976.0 102.5,976.5 102.3,977.5 102.2,978.5 102.3,979.5 102.3,980.5 102.3,981.5 102.3,982.5 102.3,983.5 102.2,984.5 102.2,985.5 102.3,986.5 102.3,987.5 102.4,988.5 102.5,989.2 102.6,990.0 102.8,991.0 103.0,992.0 103.1,992.5 103.3,993.5 103.5,994.3 103.7,995.0 103.9,996.0 104.0,996.6 104.1,997.5 104.0,998.5 103.9,999.0 103.8,1000.0 103.7,1001.0 103.5,1001.7 103.2,1002.5 102.8,1003.0 102.3,1003.5 101.5,1003.9 101.0,1004.1Z M98.0,1000.0 97.0,1000.2 96.0,1000.1 95.5,999.9 95.0,999.5 94.5,998.9 94.0,998.3 93.5,997.6 93.1,997.0 92.8,996.5 92.5,995.9 92.1,995.0 91.9,994.5 91.5,993.5 91.3,993.0 91.0,992.2 90.7,991.5 90.5,990.8 90.2,990.0 90.0,989.4 89.7,988.5 89.5,988.0 89.0,987.0 88.7,986.5 88.5,986.0 88.0,985.2 87.6,984.5 87.4,984.0 87.0,983.0 86.9,982.5 86.6,981.5 86.5,981.0 86.2,980.0 86.0,979.3 85.8,978.5 85.5,977.5 85.3,977.0 85.0,976.1 84.8,975.5 84.5,974.8 84.2,974.0 84.0,973.1 83.9,972.5 83.6,971.5 83.4,971.0 83.0,970.0 82.8,969.5 82.5,969.0 82.0,968.1 81.8,967.5 81.5,966.8 81.2,966.0 81.0,965.4 80.7,964.5 80.5,964.0 80.1,963.0 80.0,962.5 79.6,961.5 79.5,961.0 79.1,960.0 78.9,959.5 78.5,958.5 78.3,958.0 78.0,957.3 77.8,956.5 77.6,955.5 77.5,954.5 77.5,954.0 77.3,953.0 77.3,952.0 77.3,951.0 77.5,950.0 77.6,949.5 78.0,948.6 78.3,948.0 78.6,947.5 79.0,946.7 79.5,946.0 80.0,945.5 80.5,945.1 81.0,944.8 81.5,944.5 82.3,944.0 83.0,943.5 83.5,943.3 84.5,943.0 85.0,943.0 86.0,942.9 87.0,942.9 88.0,942.8 89.0,942.9 89.6,943.0 90.5,943.3 91.3,943.5 92.0,943.7 92.9,944.0 93.5,944.2 94.2,944.5 95.0,944.9 95.5,945.2 96.1,945.5 96.8,946.0 97.5,946.5 98.0,946.9 98.5,947.4 99.0,948.0 99.4,948.5 99.7,949.0 100.0,949.5 100.4,950.5 100.5,951.0 100.8,952.0 101.0,952.8 101.2,953.5 101.5,954.4 101.7,955.0 101.9,956.0 102.0,956.5 102.1,957.5 102.2,958.5 102.2,959.5 102.1,960.5 102.0,961.3 101.9,962.0 101.9,963.0 101.7,964.0 101.5,965.0 101.4,965.5 101.1,966.5 101.0,967.5 101.0,968.0 100.8,969.0 100.7,970.0 100.5,971.0 100.4,971.5 100.2,972.5 100.1,973.5 100.0,974.0 99.7,975.0 99.5,976.0 99.5,976.5 99.4,977.5 99.4,978.5 99.5,979.5 99.5,980.5 99.5,981.0 99.5,982.0 99.5,982.5 99.4,983.5 99.3,984.5 99.3,985.5 99.3,986.5 99.3,987.5 99.5,988.4 99.6,989.0 99.8,990.0 99.9,991.0 100.0,991.5 100.1,992.5 100.2,993.5 100.2,994.5 100.1,995.5 100.0,996.0 99.8,997.0 99.7,998.0 99.5,998.6 99.0,999.5 98.5,999.8 98.0,1000.0Z M98.0,999.0 97.0,999.4 96.0,999.3 95.5,999.0 95.0,998.5 94.5,997.8 94.0,997.0 93.7,996.5 93.4,996.0 93.0,995.3 92.6,994.5 92.4,994.0 92.1,993.0 91.9,992.5 91.5,991.5 91.4,991.0 91.1,990.0 91.0,989.5 90.7,988.5 90.5,988.0 90.0,987.0 89.7,986.5 89.4,986.0 89.0,985.5 88.5,984.7 88.1,984.0 87.8,983.5 87.5,982.5 87.4,982.0 87.1,981.0 87.0,980.5 86.8,979.5 86.5,978.5 86.4,978.0 86.1,977.0 85.9,976.5 85.5,975.5 85.3,975.0 85.0,974.1 84.9,973.5 84.6,972.5 84.5,971.9 84.3,971.0 84.0,970.2 83.7,969.5 83.3,969.0 83.0,968.5 82.5,967.5 82.3,967.0 82.0,966.1 81.8,965.5 81.5,964.7 81.2,964.0 81.0,963.5 80.6,962.5 80.4,962.0 80.0,961.0 79.8,960.5 79.5,959.7 79.2,959.0 79.0,958.5 78.6,957.5 78.4,957.0 78.2,956.0 78.1,955.0 78.1,954.0 78.0,953.5 78.0,952.5 78.0,951.5 78.1,951.0 78.2,950.0 78.5,949.3 78.9,948.5 79.2,948.0 79.5,947.5 80.0,946.7 80.5,946.2 81.0,945.8 81.5,945.4 82.2,945.0 82.9,944.5 83.5,944.1 84.0,943.9 85.0,943.7 86.0,943.7 87.0,943.6 88.0,943.6 89.0,943.6 90.0,944.0 90.5,944.2 91.1,944.5 92.0,944.9 92.5,945.1 93.5,945.5 94.0,945.7 94.7,946.0 95.4,946.5 96.0,947.0 96.5,947.4 97.0,947.8 97.5,948.3 98.0,948.9 98.4,949.5 98.7,950.0 99.0,950.7 99.2,951.5 99.5,952.5 99.6,953.0 100.0,954.0 100.2,954.5 100.5,955.2 100.8,956.0 101.0,956.6 101.2,957.5 101.3,958.5 101.2,959.5 101.1,960.5 101.1,961.5 101.2,962.5 101.2,963.5 101.0,964.5 100.9,965.0 100.7,966.0 100.5,967.0 100.5,967.5 100.4,968.5 100.2,969.5 100.1,970.5 100.0,971.1 99.8,972.0 99.6,973.0 99.5,973.5 99.2,974.5 99.0,975.3 98.9,976.0 98.8,977.0 98.9,978.0 98.9,979.0 99.0,980.0 99.0,980.5 99.0,981.5 99.0,982.1 98.9,983.0 98.8,984.0 98.6,985.0 98.6,986.0 98.6,987.0 98.7,988.0 98.9,989.0 99.0,989.5 99.2,990.5 99.4,991.5 99.5,992.5 99.5,993.5 99.3,994.5 99.0,995.5 98.8,996.0 98.7,997.0 98.6,998.0 98.4,998.5 98.0,999.0Z M96.5,996.0 95.5,996.2 95.0,995.8 94.5,995.4 94.0,994.9 93.5,994.1 93.2,993.5 93.0,993.0 92.7,992.0 92.5,991.3 92.3,990.5 92.2,989.5 92.0,988.5 91.9,988.0 91.7,987.0 91.4,986.5 90.9,986.0 90.4,985.5 89.9,985.0 89.5,984.5 89.0,983.9 88.5,983.0 88.3,982.5 88.1,981.5 88.0,981.0 87.8,980.0 87.7,979.0 87.6,978.0 87.5,977.5 87.3,976.5 87.0,975.5 86.8,975.0 86.5,974.2 86.2,973.5 86.0,972.9 85.7,972.0 85.5,971.0 85.4,970.5 85.0,969.5 84.7,969.0 84.4,968.5 84.0,968.0 83.5,967.0 83.3,966.5 83.0,965.5 82.9,965.0 82.5,964.3 82.0,963.5 81.7,963.0 81.4,962.5 81.0,961.7 80.7,961.0 80.5,960.5 80.0,959.5 79.8,959.0 79.5,958.3 79.2,957.5 79.0,956.8 78.9,956.0 78.8,955.0 78.8,954.0 78.8,953.0 78.9,952.0 79.0,951.2 79.1,950.5 79.4,949.5 79.7,949.0 80.0,948.5 80.5,947.8 81.0,947.2 81.5,946.8 82.0,946.4 82.9,946.0 83.5,945.7 84.0,945.4 85.0,945.2 86.0,945.1 87.0,945.1 88.0,945.1 89.0,945.5 89.5,945.8 90.0,946.2 90.5,946.5 91.5,947.0 92.0,947.2 92.8,947.5 93.5,947.8 94.0,948.1 94.6,948.5 95.3,949.0 96.0,949.5 96.5,950.0 96.7,950.5 97.0,951.5 97.0,952.5 97.0,953.2 97.2,954.0 97.5,954.7 98.0,955.3 98.5,955.8 99.0,956.3 99.5,956.9 99.8,957.5 100.0,958.5 99.9,959.5 99.8,960.5 99.8,961.5 100.0,962.2 100.2,963.0 100.2,964.0 100.1,965.0 100.0,965.7 99.9,966.5 99.8,967.5 99.7,968.5 99.5,969.5 99.5,970.0 99.3,971.0 99.1,972.0 99.0,972.5 98.6,973.5 98.4,974.0 98.0,975.0 97.9,975.5 97.9,976.5 98.0,977.1 98.1,978.0 98.2,979.0 98.3,980.0 98.4,981.0 98.3,982.0 98.1,983.0 98.0,983.6 97.7,984.5 97.5,985.0 97.2,986.0 97.1,987.0 97.4,988.0 97.6,988.5 98.0,989.5 98.1,990.0 98.3,991.0 98.4,992.0 98.4,993.0 98.0,994.0 97.7,994.5 97.3,995.0 96.9,995.5 96.5,996.0Z M94.5,985.1 93.5,985.1 93.0,984.9 92.0,984.5 91.5,984.2 91.0,983.9 90.5,983.5 90.0,983.0 89.5,982.1 89.3,981.5 89.1,980.5 89.0,979.5 89.1,978.5 89.2,977.5 89.3,976.5 89.3,975.5 89.1,974.5 88.9,974.0 88.5,973.4 88.0,972.7 87.5,972.0 87.3,971.5 87.0,970.9 86.7,970.0 86.5,969.4 86.0,968.5 85.7,968.0 85.4,967.5 85.0,966.6 84.9,966.0 84.6,965.0 84.4,964.5 84.0,964.0 83.5,963.5 82.9,963.0 82.5,962.5 82.0,961.8 81.5,961.0 81.3,960.5 81.0,960.0 80.5,959.0 80.3,958.5 80.0,957.8 79.8,957.0 79.7,956.0 79.7,955.0 79.7,954.0 79.8,953.0 80.0,952.3 80.2,951.5 80.5,950.5 80.7,950.0 81.0,949.4 81.5,948.7 82.0,948.3 82.5,948.0 83.5,947.6 84.0,947.5 85.0,947.3 86.0,947.2 87.0,947.5 87.5,947.7 88.2,948.0 89.0,948.3 89.6,948.5 90.5,948.8 91.2,949.0 92.0,949.4 92.5,949.7 93.1,950.0 94.0,950.5 94.5,950.9 94.8,951.5 94.9,952.5 94.9,953.5 95.0,954.3 95.2,955.0 95.5,955.7 96.0,956.4 96.5,956.9 97.0,957.2 97.5,957.6 98.0,958.0 98.5,959.0 98.5,959.5 98.4,960.0 98.3,961.0 98.2,962.0 98.5,962.9 98.7,963.5 99.0,964.5 99.0,965.5 98.9,966.5 98.8,967.5 98.7,968.5 98.5,969.5 98.4,970.0 98.3,971.0 98.0,972.0 97.9,972.5 97.5,973.3 97.0,974.0 96.7,974.5 96.5,975.3 96.5,975.7 96.7,976.5 97.0,977.5 97.1,978.0 97.3,979.0 97.5,980.0 97.5,981.0 97.3,982.0 97.0,982.9 96.6,983.5 96.2,984.0 95.7,984.5 95.0,985.0 94.5,985.1Z M96.0,993.1 95.0,993.3 94.5,993.0 94.0,992.4 93.7,991.5 93.6,990.5 93.8,989.5 94.0,989.0 94.5,988.5 95.2,988.5 95.9,989.0 96.3,989.5 96.5,990.0 96.8,991.0 96.7,992.0 96.5,992.5 96.0,993.1Z M94.0,974.1 93.0,974.3 92.0,974.2 91.5,974.0 90.6,973.5 90.1,973.0 89.6,972.5 89.3,972.0 88.9,971.5 88.5,970.8 88.1,970.0 87.9,969.5 87.5,968.5 87.2,968.0 87.0,967.5 86.5,966.5 86.4,966.0 86.4,965.0 86.1,964.0 85.6,963.5 85.0,963.1 84.5,962.8 84.0,962.5 83.3,962.0 82.8,961.5 82.4,961.0 82.0,960.3 81.6,959.5 81.3,959.0 81.0,958.3 80.7,957.5 80.5,956.8 80.4,956.0 80.5,955.1 80.6,954.5 80.9,953.5 81.1,953.0 81.5,952.2 82.0,951.5 82.4,951.0 82.8,950.5 83.5,950.0 84.0,949.8 85.0,949.6 86.0,949.7 87.0,949.9 87.7,950.0 88.5,950.2 89.5,950.4 90.0,950.7 90.6,951.0 91.2,951.5 91.7,952.0 92.0,952.5 92.5,953.3 92.9,954.0 93.1,954.5 93.5,955.3 93.8,956.0 94.0,957.0 94.1,957.5 94.5,958.2 95.0,958.7 95.5,959.1 96.0,959.6 96.2,960.5 96.2,961.5 96.2,962.5 96.5,963.1 97.0,963.8 97.4,964.5 97.6,965.0 97.8,966.0 97.8,967.0 97.6,968.0 97.5,968.7 97.3,969.5 97.1,970.5 97.0,971.0 96.6,972.0 96.3,972.5 95.9,973.0 95.3,973.5 94.5,973.9 94.0,974.1Z M94.5,983.0 93.6,983.0 93.0,982.7 92.5,982.4 92.0,981.9 91.5,981.2 91.1,980.5 91.0,980.0 91.0,979.0 91.2,978.5 91.5,977.9 92.0,977.2 92.5,976.7 93.0,976.3 94.0,976.1 94.7,976.5 95.2,977.0 95.6,977.5 96.0,978.5 96.1,979.0 96.3,980.0 96.2,981.0 96.0,981.8 95.5,982.5 95.0,982.8 94.5,983.0Z M86.0,961.6 85.0,961.6 84.5,961.4 83.7,961.0 83.2,960.5 82.8,960.0 82.5,959.5 82.0,958.7 81.7,958.0 81.4,957.5 81.2,956.5 81.3,955.5 81.5,954.6 81.8,954.0 82.1,953.5 82.6,953.0 83.1,952.5 83.8,952.0 84.5,951.6 85.4,951.5 85.6,951.5 86.5,951.6 87.5,951.9 88.1,952.0 89.0,952.3 89.5,952.5 90.2,953.0 90.6,953.5 91.0,954.2 91.3,955.0 91.4,956.0 91.1,957.0 90.8,957.5 90.4,958.0 90.0,958.6 89.5,959.1 89.0,959.6 88.5,960.1 88.0,960.5 87.3,961.0 86.5,961.5 86.0,961.6Z M94.0,972.1 93.0,972.3 92.0,972.3 91.3,972.0 90.6,971.5 90.2,971.0 89.8,970.5 89.5,969.9 89.1,969.0 89.0,968.4 88.9,967.5 88.9,966.5 89.1,966.0 89.5,965.4 90.0,964.8 90.5,964.3 91.0,963.8 91.5,963.5 92.5,963.1 93.5,963.4 94.0,963.6 94.7,964.0 95.5,964.5 96.0,964.9 96.5,965.5 96.7,966.0 96.8,967.0 96.6,968.0 96.5,968.5 96.2,969.5 96.0,970.0 95.5,971.0 95.0,971.5 94.5,971.9 94.0,972.1Z M86.0,959.7 85.0,959.9 84.0,959.7 83.5,959.3 83.0,958.7 82.5,958.0 82.3,957.5 82.0,956.5 82.1,955.5 82.5,954.7 83.0,954.1 83.5,953.7 84.0,953.4 85.0,953.2 86.0,953.3 86.5,953.5 87.4,954.0 88.0,954.4 88.5,954.8 89.0,955.5 89.1,956.0 89.0,956.5 88.5,957.5 88.1,958.0 87.7,958.5 87.1,959.0 86.5,959.4 86.0,959.7Z M93.0,970.6 92.2,970.5 91.5,970.1 91.0,969.6 90.7,969.0 90.6,968.0 90.8,967.0 91.0,966.5 91.5,965.7 92.0,965.4 93.0,965.2 94.0,965.4 94.5,965.6 95.1,966.0 95.5,966.7 95.6,967.5 95.5,968.2 95.2,969.0 94.9,969.5 94.4,970.0 93.5,970.5 93.0,970.6Z M86.0,958.0 85.0,958.4 84.0,958.1 83.5,957.6 83.2,957.0 83.2,956.0 83.5,955.4 84.0,955.0 85.0,954.8 85.7,955.0 86.3,955.5 86.6,956.0 86.7,957.0 86.5,957.5 86.0,958.0Z" fill="none" stroke="#000" stroke-width="1.0"/>
<rect x="76.6" y="934.1" width="39.1" height="30.1" fill="none" stroke="#000" stroke-width="2" stroke-dasharray="5,3.3"/>
<rect x="74.4" y="996.3" width="41.3" height="20.2" fill="none" stroke="#000" stroke-width="1.8"/>
<text x="124.0" y="955.7" font-size="17" font-family="Liberation Serif" font-weight="normal" text-anchor="start" fill="#000" textLength="30.7" lengthAdjust="spacingAndGlyphs">48.7</text>
<text x="125.4" y="1014.3" font-size="17" font-family="Liberation Serif" font-weight="normal" text-anchor="start" fill="#000" textLength="19.6" lengthAdjust="spacingAndGlyphs">5.3</text>
<line x1="32.0" y1="1016.5" x2="32.0" y2="1019.5" stroke="#000" stroke-width="1.3"/>
<line x1="42.9" y1="1016.5" x2="42.9" y2="1018.5" stroke="#000" stroke-width="0.9"/>
<line x1="49.3" y1="1016.5" x2="49.3" y2="1018.5" stroke="#000" stroke-width="0.9"/>
<line x1="53.8" y1="1016.5" x2="53.8" y2="1018.5" stroke="#000" stroke-width="0.9"/>
<line x1="57.3" y1="1016.5" x2="57.3" y2="1018.5" stroke="#000" stroke-width="0.9"/>
<line x1="60.2" y1="1016.5" x2="60.2" y2="1018.5" stroke="#000" stroke-width="0.9"/>
<line x1="62.6" y1="1016.5" x2="62.6" y2="1018.5" stroke="#000" stroke-width="0.9"/>
<line x1="64.7" y1="1016.5" x2="64.7" y2="1018.5" stroke="#000" stroke-width="0.9"/>
<line x1="66.6" y1="1016.5" x2="66.6" y2="1018.5" stroke="#000" stroke-width="0.9"/>
<text x="33.0" y="1032.9" font-size="8.5" font-family="Liberation Serif" text-anchor="middle">10</text>
<text x="37.5" y="1029.1" font-size="5.1" font-family="Liberation Serif">0</text>
<line x1="68.2" y1="1016.5" x2="68.2" y2="1019.5" stroke="#000" stroke-width="1.3"/>
<line x1="79.2" y1="1016.5" x2="79.2" y2="1018.5" stroke="#000" stroke-width="0.9"/>
<line x1="85.5" y1="1016.5" x2="85.5" y2="1018.5" stroke="#000" stroke-width="0.9"/>
<line x1="90.1" y1="1016.5" x2="90.1" y2="1018.5" stroke="#000" stroke-width="0.9"/>
<line x1="93.6" y1="1016.5" x2="93.6" y2="1018.5" stroke="#000" stroke-width="0.9"/>
<line x1="96.5" y1="1016.5" x2="96.5" y2="1018.5" stroke="#000" stroke-width="0.9"/>
<line x1="98.9" y1="1016.5" x2="98.9" y2="1018.5" stroke="#000" stroke-width="0.9"/>
<line x1="101.0" y1="1016.5" x2="101.0" y2="1018.5" stroke="#000" stroke-width="0.9"/>
<line x1="102.8" y1="1016.5" x2="102.8" y2="1018.5" stroke="#000" stroke-width="0.9"/>
<text x="69.2" y="1032.9" font-size="8.5" font-family="Liberation Serif" text-anchor="middle">10</text>
<text x="73.7" y="1029.1" font-size="5.1" font-family="Liberation Serif">1</text>
<line x1="104.5" y1="1016.5" x2="104.5" y2="1019.5" stroke="#000" stroke-width="1.3"/>
<line x1="115.4" y1="1016.5" x2="115.4" y2="1018.5" stroke="#000" stroke-width="0.9"/>
<line x1="121.8" y1="1016.5" x2="121.8" y2="1018.5" stroke="#000" stroke-width="0.9"/>
<line x1="126.3" y1="1016.5" x2="126.3" y2="1018.5" stroke="#000" stroke-width="0.9"/>
<line x1="129.8" y1="1016.5" x2="129.8" y2="1018.5" stroke="#000" stroke-width="0.9"/>
<line x1="132.7" y1="1016.5" x2="132.7" y2="1018.5" stroke="#000" stroke-width="0.9"/>
<line x1="135.1" y1="1016.5" x2="135.1" y2="1018.5" stroke="#000" stroke-width="0.9"/>
<line x1="137.2" y1="1016.5" x2="137.2" y2="1018.5" stroke="#000" stroke-width="0.9"/>
<line x1="139.1" y1="1016.5" x2="139.1" y2="1018.5" stroke="#000" stroke-width="0.9"/>
<text x="105.5" y="1032.9" font-size="8.5" font-family="Liberation Serif" text-anchor="middle">10</text>
<text x="110.0" y="1029.1" font-size="5.1" font-family="Liberation Serif">2</text>
<line x1="140.8" y1="1016.5" x2="140.8" y2="1019.5" stroke="#000" stroke-width="1.3"/>
<line x1="151.7" y1="1016.5" x2="151.7" y2="1018.5" stroke="#000" stroke-width="0.9"/>
<line x1="158.0" y1="1016.5" x2="158.0" y2="1018.5" stroke="#000" stroke-width="0.9"/>
<line x1="162.6" y1="1016.5" x2="162.6" y2="1018.5" stroke="#000" stroke-width="0.9"/>
<line x1="166.1" y1="1016.5" x2="166.1" y2="1018.5" stroke="#000" stroke-width="0.9"/>
<line x1="169.0" y1="1016.5" x2="169.0" y2="1018.5" stroke="#000" stroke-width="0.9"/>
<line x1="171.4" y1="1016.5" x2="171.4" y2="1018.5" stroke="#000" stroke-width="0.9"/>
<line x1="173.5" y1="1016.5" x2="173.5" y2="1018.5" stroke="#000" stroke-width="0.9"/>
<line x1="175.3" y1="1016.5" x2="175.3" y2="1018.5" stroke="#000" stroke-width="0.9"/>
<text x="141.8" y="1032.9" font-size="8.5" font-family="Liberation Serif" text-anchor="middle">10</text>
<text x="146.2" y="1029.1" font-size="5.1" font-family="Liberation Serif">3</text>
<line x1="177.0" y1="1016.5" x2="177.0" y2="1019.5" stroke="#000" stroke-width="1.3"/>
<text x="178.0" y="1032.9" font-size="8.5" font-family="Liberation Serif" text-anchor="middle">10</text>
<text x="182.4" y="1029.1" font-size="5.1" font-family="Liberation Serif">4</text>
<line x1="29.0" y1="1016.5" x2="32.0" y2="1016.5" stroke="#000" stroke-width="1.3"/>
<line x1="29.5" y1="991.8" x2="32.0" y2="991.8" stroke="#000" stroke-width="1.3"/>
<text x="21.4" y="1022.1" font-size="8.5" font-family="Liberation Serif" text-anchor="middle">10</text>
<text x="25.8" y="1018.3" font-size="5.1" font-family="Liberation Serif">0</text>
<line x1="29.0" y1="981.1" x2="32.0" y2="981.1" stroke="#000" stroke-width="1.3"/>
<line x1="29.5" y1="956.4" x2="32.0" y2="956.4" stroke="#000" stroke-width="1.3"/>
<text x="21.4" y="986.7" font-size="8.5" font-family="Liberation Serif" text-anchor="middle">10</text>
<text x="25.8" y="982.9" font-size="5.1" font-family="Liberation Serif">1</text>
<line x1="29.0" y1="945.8" x2="32.0" y2="945.8" stroke="#000" stroke-width="1.3"/>
<line x1="29.5" y1="921.0" x2="32.0" y2="921.0" stroke="#000" stroke-width="1.3"/>
<text x="21.4" y="951.4" font-size="8.5" font-family="Liberation Serif" text-anchor="middle">10</text>
<text x="25.8" y="947.5" font-size="5.1" font-family="Liberation Serif">2</text>
<line x1="29.0" y1="910.4" x2="32.0" y2="910.4" stroke="#000" stroke-width="1.3"/>
<line x1="29.5" y1="885.6" x2="32.0" y2="885.6" stroke="#000" stroke-width="1.3"/>
<text x="21.4" y="916.0" font-size="8.5" font-family="Liberation Serif" text-anchor="middle">10</text>
<text x="25.8" y="912.2" font-size="5.1" font-family="Liberation Serif">3</text>
<line x1="29.0" y1="875.0" x2="32.0" y2="875.0" stroke="#000" stroke-width="1.3"/>
<text x="21.4" y="880.6" font-size="8.5" font-family="Liberation Serif" text-anchor="middle">10</text>
<text x="25.8" y="876.8" font-size="5.1" font-family="Liberation Serif">4</text>
<rect x="32.0" y="875.0" width="145.0" height="141.5" fill="none" stroke="#000" stroke-width="2"/>
<path d="M249.9,100.3 251.5,128.1 253.2,160.8 256.4,154.2 259.7,141.1 263.0,128.1 266.2,118.3 269.5,110.1 272.8,108.5 275.1,95.4 277.0,69.2 278.7,57.8 280.3,88.8 282.3,75.8 284.2,80.7 286.2,72.5 288.2,79.0 290.8,52.9 292.4,54.5 294.0,72.5 297.3,82.3 299.9,101.9 302.2,124.8 303.8,137.9 305.5,154.2 307.1,167.3 308.7,178.7 312.0,185.3 316.9,190.2 323.5,196.7 330.0,196.7 336.5,196.7" fill="none" stroke="#000" stroke-width="1.8" stroke-dasharray="4.5,3" stroke-linejoin="round"/>
<path d="M251.5,196.7 263.0,196.7 266.2,190.8 271.2,196.7 274.4,188.5 277.7,186.3 281.0,184.3 284.2,183.6 287.5,185.3 290.8,182.0 294.0,173.8 295.7,171.2 298.0,178.7 300.6,180.4 303.8,173.8 307.1,167.3 309.4,141.1 311.0,136.2 313.0,147.7 315.3,141.1 318.6,134.6 320.8,121.5 323.5,106.8 325.4,116.6 327.4,134.6 329.3,128.1 331.6,124.8 333.9,134.6 336.5,142.8 339.1,128.1 341.4,121.5 343.7,123.2 345.7,134.6 348.0,123.2 350.3,124.8 351.6,141.1 352.9,160.8 355.5,170.6 357.8,173.8 360.1,186.9 362.0,196.7 365.3,196.7 367.6,190.8 370.9,196.7 374.1,196.7 408.5,196.7" fill="none" stroke="#000" stroke-width="1.8" stroke-linejoin="round"/>
<line x1="251.0" y1="100.3" x2="251.0" y2="197.0" stroke="#000" stroke-width="2.6" stroke-dasharray="4.5,2.5"/>
<line x1="249.0" y1="52.9" x2="302.5" y2="52.9" stroke="#000" stroke-width="1.6"/>
<line x1="302.5" y1="47.0" x2="302.5" y2="58.8" stroke="#000" stroke-width="1.6"/>
<line x1="249.0" y1="197.5" x2="249.0" y2="200.5" stroke="#000" stroke-width="1.3"/>
<line x1="261.2" y1="197.5" x2="261.2" y2="199.5" stroke="#000" stroke-width="0.9"/>
<line x1="268.4" y1="197.5" x2="268.4" y2="199.5" stroke="#000" stroke-width="0.9"/>
<line x1="273.5" y1="197.5" x2="273.5" y2="199.5" stroke="#000" stroke-width="0.9"/>
<line x1="277.4" y1="197.5" x2="277.4" y2="199.5" stroke="#000" stroke-width="0.9"/>
<line x1="280.6" y1="197.5" x2="280.6" y2="199.5" stroke="#000" stroke-width="0.9"/>
<line x1="283.3" y1="197.5" x2="283.3" y2="199.5" stroke="#000" stroke-width="0.9"/>
<line x1="285.7" y1="197.5" x2="285.7" y2="199.5" stroke="#000" stroke-width="0.9"/>
<line x1="287.8" y1="197.5" x2="287.8" y2="199.5" stroke="#000" stroke-width="0.9"/>
<text x="250.0" y="215.8" font-size="9.5" font-family="Liberation Serif" text-anchor="middle">10</text>
<text x="254.9" y="211.6" font-size="5.7" font-family="Liberation Serif">0</text>
<line x1="289.6" y1="197.5" x2="289.6" y2="200.5" stroke="#000" stroke-width="1.3"/>
<line x1="301.9" y1="197.5" x2="301.9" y2="199.5" stroke="#000" stroke-width="0.9"/>
<line x1="309.0" y1="197.5" x2="309.0" y2="199.5" stroke="#000" stroke-width="0.9"/>
<line x1="314.1" y1="197.5" x2="314.1" y2="199.5" stroke="#000" stroke-width="0.9"/>
<line x1="318.0" y1="197.5" x2="318.0" y2="199.5" stroke="#000" stroke-width="0.9"/>
<line x1="321.2" y1="197.5" x2="321.2" y2="199.5" stroke="#000" stroke-width="0.9"/>
<line x1="324.0" y1="197.5" x2="324.0" y2="199.5" stroke="#000" stroke-width="0.9"/>
<line x1="326.3" y1="197.5" x2="326.3" y2="199.5" stroke="#000" stroke-width="0.9"/>
<line x1="328.4" y1="197.5" x2="328.4" y2="199.5" stroke="#000" stroke-width="0.9"/>
<text x="290.6" y="215.8" font-size="9.5" font-family="Liberation Serif" text-anchor="middle">10</text>
<text x="295.6" y="211.6" font-size="5.7" font-family="Liberation Serif">1</text>
<line x1="330.2" y1="197.5" x2="330.2" y2="200.5" stroke="#000" stroke-width="1.3"/>
<line x1="342.5" y1="197.5" x2="342.5" y2="199.5" stroke="#000" stroke-width="0.9"/>
<line x1="349.6" y1="197.5" x2="349.6" y2="199.5" stroke="#000" stroke-width="0.9"/>
<line x1="354.7" y1="197.5" x2="354.7" y2="199.5" stroke="#000" stroke-width="0.9"/>
<line x1="358.6" y1="197.5" x2="358.6" y2="199.5" stroke="#000" stroke-width="0.9"/>
<line x1="361.9" y1="197.5" x2="361.9" y2="199.5" stroke="#000" stroke-width="0.9"/>
<line x1="364.6" y1="197.5" x2="364.6" y2="199.5" stroke="#000" stroke-width="0.9"/>
<line x1="366.9" y1="197.5" x2="366.9" y2="199.5" stroke="#000" stroke-width="0.9"/>
<line x1="369.0" y1="197.5" x2="369.0" y2="199.5" stroke="#000" stroke-width="0.9"/>
<text x="331.2" y="215.8" font-size="9.5" font-family="Liberation Serif" text-anchor="middle">10</text>
<text x="336.2" y="211.6" font-size="5.7" font-family="Liberation Serif">2</text>
<line x1="370.9" y1="197.5" x2="370.9" y2="200.5" stroke="#000" stroke-width="1.3"/>
<line x1="383.1" y1="197.5" x2="383.1" y2="199.5" stroke="#000" stroke-width="0.9"/>
<line x1="390.3" y1="197.5" x2="390.3" y2="199.5" stroke="#000" stroke-width="0.9"/>
<line x1="395.3" y1="197.5" x2="395.3" y2="199.5" stroke="#000" stroke-width="0.9"/>
<line x1="399.3" y1="197.5" x2="399.3" y2="199.5" stroke="#000" stroke-width="0.9"/>
<line x1="402.5" y1="197.5" x2="402.5" y2="199.5" stroke="#000" stroke-width="0.9"/>
<line x1="405.2" y1="197.5" x2="405.2" y2="199.5" stroke="#000" stroke-width="0.9"/>
<line x1="407.6" y1="197.5" x2="407.6" y2="199.5" stroke="#000" stroke-width="0.9"/>
<line x1="409.6" y1="197.5" x2="409.6" y2="199.5" stroke="#000" stroke-width="0.9"/>
<text x="371.9" y="215.8" font-size="9.5" font-family="Liberation Serif" text-anchor="middle">10</text>
<text x="376.8" y="211.6" font-size="5.7" font-family="Liberation Serif">3</text>
<line x1="411.5" y1="197.5" x2="411.5" y2="200.5" stroke="#000" stroke-width="1.3"/>
<text x="412.5" y="215.8" font-size="9.5" font-family="Liberation Serif" text-anchor="middle">10</text>
<text x="417.4" y="211.6" font-size="5.7" font-family="Liberation Serif">4</text>
<line x1="246.0" y1="197.5" x2="249.0" y2="197.5" stroke="#000" stroke-width="1.3"/>
<line x1="246.0" y1="164.4" x2="249.0" y2="164.4" stroke="#000" stroke-width="1.3"/>
<line x1="246.0" y1="131.3" x2="249.0" y2="131.3" stroke="#000" stroke-width="1.3"/>
<line x1="246.0" y1="98.2" x2="249.0" y2="98.2" stroke="#000" stroke-width="1.3"/>
<line x1="246.0" y1="65.1" x2="249.0" y2="65.1" stroke="#000" stroke-width="1.3"/>
<line x1="246.0" y1="32.0" x2="249.0" y2="32.0" stroke="#000" stroke-width="1.3"/>
<line x1="246.0" y1="197.5" x2="249.0" y2="197.5" stroke="#000" stroke-width="2"/>
<rect x="249.0" y="32.0" width="162.5" height="165.5" fill="none" stroke="#000" stroke-width="2"/>
<path d="M249.9,306.6 253.2,308.3 256.4,313.2 259.7,311.6 263.0,313.2 266.2,309.9 269.5,311.6 271.2,329.5 272.8,319.7 275.1,314.8 277.0,323.0 278.3,345.9 281.0,336.1 283.6,326.3 284.9,332.8 286.8,349.1 289.1,342.6 290.8,355.7 293.4,362.2 295.7,378.6 298.0,388.4 302.2,394.9 305.5,398.2 310.4,406.2 315.3,398.8 320.2,398.2 325.1,406.2 330.0,406.2 343.1,406.2" fill="none" stroke="#000" stroke-width="1.8" stroke-dasharray="4.5,3" stroke-linejoin="round"/>
<path d="M249.9,388.4 251.5,394.9 254.8,406.2 258.1,406.2 263.0,406.2 267.9,396.5 272.8,393.3 276.1,396.5 279.3,406.2 282.6,406.2 285.9,400.5 290.8,398.8 294.0,396.5 296.7,390.0 298.9,386.7 301.2,391.6 303.8,393.3 307.1,398.2 310.4,396.5 313.6,391.6 316.9,381.8 319.5,372.0 321.8,375.3 324.1,368.8 326.7,349.1 329.3,334.4 331.6,342.6 333.9,365.5 335.9,349.1 337.8,322.3 339.8,332.8 341.4,323.6 343.1,326.3 344.7,342.6 347.0,354.1 349.6,360.6 352.2,362.2 354.5,372.0 356.1,385.1 358.4,390.0 360.1,386.7 362.0,394.9 364.3,406.2 367.6,406.2 370.9,406.2 374.1,406.2 408.5,406.2" fill="none" stroke="#000" stroke-width="1.8" stroke-linejoin="round"/>
<line x1="251.0" y1="238.0" x2="251.0" y2="406.7" stroke="#000" stroke-width="2.6" stroke-dasharray="4.5,2.5"/>
<line x1="249.0" y1="265.1" x2="308.1" y2="265.1" stroke="#000" stroke-width="1.6"/>
<line x1="308.1" y1="259.2" x2="308.1" y2="271.0" stroke="#000" stroke-width="1.6"/>
<line x1="249.0" y1="407.0" x2="249.0" y2="410.0" stroke="#000" stroke-width="1.3"/>
<line x1="261.2" y1="407.0" x2="261.2" y2="409.0" stroke="#000" stroke-width="0.9"/>
<line x1="268.4" y1="407.0" x2="268.4" y2="409.0" stroke="#000" stroke-width="0.9"/>
<line x1="273.5" y1="407.0" x2="273.5" y2="409.0" stroke="#000" stroke-width="0.9"/>
<line x1="277.4" y1="407.0" x2="277.4" y2="409.0" stroke="#000" stroke-width="0.9"/>
<line x1="280.6" y1="407.0" x2="280.6" y2="409.0" stroke="#000" stroke-width="0.9"/>
<line x1="283.3" y1="407.0" x2="283.3" y2="409.0" stroke="#000" stroke-width="0.9"/>
<line x1="285.7" y1="407.0" x2="285.7" y2="409.0" stroke="#000" stroke-width="0.9"/>
<line x1="287.8" y1="407.0" x2="287.8" y2="409.0" stroke="#000" stroke-width="0.9"/>
<text x="250.0" y="425.3" font-size="9.5" font-family="Liberation Serif" text-anchor="middle">10</text>
<text x="254.9" y="421.1" font-size="5.7" font-family="Liberation Serif">0</text>
<line x1="289.6" y1="407.0" x2="289.6" y2="410.0" stroke="#000" stroke-width="1.3"/>
<line x1="301.9" y1="407.0" x2="301.9" y2="409.0" stroke="#000" stroke-width="0.9"/>
<line x1="309.0" y1="407.0" x2="309.0" y2="409.0" stroke="#000" stroke-width="0.9"/>
<line x1="314.1" y1="407.0" x2="314.1" y2="409.0" stroke="#000" stroke-width="0.9"/>
<line x1="318.0" y1="407.0" x2="318.0" y2="409.0" stroke="#000" stroke-width="0.9"/>
<line x1="321.2" y1="407.0" x2="321.2" y2="409.0" stroke="#000" stroke-width="0.9"/>
<line x1="324.0" y1="407.0" x2="324.0" y2="409.0" stroke="#000" stroke-width="0.9"/>
<line x1="326.3" y1="407.0" x2="326.3" y2="409.0" stroke="#000" stroke-width="0.9"/>
<line x1="328.4" y1="407.0" x2="328.4" y2="409.0" stroke="#000" stroke-width="0.9"/>
<text x="290.6" y="425.3" font-size="9.5" font-family="Liberation Serif" text-anchor="middle">10</text>
<text x="295.6" y="421.1" font-size="5.7" font-family="Liberation Serif">1</text>
<line x1="330.2" y1="407.0" x2="330.2" y2="410.0" stroke="#000" stroke-width="1.3"/>
<line x1="342.5" y1="407.0" x2="342.5" y2="409.0" stroke="#000" stroke-width="0.9"/>
<line x1="349.6" y1="407.0" x2="349.6" y2="409.0" stroke="#000" stroke-width="0.9"/>
<line x1="354.7" y1="407.0" x2="354.7" y2="409.0" stroke="#000" stroke-width="0.9"/>
<line x1="358.6" y1="407.0" x2="358.6" y2="409.0" stroke="#000" stroke-width="0.9"/>
<line x1="361.9" y1="407.0" x2="361.9" y2="409.0" stroke="#000" stroke-width="0.9"/>
<line x1="364.6" y1="407.0" x2="364.6" y2="409.0" stroke="#000" stroke-width="0.9"/>
<line x1="366.9" y1="407.0" x2="366.9" y2="409.0" stroke="#000" stroke-width="0.9"/>
<line x1="369.0" y1="407.0" x2="369.0" y2="409.0" stroke="#000" stroke-width="0.9"/>
<text x="331.2" y="425.3" font-size="9.5" font-family="Liberation Serif" text-anchor="middle">10</text>
<text x="336.2" y="421.1" font-size="5.7" font-family="Liberation Serif">2</text>
<line x1="370.9" y1="407.0" x2="370.9" y2="410.0" stroke="#000" stroke-width="1.3"/>
<line x1="383.1" y1="407.0" x2="383.1" y2="409.0" stroke="#000" stroke-width="0.9"/>
<line x1="390.3" y1="407.0" x2="390.3" y2="409.0" stroke="#000" stroke-width="0.9"/>
<line x1="395.3" y1="407.0" x2="395.3" y2="409.0" stroke="#000" stroke-width="0.9"/>
<line x1="399.3" y1="407.0" x2="399.3" y2="409.0" stroke="#000" stroke-width="0.9"/>
<line x1="402.5" y1="407.0" x2="402.5" y2="409.0" stroke="#000" stroke-width="0.9"/>
<line x1="405.2" y1="407.0" x2="405.2" y2="409.0" stroke="#000" stroke-width="0.9"/>
<line x1="407.6" y1="407.0" x2="407.6" y2="409.0" stroke="#000" stroke-width="0.9"/>
<line x1="409.6" y1="407.0" x2="409.6" y2="409.0" stroke="#000" stroke-width="0.9"/>
<text x="371.9" y="425.3" font-size="9.5" font-family="Liberation Serif" text-anchor="middle">10</text>
<text x="376.8" y="421.1" font-size="5.7" font-family="Liberation Serif">3</text>
<line x1="411.5" y1="407.0" x2="411.5" y2="410.0" stroke="#000" stroke-width="1.3"/>
<text x="412.5" y="425.3" font-size="9.5" font-family="Liberation Serif" text-anchor="middle">10</text>
<text x="417.4" y="421.1" font-size="5.7" font-family="Liberation Serif">4</text>
<line x1="246.0" y1="407.0" x2="249.0" y2="407.0" stroke="#000" stroke-width="1.3"/>
<line x1="246.0" y1="373.8" x2="249.0" y2="373.8" stroke="#000" stroke-width="1.3"/>
<line x1="246.0" y1="340.6" x2="249.0" y2="340.6" stroke="#000" stroke-width="1.3"/>
<line x1="246.0" y1="307.4" x2="249.0" y2="307.4" stroke="#000" stroke-width="1.3"/>
<line x1="246.0" y1="274.2" x2="249.0" y2="274.2" stroke="#000" stroke-width="1.3"/>
<line x1="246.0" y1="241.0" x2="249.0" y2="241.0" stroke="#000" stroke-width="1.3"/>
<line x1="246.0" y1="407.0" x2="249.0" y2="407.0" stroke="#000" stroke-width="2"/>
<rect x="249.0" y="241.0" width="162.5" height="166.0" fill="none" stroke="#000" stroke-width="2"/>
<path d="M235.5,651.2 241.4,650.7 247.3,649.2 253.2,645.7 257.6,641.9 260.5,634.5 263.5,625.7 266.4,611.0 269.4,596.3 271.7,587.4 273.8,578.6 275.3,563.9 276.7,546.2 278.2,538.9 280.3,541.8 282.0,537.4 283.5,544.8 285.0,555.1 286.1,553.6 287.9,566.8 290.0,584.5 291.4,605.1 293.8,619.8 295.8,631.6 297.9,640.4 300.3,645.7 304.7,649.2 309.1,650.7 315.0,651.2" fill="none" stroke="#000" stroke-width="1.8" stroke-dasharray="4.5,3" stroke-linejoin="round"/>
<path d="M217.9,651.2 270.8,651.2 275.3,649.8 279.7,648.6 282.6,644.8 285.0,637.4 287.0,621.3 289.1,615.4 291.4,613.9 293.2,599.2 294.4,596.3 295.8,605.1 297.3,608.0 299.7,587.4 301.7,574.2 303.8,578.6 305.6,575.7 307.6,581.6 309.1,605.1 310.6,613.9 312.0,608.0 313.5,590.4 315.0,581.6 316.4,587.4 317.9,605.1 320.3,616.9 322.3,622.7 324.7,622.7 326.7,634.5 329.1,640.4 331.2,644.8 332.6,641.9 334.1,646.3 335.6,651.2 359.1,651.2" fill="none" stroke="#000" stroke-width="1.8" stroke-linejoin="round"/>
<line x1="215.5" y1="535.9" x2="290.8" y2="535.9" stroke="#000" stroke-width="1.6"/>
<line x1="290.8" y1="530.1" x2="290.8" y2="541.2" stroke="#000" stroke-width="1.6"/>
<line x1="215.5" y1="652.0" x2="215.5" y2="655.0" stroke="#000" stroke-width="1.3"/>
<line x1="226.5" y1="652.0" x2="226.5" y2="654.0" stroke="#000" stroke-width="0.9"/>
<line x1="232.9" y1="652.0" x2="232.9" y2="654.0" stroke="#000" stroke-width="0.9"/>
<line x1="237.5" y1="652.0" x2="237.5" y2="654.0" stroke="#000" stroke-width="0.9"/>
<line x1="241.0" y1="652.0" x2="241.0" y2="654.0" stroke="#000" stroke-width="0.9"/>
<line x1="243.9" y1="652.0" x2="243.9" y2="654.0" stroke="#000" stroke-width="0.9"/>
<line x1="246.3" y1="652.0" x2="246.3" y2="654.0" stroke="#000" stroke-width="0.9"/>
<line x1="248.5" y1="652.0" x2="248.5" y2="654.0" stroke="#000" stroke-width="0.9"/>
<line x1="250.3" y1="652.0" x2="250.3" y2="654.0" stroke="#000" stroke-width="0.9"/>
<text x="216.5" y="668.4" font-size="8.5" font-family="Liberation Serif" text-anchor="middle">10</text>
<text x="220.9" y="664.6" font-size="5.1" font-family="Liberation Serif">0</text>
<line x1="252.0" y1="652.0" x2="252.0" y2="655.0" stroke="#000" stroke-width="1.3"/>
<line x1="263.0" y1="652.0" x2="263.0" y2="654.0" stroke="#000" stroke-width="0.9"/>
<line x1="269.4" y1="652.0" x2="269.4" y2="654.0" stroke="#000" stroke-width="0.9"/>
<line x1="274.0" y1="652.0" x2="274.0" y2="654.0" stroke="#000" stroke-width="0.9"/>
<line x1="277.5" y1="652.0" x2="277.5" y2="654.0" stroke="#000" stroke-width="0.9"/>
<line x1="280.4" y1="652.0" x2="280.4" y2="654.0" stroke="#000" stroke-width="0.9"/>
<line x1="282.8" y1="652.0" x2="282.8" y2="654.0" stroke="#000" stroke-width="0.9"/>
<line x1="285.0" y1="652.0" x2="285.0" y2="654.0" stroke="#000" stroke-width="0.9"/>
<line x1="286.8" y1="652.0" x2="286.8" y2="654.0" stroke="#000" stroke-width="0.9"/>
<text x="253.0" y="668.4" font-size="8.5" font-family="Liberation Serif" text-anchor="middle">10</text>
<text x="257.4" y="664.6" font-size="5.1" font-family="Liberation Serif">1</text>
<line x1="288.5" y1="652.0" x2="288.5" y2="655.0" stroke="#000" stroke-width="1.3"/>
<line x1="299.5" y1="652.0" x2="299.5" y2="654.0" stroke="#000" stroke-width="0.9"/>
<line x1="305.9" y1="652.0" x2="305.9" y2="654.0" stroke="#000" stroke-width="0.9"/>
<line x1="310.5" y1="652.0" x2="310.5" y2="654.0" stroke="#000" stroke-width="0.9"/>
<line x1="314.0" y1="652.0" x2="314.0" y2="654.0" stroke="#000" stroke-width="0.9"/>
<line x1="316.9" y1="652.0" x2="316.9" y2="654.0" stroke="#000" stroke-width="0.9"/>
<line x1="319.3" y1="652.0" x2="319.3" y2="654.0" stroke="#000" stroke-width="0.9"/>
<line x1="321.5" y1="652.0" x2="321.5" y2="654.0" stroke="#000" stroke-width="0.9"/>
<line x1="323.3" y1="652.0" x2="323.3" y2="654.0" stroke="#000" stroke-width="0.9"/>
<text x="289.5" y="668.4" font-size="8.5" font-family="Liberation Serif" text-anchor="middle">10</text>
<text x="293.9" y="664.6" font-size="5.1" font-family="Liberation Serif">2</text>
<line x1="325.0" y1="652.0" x2="325.0" y2="655.0" stroke="#000" stroke-width="1.3"/>
<line x1="336.0" y1="652.0" x2="336.0" y2="654.0" stroke="#000" stroke-width="0.9"/>
<line x1="342.4" y1="652.0" x2="342.4" y2="654.0" stroke="#000" stroke-width="0.9"/>
<line x1="347.0" y1="652.0" x2="347.0" y2="654.0" stroke="#000" stroke-width="0.9"/>
<line x1="350.5" y1="652.0" x2="350.5" y2="654.0" stroke="#000" stroke-width="0.9"/>
<line x1="353.4" y1="652.0" x2="353.4" y2="654.0" stroke="#000" stroke-width="0.9"/>
<line x1="355.8" y1="652.0" x2="355.8" y2="654.0" stroke="#000" stroke-width="0.9"/>
<line x1="358.0" y1="652.0" x2="358.0" y2="654.0" stroke="#000" stroke-width="0.9"/>
<line x1="359.8" y1="652.0" x2="359.8" y2="654.0" stroke="#000" stroke-width="0.9"/>
<text x="326.0" y="668.4" font-size="8.5" font-family="Liberation Serif" text-anchor="middle">10</text>
<text x="330.4" y="664.6" font-size="5.1" font-family="Liberation Serif">3</text>
<line x1="361.5" y1="652.0" x2="361.5" y2="655.0" stroke="#000" stroke-width="1.3"/>
<text x="362.5" y="668.4" font-size="8.5" font-family="Liberation Serif" text-anchor="middle">10</text>
<text x="366.9" y="664.6" font-size="5.1" font-family="Liberation Serif">4</text>
<line x1="212.5" y1="652.0" x2="215.5" y2="652.0" stroke="#000" stroke-width="1.3"/>
<line x1="212.5" y1="623.8" x2="215.5" y2="623.8" stroke="#000" stroke-width="1.3"/>
<line x1="212.5" y1="595.6" x2="215.5" y2="595.6" stroke="#000" stroke-width="1.3"/>
<line x1="212.5" y1="567.4" x2="215.5" y2="567.4" stroke="#000" stroke-width="1.3"/>
<line x1="212.5" y1="539.2" x2="215.5" y2="539.2" stroke="#000" stroke-width="1.3"/>
<line x1="212.5" y1="511.0" x2="215.5" y2="511.0" stroke="#000" stroke-width="1.3"/>
<line x1="212.5" y1="652.0" x2="215.5" y2="652.0" stroke="#000" stroke-width="2"/>
<rect x="215.5" y="511.0" width="146.0" height="141.0" fill="none" stroke="#000" stroke-width="2"/>
<path d="M232.7,836.5 238.5,836.5 244.4,833.7 250.3,827.9 256.2,814.6 260.6,799.9 263.5,782.3 265.6,773.4 268.0,764.6 270.3,749.9 272.4,732.2 273.8,723.4 276.2,719.0 278.3,716.1 280.3,716.9 282.1,720.5 284.1,723.4 285.6,732.2 287.1,747.0 288.6,764.6 290.0,782.3 291.5,799.9 293.0,814.6 294.4,823.4 297.4,830.8 301.8,834.6 309.1,836.5 320.9,836.5" fill="none" stroke="#000" stroke-width="1.8" stroke-dasharray="4.5,3" stroke-linejoin="round"/>
<path d="M220.9,836.5 259.1,836.5 265.0,835.2 269.4,832.3 272.4,829.3 274.7,823.4 276.8,822.0 278.3,817.6 280.3,805.8 282.7,791.1 285.0,773.4 286.5,758.7 288.0,738.1 289.1,732.2 290.3,736.7 291.5,749.9 293.0,745.5 294.4,752.8 295.3,767.6 296.8,782.3 298.3,799.9 299.7,814.6 300.9,826.4 302.7,832.3 306.2,834.6 312.1,835.8 320.9,836.5 326.8,836.5 362.1,836.5" fill="none" stroke="#000" stroke-width="1.8" stroke-linejoin="round"/>
<line x1="219.5" y1="715.5" x2="272.7" y2="715.5" stroke="#000" stroke-width="1.6"/>
<line x1="272.7" y1="710.2" x2="272.7" y2="721.9" stroke="#000" stroke-width="1.6"/>
<line x1="219.5" y1="837.3" x2="219.5" y2="840.3" stroke="#000" stroke-width="1.3"/>
<line x1="230.5" y1="837.3" x2="230.5" y2="839.3" stroke="#000" stroke-width="0.9"/>
<line x1="237.0" y1="837.3" x2="237.0" y2="839.3" stroke="#000" stroke-width="0.9"/>
<line x1="241.6" y1="837.3" x2="241.6" y2="839.3" stroke="#000" stroke-width="0.9"/>
<line x1="245.1" y1="837.3" x2="245.1" y2="839.3" stroke="#000" stroke-width="0.9"/>
<line x1="248.0" y1="837.3" x2="248.0" y2="839.3" stroke="#000" stroke-width="0.9"/>
<line x1="250.5" y1="837.3" x2="250.5" y2="839.3" stroke="#000" stroke-width="0.9"/>
<line x1="252.6" y1="837.3" x2="252.6" y2="839.3" stroke="#000" stroke-width="0.9"/>
<line x1="254.4" y1="837.3" x2="254.4" y2="839.3" stroke="#000" stroke-width="0.9"/>
<text x="220.5" y="853.7" font-size="8.5" font-family="Liberation Serif" text-anchor="middle">10</text>
<text x="224.9" y="849.9" font-size="5.1" font-family="Liberation Serif">0</text>
<line x1="256.1" y1="837.3" x2="256.1" y2="840.3" stroke="#000" stroke-width="1.3"/>
<line x1="267.2" y1="837.3" x2="267.2" y2="839.3" stroke="#000" stroke-width="0.9"/>
<line x1="273.6" y1="837.3" x2="273.6" y2="839.3" stroke="#000" stroke-width="0.9"/>
<line x1="278.2" y1="837.3" x2="278.2" y2="839.3" stroke="#000" stroke-width="0.9"/>
<line x1="281.7" y1="837.3" x2="281.7" y2="839.3" stroke="#000" stroke-width="0.9"/>
<line x1="284.6" y1="837.3" x2="284.6" y2="839.3" stroke="#000" stroke-width="0.9"/>
<line x1="287.1" y1="837.3" x2="287.1" y2="839.3" stroke="#000" stroke-width="0.9"/>
<line x1="289.2" y1="837.3" x2="289.2" y2="839.3" stroke="#000" stroke-width="0.9"/>
<line x1="291.1" y1="837.3" x2="291.1" y2="839.3" stroke="#000" stroke-width="0.9"/>
<text x="257.1" y="853.7" font-size="8.5" font-family="Liberation Serif" text-anchor="middle">10</text>
<text x="261.6" y="849.9" font-size="5.1" font-family="Liberation Serif">1</text>
<line x1="292.8" y1="837.3" x2="292.8" y2="840.3" stroke="#000" stroke-width="1.3"/>
<line x1="303.8" y1="837.3" x2="303.8" y2="839.3" stroke="#000" stroke-width="0.9"/>
<line x1="310.2" y1="837.3" x2="310.2" y2="839.3" stroke="#000" stroke-width="0.9"/>
<line x1="314.8" y1="837.3" x2="314.8" y2="839.3" stroke="#000" stroke-width="0.9"/>
<line x1="318.3" y1="837.3" x2="318.3" y2="839.3" stroke="#000" stroke-width="0.9"/>
<line x1="321.2" y1="837.3" x2="321.2" y2="839.3" stroke="#000" stroke-width="0.9"/>
<line x1="323.7" y1="837.3" x2="323.7" y2="839.3" stroke="#000" stroke-width="0.9"/>
<line x1="325.8" y1="837.3" x2="325.8" y2="839.3" stroke="#000" stroke-width="0.9"/>
<line x1="327.7" y1="837.3" x2="327.7" y2="839.3" stroke="#000" stroke-width="0.9"/>
<text x="293.8" y="853.7" font-size="8.5" font-family="Liberation Serif" text-anchor="middle">10</text>
<text x="298.2" y="849.9" font-size="5.1" font-family="Liberation Serif">2</text>
<line x1="329.4" y1="837.3" x2="329.4" y2="840.3" stroke="#000" stroke-width="1.3"/>
<line x1="340.4" y1="837.3" x2="340.4" y2="839.3" stroke="#000" stroke-width="0.9"/>
<line x1="346.8" y1="837.3" x2="346.8" y2="839.3" stroke="#000" stroke-width="0.9"/>
<line x1="351.4" y1="837.3" x2="351.4" y2="839.3" stroke="#000" stroke-width="0.9"/>
<line x1="355.0" y1="837.3" x2="355.0" y2="839.3" stroke="#000" stroke-width="0.9"/>
<line x1="357.9" y1="837.3" x2="357.9" y2="839.3" stroke="#000" stroke-width="0.9"/>
<line x1="360.3" y1="837.3" x2="360.3" y2="839.3" stroke="#000" stroke-width="0.9"/>
<line x1="362.5" y1="837.3" x2="362.5" y2="839.3" stroke="#000" stroke-width="0.9"/>
<line x1="364.3" y1="837.3" x2="364.3" y2="839.3" stroke="#000" stroke-width="0.9"/>
<text x="330.4" y="853.7" font-size="8.5" font-family="Liberation Serif" text-anchor="middle">10</text>
<text x="334.8" y="849.9" font-size="5.1" font-family="Liberation Serif">3</text>
<line x1="366.0" y1="837.3" x2="366.0" y2="840.3" stroke="#000" stroke-width="1.3"/>
<text x="367.0" y="853.7" font-size="8.5" font-family="Liberation Serif" text-anchor="middle">10</text>
<text x="371.4" y="849.9" font-size="5.1" font-family="Liberation Serif">4</text>
<line x1="216.5" y1="837.3" x2="219.5" y2="837.3" stroke="#000" stroke-width="1.3"/>
<line x1="216.5" y1="809.3" x2="219.5" y2="809.3" stroke="#000" stroke-width="1.3"/>
<line x1="216.5" y1="781.3" x2="219.5" y2="781.3" stroke="#000" stroke-width="1.3"/>
<line x1="216.5" y1="753.3" x2="219.5" y2="753.3" stroke="#000" stroke-width="1.3"/>
<line x1="216.5" y1="725.3" x2="219.5" y2="725.3" stroke="#000" stroke-width="1.3"/>
<line x1="216.5" y1="697.3" x2="219.5" y2="697.3" stroke="#000" stroke-width="1.3"/>
<line x1="216.5" y1="837.3" x2="219.5" y2="837.3" stroke="#000" stroke-width="2"/>
<rect x="219.5" y="697.3" width="146.5" height="140.0" fill="none" stroke="#000" stroke-width="2"/>
<path d="M219.3,1015.3 231.7,1014.7 240.5,1010.3 246.4,1001.4 252.2,986.7 257.5,969.1 261.1,951.4 264.0,930.8 266.4,916.1 267.8,922.0 269.9,907.3 272.3,897.9 274.3,916.1 275.8,925.0 277.3,930.8 278.7,945.6 280.5,960.3 282.3,966.1 284.0,977.9 286.1,989.7 288.1,1001.4 291.1,1008.8 294.9,1011.7 299.3,1013.2 305.2,1014.7 314.0,1015.3" fill="none" stroke="#000" stroke-width="1.8" stroke-dasharray="4.5,3" stroke-linejoin="round"/>
<path d="M219.3,1015.3 228.7,1014.7 234.6,1012.6 240.5,1010.9 243.4,1008.8 246.4,1001.4 249.3,995.6 251.7,986.7 253.1,982.3 255.2,985.3 257.5,972.0 259.6,960.3 261.1,945.6 263.4,942.0 265.5,942.6 267.5,939.7 269.3,932.3 270.8,942.6 272.3,951.4 273.7,960.3 275.2,957.3 276.7,954.4 278.1,966.1 279.3,977.9 281.1,995.6 283.1,1001.4 285.2,1010.3 287.0,1014.7 361.1,1015.3" fill="none" stroke="#000" stroke-width="1.8" stroke-linejoin="round"/>
<line x1="218.5" y1="894.9" x2="281.7" y2="894.9" stroke="#000" stroke-width="1.6"/>
<line x1="281.7" y1="889.7" x2="281.7" y2="900.8" stroke="#000" stroke-width="1.6"/>
<line x1="218.5" y1="1016.3" x2="218.5" y2="1019.3" stroke="#000" stroke-width="1.3"/>
<line x1="229.4" y1="1016.3" x2="229.4" y2="1018.3" stroke="#000" stroke-width="0.9"/>
<line x1="235.8" y1="1016.3" x2="235.8" y2="1018.3" stroke="#000" stroke-width="0.9"/>
<line x1="240.4" y1="1016.3" x2="240.4" y2="1018.3" stroke="#000" stroke-width="0.9"/>
<line x1="243.9" y1="1016.3" x2="243.9" y2="1018.3" stroke="#000" stroke-width="0.9"/>
<line x1="246.8" y1="1016.3" x2="246.8" y2="1018.3" stroke="#000" stroke-width="0.9"/>
<line x1="249.2" y1="1016.3" x2="249.2" y2="1018.3" stroke="#000" stroke-width="0.9"/>
<line x1="251.3" y1="1016.3" x2="251.3" y2="1018.3" stroke="#000" stroke-width="0.9"/>
<line x1="253.2" y1="1016.3" x2="253.2" y2="1018.3" stroke="#000" stroke-width="0.9"/>
<text x="219.5" y="1032.7" font-size="8.5" font-family="Liberation Serif" text-anchor="middle">10</text>
<text x="223.9" y="1028.9" font-size="5.1" font-family="Liberation Serif">0</text>
<line x1="254.8" y1="1016.3" x2="254.8" y2="1019.3" stroke="#000" stroke-width="1.3"/>
<line x1="265.8" y1="1016.3" x2="265.8" y2="1018.3" stroke="#000" stroke-width="0.9"/>
<line x1="272.2" y1="1016.3" x2="272.2" y2="1018.3" stroke="#000" stroke-width="0.9"/>
<line x1="276.7" y1="1016.3" x2="276.7" y2="1018.3" stroke="#000" stroke-width="0.9"/>
<line x1="280.2" y1="1016.3" x2="280.2" y2="1018.3" stroke="#000" stroke-width="0.9"/>
<line x1="283.1" y1="1016.3" x2="283.1" y2="1018.3" stroke="#000" stroke-width="0.9"/>
<line x1="285.5" y1="1016.3" x2="285.5" y2="1018.3" stroke="#000" stroke-width="0.9"/>
<line x1="287.6" y1="1016.3" x2="287.6" y2="1018.3" stroke="#000" stroke-width="0.9"/>
<line x1="289.5" y1="1016.3" x2="289.5" y2="1018.3" stroke="#000" stroke-width="0.9"/>
<text x="255.8" y="1032.7" font-size="8.5" font-family="Liberation Serif" text-anchor="middle">10</text>
<text x="260.3" y="1028.9" font-size="5.1" font-family="Liberation Serif">1</text>
<line x1="291.1" y1="1016.3" x2="291.1" y2="1019.3" stroke="#000" stroke-width="1.3"/>
<line x1="302.1" y1="1016.3" x2="302.1" y2="1018.3" stroke="#000" stroke-width="0.9"/>
<line x1="308.5" y1="1016.3" x2="308.5" y2="1018.3" stroke="#000" stroke-width="0.9"/>
<line x1="313.0" y1="1016.3" x2="313.0" y2="1018.3" stroke="#000" stroke-width="0.9"/>
<line x1="316.5" y1="1016.3" x2="316.5" y2="1018.3" stroke="#000" stroke-width="0.9"/>
<line x1="319.4" y1="1016.3" x2="319.4" y2="1018.3" stroke="#000" stroke-width="0.9"/>
<line x1="321.8" y1="1016.3" x2="321.8" y2="1018.3" stroke="#000" stroke-width="0.9"/>
<line x1="324.0" y1="1016.3" x2="324.0" y2="1018.3" stroke="#000" stroke-width="0.9"/>
<line x1="325.8" y1="1016.3" x2="325.8" y2="1018.3" stroke="#000" stroke-width="0.9"/>
<text x="292.1" y="1032.7" font-size="8.5" font-family="Liberation Serif" text-anchor="middle">10</text>
<text x="296.6" y="1028.9" font-size="5.1" font-family="Liberation Serif">2</text>
<line x1="327.5" y1="1016.3" x2="327.5" y2="1019.3" stroke="#000" stroke-width="1.3"/>
<line x1="338.4" y1="1016.3" x2="338.4" y2="1018.3" stroke="#000" stroke-width="0.9"/>
<line x1="344.8" y1="1016.3" x2="344.8" y2="1018.3" stroke="#000" stroke-width="0.9"/>
<line x1="349.3" y1="1016.3" x2="349.3" y2="1018.3" stroke="#000" stroke-width="0.9"/>
<line x1="352.9" y1="1016.3" x2="352.9" y2="1018.3" stroke="#000" stroke-width="0.9"/>
<line x1="355.7" y1="1016.3" x2="355.7" y2="1018.3" stroke="#000" stroke-width="0.9"/>
<line x1="358.2" y1="1016.3" x2="358.2" y2="1018.3" stroke="#000" stroke-width="0.9"/>
<line x1="360.3" y1="1016.3" x2="360.3" y2="1018.3" stroke="#000" stroke-width="0.9"/>
<line x1="362.1" y1="1016.3" x2="362.1" y2="1018.3" stroke="#000" stroke-width="0.9"/>
<text x="328.5" y="1032.7" font-size="8.5" font-family="Liberation Serif" text-anchor="middle">10</text>
<text x="332.9" y="1028.9" font-size="5.1" font-family="Liberation Serif">3</text>
<line x1="363.8" y1="1016.3" x2="363.8" y2="1019.3" stroke="#000" stroke-width="1.3"/>
<text x="364.8" y="1032.7" font-size="8.5" font-family="Liberation Serif" text-anchor="middle">10</text>
<text x="369.2" y="1028.9" font-size="5.1" font-family="Liberation Serif">4</text>
<line x1="215.5" y1="1016.3" x2="218.5" y2="1016.3" stroke="#000" stroke-width="1.3"/>
<line x1="215.5" y1="988.2" x2="218.5" y2="988.2" stroke="#000" stroke-width="1.3"/>
<line x1="215.5" y1="960.2" x2="218.5" y2="960.2" stroke="#000" stroke-width="1.3"/>
<line x1="215.5" y1="932.1" x2="218.5" y2="932.1" stroke="#000" stroke-width="1.3"/>
<line x1="215.5" y1="904.1" x2="218.5" y2="904.1" stroke="#000" stroke-width="1.3"/>
<line x1="215.5" y1="876.0" x2="218.5" y2="876.0" stroke="#000" stroke-width="1.3"/>
<line x1="215.5" y1="1016.3" x2="218.5" y2="1016.3" stroke="#000" stroke-width="2"/>
<rect x="218.5" y="876.0" width="145.3" height="140.3" fill="none" stroke="#000" stroke-width="2"/>
<text x="119.3" y="232.7" font-size="21" font-family="Liberation Serif" font-weight="bold" text-anchor="middle" fill="#000" textLength="46.0" lengthAdjust="spacingAndGlyphs">CD34</text>
<text x="118.5" y="443.6" font-size="21" font-family="Liberation Serif" font-weight="bold" text-anchor="middle" fill="#000" textLength="46.0" lengthAdjust="spacingAndGlyphs">CD34</text>
<text x="17.4" y="115.4" font-size="21" font-family="Liberation Serif" font-weight="bold" text-anchor="middle" fill="#000" textLength="46.0" lengthAdjust="spacingAndGlyphs" transform="rotate(-90 17.4 115.4)">CD38</text>
<text x="16.6" y="327.2" font-size="21" font-family="Liberation Serif" font-weight="bold" text-anchor="middle" fill="#000" textLength="47.0" lengthAdjust="spacingAndGlyphs" transform="rotate(-90 16.6 327.2)">CD38</text>
<text x="337.6" y="231.7" font-size="20" font-family="Liberation Serif" font-weight="bold" text-anchor="middle" fill="#000" textLength="47.0" lengthAdjust="spacingAndGlyphs">Thy-1</text>
<text x="337.6" y="441.5" font-size="20" font-family="Liberation Serif" font-weight="bold" text-anchor="middle" fill="#000" textLength="47.0" lengthAdjust="spacingAndGlyphs">Thy-1</text>
<text x="236.2" y="113.2" font-size="19" font-family="Liberation Serif" font-weight="normal" text-anchor="middle" fill="#000" textLength="94.4" lengthAdjust="spacingAndGlyphs" transform="rotate(-90 236.2 113.2)">Cell number</text>
<text x="238.6" y="322.5" font-size="19" font-family="Liberation Serif" font-weight="normal" text-anchor="middle" fill="#000" textLength="95.5" lengthAdjust="spacingAndGlyphs" transform="rotate(-90 238.6 322.5)">Cell number</text>
<text x="106.2" y="682.5" font-size="19.4" font-family="Liberation Serif" font-weight="bold" text-anchor="middle" fill="#000" textLength="42.1" lengthAdjust="spacingAndGlyphs">CD34</text>
<text x="291.0" y="682.3" font-size="18" font-family="Liberation Serif" font-weight="bold" text-anchor="middle" fill="#000" textLength="43.7" lengthAdjust="spacingAndGlyphs">Thy-1</text>
<text x="106.2" y="867.0" font-size="19.4" font-family="Liberation Serif" font-weight="bold" text-anchor="middle" fill="#000" textLength="42.1" lengthAdjust="spacingAndGlyphs">CD34</text>
<text x="291.0" y="869.2" font-size="18" font-family="Liberation Serif" font-weight="bold" text-anchor="middle" fill="#000" textLength="43.7" lengthAdjust="spacingAndGlyphs">Thy-1</text>
<text x="106.2" y="1047.7" font-size="19.4" font-family="Liberation Serif" font-weight="bold" text-anchor="middle" fill="#000" textLength="42.1" lengthAdjust="spacingAndGlyphs">CD34</text>
<text x="285.4" y="1046.5" font-size="18" font-family="Liberation Serif" font-weight="bold" text-anchor="middle" fill="#000" textLength="43.7" lengthAdjust="spacingAndGlyphs">Thy-1</text>
<text x="15.2" y="589.6" font-size="19.4" font-family="Liberation Serif" font-weight="bold" text-anchor="middle" fill="#000" textLength="42.3" lengthAdjust="spacingAndGlyphs" transform="rotate(-90 15.2 589.6)">CD38</text>
<text x="206.1" y="589.0" font-size="17.5" font-family="Liberation Serif" font-weight="normal" text-anchor="middle" fill="#000" textLength="86.0" lengthAdjust="spacingAndGlyphs" transform="rotate(-90 206.1 589.0)">Cell number</text>
<text x="15.2" y="775.1" font-size="19.4" font-family="Liberation Serif" font-weight="bold" text-anchor="middle" fill="#000" textLength="42.3" lengthAdjust="spacingAndGlyphs" transform="rotate(-90 15.2 775.1)">CD38</text>
<text x="206.5" y="774.7" font-size="17.5" font-family="Liberation Serif" font-weight="normal" text-anchor="middle" fill="#000" textLength="86.0" lengthAdjust="spacingAndGlyphs" transform="rotate(-90 206.5 774.7)">Cell number</text>
<text x="15.2" y="954.6" font-size="19.4" font-family="Liberation Serif" font-weight="bold" text-anchor="middle" fill="#000" textLength="42.3" lengthAdjust="spacingAndGlyphs" transform="rotate(-90 15.2 954.6)">CD38</text>
<text x="206.5" y="954.4" font-size="17.5" font-family="Liberation Serif" font-weight="normal" text-anchor="middle" fill="#000" textLength="86.0" lengthAdjust="spacingAndGlyphs" transform="rotate(-90 206.5 954.4)">Cell number</text>
<text x="476.0" y="124.9" font-size="25" font-family="Liberation Serif" font-weight="bold" text-anchor="middle" fill="#000" textLength="83.6" lengthAdjust="spacingAndGlyphs">Normal</text>
<text x="474.5" y="155.2" font-size="25" font-family="Liberation Serif" font-weight="bold" text-anchor="middle" fill="#000" textLength="40.2" lengthAdjust="spacingAndGlyphs">BM</text>
<text x="472.6" y="337.1" font-size="25" font-family="Liberation Serif" font-weight="bold" text-anchor="middle" fill="#000" textLength="34.0" lengthAdjust="spacingAndGlyphs">5q-</text>
<text x="430.0" y="567.5" font-size="22" font-family="Liberation Serif" font-weight="bold" text-anchor="middle" fill="#000" textLength="24.6" lengthAdjust="spacingAndGlyphs">+8</text>
<text x="449.8" y="594.0" font-size="22" font-family="Liberation Serif" font-weight="bold" text-anchor="middle" fill="#000" textLength="132.0" lengthAdjust="spacingAndGlyphs">patient no.&#8201;11</text>
<text x="432.5" y="753.3" font-size="22" font-family="Liberation Serif" font-weight="bold" text-anchor="middle" fill="#000" textLength="24.6" lengthAdjust="spacingAndGlyphs">+8</text>
<text x="451.8" y="780.7" font-size="22" font-family="Liberation Serif" font-weight="bold" text-anchor="middle" fill="#000" textLength="132.0" lengthAdjust="spacingAndGlyphs">patient no.&#8201;12</text>
<text x="432.5" y="932.7" font-size="22" font-family="Liberation Serif" font-weight="bold" text-anchor="middle" fill="#000" textLength="24.6" lengthAdjust="spacingAndGlyphs">+8</text>
<text x="446.0" y="959.2" font-size="22" font-family="Liberation Serif" font-weight="bold" text-anchor="middle" fill="#000" textLength="132.0" lengthAdjust="spacingAndGlyphs">patient no.&#8201;10</text>
</svg>
</body></html>
